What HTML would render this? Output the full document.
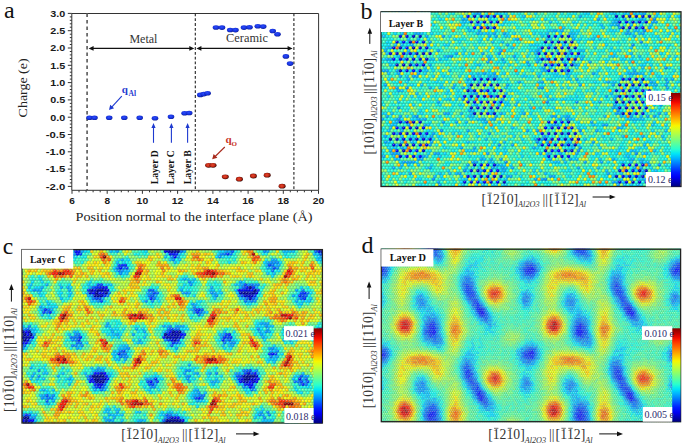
<!DOCTYPE html>
<html><head><meta charset="utf-8"><style>
html,body{margin:0;padding:0;background:#fff;width:685px;height:446px;overflow:hidden}
svg{display:block}
</style></head><body>
<svg width="685" height="446" viewBox="0 0 685 446">
<text x="4" y="18.4" font-family="Liberation Serif" font-size="24" fill="#111">a</text>
<g stroke="#333" stroke-width="1" fill="none">
<path d="M71.8 13.5H318.6V190.3H71.8Z"/>
<path d="M67.8 13.4H71.8 M69.8 16.9H71.8 M69.8 20.3H71.8 M69.8 23.8H71.8 M69.8 27.2H71.8 M67.8 30.7H71.8 M69.8 34.2H71.8 M69.8 37.6H71.8 M69.8 41.1H71.8 M69.8 44.5H71.8 M67.8 48.0H71.8 M69.8 51.5H71.8 M69.8 54.9H71.8 M69.8 58.4H71.8 M69.8 61.8H71.8 M67.8 65.3H71.8 M69.8 68.8H71.8 M69.8 72.2H71.8 M69.8 75.7H71.8 M69.8 79.1H71.8 M67.8 82.6H71.8 M69.8 86.1H71.8 M69.8 89.5H71.8 M69.8 93.0H71.8 M69.8 96.4H71.8 M67.8 99.9H71.8 M69.8 103.4H71.8 M69.8 106.8H71.8 M69.8 110.3H71.8 M69.8 113.7H71.8 M67.8 117.2H71.8 M69.8 120.7H71.8 M69.8 124.1H71.8 M69.8 127.6H71.8 M69.8 131.0H71.8 M67.8 134.5H71.8 M69.8 138.0H71.8 M69.8 141.4H71.8 M69.8 144.9H71.8 M69.8 148.3H71.8 M67.8 151.8H71.8 M69.8 155.3H71.8 M69.8 158.7H71.8 M69.8 162.2H71.8 M69.8 165.6H71.8 M67.8 169.1H71.8 M69.8 172.6H71.8 M69.8 176.0H71.8 M69.8 179.5H71.8 M69.8 182.9H71.8 M67.8 186.4H71.8"/>
<path d="M72.0 190.3V193.8 M79.0 190.3V192.3 M86.1 190.3V192.3 M93.1 190.3V192.3 M100.2 190.3V192.3 M107.2 190.3V193.8 M114.3 190.3V192.3 M121.3 190.3V192.3 M128.3 190.3V192.3 M135.4 190.3V192.3 M142.4 190.3V193.8 M149.5 190.3V192.3 M156.5 190.3V192.3 M163.6 190.3V192.3 M170.6 190.3V192.3 M177.6 190.3V193.8 M184.7 190.3V192.3 M191.7 190.3V192.3 M198.8 190.3V192.3 M205.8 190.3V192.3 M212.9 190.3V193.8 M219.9 190.3V192.3 M226.9 190.3V192.3 M234.0 190.3V192.3 M241.0 190.3V192.3 M248.1 190.3V193.8 M255.1 190.3V192.3 M262.2 190.3V192.3 M269.2 190.3V192.3 M276.2 190.3V192.3 M283.3 190.3V193.8 M290.3 190.3V192.3 M297.4 190.3V192.3 M304.4 190.3V192.3 M311.5 190.3V192.3 M318.5 190.3V193.8"/>
</g>
<g font-family="Liberation Sans" font-weight="bold" font-size="9.4" fill="#1a1a1a">
<text x="50.3" y="16.7" textLength="15" lengthAdjust="spacingAndGlyphs">3.0</text>
<text x="50.3" y="34.0" textLength="15" lengthAdjust="spacingAndGlyphs">2.5</text>
<text x="50.3" y="51.3" textLength="15" lengthAdjust="spacingAndGlyphs">2.0</text>
<text x="50.3" y="68.6" textLength="15" lengthAdjust="spacingAndGlyphs">1.5</text>
<text x="50.3" y="85.9" textLength="15" lengthAdjust="spacingAndGlyphs">1.0</text>
<text x="50.3" y="103.2" textLength="15" lengthAdjust="spacingAndGlyphs">0.5</text>
<text x="50.3" y="120.5" textLength="15" lengthAdjust="spacingAndGlyphs">0.0</text>
<text x="45.8" y="137.8" textLength="19.5" lengthAdjust="spacingAndGlyphs">-0.5</text>
<text x="45.8" y="155.1" textLength="19.5" lengthAdjust="spacingAndGlyphs">-1.0</text>
<text x="45.8" y="172.4" textLength="19.5" lengthAdjust="spacingAndGlyphs">-1.5</text>
<text x="45.8" y="189.7" textLength="19.5" lengthAdjust="spacingAndGlyphs">-2.0</text>
</g>
<g font-family="Liberation Sans" font-weight="bold" font-size="9.4" fill="#1a1a1a">
<text x="69.2" y="204" textLength="5.6" lengthAdjust="spacingAndGlyphs">6</text>
<text x="104.4" y="204" textLength="5.6" lengthAdjust="spacingAndGlyphs">8</text>
<text x="136.6" y="204" textLength="11.6" lengthAdjust="spacingAndGlyphs">10</text>
<text x="171.8" y="204" textLength="11.6" lengthAdjust="spacingAndGlyphs">12</text>
<text x="207.1" y="204" textLength="11.6" lengthAdjust="spacingAndGlyphs">14</text>
<text x="242.3" y="204" textLength="11.6" lengthAdjust="spacingAndGlyphs">16</text>
<text x="277.5" y="204" textLength="11.6" lengthAdjust="spacingAndGlyphs">18</text>
<text x="312.7" y="204" textLength="11.6" lengthAdjust="spacingAndGlyphs">20</text>
</g>
<text x="75.5" y="220.6" font-family="Liberation Serif" font-size="12" fill="#222" textLength="237" lengthAdjust="spacingAndGlyphs">Position normal to the interface plane (&#197;)</text>
<text transform="translate(26.6 117.4) rotate(-90)" font-family="Liberation Serif" font-size="12.5" fill="#222" textLength="59" lengthAdjust="spacingAndGlyphs">Charge (e)</text>
<path d="M87.1 13.5V190" stroke="#6a6a6a" stroke-width="1.8" stroke-dasharray="3.6 2.9"/>
<path d="M195.3 13.5V190M293.9 13.5V190" stroke="#222" stroke-width="1.1" stroke-dasharray="2.8 2"/>
<path d="M92.6 48.4H190.3" stroke="#111" stroke-width="1.2"/><path d="M88.6 48.4l5 -2.3v4.6z M194.3 48.4l-5 -2.3v4.6z" fill="#111"/>
<path d="M200.4 48.4H288.6" stroke="#111" stroke-width="1.2"/><path d="M196.4 48.4l5 -2.3v4.6z M292.6 48.4l-5 -2.3v4.6z" fill="#111"/>
<text x="129.4" y="42.8" font-family="Liberation Serif" font-size="12" fill="#333" textLength="28" lengthAdjust="spacingAndGlyphs">Metal</text>
<text x="226.1" y="41.5" font-family="Liberation Serif" font-size="12" fill="#333" textLength="41.8" lengthAdjust="spacingAndGlyphs">Ceramic</text>
<defs><radialGradient id="gb" cx="0.45" cy="0.4" r="0.6"><stop offset="0" stop-color="#2a4cff"/><stop offset="0.7" stop-color="#1530d8"/><stop offset="1" stop-color="#0a1a90"/></radialGradient><radialGradient id="shd" cx="0.4" cy="0.35" r="0.65"><stop offset="0" stop-color="#fff" stop-opacity="0.5"/><stop offset="0.45" stop-color="#fff" stop-opacity="0"/><stop offset="0.8" stop-color="#000" stop-opacity="0.08"/><stop offset="1" stop-color="#000" stop-opacity="0.28"/></radialGradient><radialGradient id="gr" cx="0.45" cy="0.45" r="0.6"><stop offset="0" stop-color="#e84a30"/><stop offset="0.55" stop-color="#c02814"/><stop offset="0.85" stop-color="#5a0c04"/><stop offset="1" stop-color="#1a0200"/></radialGradient></defs>
<ellipse cx="89.5" cy="117.8" rx="3.3" ry="2.3" fill="url(#gb)"/>
<ellipse cx="94.5" cy="117.8" rx="3.3" ry="2.3" fill="url(#gb)"/>
<ellipse cx="109.2" cy="117.8" rx="3.3" ry="2.3" fill="url(#gb)"/>
<ellipse cx="124.3" cy="117.8" rx="3.3" ry="2.3" fill="url(#gb)"/>
<ellipse cx="139.7" cy="117.8" rx="3.3" ry="2.3" fill="url(#gb)"/>
<ellipse cx="155" cy="118.3" rx="3.3" ry="2.3" fill="url(#gb)"/>
<ellipse cx="171" cy="116.8" rx="3.3" ry="2.3" fill="url(#gb)"/>
<ellipse cx="184.6" cy="113.2" rx="3.3" ry="2.3" fill="url(#gb)"/>
<ellipse cx="189.2" cy="113.0" rx="3.3" ry="2.3" fill="url(#gb)"/>
<ellipse cx="200.3" cy="94.9" rx="3.3" ry="2.3" fill="url(#gb)"/>
<ellipse cx="203.8" cy="94.1" rx="3.3" ry="2.3" fill="url(#gb)"/>
<ellipse cx="207.6" cy="93.2" rx="3.3" ry="2.3" fill="url(#gb)"/>
<ellipse cx="216" cy="27.5" rx="3.3" ry="2.3" fill="url(#gb)"/>
<ellipse cx="222" cy="27.6" rx="3.3" ry="2.3" fill="url(#gb)"/>
<ellipse cx="230.2" cy="30" rx="3.3" ry="2.3" fill="url(#gb)"/>
<ellipse cx="235.5" cy="30.1" rx="3.3" ry="2.3" fill="url(#gb)"/>
<ellipse cx="244" cy="27.6" rx="3.3" ry="2.3" fill="url(#gb)"/>
<ellipse cx="249.5" cy="27.3" rx="3.3" ry="2.3" fill="url(#gb)"/>
<ellipse cx="257.8" cy="26.2" rx="3.3" ry="2.3" fill="url(#gb)"/>
<ellipse cx="263.2" cy="26.6" rx="3.3" ry="2.3" fill="url(#gb)"/>
<ellipse cx="272.7" cy="31" rx="3.3" ry="2.3" fill="url(#gb)"/>
<ellipse cx="277.5" cy="34.3" rx="3.3" ry="2.3" fill="url(#gb)"/>
<ellipse cx="285.9" cy="56.4" rx="3.3" ry="2.3" fill="url(#gb)"/>
<ellipse cx="290.1" cy="63.6" rx="3.3" ry="2.3" fill="url(#gb)"/>
<ellipse cx="208.6" cy="165.3" rx="3.5" ry="2.4" fill="url(#gr)"/>
<ellipse cx="213" cy="165.3" rx="3.5" ry="2.4" fill="url(#gr)"/>
<ellipse cx="225.3" cy="176.8" rx="3.5" ry="2.4" fill="url(#gr)"/>
<ellipse cx="239.4" cy="179.2" rx="3.5" ry="2.4" fill="url(#gr)"/>
<ellipse cx="253.4" cy="176" rx="3.5" ry="2.4" fill="url(#gr)"/>
<ellipse cx="267.2" cy="175.2" rx="3.5" ry="2.4" fill="url(#gr)"/>
<ellipse cx="282.1" cy="186.2" rx="3.5" ry="2.4" fill="url(#gr)"/>
<text x="121.8" y="93.2" font-family="Liberation Serif" font-weight="bold" font-size="11" fill="#1e3ad0">q</text>
<text x="128.6" y="95.7" font-family="Liberation Serif" font-weight="bold" font-size="7.5" fill="#1e3ad0" textLength="7.5" lengthAdjust="spacingAndGlyphs">Al</text>
<path d="M121.8 96.2L111.5 107.3" stroke="#1e3ad0" stroke-width="1.1"/><path d="M109 110l1.2 -5.3l3.9 3.6z" fill="#1e3ad0"/>
<text x="225.4" y="143.2" font-family="Liberation Serif" font-weight="bold" font-size="11" fill="#c8341f">q</text>
<text x="231.6" y="145.8" font-family="Liberation Serif" font-weight="bold" font-size="7" fill="#c8341f">O</text>
<path d="M224.8 147L214.6 157" stroke="#a82a1c" stroke-width="1.1"/><path d="M212.2 159.3l1.4 -5.3l3.8 3.7z" fill="#a82a1c"/>
<path d="M153.5 142.8V127" stroke="#1e3ad0" stroke-width="1.1"/><path d="M153.5 123l-2.1 5h4.2z" fill="#1e3ad0"/>
<path d="M171.4 142.8V127" stroke="#1e3ad0" stroke-width="1.1"/><path d="M171.4 123l-2.1 5h4.2z" fill="#1e3ad0"/>
<path d="M187.6 142.8V127" stroke="#1e3ad0" stroke-width="1.1"/><path d="M187.6 123l-2.1 5h4.2z" fill="#1e3ad0"/>
<text transform="translate(157.8 184.3) rotate(-90)" font-family="Liberation Serif" font-weight="bold" font-size="10.5" fill="#111" textLength="34" lengthAdjust="spacingAndGlyphs">Layer D</text>
<text transform="translate(173.7 184.3) rotate(-90)" font-family="Liberation Serif" font-weight="bold" font-size="10.5" fill="#111" textLength="34" lengthAdjust="spacingAndGlyphs">Layer C</text>
<text transform="translate(190.6 184.3) rotate(-90)" font-family="Liberation Serif" font-weight="bold" font-size="10.5" fill="#111" textLength="34" lengthAdjust="spacingAndGlyphs">Layer B</text>
<defs><clipPath id="clipb"><rect x="381" y="11.200000000000001" width="300" height="175.89999999999998"/></clipPath></defs><rect x="381" y="11.8" width="300" height="174.7" fill="#4cb8a8"/><g clip-path="url(#clipb)"><g fill="none" stroke-linecap="round" stroke-width="3.24"><path stroke="#0000c8" d="M491.1 10.6h0m6.6 0h0m6.6 0h0m122.1 0h0m13.2 0h0m13.2 0h0m-178.2 5.7h0m26.4 0h0m115.5 0h0m6.6 0h0m6.6 0h0m6.6 0h0m13.2 0h0m-165 5.7h0m13.2 0h0m135.3 0h0m-145.2 5.7h0m6.6 0h0m128.7 0h0m-209.5 8.6h0m6.6 0h0m128.6 0h0m13.2 0h0m-151.7 5.7h0m135.3 0h0m13.1 0h0m6.6 0h0m6.6 0h0m-171.5 5.8h0m13.2 0h0m128.6 0h0m13.2 0h0m13.2 0h0m6.6 0h0m-178.2 5.7h0m19.9 0h0m6.6 0h0m6.6 0h0m115.5 0h0m13.1 0h0m6.6 0h0m-138.5 5.7h0m128.6 0h0m6.6 0h0m6.6 0h0m6.6 0h0m-178.2 5.7h0m6.7 0h0m6.6 0h0m148.4 0h0m13.2 0h0m-171.5 5.7h0m161.6 0h0m-74.2 8.6h0m6.6 0h0m141.9 0h0m6.6 0h0m-171.6 5.7h0m6.6 0h0m13.2 0h0m6.6 0h0m122.1 0h0m6.6 0h0m6.6 0h0m6.6 0h0m6.6 0h0m-178.2 5.7h0m13.2 0h0m13.2 0h0m6.6 0h0m115.5 0h0m13.2 0h0m-158.4 5.7h0m13.2 0h0m135.3 0h0m6.6 0h0m-9.9 5.8h0m6.6 0h0m6.6 0h0m19.8 0h0m-178.2 5.7h0m13.2 0h0m6.6 0h0m128.7 0h0m19.8 0h0m-165 5.7h0m6.6 0h0m13.2 0h0m128.7 0h0m6.6 0h0m-216.1 8.6h0m155 0h0m-151.7 5.7h0m148.4 0h0m-158.3 5.7h0m148.4 0h0m6.6 0h0m6.6 0h0m6.6 0h0m-184.8 5.7h0m6.6 0h0m19.9 0h0m148.4 0h0m13.2 0h0m-178.1 5.7h0m155 0h0m19.8 0h0m-171.5 5.7h0m19.8 0h0m122.1 0h0m19.7 0h0m6.6 0h0m-171.5 5.8h0m74.2 8.5h0m3.3 5.7h0m161.7 0h0m6.6 0h0m-165 5.8h0m6.6 0h0m6.6 0h0m6.6 0h0m115.5 0h0m13.2 0h0m13.2 0h0m6.6 0h0m-145.2 5.7h0m128.7 0h0m-165 5.7h0m13.2 0h0m6.6 0h0m128.7 0h0m6.6 0h0m26.4 0h0"/><path stroke="#0000e5" d="M464.7 10.6h0m19.8 0h0m148.5 0h0m13.2 0h0m-165 5.7h0m6.6 0h0m6.6 0h0m148.5 0h0m-171.6 5.7h0m6.6 0h0m13.2 0h0m128.7 0h0m19.8 0h0m6.6 0h0m-165 5.7h0m148.5 0h0m6.6 0h0m6.6 0h0m-242.5 8.6h0m6.6 0h0m148.4 0h0m13.2 0h0m-171.6 5.7h0m26.5 0h0m128.6 0h0m-158.3 5.8h0m26.4 0h0m6.6 0h0m122 0h0m-158.4 5.7h0m13.3 0h0m6.6 0h0m128.7 0h0m13.1 0h0m26.4 0h0m-171.5 5.7h0m6.6 0h0m6.6 0h0m122 0h0m6.6 0h0m-131.9 5.7h0m6.6 0h0m141.8 0h0m-158.3 5.7h0m13.2 0h0m128.6 0h0m6.6 0h0m13.2 0h0m-94 8.6h0m6.6 0h0m141.9 0h0m6.6 0h0m-145.2 5.7h0m-9.9 5.7h0m174.9 0h0m-184.8 5.7h0m33 0h0m6.6 0h0m128.7 0h0m6.6 0h0m6.6 0h0m6.6 0h0m-184.8 5.8h0m19.8 0h0m155.1 0h0m-165 5.7h0m19.8 0h0m128.7 0h0m6.6 0h0m13.2 0h0m-9.9 5.7h0m6.6 0h0m-242.5 8.6h0m6.6 0h0m13.2 0h0m128.6 0h0m6.6 0h0m-151.7 5.7h0m6.6 0h0m141.8 0h0m6.6 0h0m13.2 0h0m-178.1 5.7h0m6.6 0h0m19.8 0h0m-16.5 5.7h0m6.6 0h0m13.2 0h0m6.6 0h0m108.9 0h0m6.6 0h0m6.5 0h0m19.8 0h0m-178.1 5.7h0m13.2 0h0m6.6 0h0m6.6 0h0m6.6 0h0m115.4 0h0m19.8 0h0m6.6 0h0m-158.3 5.7h0m3.3 5.8h0m135.2 0h0m6.6 0h0m6.6 0h0m-80.8 8.5h0m13.2 0h0m128.7 0h0m19.8 0h0m-171.6 5.7h0m13.2 0h0m135.3 0h0m6.6 0h0m6.6 0h0m-165 5.8h0m6.6 0h0m148.5 0h0m13.2 0h0m-171.6 5.7h0m6.6 0h0m19.8 0h0m128.7 0h0m6.6 0h0m13.2 0h0m6.6 0h0m6.6 0h0m-178.2 5.7h0m19.8 0h0m6.6 0h0m128.7 0h0m6.6 0h0m6.6 0h0"/><path stroke="#0000ff" d="M471.3 10.6h0m6.6 0h0m141.9 0h0m-151.8 5.7h0m158.4 5.7h0m-151.8 5.7h0m-70.9 14.3h0m13.2 0h0m-9.9 5.8h0m155 0h0m9.9 5.7h0m-178.1 5.7h0m6.6 0h0m145.2 5.7h0m6.5 0h0m-138.5 5.7h0m74.2 20h0m135.3 0h0m13.2 0h0m6.6 0h0m-165 5.7h0m13.2 0h0m-16.5 5.8h0m6.6 0h0m13.2 0h0m6.6 0h0m135.3 0h0m-148.5 11.4h0m74.2 8.6h0m-165 5.7h0m26.5 0h0m122.1 0h0m-132 5.7h0m13.2 0h0m115.4 0h0m6.6 0h0m9.9 5.7h0m-9.9 5.7h0m-151.8 5.7h0m19.9 0h0m135.2 0h0m6.6 0h0m-151.7 5.8h0m13.2 0h0m148.4 0h0m-80.8 8.5h0m141.9 0h0m6.6 0h0m-145.2 5.7h0m6.6 0h0m-19.8 11.5h0m6.6 0h0m13.2 0h0"/><path stroke="#008cff" d="M415.2 10.6h0m239.2 8.6h0m-36.3 5.7h0m1.7 2.8h0m24.7 2.9h0m-3.3 11.4h0m-8.2 2.9h0m-133.6 8.6h0m-47.9 2.8h0m214.5 11.5h0m-259 20h0m135.2 0h0m125.4 5.7h0m-204.5 5.7h0m84.1 2.9h0m29.7 0h0m-178.2 5.7h0m219.4 2.8h0m-201.2 5.7h0m-18.2 2.9h0m168.3 0h0m-125.4 11.4h0m138.6 0h0m-42.9 11.5h0m-37.9 2.8h0m80.8 2.9h0m-1.7 2.8h0m57.8 2.9h0m-130.3 8.6h0m153.4 2.8h0m-194.7 5.7h0m-31.3 8.6h0m112.2 0h0"/><path stroke="#00a6ff" d="M583.5 10.6h0m29.7 0h0m46.2 0h0m-183.1 2.9h0m3.3 0h0m164.9 0h0m-160 2.8h0m23.1 0h0m72.6 0h0m-169.9 2.9h0m52.8 0h0m135.2 0h0m26.4 0h0m16.5 0h0m-249.1 2.8h0m6.6 0h0m217.8 0h0m36.3 0h0m3.3 0h0m-252.4 2.9h0m87.4 2.8h0m148.5 0h0m9.9 0h0m-255.7 2.9h0m85.8 0h0m75.8 0h0m6.6 0h0m66 0h0m-212.8 2.9h0m3.3 0h0m59.4 0h0m16.5 0h0m9.9 0h0m122.1 0h0m3.3 0h0m13.2 0h0m-216.1 2.8h0m16.5 0h0m46.2 0h0m6.6 0h0m138.5 0h0m-216.1 2.9h0m99 0h0m29.7 0h0m26.4 0h0m-143.5 2.8h0m-18.2 2.9h0m95.7 0h0m-117.2 2.9h0m-4.9 2.8h0m52.8 0h0m62.7 0h0m36.3 0h0m33 0h0m-163.3 2.9h0m49.5 0h0m26.4 0h0m-34.7 2.8h0m66 0h0m62.7 0h0m-189.7 2.9h0m3.2 0h0m13.3 0h0m85.8 0h0m13.2 0h0m36.3 0h0m6.6 0h0m36.2 0h0m-94 2.8h0m39.6 0h0m9.9 0h0m52.8 0h0m-160 2.9h0m99 0h0m46.1 0h0m-31.3 2.9h0m-160.1 2.8h0m3.4 0h0m9.8 0h0m148.6 0h0m19.7 0h0m69.3 0h0m-235.9 2.9h0m19.8 0h0m66 0h0m9.9 0h0m72.6 0h0m26.4 0h0m36.3 0h0m3.3 0h0m3.3 0h0m-235.9 2.8h0m13.2 0h0m3.3 0h0m56.1 0h0m16.5 0h0m6.6 0h0m42.9 0h0m-130.4 2.9h0m59.4 0h0m108.9 0h0m49.5 0h0m39.6 0h0m6.6 0h0m-193 2.8h0m39.6 0h0m23 0h0m66 0h0m33 0h0m9.9 0h0m16.5 0h0m-282.1 2.9h0m122.1 0h0m72.6 0h0m33 0h0m42.9 0h0m9.9 0h0m-269 2.9h0m33.1 0h0m23.1 0h0m9.9 0h0m6.6 0h0m69.3 0h0m128.6 0h0m-268.9 2.8h0m72.6 0h0m13.2 0h0m-8.2 2.9h0m18.1 2.8h0m112.2 0h0m9.9 0h0m13.2 0h0m-127 2.9h0m112.1 0h0m-176.5 2.9h0m161.7 0h0m52.8 0h0m3.3 0h0m-179.8 2.8h0m23.1 0h0m115.4 0h0m46.2 0h0m-47.8 2.9h0m-143.5 2.8h0m-24.8 2.9h0m3.3 0h0m42.9 0h0m9.9 0h0m23.1 0h0m92.4 0h0m3.3 0h0m39.6 0h0m-272.2 2.8h0m13.2 0h0m95.7 0h0m56 0h0m3.3 0h0m13.2 0h0m62.7 0h0m16.5 0h0m6.6 0h0m-272.2 2.9h0m36.3 0h0m6.6 0h0m59.4 0h0m9.9 0h0m66 0h0m-163.4 2.9h0m6.7 0h0m39.6 0h0m13.2 0h0m29.7 0h0m105.5 0h0m-183.1 2.8h0m16.5 0h0m128.7 0h0m3.3 0h0m46.2 0h0m3.3 0h0m11.5 2.9h0m-216.1 2.8h0m66 0h0m59.4 0h0m9.9 0h0m59.4 0h0m-199.7 2.9h0m36.4 0h0m56.1 0h0m-104 2.8h0m36.3 0h0m9.9 0h0m112.2 0h0m99 0h0m-107.2 2.9h0m6.5 0h0m-156.7 2.9h0m46.2 0h0m115.5 0h0m46.2 0h0m-196.4 2.8h0m33.1 0h0m82.5 0h0m52.7 0h0m-163.3 2.9h0m59.4 0h0m13.2 0h0m59.4 0h0m-143.6 2.8h0m178.2 0h0m-176.5 2.9h0m3.3 0h0m3.3 0h0m36.3 0h0m3.3 0h0m49.5 0h0m52.8 0h0m19.8 0h0m16.5 0h0m-193.1 2.9h0m39.7 0h0m-5 2.8h0m3.3 0h0m59.4 0h0m9.9 0h0m9.9 0h0m49.5 0h0m19.8 0h0m42.9 0h0m19.8 0h0m-229.3 2.9h0m3.3 0h0m3.3 0h0m3.3 0h0m59.4 0h0m3.3 0h0m108.8 0h0m16.5 0h0m39.6 0h0m-173.2 2.8h0m29.7 0h0m151.8 0h0m-255.7 2.9h0m36.3 0h0m62.7 0h0m9.9 0h0m9.9 0h0m65.9 0h0m56.1 0h0m6.6 0h0m-160 2.8h0m23.1 0h0m138.6 0h0m-232.6 2.9h0m49.5 0h0m148.4 0h0m36.3 0h0m-136.9 2.9h0m3.3 0h0m39.6 0h0m3.3 0h0m72.6 0h0m13.2 0h0m-103.9 2.8h0m6.5 0h0m102.3 0h0m13.2 0h0m-219.4 2.9h0m174.9 0h0m3.3 0h0m-176.5 2.8h0m178.1 0h0m19.8 0h0m19.8 0h0m-202.9 2.9h0m23.1 0h0m29.7 0h0m118.8 0h0"/><path stroke="#00bfff" d="M494.4 10.6h0m105.6 0h0m9.9 0h0m19.8 0h0m49.5 0h0m-292 2.9h0m108.9 0h0m118.7 0h0m9.9 0h0m9.9 0h0m6.6 0h0m-150.1 2.8h0m33 0h0m132 0h0m13.2 0h0m9.9 0h0m-212.8 2.9h0m23.1 0h0m16.5 0h0m108.8 0h0m3.3 0h0m26.4 0h0m-179.8 2.8h0m85.8 0h0m62.7 0h0m16.5 0h0m6.6 0h0m6.6 0h0m-166.6 2.9h0m3.3 0h0m122 0h0m9.9 0h0m3.3 0h0m16.5 0h0m19.8 0h0m-183.1 2.8h0m95.7 0h0m39.6 0h0m-202.9 2.9h0m16.5 0h0m52.8 0h0m82.4 0h0m82.5 0h0m3.3 0h0m-235.9 2.9h0m19.8 0h0m59.4 0h0m6.6 0h0m59.4 0h0m23.1 0h0m3.3 0h0m66 0h0m-255.8 2.8h0m122.2 0h0m36.2 0h0m29.7 0h0m-163.3 2.9h0m141.9 0h0m42.9 0h0m6.6 0h0m-107.2 2.8h0m9.9 0h0m-107.3 2.9h0m6.6 0h0m148.5 0h0m13.2 0h0m-176.5 2.9h0m125.4 0h0m26.4 0h0m92.3 0h0m-222.7 2.8h0m16.5 0h0m115.5 0h0m16.5 0h0m23.1 0h0m3.3 0h0m-196.3 2.9h0m26.4 0h0m122.1 0h0m32.9 0h0m62.7 0h0m-232.6 2.8h0m19.8 0h0m26.4 0h0m42.9 0h0m79.2 0h0m16.5 0h0m29.7 0h0m26.4 0h0m-209.5 2.9h0m3.3 0h0m6.6 0h0m64.3 2.8h0m59.4 0h0m9.9 0h0m-183.2 2.9h0m23.2 0h0m6.6 0h0m59.4 0h0m69.2 0h0m6.6 0h0m23.1 0h0m-153.4 2.9h0m125.4 0h0m16.5 0h0m75.9 0h0m-216.1 2.8h0m23.1 0h0m92.3 0h0m108.9 0h0m-262.3 2.9h0m89.1 0h0m161.7 0h0m3.3 0h0m-235.9 2.8h0m72.6 0h0m13.2 0h0m75.8 0h0m52.8 0h0m-130.3 2.9h0m6.6 0h0m151.8 0h0m-110.5 2.8h0m75.8 0h0m16.5 0h0m23.1 0h0m-232.6 2.9h0m33 0h0m13.2 0h0m184.8 0h0m-212.8 2.9h0m52.8 0h0m13.2 0h0m125.3 0h0m3.3 0h0m3.3 0h0m-235.9 2.8h0m244.2 0h0m9.9 0h0m-239.2 2.9h0m56.1 0h0m16.5 0h0m16.5 0h0m105.5 0h0m-64.3 2.8h0m-97.3 2.9h0m19.8 0h0m82.4 0h0m69.3 0h0m19.8 0h0m26.4 0h0m9.9 0h0m-278.8 2.9h0m118.8 0h0m141.9 0h0m13.2 0h0m-156.7 2.8h0m108.8 0h0m49.5 0h0m-143.5 2.9h0m9.9 0h0m75.9 0h0m-143.5 2.8h0m19.8 0h0m158.3 0h0m-259 2.9h0m69.3 0h0m9.9 0h0m161.7 0h0m33 0h0m-252.4 2.8h0m56.1 0h0m3.3 0h0m92.3 0h0m39.6 0h0m16.5 0h0m19.8 0h0m-245.8 2.9h0m26.4 0h0m56.1 0h0m3.3 0h0m9.9 0h0m79.2 0h0m59.4 0h0m3.3 0h0m3.3 0h0m3.3 0h0m3.3 0h0m-176.5 2.9h0m-74.3 2.8h0m3.3 0h0m33 0h0m122.1 0h0m42.9 0h0m29.7 0h0m29.7 0h0m29.7 0h0m-292.1 2.9h0m10 0h0m112.2 0h0m65.9 0h0m42.9 0h0m-232.6 2.8h0m277.2 0h0m-100.7 2.9h0m-163.3 2.8h0m23.1 0h0m122.1 0h0m75.9 0h0m39.6 0h0m-249.1 2.9h0m13.2 0h0m59.4 0h0m98.9 0h0m26.4 0h0m-222.7 2.9h0m13.2 0h0m9.9 0h0m56.1 0h0m36.3 0h0m62.7 0h0m3.3 0h0m-31.3 2.8h0m32.9 0h0m72.6 0h0m-249.1 2.9h0m178.2 0h0m-100.6 2.8h0m82.4 0h0m75.9 0h0m3.3 0h0m19.8 0h0m-107.2 2.9h0m3.3 0h0m95.7 0h0m29.7 0h0m-282.1 2.9h0m23.1 0h0m9.9 0h0m13.2 0h0m188 0h0m-232.6 2.8h0m3.3 0h0m85.8 0h0m92.4 0h0m23.1 0h0m29.7 0h0m13.2 0h0m-153.4 2.9h0m3.3 0h0m62.6 0h0m3.3 0h0m6.6 0h0m66 0h0m16.5 0h0m-245.8 2.8h0m6.6 0h0m9.9 0h0m82.5 0h0m-100.6 2.9h0m66 0h0m13.2 0h0m16.5 0h0m9.9 0h0m92.3 0h0m72.6 0h0m-169.9 2.8h0m105.6 0h0m49.5 0h0m-216.1 2.9h0m9.9 0h0m6.6 0h0m23.1 0h0m9.9 0h0m56.1 0h0m75.8 0h0m29.7 0h0m3.3 0h0m-219.4 2.9h0m26.4 0h0m9.9 0h0m141.9 0h0m19.8 0h0m26.4 0h0m-193 2.8h0m33 0h0m6.6 0h0m115.4 0h0m9.9 0h0m9.9 0h0m13.2 0h0m-173.2 2.9h0m141.9 0h0m52.8 0h0m-212.8 2.8h0m19.8 0h0m23.1 0h0m118.7 0h0m6.6 0h0m-18.1 2.9h0m33 0h0m9.9 0h0"/><path stroke="#00d9ff" d="M398.7 10.6h0m23.1 0h0m99 0h0m26.4 0h0m13.2 0h0m3.3 0h0m3.3 0h0m19.8 0h0m9.9 0h0m-212.9 2.9h0m89.2 0h0m26.4 0h0m6.6 0h0m29.7 0h0m49.4 0h0m3.3 0h0m23.1 0h0m16.5 0h0m9.9 0h0m19.8 0h0m-275.5 2.8h0m16.5 0h0m62.7 0h0m145.2 0h0m75.9 0h0m-288.7 2.9h0m46.2 0h0m92.4 0h0m13.2 0h0m92.3 0h0m29.7 0h0m-239.2 2.8h0m33 0h0m6.6 0h0m13.2 0h0m23.1 0h0m69.3 0h0m-146.8 2.9h0m6.6 0h0m29.7 0h0m39.6 0h0m138.5 0h0m-245.8 2.8h0m273.9 0h0m-282.1 2.9h0m16.5 0h0m9.9 0h0m16.5 0h0m42.9 0h0m23.1 0h0m52.7 0h0m9.9 0h0m13.2 0h0m6.6 0h0m33 0h0m3.3 0h0m59.4 0h0m-278.8 2.9h0m36.3 0h0m52.8 0h0m6.6 0h0m16.5 0h0m6.6 0h0m19.8 0h0m6.6 0h0m19.8 0h0m16.5 0h0m56.1 0h0m36.3 0h0m-219.4 2.8h0m59.4 0h0m65.9 0h0m19.8 0h0m49.5 0h0m13.2 0h0m-229.3 2.9h0m26.4 0h0m26.4 0h0m6.6 0h0m26.4 0h0m66 0h0m9.9 0h0m69.3 0h0m-272.2 2.8h0m13.2 0h0m6.6 0h0m52.8 0h0m19.8 0h0m82.4 0h0m16.5 0h0m39.6 0h0m-229.3 2.9h0m19.8 0h0m19.8 0h0m16.5 0h0m3.3 0h0m82.5 0h0m3.3 0h0m3.3 0h0m69.3 0h0m39.6 0h0m23.1 0h0m-265.6 2.9h0m26.4 0h0m69.3 0h0m52.7 0h0m42.9 0h0m16.5 0h0m56.1 0h0m-202.9 2.8h0m66 0h0m3.3 0h0m85.8 0h0m-156.7 2.9h0m151.7 0h0m46.2 0h0m-249.1 2.8h0m79.2 0h0m36.3 0h0m9.9 0h0m42.9 0h0m29.7 0h0m6.6 0h0m16.5 0h0m36.3 0h0m6.6 0h0m-292.1 2.9h0m62.8 0h0m69.3 0h0m19.8 0h0m85.7 0h0m3.3 0h0m6.6 0h0m9.9 0h0m-252.4 2.8h0m23.1 0h0m9.9 0h0m75.9 0h0m69.3 0h0m39.6 0h0m6.6 0h0m16.5 0h0m16.5 0h0m-252.4 2.9h0m82.5 0h0m33 0h0m131.9 0h0m3.3 0h0m6.6 0h0m-219.4 2.9h0m29.7 0h0m39.6 0h0m39.6 0h0m36.3 0h0m49.5 0h0m6.6 0h0m36.3 0h0m-265.6 2.8h0m6.6 0h0m6.6 0h0m6.6 0h0m9.9 0h0m56.1 0h0m42.9 0h0m39.5 0h0m26.4 0h0m29.7 0h0m46.2 0h0m6.6 0h0m-255.7 2.9h0m46.2 0h0m9.9 0h0m6.6 0h0m3.3 0h0m13.2 0h0m13.2 0h0m23.1 0h0m13.2 0h0m3.3 0h0m13.2 0h0m26.4 0h0m29.7 0h0m-193 2.8h0m9.9 0h0m16.5 0h0m62.7 0h0m3.3 0h0m29.6 0h0m3.3 0h0m3.3 0h0m69.3 0h0m13.2 0h0m13.2 0h0m3.3 0h0m-272.2 2.9h0m39.6 0h0m42.9 0h0m29.7 0h0m6.6 0h0m39.6 0h0m3.3 0h0m16.5 0h0m3.3 0h0m49.5 0h0m39.6 0h0m23.1 0h0m-275.5 2.8h0m29.7 0h0m29.7 0h0m3.3 0h0m108.8 0h0m16.5 0h0m9.9 0h0m6.6 0h0m66 0h0m3.3 0h0m-268.9 2.9h0m29.7 0h0m207.9 0h0m-206.2 2.9h0m118.7 0h0m6.6 0h0m39.6 0h0m16.5 0h0m29.7 0h0m19.8 0h0m-226 2.8h0m9.9 0h0m52.8 0h0m82.5 0h0m19.8 0h0m6.6 0h0m46.2 0h0m-219.4 2.9h0m23.1 0h0m174.8 0h0m3.3 0h0m-259 2.8h0m23.1 0h0m6.6 0h0m39.6 0h0m3.3 0h0m115.5 0h0m36.3 0h0m42.9 0h0m16.5 0h0m3.3 0h0m-255.7 2.9h0m26.4 0h0m9.9 0h0m75.9 0h0m16.4 0h0m6.6 0h0m6.6 0h0m3.3 0h0m6.6 0h0m79.2 0h0m6.6 0h0m-160 2.9h0m6.6 0h0m3.3 0h0m85.8 0h0m-179.8 2.8h0m26.4 0h0m19.8 0h0m13.2 0h0m33 0h0m3.3 0h0m39.5 0h0m69.3 0h0m26.4 0h0m9.9 0h0m-100.6 2.9h0m19.8 0h0m23.1 0h0m62.7 0h0m-239.2 2.8h0m62.7 0h0m39.6 0h0m98.9 0h0m23.1 0h0m9.9 0h0m-272.2 2.9h0m3.3 0h0m36.3 0h0m82.5 0h0m16.5 0h0m9.9 0h0m-123.7 2.8h0m33 0h0m122 0h0m62.7 0h0m33 0h0m-255.7 2.9h0m9.9 0h0m3.3 0h0m56.1 0h0m46.2 0h0m39.6 0h0m16.5 0h0m52.8 0h0m-232.6 2.9h0m36.3 0h0m52.8 0h0m16.5 0h0m79.1 0h0m56.1 0h0m19.8 0h0m-94 2.8h0m36.3 0h0m46.2 0h0m23.1 0h0m-183.1 2.9h0m9.9 0h0m56 0h0m36.3 0h0m-156.7 2.8h0m171.6 0h0m52.8 0h0m-229.3 2.9h0m29.7 0h0m6.6 0h0m122 0h0m-169.9 2.8h0m26.4 0h0m39.6 0h0m36.3 0h0m52.8 0h0m36.3 0h0m75.9 0h0m-278.8 2.9h0m19.8 0h0m13.2 0h0m6.6 0h0m82.5 0h0m26.3 0h0m13.2 0h0m6.6 0h0m95.7 0h0m-249.1 2.9h0m79.2 0h0m46.2 0h0m105.6 0h0m3.3 0h0m-262.3 2.8h0m191.3 0h0m13.2 0h0m6.6 0h0m-209.5 2.9h0m3.3 0h0m13.2 0h0m39.6 0h0m52.8 0h0m6.6 0h0m33 0h0m33 0h0m29.7 0h0m19.8 0h0m19.8 0h0m6.6 0h0m-232.6 2.8h0m16.5 0h0m36.3 0h0m3.3 0h0m6.6 0h0m29.7 0h0m105.5 0h0m6.6 0h0m19.8 0h0m-255.7 2.9h0m46.2 0h0m16.5 0h0m59.4 0h0m92.4 0h0m19.8 0h0m9.9 0h0m3.3 0h0m13.2 0h0m-239.2 2.9h0m66 0h0m13.2 0h0m39.6 0h0m23.1 0h0m29.6 0h0m49.5 0h0m-77.5 2.8h0m16.5 0h0m9.9 0h0m42.9 0h0m23.1 0h0m-239.2 2.9h0m16.5 0h0m135.2 0h0m56.1 0h0m13.2 0h0m3.3 0h0m19.8 0h0m36.3 0h0m-249.1 2.8h0m72.6 0h0m6.6 0h0m155.1 0h0m9.9 0h0m-249.1 2.9h0m46.2 0h0m145.1 0h0m33 0h0m23.1 0h0m-226 2.8h0m19.8 0h0m66 0h0m6.6 0h0m29.7 0h0m66 0h0m16.5 0h0m23.1 0h0m-275.5 2.9h0m102.3 0h0m13.2 0h0m79.1 0h0m19.8 0h0m52.8 0h0m-226 2.9h0m79.2 0h0m49.5 0h0m36.3 0h0m62.7 0h0m-252.4 2.8h0m3.3 0h0m23.1 0h0m19.8 0h0m9.9 0h0m6.6 0h0m9.9 0h0m128.6 0h0m19.8 0h0m26.4 0h0m6.6 0h0m-209.5 2.9h0m188.1 0h0m29.7 0h0m-259 2.8h0m72.6 0h0m3.3 0h0m6.6 0h0m19.8 0h0m79.1 0h0m39.6 0h0m-212.8 2.9h0m33 0h0m52.8 0h0m26.4 0h0m62.7 0h0m16.5 0h0"/><path stroke="#0af2ec" d="M382.2 10.6h0m13.2 0h0m9.9 0h0m33 0h0m9.9 0h0m19.8 0h0m13.2 0h0m29.7 0h0m3.3 0h0m9.9 0h0m29.7 0h0m3.3 0h0m16.5 0h0m3.3 0h0m13.2 0h0m79.2 0h0m-268.9 2.9h0m6.6 0h0m23.1 0h0m23.1 0h0m49.5 0h0m9.9 0h0m6.6 0h0m36.2 0h0m6.6 0h0m6.6 0h0m3.3 0h0m3.3 0h0m6.6 0h0m36.3 0h0m-232.6 2.8h0m29.7 0h0m9.9 0h0m13.2 0h0m9.9 0h0m72.6 0h0m33 0h0m13.2 0h0m3.3 0h0m13.2 0h0m3.3 0h0m3.3 0h0m9.9 0h0m59.4 0h0m16.5 0h0m-288.7 2.9h0m9.8 0h0m10 0h0m16.5 0h0m3.3 0h0m6.6 0h0m9.9 0h0m49.5 0h0m3.3 0h0m26.4 0h0m32.9 0h0m23.1 0h0m13.2 0h0m16.5 0h0m3.3 0h0m9.9 0h0m9.9 0h0m49.5 0h0m-265.6 2.8h0m6.6 0h0m29.7 0h0m42.9 0h0m13.2 0h0m3.3 0h0m3.3 0h0m42.9 0h0m19.8 0h0m9.9 0h0m6.6 0h0m3.3 0h0m85.8 0h0m-288.7 2.9h0m23.1 0h0m69.3 0h0m23.1 0h0m19.8 0h0m9.9 0h0m19.7 0h0m23.1 0h0m6.6 0h0m3.3 0h0m6.6 0h0m9.9 0h0m16.5 0h0m-226 2.8h0m3.3 0h0m6.6 0h0m13.2 0h0m23.1 0h0m13.2 0h0m3.3 0h0m56.1 0h0m69.3 0h0m23.1 0h0m69.3 0h0m-295.4 2.9h0m125.5 0h0m26.4 0h0m39.5 0h0m33 0h0m9.9 0h0m23.1 0h0m23.1 0h0m-282.1 2.9h0m3.3 0h0m39.6 0h0m13.2 0h0m36.3 0h0m69.3 0h0m69.3 0h0m9.9 0h0m29.7 0h0m23.1 0h0m6.6 0h0m-295.3 2.8h0m23.1 0h0m69.3 0h0m23.1 0h0m19.8 0h0m6.6 0h0m16.5 0h0m6.5 0h0m6.6 0h0m23.1 0h0m33 0h0m13.2 0h0m3.3 0h0m19.8 0h0m3.3 0h0m13.2 0h0m-278.8 2.9h0m3.3 0h0m66 0h0m3.3 0h0m3.3 0h0m29.7 0h0m82.5 0h0m9.9 0h0m19.8 0h0m16.5 0h0m23.1 0h0m29.7 0h0m-285.5 2.8h0m29.8 0h0m29.7 0h0m49.5 0h0m13.2 0h0m6.6 0h0m23 0h0m42.9 0h0m9.9 0h0m9.9 0h0m6.6 0h0m13.2 0h0m29.7 0h0m23.1 0h0m-295.3 2.9h0m3.3 0h0m19.8 0h0m29.7 0h0m39.6 0h0m66 0h0m3.3 0h0m3.3 0h0m19.8 0h0m52.8 0h0m23.1 0h0m16.5 0h0m-275.6 2.9h0m79.3 0h0m13.2 0h0m13.2 0h0m6.6 0h0m13.2 0h0m19.8 0h0m3.3 0h0m3.3 0h0m69.2 0h0m39.6 0h0m3.3 0h0m6.6 0h0m3.3 0h0m-235.9 2.8h0m19.8 0h0m46.2 0h0m19.8 0h0m3.3 0h0m66 0h0m23.1 0h0m3.3 0h0m6.6 0h0m3.3 0h0m3.3 0h0m-163.3 2.9h0m16.5 0h0m26.4 0h0m19.8 0h0m13.2 0h0m52.7 0h0m9.9 0h0m56.1 0h0m-252.4 2.8h0m59.4 0h0m9.9 0h0m3.3 0h0m13.2 0h0m16.5 0h0m9.9 0h0m9.9 0h0m36.3 0h0m16.5 0h0m3.3 0h0m26.4 0h0m-203 2.9h0m46.3 0h0m49.5 0h0m72.5 0h0m23.1 0h0m9.9 0h0m6.6 0h0m3.3 0h0m26.4 0h0m16.5 0h0m16.5 0h0m6.6 0h0m-292 2.8h0m9.9 0h0m3.3 0h0m3.3 0h0m33 0h0m3.3 0h0m6.6 0h0m16.5 0h0m6.6 0h0m9.9 0h0m26.4 0h0m16.5 0h0m23.1 0h0m75.9 0h0m6.6 0h0m13.2 0h0m13.2 0h0m-202.9 2.9h0m3.3 0h0m46.2 0h0m6.6 0h0m19.8 0h0m3.3 0h0m112.1 0h0m19.8 0h0m-265.6 2.9h0m62.7 0h0m9.9 0h0m6.6 0h0m3.3 0h0m42.9 0h0m3.3 0h0m6.6 0h0m3.3 0h0m56.1 0h0m13.2 0h0m6.6 0h0m3.3 0h0m6.6 0h0m62.7 0h0m-288.8 2.8h0m49.6 0h0m23.1 0h0m145.1 0h0m6.6 0h0m26.4 0h0m3.3 0h0m-249.1 2.9h0m46.2 0h0m19.8 0h0m13.2 0h0m26.4 0h0m23.1 0h0m13.2 0h0m9.9 0h0m3.3 0h0m26.4 0h0m33 0h0m6.6 0h0m33 0h0m6.6 0h0m13.2 0h0m3.3 0h0m6.6 0h0m-288.8 2.8h0m56.2 0h0m3.3 0h0m16.5 0h0m9.9 0h0m52.8 0h0m3.3 0h0m19.7 0h0m13.2 0h0m9.9 0h0m23.1 0h0m69.3 0h0m3.3 0h0m-265.6 2.9h0m13.2 0h0m19.8 0h0m39.6 0h0m6.6 0h0m69.3 0h0m33 0h0m16.5 0h0m36.3 0h0m6.6 0h0m6.6 0h0m16.5 0h0m-275.5 2.8h0m3.2 0h0m29.8 0h0m6.6 0h0m6.6 0h0m3.3 0h0m6.6 0h0m23.1 0h0m26.4 0h0m16.5 0h0m6.6 0h0m39.5 0h0m9.9 0h0m19.8 0h0m6.6 0h0m19.8 0h0m-235.9 2.9h0m19.8 0h0m6.6 0h0m6.6 0h0m13.2 0h0m82.5 0h0m13.2 0h0m16.5 0h0m3.3 0h0m9.9 0h0m69.3 0h0m19.8 0h0m19.8 0h0m-278.9 2.9h0m36.4 0h0m13.2 0h0m23.1 0h0m33 0h0m19.8 0h0m82.4 0h0m3.3 0h0m-199.6 2.8h0m95.7 0h0m23.1 0h0m3.3 0h0m33 0h0m26.4 0h0m3.3 0h0m6.6 0h0m16.5 0h0m36.3 0h0m19.8 0h0m13.2 0h0m6.6 0h0m-285.4 2.9h0m3.2 0h0m26.5 0h0m13.2 0h0m13.2 0h0m6.6 0h0m3.3 0h0m33 0h0m26.4 0h0m19.8 0h0m6.6 0h0m3.2 0h0m26.4 0h0m6.6 0h0m13.2 0h0m6.6 0h0m75.9 0h0m-272.2 2.8h0m16.5 0h0m9.9 0h0m3.3 0h0m33 0h0m39.6 0h0m3.3 0h0m16.5 0h0m42.9 0h0m13.2 0h0m16.5 0h0m23.1 0h0m36.3 0h0m-262.4 2.9h0m6.7 0h0m33 0h0m6.6 0h0m29.7 0h0m6.6 0h0m39.6 0h0m9.9 0h0m39.5 0h0m6.6 0h0m3.3 0h0m3.3 0h0m9.9 0h0m16.5 0h0m26.4 0h0m13.2 0h0m13.2 0h0m-278.8 2.9h0m26.4 0h0m13.2 0h0m3.3 0h0m6.6 0h0m9.9 0h0m9.9 0h0m3.3 0h0m69.3 0h0m9.9 0h0m39.6 0h0m23.1 0h0m16.5 0h0m-229.4 2.8h0m10 0h0m9.9 0h0m33 0h0m16.5 0h0m9.9 0h0m16.5 0h0m49.5 0h0m56 0h0m36.3 0h0m-232.6 2.9h0m13.2 0h0m6.6 0h0m16.5 0h0m19.8 0h0m6.6 0h0m9.9 0h0m42.9 0h0m16.5 0h0m16.5 0h0m9.9 0h0m36.3 0h0m-193.1 2.8h0m16.6 0h0m42.9 0h0m39.6 0h0m19.8 0h0m23.1 0h0m23 0h0m3.3 0h0m26.4 0h0m19.8 0h0m6.6 0h0m49.5 0h0m-249.1 2.9h0m6.6 0h0m33 0h0m115.5 0h0m29.7 0h0m49.5 0h0m9.9 0h0m16.5 0h0m6.6 0h0m-288.8 2.8h0m56.2 0h0m3.3 0h0m16.5 0h0m49.5 0h0m3.3 0h0m13.2 0h0m3.3 0h0m56 0h0m89.1 0h0m-295.3 2.9h0m6.6 0h0m42.9 0h0m16.5 0h0m3.3 0h0m6.6 0h0m13.2 0h0m59.4 0h0m148.5 0h0m-295.3 2.9h0m145.2 0h0m32.9 0h0m33 0h0m3.3 0h0m23.1 0h0m19.8 0h0m-255.7 2.8h0m49.5 0h0m6.6 0h0m3.3 0h0m9.9 0h0m6.6 0h0m19.8 0h0m9.9 0h0m42.9 0h0m9.9 0h0m19.8 0h0m13.2 0h0m3.3 0h0m6.6 0h0m9.9 0h0m56.1 0h0m-272.3 2.9h0m49.6 0h0m46.2 0h0m19.8 0h0m3.3 0h0m13.2 0h0m19.8 0h0m46.1 0h0m16.5 0h0m3.3 0h0m23.1 0h0m13.2 0h0m19.8 0h0m3.3 0h0m6.6 0h0m6.6 0h0m6.6 0h0m-298.6 2.8h0m29.7 0h0m19.8 0h0m23.1 0h0m3.3 0h0m13.2 0h0m13.2 0h0m9.9 0h0m26.4 0h0m9.9 0h0m39.6 0h0m33 0h0m29.7 0h0m-202.9 2.9h0m6.6 0h0m29.7 0h0m9.9 0h0m33 0h0m3.3 0h0m26.4 0h0m72.5 0h0m6.6 0h0m13.2 0h0m6.6 0h0m19.8 0h0m13.2 0h0m-288.7 2.8h0m6.6 0h0m26.4 0h0m13.2 0h0m13.2 0h0m23.1 0h0m39.6 0h0m16.5 0h0m13.2 0h0m19.8 0h0m6.6 0h0m3.3 0h0m26.4 0h0m3.3 0h0m42.9 0h0m9.9 0h0m-262.4 2.9h0m3.4 0h0m66 0h0m39.6 0h0m3.3 0h0m13.2 0h0m23.1 0h0m65.9 0h0m6.6 0h0m19.8 0h0m6.6 0h0m-239.2 2.9h0m49.5 0h0m6.6 0h0m3.3 0h0m6.6 0h0m6.6 0h0m6.6 0h0m3.3 0h0m42.9 0h0m6.6 0h0m33 0h0m26.4 0h0m39.6 0h0m13.2 0h0m23.1 0h0m16.5 0h0m-285.5 2.8h0m46.3 0h0m6.6 0h0m16.5 0h0m26.4 0h0m6.6 0h0m13.2 0h0m46.1 0h0m69.3 0h0m46.2 0h0m-219.4 2.9h0m9.9 0h0m33 0h0m39.6 0h0m36.3 0h0m56.1 0h0m19.8 0h0m16.5 0h0m6.6 0h0m16.5 0h0m-298.7 2.8h0m43 0h0m26.4 0h0m33 0h0m9.9 0h0m3.3 0h0m3.3 0h0m13.2 0h0m6.6 0h0m13.2 0h0m3.3 0h0m46.1 0h0m6.6 0h0m13.2 0h0m9.9 0h0m9.9 0h0m33 0h0m6.6 0h0m3.3 0h0m3.3 0h0m6.6 0h0m3.3 0h0m-262.3 2.9h0m23.1 0h0m56.1 0h0m23.1 0h0m36.3 0h0m6.6 0h0m19.8 0h0m16.5 0h0m9.9 0h0m39.6 0h0m6.6 0h0m9.9 0h0m6.6 0h0m-239.2 2.9h0m3.3 0h0m9.9 0h0m3.3 0h0m26.4 0h0m3.3 0h0m49.5 0h0m62.6 0h0m3.3 0h0m3.3 0h0m13.2 0h0m3.3 0h0m16.5 0h0m3.3 0h0m36.3 0h0m-288.7 2.8h0m6.6 0h0m85.8 0h0m42.9 0h0m75.9 0h0m33 0h0m39.6 0h0m16.5 0h0m-259 2.9h0m23.1 0h0m3.3 0h0m9.9 0h0m23.1 0h0m49.5 0h0m59.3 0h0m-179.8 2.8h0m33 0h0m3.3 0h0m29.7 0h0m13.2 0h0m33 0h0m33 0h0m3.3 0h0m6.6 0h0m6.6 0h0m39.6 0h0m6.6 0h0m6.6 0h0m52.8 0h0m-288.8 2.9h0m43 0h0m19.8 0h0m33 0h0m13.2 0h0m36.3 0h0m13.1 0h0m19.8 0h0m16.5 0h0m6.6 0h0m39.6 0h0m36.3 0h0m-259 2.8h0m23.1 0h0m75.9 0h0m56.1 0h0m3.3 0h0m13.2 0h0m6.6 0h0m6.6 0h0m19.8 0h0m16.5 0h0m29.7 0h0m3.3 0h0m9.9 0h0m-268.9 2.9h0m33 0h0m6.6 0h0m26.4 0h0m36.3 0h0m29.7 0h0m13.1 0h0m29.7 0h0m6.6 0h0m19.8 0h0m36.3 0h0m23.1 0h0m9.9 0h0m-292 2.9h0m29.7 0h0m72.6 0h0m52.8 0h0m29.7 0h0m9.9 0h0m26.4 0h0m59.4 0h0m-278.9 2.8h0m6.6 0h0m16.6 0h0m19.8 0h0m13.2 0h0m13.2 0h0m6.6 0h0m42.9 0h0m19.8 0h0m32.9 0h0m6.6 0h0m26.4 0h0m9.9 0h0m13.2 0h0m39.6 0h0m23.1 0h0m-275.5 2.9h0m6.6 0h0m23.1 0h0m19.8 0h0m6.6 0h0m52.8 0h0m19.8 0h0m13.2 0h0m3.3 0h0m3.3 0h0m16.5 0h0m16.5 0h0m6.6 0h0m3.3 0h0m13.2 0h0m39.6 0h0m26.4 0h0m-252.4 2.8h0m6.6 0h0m3.3 0h0m6.6 0h0m19.8 0h0m23.1 0h0m9.9 0h0m52.8 0h0m9.8 0h0m33 0h0m16.5 0h0m6.6 0h0m23.1 0h0m6.6 0h0m16.5 0h0m9.9 0h0m6.6 0h0m-209.5 2.9h0m26.4 0h0m62.7 0h0m23.1 0h0m6.6 0h0m3.3 0h0m16.5 0h0m79.2 0h0m6.6 0h0"/><path stroke="#1fffd8" d="M392.1 10.6h0m36.3 0h0m16.5 0h0m9.9 0h0m62.7 0h0m85.8 0h0m3.3 0h0m75.9 0h0m-278.8 2.9h0m9.9 0h0m9.9 0h0m13.2 0h0m6.6 0h0m6.6 0h0m36.3 0h0m108.8 0h0m13.2 0h0m13.2 0h0m46.2 0h0m-262.3 2.8h0m23.1 0h0m29.7 0h0m13.2 0h0m6.6 0h0m39.6 0h0m19.8 0h0m13.2 0h0m9.9 0h0m3.3 0h0m29.7 0h0m19.8 0h0m6.6 0h0m46.2 0h0m-282.2 2.9h0m92.5 0h0m59.4 0h0m13.1 0h0m85.8 0h0m-252.4 2.8h0m42.9 0h0m6.6 0h0m13.2 0h0m82.5 0h0m72.6 0h0m23.1 0h0m42.9 0h0m-282.2 2.9h0m52.9 0h0m62.7 0h0m16.5 0h0m32.9 0h0m19.8 0h0m6.6 0h0m85.8 0h0m9.9 0h0m6.6 0h0m-292 2.8h0m19.8 0h0m6.6 0h0m19.8 0h0m6.6 0h0m26.4 0h0m6.6 0h0m49.5 0h0m3.3 0h0m3.3 0h0m3.3 0h0m19.8 0h0m19.8 0h0m9.9 0h0m16.5 0h0m3.3 0h0m52.8 0h0m19.8 0h0m9.9 0h0m-272.2 2.9h0m13.2 0h0m9.9 0h0m3.3 0h0m6.6 0h0m23.1 0h0m9.9 0h0m13.2 0h0m42.9 0h0m6.6 0h0m3.2 0h0m3.4 0h0m52.7 0h0m56.1 0h0m-262.3 2.9h0m16.5 0h0m3.3 0h0m23.1 0h0m6.6 0h0m9.9 0h0m3.3 0h0m42.9 0h0m23.1 0h0m16.5 0h0m16.5 0h0m39.6 0h0m3.3 0h0m3.3 0h0m6.6 0h0m39.6 0h0m3.3 0h0m29.7 0h0m-288.8 2.8h0m39.7 0h0m33 0h0m6.6 0h0m13.2 0h0m9.9 0h0m33 0h0m65.9 0h0m72.6 0h0m16.5 0h0m-282.1 2.9h0m23.1 0h0m13.2 0h0m42.9 0h0m52.8 0h0m3.3 0h0m23.1 0h0m26.4 0h0m13.2 0h0m6.6 0h0m29.7 0h0m19.8 0h0m19.8 0h0m-235.9 2.8h0m3.3 0h0m3.3 0h0m23.1 0h0m3.3 0h0m3.3 0h0m42.9 0h0m19.8 0h0m19.7 0h0m52.8 0h0m6.6 0h0m16.5 0h0m3.3 0h0m-193 2.9h0m13.2 0h0m3.3 0h0m9.9 0h0m16.5 0h0m9.9 0h0m3.3 0h0m13.2 0h0m6.6 0h0m62.7 0h0m3.3 0h0m33 0h0m39.6 0h0m6.6 0h0m3.3 0h0m6.6 0h0m-239.2 2.9h0m3.3 0h0m3.3 0h0m6.6 0h0m69.3 0h0m6.6 0h0m3.3 0h0m52.7 0h0m3.3 0h0m3.3 0h0m33 0h0m6.6 0h0m3.3 0h0m9.9 0h0m36.3 0h0m-285.4 2.8h0m6.6 0h0m23.1 0h0m33 0h0m3.3 0h0m23.1 0h0m19.8 0h0m23.1 0h0m3.3 0h0m23.1 0h0m26.4 0h0m-123.7 2.9h0m39.6 0h0m52.7 0h0m42.9 0h0m13.2 0h0m29.7 0h0m36.3 0h0m-259 2.8h0m26.4 0h0m6.6 0h0m19.8 0h0m13.2 0h0m3.3 0h0m3.3 0h0m33 0h0m33 0h0m79.2 0h0m23.1 0h0m16.5 0h0m-186.4 2.9h0m23.1 0h0m6.6 0h0m46.1 0h0m75.9 0h0m9.9 0h0m6.6 0h0m-259 2.8h0m19.8 0h0m23.1 0h0m9.9 0h0m9.9 0h0m3.3 0h0m56.1 0h0m135.3 0h0m9.9 0h0m9.9 0h0m9.9 0h0m3.3 0h0m-242.5 2.9h0m23.1 0h0m6.6 0h0m9.9 0h0m9.9 0h0m29.7 0h0m19.8 0h0m36.2 0h0m95.7 0h0m-282.1 2.9h0m69.3 0h0m6.6 0h0m23.1 0h0m26.4 0h0m26.4 0h0m3.3 0h0m16.5 0h0m29.7 0h0m52.8 0h0m16.5 0h0m19.8 0h0m-216.1 2.8h0m46.2 0h0m16.5 0h0m82.4 0h0m9.9 0h0m19.8 0h0m33 0h0m-259 2.9h0m3.3 0h0m13.2 0h0m9.9 0h0m13.2 0h0m6.6 0h0m59.4 0h0m3.3 0h0m59.4 0h0m6.6 0h0m79.2 0h0m-219.4 2.8h0m42.9 0h0m3.3 0h0m13.2 0h0m19.8 0h0m23 0h0m52.8 0h0m9.9 0h0m3.3 0h0m3.3 0h0m3.3 0h0m3.3 0h0m9.9 0h0m36.3 0h0m-265.6 2.9h0m16.5 0h0m9.9 0h0m19.8 0h0m6.6 0h0m13.2 0h0m62.7 0h0m3.3 0h0m26.4 0h0m36.3 0h0m19.8 0h0m3.3 0h0m39.6 0h0m-272.3 2.8h0m19.9 0h0m9.9 0h0m9.9 0h0m6.6 0h0m56.1 0h0m6.6 0h0m9.9 0h0m3.3 0h0m3.3 0h0m72.5 0h0m79.2 0h0m-265.6 2.9h0m3.3 0h0m33 0h0m3.3 0h0m3.3 0h0m79.2 0h0m16.5 0h0m52.8 0h0m9.9 0h0m79.2 0h0m-288.7 2.9h0m59.4 0h0m19.8 0h0m49.5 0h0m9.9 0h0m3.3 0h0m42.8 0h0m6.6 0h0m23.1 0h0m9.9 0h0m46.2 0h0m19.8 0h0m-295.3 2.8h0m23.1 0h0m56.1 0h0m36.3 0h0m9.9 0h0m46.2 0h0m46.2 0h0m33 0h0m36.3 0h0m-282.1 2.9h0m16.5 0h0m39.6 0h0m52.8 0h0m26.4 0h0m29.6 0h0m79.2 0h0m23.1 0h0m6.6 0h0m-265.6 2.8h0m42.9 0h0m3.3 0h0m6.6 0h0m6.6 0h0m26.4 0h0m42.9 0h0m19.8 0h0m9.9 0h0m19.8 0h0m6.6 0h0m23.1 0h0m6.6 0h0m52.8 0h0m-275.5 2.9h0m26.4 0h0m3.3 0h0m66 0h0m3.3 0h0m23.1 0h0m6.6 0h0m19.8 0h0m23 0h0m46.2 0h0m26.4 0h0m13.2 0h0m36.3 0h0m-288.7 2.9h0m9.9 0h0m9.9 0h0m6.6 0h0m9.9 0h0m6.6 0h0m26.4 0h0m66 0h0m23.1 0h0m3.3 0h0m13.2 0h0m39.6 0h0m3.3 0h0m16.5 0h0m36.3 0h0m6.6 0h0m6.6 0h0m3.3 0h0m-288.8 2.8h0m6.6 0h0m26.5 0h0m99 0h0m13.2 0h0m26.3 0h0m19.8 0h0m56.1 0h0m19.8 0h0m-235.9 2.9h0m6.6 0h0m13.2 0h0m13.2 0h0m13.2 0h0m39.6 0h0m9.9 0h0m6.6 0h0m26.4 0h0m26.4 0h0m16.5 0h0m9.9 0h0m3.3 0h0m75.9 0h0m-285.5 2.8h0m6.7 0h0m19.8 0h0m6.6 0h0m9.9 0h0m13.2 0h0m13.2 0h0m9.9 0h0m26.4 0h0m33 0h0m3.3 0h0m59.3 0h0m26.4 0h0m9.9 0h0m23.1 0h0m-262.3 2.9h0m3.3 0h0m26.4 0h0m6.6 0h0m36.3 0h0m29.7 0h0m42.9 0h0m16.5 0h0m13.2 0h0m6.6 0h0m6.6 0h0m16.5 0h0m13.2 0h0m62.7 0h0m-245.8 2.8h0m29.7 0h0m39.6 0h0m29.7 0h0m13.1 0h0m6.6 0h0m26.4 0h0m19.8 0h0m39.6 0h0m42.9 0h0m-288.7 2.9h0m52.8 0h0m72.6 0h0m33 0h0m62.7 0h0m6.6 0h0m29.7 0h0m3.3 0h0m9.9 0h0m19.8 0h0m-252.4 2.9h0m23.1 0h0m3.3 0h0m26.4 0h0m26.4 0h0m6.6 0h0m9.9 0h0m13.2 0h0m3.3 0h0m19.7 0h0m16.5 0h0m46.2 0h0m9.9 0h0m6.6 0h0m3.3 0h0m-235.9 2.8h0m13.2 0h0m13.2 0h0m39.6 0h0m3.3 0h0m23.1 0h0m6.6 0h0m23.1 0h0m49.5 0h0m52.8 0h0m6.6 0h0m23.1 0h0m-219.4 2.9h0m3.3 0h0m3.3 0h0m6.6 0h0m23.1 0h0m13.2 0h0m39.6 0h0m112.1 0h0m3.3 0h0m33 0h0m-292 2.8h0m9.9 0h0m29.7 0h0m19.8 0h0m6.6 0h0m9.9 0h0m13.2 0h0m26.4 0h0m3.3 0h0m9.9 0h0m3.3 0h0m36.3 0h0m9.9 0h0m3.3 0h0m19.8 0h0m23.1 0h0m6.6 0h0m13.2 0h0m16.5 0h0m36.3 0h0m-235.9 2.9h0m39.6 0h0m9.9 0h0m29.7 0h0m69.2 0h0m19.8 0h0m49.5 0h0m3.3 0h0m13.2 0h0m-272.2 2.8h0m59.4 0h0m13.2 0h0m6.6 0h0m49.5 0h0m13.2 0h0m56.1 0h0m3.3 0h0m3.3 0h0m16.5 0h0m9.9 0h0m13.2 0h0m13.2 0h0m-259 2.9h0m36.3 0h0m3.3 0h0m16.5 0h0m13.2 0h0m6.6 0h0m16.5 0h0m13.2 0h0m75.8 0h0m26.4 0h0m13.2 0h0m13.2 0h0m6.6 0h0m6.6 0h0m-176.5 2.9h0m3.3 0h0m3.3 0h0m3.3 0h0m9.9 0h0m9.9 0h0m6.6 0h0m13.2 0h0m6.6 0h0m19.8 0h0m49.5 0h0m3.3 0h0m46.2 0h0m-269 2.8h0m99.1 0h0m46.2 0h0m3.3 0h0m13.2 0h0m36.2 0h0m26.4 0h0m16.5 0h0m6.6 0h0m19.8 0h0m9.9 0h0m3.3 0h0m-265.6 2.9h0m19.8 0h0m23.1 0h0m46.2 0h0m19.8 0h0m33 0h0m3.3 0h0m19.8 0h0m19.8 0h0m6.6 0h0m36.3 0h0m9.9 0h0m33 0h0m6.6 0h0m3.3 0h0m-222.7 2.8h0m75.9 0h0m9.8 0h0m79.2 0h0m26.4 0h0m26.4 0h0m-288.7 2.9h0m3.3 0h0m23.1 0h0m9.9 0h0m26.4 0h0m9.9 0h0m23.1 0h0m26.4 0h0m6.6 0h0m13.2 0h0m6.6 0h0m79.2 0h0m46.2 0h0m9.9 0h0m13.2 0h0m-292.1 2.9h0m52.9 0h0m13.2 0h0m6.6 0h0m3.3 0h0m6.6 0h0m19.8 0h0m23.1 0h0m23.1 0h0m3.2 0h0m9.9 0h0m13.2 0h0m13.2 0h0m26.4 0h0m16.5 0h0m26.4 0h0m13.2 0h0m3.3 0h0m16.5 0h0m-295.3 2.8h0m46.2 0h0m9.9 0h0m23.1 0h0m56.1 0h0m9.9 0h0m3.3 0h0m56.1 0h0m13.2 0h0m16.5 0h0m3.3 0h0m23.1 0h0m3.3 0h0m9.9 0h0m3.3 0h0m9.9 0h0m-245.8 2.9h0m29.7 0h0m23.1 0h0m33 0h0m9.9 0h0m13.2 0h0m9.9 0h0m3.2 0h0m69.3 0h0m9.9 0h0m33 0h0m16.5 0h0m-285.4 2.8h0m161.7 0h0m9.9 0h0m26.4 0h0m16.5 0h0m49.5 0h0m13.2 0h0m-285.5 2.9h0m3.4 0h0m9.8 0h0m6.7 0h0m9.9 0h0m9.9 0h0m16.5 0h0m16.5 0h0m6.6 0h0m46.2 0h0m65.9 0h0m13.2 0h0m13.2 0h0m9.9 0h0m36.3 0h0m13.2 0h0m-272.2 2.8h0m3.3 0h0m29.7 0h0m13.2 0h0m6.6 0h0m16.5 0h0m36.3 0h0m23.1 0h0m42.9 0h0m16.5 0h0m102.3 0h0m-212.8 2.9h0m42.9 0h0m3.3 0h0m9.9 0h0m9.9 0h0m32.9 0h0m3.3 0h0m6.6 0h0m16.5 0h0m6.6 0h0m13.2 0h0m6.6 0h0m29.7 0h0m-255.7 2.9h0m3.3 0h0m13.2 0h0m9.9 0h0m3.3 0h0m135.3 0h0m26.4 0h0m16.5 0h0m52.8 0h0m13.2 0h0m6.6 0h0m6.6 0h0m-282.2 2.8h0m6.7 0h0m42.9 0h0m125.3 0h0m3.3 0h0m29.7 0h0m3.3 0h0m39.6 0h0m19.8 0h0m13.2 0h0m-259 2.9h0m19.8 0h0m26.4 0h0m26.4 0h0m16.5 0h0m3.3 0h0m23.1 0h0m13.2 0h0m85.8 0h0m-252.5 2.8h0m59.5 0h0m16.5 0h0m6.6 0h0m46.2 0h0m13.2 0h0m3.3 0h0m16.5 0h0m29.6 0h0m89.1 0h0m-262.3 2.9h0m29.7 0h0m3.3 0h0m6.6 0h0m6.6 0h0m42.9 0h0m26.4 0h0m3.3 0h0m13.2 0h0m26.4 0h0m33 0h0m75.9 0h0m3.3 0h0"/><path stroke="#33ffc3" d="M402 10.6h0m23.1 0h0m62.7 0h0m19.8 0h0m29.7 0h0m42.9 0h0m13.2 0h0m69.3 0h0m13.2 0h0m-282.1 2.9h0m16.5 0h0m9.9 0h0m13.2 0h0m82.5 0h0m6.6 0h0m6.6 0h0m13.1 0h0m6.6 0h0m3.3 0h0m52.8 0h0m66 0h0m-282.1 2.8h0m151.8 0h0m6.6 0h0m29.7 0h0m33 0h0m-193 2.9h0m3.3 0h0m16.5 0h0m19.8 0h0m72.6 0h0m9.9 0h0m42.8 0h0m6.6 0h0m13.2 0h0m-212.8 2.8h0m6.6 0h0m6.6 0h0m3.3 0h0m6.6 0h0m29.7 0h0m75.9 0h0m6.6 0h0m16.5 0h0m13.2 0h0m29.7 0h0m26.4 0h0m59.4 0h0m9.9 0h0m-288.8 2.9h0m76 0h0m39.6 0h0m13.2 0h0m26.4 0h0m16.4 0h0m42.9 0h0m52.8 0h0m6.6 0h0m-282.1 2.8h0m6.6 0h0m3.3 0h0m26.4 0h0m6.6 0h0m9.9 0h0m112.2 0h0m19.8 0h0m26.4 0h0m69.3 0h0m-235.9 2.9h0m13.2 0h0m9.9 0h0m9.9 0h0m39.6 0h0m13.2 0h0m6.6 0h0m65.9 0h0m9.9 0h0m29.7 0h0m33 0h0m23.1 0h0m-282.1 2.9h0m59.4 0h0m3.3 0h0m6.6 0h0m3.3 0h0m39.6 0h0m69.3 0h0m29.7 0h0m52.8 0h0m3.3 0h0m-242.5 2.8h0m23.1 0h0m26.4 0h0m62.7 0h0m49.4 0h0m16.5 0h0m9.9 0h0m9.9 0h0m3.3 0h0m23.1 0h0m26.4 0h0m-292 2.9h0m3.3 0h0m62.7 0h0m49.5 0h0m3.3 0h0m125.4 0h0m13.2 0h0m16.5 0h0m-272.3 2.8h0m72.7 0h0m26.4 0h0m13.2 0h0m42.9 0h0m59.3 0h0m23.1 0h0m42.9 0h0m16.5 0h0m-219.4 2.9h0m16.5 0h0m3.3 0h0m23.1 0h0m19.8 0h0m3.3 0h0m66 0h0m3.3 0h0m13.2 0h0m3.3 0h0m13.2 0h0m9.9 0h0m13.2 0h0m3.3 0h0m26.4 0h0m-212.8 2.9h0m36.3 0h0m85.7 0h0m19.8 0h0m33 0h0m-206.2 2.8h0m23.1 0h0m3.3 0h0m9.9 0h0m3.3 0h0m19.8 0h0m95.7 0h0m3.3 0h0m3.3 0h0m29.7 0h0m19.8 0h0m6.6 0h0m13.2 0h0m6.6 0h0m6.6 0h0m-245.8 2.9h0m6.6 0h0m3.3 0h0m3.3 0h0m72.6 0h0m82.4 0h0m3.3 0h0m33 0h0m6.6 0h0m-259 2.8h0m39.6 0h0m16.5 0h0m59.4 0h0m19.8 0h0m9.9 0h0m3.3 0h0m56.1 0h0m6.6 0h0m23.1 0h0m23.1 0h0m6.6 0h0m6.6 0h0m-239.2 2.9h0m33 0h0m72.6 0h0m62.6 0h0m9.9 0h0m-176.5 2.8h0m26.4 0h0m16.5 0h0m19.8 0h0m13.2 0h0m36.3 0h0m49.5 0h0m16.5 0h0m69.3 0h0m13.2 0h0m-189.7 2.9h0m9.9 0h0m19.8 0h0m19.8 0h0m46.1 0h0m39.6 0h0m6.6 0h0m42.9 0h0m-288.7 2.9h0m49.5 0h0m6.6 0h0m49.5 0h0m23.1 0h0m145.2 0h0m-265.6 2.8h0m36.3 0h0m23.1 0h0m6.6 0h0m13.2 0h0m39.6 0h0m13.2 0h0m3.3 0h0m56 0h0m9.9 0h0m59.4 0h0m13.2 0h0m3.3 0h0m-206.2 2.9h0m3.3 0h0m155.1 0h0m-229.3 2.8h0m9.9 0h0m19.8 0h0m6.6 0h0m82.5 0h0m3.3 0h0m29.7 0h0m3.2 0h0m39.6 0h0m59.4 0h0m6.6 0h0m26.4 0h0m-298.6 2.9h0m19.8 0h0m19.8 0h0m26.4 0h0m56.1 0h0m36.3 0h0m19.8 0h0m19.8 0h0m3.3 0h0m6.6 0h0m6.6 0h0m82.5 0h0m-288.8 2.8h0m19.9 0h0m125.4 0h0m49.4 0h0m3.3 0h0m13.2 0h0m62.7 0h0m9.9 0h0m-216.1 2.9h0m56.1 0h0m13.2 0h0m3.3 0h0m19.8 0h0m9.9 0h0m6.6 0h0m33 0h0m9.9 0h0m49.5 0h0m9.9 0h0m-255.7 2.9h0m3.3 0h0m6.6 0h0m36.3 0h0m52.8 0h0m19.8 0h0m23 0h0m49.5 0h0m9.9 0h0m66 0h0m-292 2.8h0m3.3 0h0m26.4 0h0m3.3 0h0m33 0h0m66 0h0m3.3 0h0m19.8 0h0m46.2 0h0m16.5 0h0m-206.2 2.9h0m6.6 0h0m56.1 0h0m52.8 0h0m13.2 0h0m32.9 0h0m16.5 0h0m26.4 0h0m3.3 0h0m49.5 0h0m16.5 0h0m-292 2.8h0m16.5 0h0m26.4 0h0m95.7 0h0m9.9 0h0m36.3 0h0m26.4 0h0m89.1 0h0m-298.7 2.9h0m26.5 0h0m19.8 0h0m92.4 0h0m16.5 0h0m46.1 0h0m13.2 0h0m-193 2.9h0m52.8 0h0m62.7 0h0m19.8 0h0m19.8 0h0m9.9 0h0m-169.9 2.8h0m6.6 0h0m23.1 0h0m26.4 0h0m33 0h0m52.7 0h0m3.4 0h0m6.5 0h0m19.8 0h0m16.5 0h0m6.6 0h0m3.3 0h0m72.6 0h0m-278.8 2.9h0m13.2 0h0m13.2 0h0m16.5 0h0m3.3 0h0m9.9 0h0m9.9 0h0m52.8 0h0m16.5 0h0m72.6 0h0m9.9 0h0m13.2 0h0m39.6 0h0m9.9 0h0m-288.8 2.8h0m3.4 0h0m59.4 0h0m16.5 0h0m42.9 0h0m9.9 0h0m3.3 0h0m23 0h0m135.3 0h0m-275.5 2.9h0m26.4 0h0m36.3 0h0m46.2 0h0m6.6 0h0m26.4 0h0m16.5 0h0m29.7 0h0m13.2 0h0m46.2 0h0m33 0h0m-259 2.8h0m13.2 0h0m19.8 0h0m19.8 0h0m29.7 0h0m3.3 0h0m62.6 0h0m26.4 0h0m3.3 0h0m9.9 0h0m3.3 0h0m49.5 0h0m3.3 0h0m-239.2 2.9h0m3.3 0h0m6.6 0h0m26.4 0h0m59.4 0h0m13.2 0h0m13.2 0h0m42.9 0h0m3.3 0h0m66 0h0m-222.7 2.9h0m6.6 0h0m16.5 0h0m29.7 0h0m26.4 0h0m6.6 0h0m79.1 0h0m3.3 0h0m59.4 0h0m-282.1 2.8h0m75.9 0h0m6.6 0h0m9.9 0h0m29.7 0h0m3.3 0h0m9.9 0h0m13.2 0h0m52.8 0h0m23.1 0h0m3.3 0h0m-163.3 2.9h0m16.5 0h0m6.6 0h0m36.3 0h0m16.5 0h0m65.9 0h0m39.6 0h0m19.8 0h0m3.3 0h0m-219.4 2.8h0m13.2 0h0m39.6 0h0m23.1 0h0m95.7 0h0m36.3 0h0m36.3 0h0m-216.1 2.9h0m19.8 0h0m16.5 0h0m16.5 0h0m13.2 0h0m3.3 0h0m69.2 0h0m33 0h0m13.2 0h0m-193 2.8h0m19.8 0h0m16.5 0h0m9.9 0h0m29.7 0h0m52.8 0h0m16.5 0h0m19.8 0h0m13.2 0h0m-166.6 2.9h0m59.4 0h0m56 0h0m26.4 0h0m62.7 0h0m9.9 0h0m-298.6 2.9h0m79.2 0h0m151.8 0h0m6.6 0h0m6.6 0h0m16.5 0h0m-176.5 2.8h0m9.9 0h0m19.8 0h0m13.2 0h0m9.9 0h0m3.3 0h0m3.3 0h0m85.7 0h0m-160 2.9h0m3.3 0h0m56.1 0h0m3.3 0h0m72.6 0h0m69.3 0h0m-216.1 2.8h0m9.9 0h0m75.9 0h0m3.3 0h0m72.5 0h0m6.6 0h0m33 0h0m-173.2 2.9h0m56.1 0h0m56.1 0h0m42.9 0h0m-163.3 2.9h0m49.5 0h0m3.3 0h0m13.2 0h0m6.6 0h0m3.3 0h0m36.2 0h0m79.2 0h0m-216.1 2.8h0m33 0h0m3.3 0h0m16.5 0h0m6.6 0h0m16.5 0h0m26.4 0h0m3.3 0h0m-110.5 2.9h0m3.3 0h0m3.3 0h0m16.5 0h0m42.9 0h0m6.6 0h0m13.2 0h0m23.1 0h0m29.6 0h0m9.9 0h0m19.8 0h0m13.2 0h0m62.7 0h0m-292 2.8h0m3.3 0h0m3.3 0h0m36.3 0h0m9.9 0h0m6.6 0h0m23.1 0h0m82.5 0h0m36.3 0h0m19.8 0h0m79.2 0h0m-272.2 2.9h0m26.4 0h0m79.2 0h0m9.9 0h0m3.3 0h0m3.3 0h0m6.6 0h0m6.6 0h0m6.5 0h0m-156.7 2.8h0m42.9 0h0m6.6 0h0m69.3 0h0m13.2 0h0m19.8 0h0m52.8 0h0m69.3 0h0m-285.5 2.9h0m6.6 0h0m16.6 0h0m46.2 0h0m23.1 0h0m49.5 0h0m26.3 0h0m3.3 0h0m46.2 0h0m56.1 0h0m-259 2.9h0m52.8 0h0m62.7 0h0m3.3 0h0m9.9 0h0m19.8 0h0m13.2 0h0m-150.1 2.8h0m13.2 0h0m6.6 0h0m6.6 0h0m89.1 0h0m6.6 0h0m36.2 0h0m92.4 0h0m-275.5 2.9h0m3.3 0h0m19.8 0h0m26.4 0h0m16.5 0h0m66 0h0m3.3 0h0m3.3 0h0m36.3 0h0m6.6 0h0m16.5 0h0m82.5 0h0m-275.6 2.8h0m13.3 0h0m26.4 0h0m16.5 0h0m3.3 0h0m59.4 0h0m9.9 0h0m13.2 0h0m19.7 0h0m3.3 0h0m16.5 0h0m6.6 0h0m33 0h0m-229.3 2.9h0m9.9 0h0m3.3 0h0m3.3 0h0m23.1 0h0m16.5 0h0m6.6 0h0m105.6 0h0m3.3 0h0m29.7 0h0m26.4 0h0"/><path stroke="#48ffaf" d="M385.5 10.6h0m49.5 0h0m115.5 0h0m-123.7 2.9h0m-18.2 2.8h0m26.4 0h0m9.9 0h0m217.8 0h0m-202.9 2.9h0m66 0h0m-51.2 2.8h0m85.8 0h0m29.7 0h0m-169.9 2.9h0m23.1 0h0m46.2 0h0m64.3 2.8h0m62.7 0h0m42.9 0h0m-158.4 5.8h0m-67.6 2.8h0m105.6 0h0m-127.1 2.9h0m92.4 0h0m36.3 0h0m69.3 0h0m69.3 0h0m-202.9 2.8h0m33 0h0m92.3 0h0m-186.4 2.9h0m138.6 0h0m69.3 0h0m16.5 0h0m-240.9 5.7h0m3.3 0h0m26.4 0h0m56.1 0h0m66 0h0m16.5 0h0m-90.7 2.9h0m79.1 0h0m-146.8 2.8h0m184.8 0h0m85.8 0h0m1.6 2.9h0m-103.9 2.8h0m42.9 0h0m49.5 0h0m-242.5 2.9h0m-11.6 2.9h0m3.3 0h0m204.6 0h0m-84.1 2.8h0m-146.9 2.9h0m66 0h0m155.1 0h0m-28.1 2.8h0m49.5 0h0m-217.7 5.7h0m59.4 0h0m19.8 0h0m-69.3 5.8h0m59.4 0h0m16.5 0h0m168.2 0h0m-239.2 2.8h0m13.2 0h0m21.5 2.9h0m-80.9 2.8h0m89.1 0h0m194.7 0h0m-275.5 2.9h0m105.6 0h0m-51.2 2.9h0m155.1 0h0m79.2 0h0m-265.6 2.8h0m79.2 0h0m42.9 0h0m16.4 0h0m75.9 0h0m33 0h0m-74.2 2.9h0m52.8 0h0m-163.3 2.8h0m49.5 0h0m59.3 0h0m13.2 0h0m-51.1 2.9h0m102.3 0h0m9.9 0h0m-179.8 2.8h0m62.7 0h0m42.8 0h0m84.2 2.9h0m-249.1 2.9h0m254 0h0m-278.8 2.8h0m3.3 0h0m85.8 0h0m-74.2 2.9h0m250.7 0h0m-199.6 2.8h0m82.5 0h0m92.4 0h0m-117.1 2.9h0m29.6 0h0m69.3 0h0m29.7 5.7h0m-51.1 2.9h0m16.5 0h0m16.5 0h0m33 0h0m-249.1 2.8h0m171.5 0h0m26.4 0h0m59.4 0h0m-206.2 2.9h0m9.9 0h0m23.1 0h0m56.1 0h0m-132 5.7h0m-23.1 5.7h0m125.4 0h0m108.9 0h0m-110.5 2.9h0m112.1 0h0m-103.9 2.8h0m75.9 0h0m29.7 0h0m-169.9 2.9h0m6.6 0h0m188 0h0m-259 2.8h0m115.5 0h0m52.8 0h0m-100.6 2.9h0m158.3 0h0m39.6 0h0m6.6 0h0m-103.9 2.9h0m8.2 2.8h0m-150.1 2.9h0m69.3 0h0m108.9 0h0m-199.6 2.8h0m234.2 0h0m-133.6 2.9h0m141.9 0h0"/><path stroke="#5dff9a" d="M461.4 10.6h0m204.6 0h0m-100.7 2.9h0m13.2 0h0m-166.6 2.8h0m6.6 0h0m23.1 0h0m13.2 0h0m49.5 0h0m39.6 0h0m-143.5 2.9h0m164.9 0h0m9.9 0h0m72.6 0h0m-100.6 2.8h0m56.1 0h0m69.3 0h0m-202.9 2.9h0m125.3 0h0m49.5 0h0m3.3 0h0m-199.6 2.8h0m135.3 0h0m-193.1 2.9h0m66.1 0h0m66 0h0m108.8 0h0m39.6 0h0m-222.7 2.9h0m69.3 0h0m9.9 0h0m23.1 0h0m66 0h0m-199.6 2.8h0m201.2 0h0m19.8 0h0m-242.5 2.9h0m6.6 0h0m13.2 0h0m23.1 0h0m6.6 0h0m23.1 0h0m6.6 0h0m79.2 0h0m66 0h0m62.7 0h0m-255.7 2.8h0m36.3 0h0m26.4 0h0m16.5 0h0m122 0h0m-235.9 2.9h0m31.4 2.9h0m26.4 0h0m3.3 0h0m112.1 0h0m-120.4 2.8h0m3.3 0h0m19.8 0h0m46.2 0h0m3.3 0h0m115.5 0h0m6.6 0h0m42.9 0h0m-8.3 2.9h0m-37.9 2.8h0m36.3 0h0m-209.5 2.9h0m49.5 0h0m6.6 0h0m13.2 0h0m59.3 0h0m9.9 0h0m-67.6 2.8h0m59.4 0h0m62.7 0h0m-272.3 2.9h0m59.5 0h0m9.9 0h0m16.5 0h0m16.5 0h0m19.8 0h0m141.8 0h0m6.6 0h0m23.1 0h0m-288.7 2.9h0m56.1 0h0m79.2 0h0m49.5 0h0m102.3 0h0m-239.2 2.8h0m49.5 0h0m9.9 0h0m9.9 0h0m3.3 0h0m26.4 0h0m56 0h0m29.7 0h0m16.5 0h0m39.6 0h0m-146.8 2.9h0m59.4 0h0m13.2 0h0m62.7 0h0m-278.8 2.8h0m122.1 0h0m-54.5 2.9h0m59.4 0h0m3.3 0h0m3.3 0h0m13.2 0h0m29.7 0h0m99 0h0m-206.2 2.8h0m26.4 0h0m92.3 0h0m-183.1 2.9h0m56.1 0h0m13.2 0h0m39.6 0h0m92.4 0h0m89.1 0h0m-160 2.9h0m29.6 0h0m13.2 0h0m16.5 0h0m6.6 0h0m52.8 0h0m19.8 0h0m-235.9 2.8h0m105.6 0h0m3.3 0h0m6.6 0h0m112.2 0h0m29.7 0h0m-298.7 2.9h0m49.6 0h0m92.4 0h0m6.6 0h0m52.7 0h0m29.7 0h0m3.3 0h0m-103.9 2.8h0m128.7 0h0m-252.5 2.9h0m36.4 0h0m-41.3 2.9h0m29.7 0h0m56.1 0h0m108.9 0h0m-153.4 2.8h0m85.8 0h0m19.8 0h0m32.9 0h0m3.3 0h0m36.3 0h0m-209.5 2.9h0m79.2 0h0m13.2 0h0m75.9 0h0m85.8 0h0m6.6 0h0m-245.8 2.8h0m89.1 0h0m26.4 0h0m49.4 0h0m33 0h0m-173.2 2.9h0m23.1 0h0m75.9 0h0m29.7 0h0m29.7 0h0m46.2 0h0m-255.8 2.8h0m26.5 0h0m174.8 0h0m59.4 0h0m-133.6 2.9h0m9.9 0h0m23.1 0h0m19.8 0h0m51.1 2.9h0m-179.8 2.8h0m66 0h0m115.5 0h0m23.1 0h0m6.6 0h0m-259 2.9h0m69.3 0h0m6.6 0h0m6.6 0h0m49.5 0h0m13.2 0h0m23 0h0m-163.3 2.8h0m6.6 0h0m19.8 0h0m89.1 0h0m42.9 0h0m39.6 0h0m66 0h0m6.6 0h0m-278.9 2.9h0m6.6 0h0m66.1 0h0m16.5 0h0m85.7 0h0m13.2 0h0m16.5 0h0m39.6 0h0m16.5 0h0m29.7 0h0m-189.7 2.8h0m9.9 0h0m46.2 0h0m33 0h0m13.2 0h0m9.9 0h0m85.8 0h0m-193 2.9h0m13.2 0h0m98.9 0h0m19.8 0h0m-166.6 2.9h0m66 0h0m89.1 0h0m29.7 0h0m16.5 0h0m6.6 0h0m9.9 0h0m-226 2.8h0m3.3 0h0m19.8 0h0m9.9 0h0m23.1 0h0m82.4 0h0m9.9 0h0m23.1 0h0m-153.4 2.9h0m6.6 0h0m49.5 0h0m6.6 0h0m66 0h0m23.1 0h0m-179.8 2.8h0m9.9 0h0m36.3 0h0m6.6 0h0m155 0h0m-235.9 2.9h0m122.1 0h0m23.1 0h0m99 0h0m-166.6 2.9h0m16.5 0h0m16.5 0h0m62.6 0h0m6.6 0h0m13.2 0h0m6.6 0h0m9.9 0h0m39.6 0h0m-249.1 2.8h0m19.8 0h0m33 0h0m62.7 0h0m33 0h0m-163.3 2.9h0m69.3 0h0m3.3 0h0m33 0h0m29.7 0h0m-100.7 2.8h0m29.7 0h0m79.2 0h0m49.5 0h0m13.2 0h0m52.8 0h0m9.9 0h0m-242.5 2.9h0m26.4 0h0m75.9 0h0m39.5 0h0m9.9 0h0m72.6 0h0m9.9 0h0m23.1 0h0m-259 2.8h0m125.4 0h0m6.6 0h0m59.4 0h0m6.6 0h0m66 0h0m-265.6 2.9h0m16.5 0h0m66 0h0m19.8 0h0m23 0h0m19.8 0h0m9.9 0h0m9.9 0h0m-196.3 2.9h0m39.6 0h0m52.8 0h0m26.4 0h0m19.8 0h0m16.5 0h0m46.2 0h0m-57.7 2.8h0m36.2 0h0m49.5 0h0m-232.6 2.9h0m9.9 0h0m9.9 0h0m16.5 0h0m112.2 0h0m-130.3 2.8h0m207.8 0h0m62.7 0h0m-255.7 2.9h0m128.7 0h0m23.1 0h0m23.1 0h0m16.5 0h0"/><path stroke="#71ff86" d="M388.8 10.6h0m23.1 0h0m19.8 0h0m9.9 0h0m33 0h0m56.1 0h0m13.2 0h0m112.2 0h0m-199.6 2.9h0m9.9 0h0m72.6 0h0m108.8 0h0m-44.5 2.8h0m-84.1 2.9h0m32.9 0h0m19.8 0h0m13.2 0h0m92.4 0h0m-222.7 2.8h0m3.3 0h0m72.6 0h0m13.2 0h0m36.3 0h0m26.4 0h0m-160 2.9h0m66 0h0m13.2 0h0m95.6 0h0m16.5 0h0m16.5 0h0m-146.8 2.8h0m3.3 0h0m62.7 0h0m33 0h0m-160 2.9h0m69.3 0h0m49.4 0h0m26.4 0h0m13.2 0h0m-80.8 2.9h0m135.3 0h0m-206.2 2.8h0m13.2 0h0m9.9 0h0m102.2 0h0m62.7 0h0m19.8 0h0m-255.7 2.9h0m26.4 0h0m75.9 0h0m19.8 0h0m39.6 0h0m-133.6 2.8h0m13.2 0h0m75.9 0h0m59.3 0h0m85.8 0h0m3.3 0h0m3.3 0h0m-222.7 2.9h0m19.8 0h0m115.5 0h0m-127 2.9h0m9.9 0h0m36.3 0h0m65.9 0h0m49.5 0h0m49.5 0h0m6.6 0h0m-123.7 2.8h0m69.3 0h0m19.8 0h0m-222.7 2.9h0m59.4 0h0m26.4 0h0m102.2 0h0m13.2 0h0m19.8 0h0m29.7 0h0m-242.5 2.8h0m6.6 0h0m26.4 0h0m79.2 0h0m46.2 0h0m-117.1 2.9h0m9.9 0h0m131.9 0h0m-196.3 2.8h0m62.7 0h0m36.3 0h0m125.4 0h0m-232.6 2.9h0m29.7 0h0m3.3 0h0m52.8 0h0m105.5 0h0m6.6 0h0m23.1 0h0m-229.3 2.9h0m198 0h0m-117.1 2.8h0m98.9 0h0m26.4 0h0m52.8 0h0m-222.7 2.9h0m19.8 0h0m72.6 0h0m33 0h0m23.1 0h0m3.3 0h0m-133.6 2.8h0m52.8 0h0m29.7 0h0m36.2 0h0m6.6 0h0m-120.4 2.9h0m71 2.8h0m3.3 0h0m26.3 0h0m57.8 2.9h0m-166.6 2.9h0m26.4 0h0m72.5 0h0m69.3 0h0m26.4 0h0m19.8 0h0m-235.9 2.8h0m132 0h0m9.9 0h0m13.2 0h0m13.2 0h0m-176.5 2.9h0m9.9 0h0m9.9 0h0m102.2 0h0m13.2 0h0m13.2 0h0m59.4 0h0m-235.9 2.8h0m16.5 0h0m125.4 0h0m62.7 0h0m39.6 0h0m-47.9 2.9h0m-199.6 2.9h0m56.1 0h0m66 0h0m19.8 0h0m6.6 0h0m46.2 0h0m62.7 0h0m-176.5 2.8h0m56.1 0h0m49.4 0h0m3.3 0h0m-163.3 2.9h0m16.5 0h0m33 0h0m16.5 0h0m13.2 0h0m6.6 0h0m128.7 0h0m46.2 0h0m-259 2.8h0m26.4 0h0m13.2 0h0m3.3 0h0m92.3 0h0m9.9 0h0m16.5 0h0m13.2 0h0m3.3 0h0m-186.4 2.9h0m33 0h0m165 0h0m-209.6 2.8h0m6.7 0h0m39.6 0h0m138.5 0h0m-113.8 2.9h0m19.8 0h0m92.4 0h0m23.1 0h0m16.5 0h0m33 0h0m-216.1 2.9h0m39.6 0h0m95.6 0h0m75.9 0h0m23.1 0h0m9.9 0h0m-265.6 2.8h0m39.6 0h0m-18.1 2.9h0m171.5 0h0m-199.6 2.8h0m82.5 0h0m132 0h0m26.4 0h0m9.9 0h0m13.2 0h0m-153.4 2.9h0m26.4 0h0m79.1 0h0m-189.7 2.8h0m82.5 0h0m99 0h0m56.1 0h0m3.3 0h0m-282.1 2.9h0m42.9 0h0m23.1 0h0m13.2 0h0m42.9 0h0m13.2 0h0m89 0h0m39.6 0h0m3.3 0h0m-262.3 2.9h0m23.1 0h0m69.3 0h0m19.8 0h0m19.8 0h0m-97.3 2.8h0m39.6 0h0m155 0h0m29.7 0h0m-61 2.9h0m66 0h0m-74.3 2.8h0m-77.5 2.9h0m6.6 0h0m72.6 0h0m51.1 2.9h0m13.2 0h0m19.8 0h0m-268.9 2.8h0m6.6 0h0m33 0h0m9.9 0h0m23.1 0h0m36.3 0h0m52.8 0h0m89.1 0h0m23.1 0h0m-288.8 2.9h0m52.9 0h0m42.9 0h0m89 0h0m29.7 0h0m52.8 0h0m9.9 0h0m-212.8 2.8h0m6.6 0h0m56.1 0h0m9.9 0h0m16.5 0h0m26.4 0h0m62.7 0h0m-51.2 2.9h0m26.4 0h0m-209.5 2.8h0m26.4 0h0m3.3 0h0m23.1 0h0m9.9 0h0m204.6 0h0m-278.8 2.9h0m39.6 0h0m3.3 0h0m16.5 0h0m82.5 0h0m146.8 2.9h0m-226 2.8h0m62.7 0h0m3.3 0h0m161.6 0h0m-265.6 2.9h0m46.2 0h0m-64.3 2.8h0m148.4 0h0m23.1 0h0m26.4 0h0m3.3 0h0m-176.5 2.9h0m85.8 0h0m82.5 0h0m79.2 0h0m13.2 0h0"/><path stroke="#86ff71" d="M451.5 10.6h0m82.5 0h0m-94 2.9h0m19.8 0h0m72.6 0h0m59.3 0h0m89.1 0h0m-288.7 2.8h0m3.3 0h0m6.6 0h0m29.7 0h0m19.8 0h0m82.5 0h0m118.8 0h0m-249.1 2.9h0m155 0h0m69.3 0h0m42.9 0h0m-232.6 2.8h0m9.9 0h0m122.1 0h0m89.1 0h0m-259 2.9h0m13.2 0h0m26.4 0h0m112.1 0h0m3.3 0h0m9.9 0h0m6.6 0h0m102.3 0h0m-133.6 2.8h0m16.5 0h0m56.1 0h0m13.2 0h0m6.6 0h0m-127 2.9h0m171.5 0h0m-249.1 2.9h0m207.9 0h0m-239.3 2.8h0m135.4 0h0m32.9 0h0m-113.8 2.9h0m211.2 0h0m-176.5 2.8h0m62.6 0h0m19.8 0h0m75.9 0h0m6.6 0h0m-212.8 2.9h0m49.5 0h0m3.3 0h0m-47.8 2.9h0m75.9 0h0m72.5 0h0m6.6 0h0m3.3 0h0m13.2 0h0m-87.4 2.8h0m79.2 0h0m42.9 0h0m-163.3 2.9h0m26.4 0h0m13.2 0h0m6.6 0h0m56 0h0m29.7 0h0m36.3 0h0m-272.2 2.8h0m9.9 0h0m92.4 0h0m9.9 0h0m9.9 0h0m102.3 0h0m-196.3 2.9h0m99 0h0m16.5 0h0m3.3 0h0m125.3 0h0m-199.6 2.8h0m13.2 0h0m52.8 0h0m23.1 0h0m3.3 0h0m13.2 0h0m26.4 0h0m23.1 0h0m49.5 0h0m-259 2.9h0m59.4 0h0m82.4 0h0m49.5 0h0m29.7 0h0m-216.1 2.9h0m16.5 0h0m46.2 0h0m16.5 0h0m3.3 0h0m16.5 0h0m59.4 0h0m6.6 0h0m92.4 0h0m19.8 0h0m-183.1 2.8h0m118.7 0h0m29.7 0h0m-219.4 2.9h0m92.4 0h0m155.1 0h0m6.6 0h0m-298.7 2.8h0m13.2 0h0m59.5 0h0m6.6 0h0m128.6 0h0m9.9 0h0m23.1 0h0m-193 2.9h0m9.9 0h0m69.3 0h0m13.2 0h0m13.2 0h0m72.6 0h0m23.1 0h0m-120.4 2.8h0m13.2 0h0m23 0h0m122.1 0h0m-245.8 2.9h0m69.3 0h0m52.8 0h0m59.4 0h0m29.7 0h0m-156.7 2.9h0m79.1 0h0m16.5 0h0m9.9 0h0m13.2 0h0m-183.1 2.8h0m112.2 0h0m9.9 0h0m19.8 0h0m9.9 0h0m6.6 0h0m89.1 0h0m-163.3 2.9h0m9.9 0h0m62.6 0h0m26.4 0h0m36.3 0h0m-189.7 2.8h0m6.6 0h0m66 0h0m46.2 0h0m115.5 0h0m-245.8 2.9h0m56.1 0h0m3.3 0h0m13.2 0h0m36.2 0h0m69.3 0h0m16.5 0h0m42.9 0h0m-237.5 5.7h0m9.9 0h0m39.6 0h0m75.8 0h0m42.9 0h0m66 0h0m13.2 0h0m-295.3 2.9h0m158.4 0h0m26.4 0h0m-176.5 2.8h0m102.3 0h0m69.2 0h0m16.5 0h0m59.4 0h0m39.6 0h0m-275.5 2.9h0m9.9 0h0m122.1 0h0m9.9 0h0m33 0h0m-160 2.8h0m66 0h0m174.8 0h0m13.2 0h0m-216.1 2.9h0m49.5 0h0m19.8 0h0m85.8 0h0m42.9 0h0m-272.3 2.9h0m112.3 0h0m19.8 0h0m95.6 0h0m39.6 0h0m9.9 0h0m-219.4 2.8h0m39.6 0h0m36.3 0h0m13.2 0h0m13.2 0h0m89.1 0h0m36.3 0h0m-209.5 2.9h0m46.2 0h0m69.2 0h0m13.2 0h0m6.6 0h0m39.6 0h0m-229.3 2.8h0m16.5 0h0m59.4 0h0m112.2 0h0m82.5 0h0m-265.6 2.9h0m39.6 0h0m42.9 0h0m9.9 0h0m3.3 0h0m72.5 0h0m13.2 0h0m6.6 0h0m62.7 0h0m-265.6 2.8h0m49.5 0h0m6.6 0h0m46.2 0h0m9.9 0h0m19.8 0h0m141.9 0h0m-212.8 2.9h0m13.2 0h0m36.3 0h0m13.2 0h0m148.4 0h0m-272.2 2.9h0m13.2 0h0m1.7 2.8h0m125.4 0h0m102.2 0h0m33 0h0m-285.4 2.9h0m29.7 0h0m23.1 0h0m79.2 0h0m33 0h0m26.4 0h0m-143.5 2.8h0m9.9 0h0m49.5 0h0m16.5 0h0m3.3 0h0m36.2 0h0m46.2 0h0m-193 2.9h0m75.9 0h0m13.2 0h0m141.9 0h0m46.2 0h0m-249.1 2.9h0m59.4 0h0m-64.4 2.8h0m23.1 0h0m158.4 0h0m46.2 0h0m23.1 0h0m-292.1 2.9h0m178.2 0h0m19.8 0h0m6.6 0h0m-193 2.8h0m26.4 0h0m16.5 0h0m75.9 0h0m62.7 0h0m3.3 0h0m-173.2 2.9h0m82.5 0h0m105.5 0h0m9.9 0h0m-202.9 2.8h0m13.2 0h0m115.5 0h0m6.6 0h0m16.5 0h0m42.9 0h0m52.8 0h0m-186.4 2.9h0m161.6 0h0m-193 2.9h0m6.6 0h0m52.8 0h0m6.6 0h0m46.2 0h0m52.8 0h0m85.8 0h0m-288.7 2.8h0m6.6 0h0m14.8 2.9h0m138.6 0h0m3.3 0h0m-169.9 2.8h0m19.8 0h0m108.9 0h0m42.8 0h0m-153.4 2.9h0m122.1 0h0m3.3 0h0m26.4 0h0m42.9 0h0m33 0h0m6.6 0h0"/><path stroke="#9aff5d" d="M408.6 10.6h0m49.5 0h0m69.3 0h0m13.2 0h0m-150.2 2.9h0m26.5 0h0m29.7 0h0m62.7 0h0m36.3 0h0m13.1 0h0m92.4 0h0m13.2 0h0m13.2 0h0m-255.7 2.8h0m135.3 0h0m-166.7 2.9h0m39.7 0h0m19.8 0h0m112.1 0h0m-153.4 2.8h0m79.2 0h0m33 0h0m16.5 0h0m29.7 0h0m108.9 0h0m-153.4 2.9h0m62.6 0h0m-84.1 2.8h0m89.1 0h0m75.9 0h0m-259 2.9h0m56.1 0h0m19.8 0h0m42.9 0h0m42.8 0h0m13.2 0h0m19.8 0h0m-156.7 2.9h0m122.1 0h0m16.5 0h0m3.3 0h0m33 0h0m-226 2.8h0m66 0h0m26.4 0h0m13.2 0h0m89 0h0m19.8 0h0m-97.3 2.9h0m13.2 0h0m19.8 0h0m72.6 0h0m-41.3 2.8h0m62.7 0h0m19.8 0h0m-239.2 2.9h0m3.3 0h0m42.9 0h0m36.3 0h0m19.8 0h0m69.3 0h0m39.6 0h0m-156.7 2.9h0m9.9 0h0m62.7 0h0m41.2 2.8h0m49.5 0h0m23.1 0h0m9.9 0h0m6.6 0h0m-209.5 2.9h0m26.4 0h0m16.5 0h0m125.3 0h0m-245.8 2.8h0m174.9 0h0m39.6 0h0m56.1 0h0m6.6 0h0m-229.3 2.9h0m19.8 0h0m16.5 0h0m145.1 0h0m-209.5 2.8h0m75.9 0h0m115.5 0h0m26.4 0h0m-239.2 2.9h0m247.4 0h0m46.2 0h0m-232.6 2.9h0m29.7 0h0m33 0h0m36.3 0h0m46.2 0h0m9.9 0h0m36.3 0h0m-193 2.8h0m29.7 0h0m98.9 0h0m-189.7 2.9h0m158.4 0h0m56.1 0h0m46.2 0h0m-235.9 2.8h0m92.4 0h0m148.4 0h0m-255.7 2.9h0m16.5 0h0m161.7 0h0m102.3 0h0m-212.8 2.8h0m102.2 0h0m59.4 0h0m-219.4 2.9h0m39.6 0h0m6.6 0h0m23.1 0h0m6.6 0h0m23.1 0h0m16.5 0h0m52.8 0h0m3.3 0h0m13.2 0h0m89.1 0h0m-242.5 2.9h0m99 0h0m-31.4 2.8h0m59.4 0h0m62.7 0h0m49.5 0h0m-140.2 2.9h0m52.7 0h0m3.3 0h0m89.1 0h0m-265.6 2.8h0m122.1 0h0m13.2 0h0m115.5 0h0m-259 2.9h0m52.8 0h0m66 0h0m19.8 0h0m118.7 0h0m9.9 0h0m-278.8 2.9h0m118.8 0h0m105.6 0h0m13.2 0h0m-245.8 2.8h0m224.3 0h0m23.1 0h0m42.9 0h0m-11.5 2.9h0m-265.6 2.8h0m13.2 0h0m72.6 0h0m181.4 0h0m-229.3 2.9h0m16.5 0h0m23.1 0h0m29.7 0h0m79.2 0h0m23.1 0h0m-156.7 2.8h0m9.9 0h0m59.4 0h0m3.3 0h0m32.9 0h0m19.8 0h0m39.6 0h0m19.8 0h0m13.2 0h0m-146.8 2.9h0m79.2 0h0m3.3 0h0m3.3 0h0m9.9 0h0m6.6 0h0m16.5 0h0m-189.7 2.9h0m36.3 0h0m75.9 0h0m39.5 0h0m9.9 0h0m23.1 0h0m46.2 0h0m-282.1 2.8h0m39.6 0h0m102.3 0h0m148.5 0h0m-133.6 2.9h0m72.5 0h0m16.5 0h0m8.3 2.8h0m-166.6 2.9h0m115.4 0h0m-186.4 2.8h0m49.5 0h0m23.1 0h0m39.6 0h0m148.5 0h0m-179.8 2.9h0m75.8 0h0m-130.3 2.9h0m148.5 0h0m13.2 0h0m3.3 0h0m89.1 0h0m-189.7 2.8h0m115.4 0h0m36.3 0h0m13.2 0h0m-272.2 2.9h0m49.5 0h0m3.3 0h0m168.3 0h0m3.3 0h0m3.3 0h0m-209.5 2.8h0m59.4 0h0m115.4 0h0m6.6 0h0m16.5 0h0m62.7 0h0m-229.3 2.9h0m39.6 0h0m95.7 0h0m3.3 0h0m69.3 0h0m23.1 0h0m-166.6 2.9h0m3.3 0h0m138.5 0h0m-245.8 2.8h0m105.6 0h0m9.9 0h0m52.8 0h0m36.3 0h0m72.6 0h0m-249.1 2.9h0m19.8 0h0m131.9 0h0m23.1 0h0m39.6 0h0m16.5 0h0m-199.6 2.8h0m19.8 0h0m69.3 0h0m75.9 0h0m-199.6 2.9h0m33 0h0m108.8 0h0m6.6 0h0m56.1 0h0m-239.2 2.8h0m3.3 0h0m26.4 0h0m62.7 0h0m82.5 0h0m33 0h0m13.2 0h0m-179.8 2.9h0m62.7 0h0m52.8 0h0m19.7 0h0m122.1 0h0m-278.8 2.9h0m46.2 0h0m6.6 0h0m3.3 0h0m105.6 0h0m-150.1 2.8h0m42.9 0h0m52.8 0h0m39.5 0h0m42.9 0h0m3.3 0h0m-150.1 2.9h0m151.8 0h0m59.4 0h0m6.6 0h0m-94.1 2.8h0m52.8 0h0m52.8 0h0m3.3 0h0m-265.6 2.9h0m13.2 0h0m99 0h0m49.5 0h0"/><path stroke="#c3ff33" d="M397 13.5h0m85.9 0h0m9.9 0h0m-28.1 2.8h0m181.5 0h0m-232.6 2.9h0m66 0h0m3.3 0h0m16.5 0h0m174.8 0h0m-239.2 2.8h0m-11.5 2.9h0m29.7 0h0m19.8 0h0m19.8 0h0m39.6 0h0m3.3 0h0m42.8 0h0m-74.2 2.8h0m29.7 0h0m-137 2.9h0m23.2 0h0m168.2 0h0m67.7 2.9h0m-252.4 2.8h0m267.2 0h0m6.6 0h0m-252.4 2.9h0m135.3 0h0m9.9 0h0m-13.2 5.7h0m42.9 0h0m34.6 2.9h0m46.2 0h0m-268.9 2.8h0m-28.1 2.9h0m43 0h0m95.7 0h0m102.2 0h0m33 0h0m23.1 0h0m-265.6 2.8h0m6.6 0h0m74.3 2.9h0m82.4 0h0m36.3 0h0m46.2 0h0m9.9 0h0m-199.6 2.8h0m85.8 0h0m125.4 0h0m-166.6 2.9h0m85.7 0h0m13.2 0h0m-219.4 2.9h0m16.5 0h0m168.3 0h0m39.6 0h0m9.9 0h0m16.5 0h0m-179.8 2.8h0m85.7 0h0m6.6 0h0m-110.5 2.9h0m85.8 0h0m107.2 2.8h0m-179.8 2.9h0m82.5 0h0m-156.7 2.8h0m33 0h0m33 0h0m92.4 0h0m75.8 0h0m6.6 0h0m29.7 0h0m-169.9 2.9h0m75.9 0h0m6.6 0h0m33 0h0m-130.3 2.9h0m72.6 0h0m105.5 0h0m-265.6 2.8h0m4.9 2.9h0m89.2 0h0m23.1 0h0m56 0h0m79.2 0h0m3.3 0h0m-84.1 2.8h0m3.3 0h0m29.7 0h0m-136.9 2.9h0m148.4 0h0m16.5 0h0m36.3 0h0m-176.5 2.9h0m6.6 0h0m72.6 0h0m33 0h0m49.5 0h0m1.6 2.8h0m-74.2 2.9h0m13.2 0h0m6.6 0h0m92.4 0h0m-242.5 2.8h0m108.9 0h0m23 0h0m95.7 0h0m-275.5 2.9h0m95.7 0h0m-90.7 2.8h0m85.8 0h0m13.2 0h0m9.9 0h0m36.3 0h0m-130.4 2.9h0m39.6 0h0m49.5 0h0m56.1 0h0m23.1 0h0m92.4 0h0m-252.4 2.9h0m153.4 2.8h0m108.9 0h0m-156.7 2.9h0m19.7 0h0m19.8 0h0m42.9 0h0m42.9 0h0m-232.6 2.8h0m62.7 0h0m105.6 0h0m85.8 0h0m-226 2.9h0m211.1 0h0m-262.3 2.8h0m257.4 0h0m-199.6 2.9h0m-11.6 2.9h0m62.7 0h0m62.7 0h0m33 0h0m72.6 0h0m-265.6 2.8h0m49.5 0h0m148.4 0h0m46.2 0h0m-94 2.9h0m99 0h0m19.8 0h0m-285.4 2.8h0m92.4 0h0m82.4 0h0m-146.8 2.9h0m49.5 0h0m29.7 0h0m99 0h0m84.1 2.9h0m-173.2 2.8h0m75.9 0h0m6.6 0h0m-77.5 2.9h0m145.1 0h0m18.2 2.8h0m-153.4 2.9h0m138.5 0h0m-146.8 2.8h0m-28 2.9h0m-18.2 2.9h0m115.5 0h0m39.6 0h0m-232.6 2.8h0m95.7 0h0m151.7 0h0m-221 5.7h0m66 0h0m19.8 0h0m85.7 0h0m-176.5 2.9h0m128.7 0h0m26.4 0h0"/><path stroke="#d8ff1f" d="M418.5 10.6h0m198 0h0m-153.4 2.9h0m62.7 0h0m75.8 0h0m-90.7 2.8h0m62.7 0h0m52.8 0h0m46.2 0h0m-199.6 2.9h0m13.2 0h0m82.4 0h0m89.1 0h0m3.3 0h0m3.3 0h0m-163.3 2.8h0m33 0h0m29.7 0h0m-153.4 2.9h0m131.9 0h0m85.8 0h0m52.8 0h0m-229.3 2.8h0m3.3 0h0m59.4 0h0m23.1 0h0m6.6 0h0m33 0h0m69.3 0h0m-117.1 2.9h0m138.5 0h0m-278.8 2.9h0m75.9 0h0m207.9 0h0m-235.9 2.8h0m82.5 0h0m85.7 0h0m-163.3 2.9h0m122.1 0h0m66 0h0m19.8 0h0m-196.3 2.8h0m135.2 0h0m-189.7 2.9h0m178.2 0h0m99 0h0m-265.6 2.9h0m46.2 0h0m23.1 0h0m79.1 0h0m92.4 0h0m13.2 0h0m-282.1 2.8h0m23.1 0h0m26.4 0h0m128.7 0h0m3.3 0h0m-163.3 2.9h0m36.3 0h0m23.1 0h0m115.4 0h0m19.8 0h0m56.1 0h0m-127 2.8h0m36.3 0h0m69.3 0h0m-206.2 2.9h0m29.7 0h0m13.2 0h0m211.1 0h0m-82.5 5.7h0m13.2 0h0m59.4 0h0m-239.2 2.9h0m132 0h0m29.7 0h0m23.1 0h0m42.9 0h0m-163.3 2.8h0m89 0h0m42.9 0h0m-186.4 2.9h0m224.4 0h0m-235.9 2.8h0m9.9 0h0m145.1 0h0m-146.8 2.9h0m165 0h0m6.6 0h0m-160 2.8h0m42.9 0h0m65.9 0h0m92.4 0h0m-18.1 2.9h0m42.9 0h0m-268.9 2.9h0m79.2 0h0m13.2 0h0m131.9 0h0m-189.7 2.8h0m3.3 0h0m23.1 0h0m-54.4 2.9h0m3.3 0h0m13.2 0h0m26.4 0h0m29.7 0h0m29.7 0h0m108.8 0h0m42.9 0h0m-262.3 2.8h0m-1.6 2.9h0m39.6 0h0m26.4 0h0m128.6 0h0m29.7 0h0m-160 2.9h0m26.4 0h0m72.6 0h0m102.3 0h0m-219.4 2.8h0m3.3 0h0m36.3 0h0m33 0h0m89 0h0m-196.3 2.9h0m102.3 0h0m46.2 0h0m75.9 0h0m33 0h0m-235.9 2.8h0m138.5 0h0m42.9 0h0m56.1 0h0m-244.1 5.7h0m103.9 2.9h0m9.9 0h0m135.3 0h0m-216.1 2.9h0m49.5 0h0m72.5 0h0m6.6 0h0m69.3 0h0m-143.5 2.8h0m26.4 0h0m23.1 0h0m56.1 0h0m29.7 0h0m-222.7 2.9h0m59.4 0h0m-47.9 2.8h0m59.4 0h0m36.3 0h0m39.6 0h0m3.3 0h0m49.5 0h0m-239.2 2.9h0m92.4 0h0m56.1 0h0m69.2 0h0m-186.4 2.8h0m42.9 0h0m62.7 0h0m33 0h0m13.2 0h0m9.9 0h0m75.9 0h0m-64.4 2.9h0m-173.2 2.9h0m16.5 0h0m125.4 0h0m69.3 0h0m4.9 2.8h0m-212.8 2.9h0m6.6 0h0m201.3 0h0m-209.5 2.8h0m99 0h0m108.8 0h0m-222.7 2.9h0m49.5 0h0m19.8 0h0m128.7 0h0m3.3 0h0m-219.4 2.9h0m171.5 0h0m-4.9 2.8h0m29.7 0h0m-186.5 2.9h0m72.7 0h0m49.5 0h0m151.7 0h0m-265.6 2.8h0m9.9 0h0m135.3 0h0m-67.6 2.9h0m59.3 0h0m13.2 0h0m72.6 0h0m-231 5.7h0m16.6 0h0m6.6 0h0m8.2 2.9h0m217.8 0h0m-176.5 2.8h0m49.5 0h0m105.5 0h0m-150.1 2.9h0m59.4 0h0m36.3 0h0m3.3 0h0m85.8 0h0m13.2 0h0m9.9 0h0m-285.5 2.8h0m39.7 0h0m33 0h0m19.8 0h0m98.9 0h0m-202.9 2.9h0m66 0h0m19.8 0h0m188.1 0h0"/><path stroke="#ecff0a" d="M501 10.6h0m69.3 0h0m52.8 0h0m19.8 0h0m6.6 0h0m23.1 0h0m-202.9 2.9h0m191.3 0h0m13.2 0h0m-176.5 2.8h0m29.7 0h0m69.3 0h0m42.9 0h0m-127 2.9h0m3.3 0h0m79.1 0h0m-176.5 2.8h0m231 0h0m13.2 0h0m-265.7 2.9h0m10 0h0m42.9 0h0m33 0h0m151.7 0h0m-206.2 2.8h0m13.2 0h0m36.3 0h0m19.8 0h0m-11.5 2.9h0m6.6 0h0m168.2 0h0m-130.3 2.9h0m26.4 0h0m6.6 0h0m39.6 0h0m-163.3 2.8h0m16.5 0h0m56.1 0h0m-41.3 2.9h0m13.2 0h0m6.6 0h0m122.1 0h0m29.7 0h0m23.1 0h0m-272.2 2.8h0m132 0h0m3.3 0h0m3.3 0h0m59.3 0h0m56.1 0h0m-216.1 2.9h0m141.9 0h0m108.9 0h0m-265.6 2.9h0m69.3 0h0m6.6 0h0m168.2 0h0m-268.9 2.8h0m89.1 0h0m9.9 0h0m52.8 0h0m85.8 0h0m33 0h0m-268.9 2.9h0m108.9 0h0m46.1 0h0m118.8 0h0m9.9 0h0m-127 2.8h0m6.6 0h0m125.4 0h0m-222.7 2.9h0m26.4 0h0m72.5 0h0m-47.8 2.8h0m59.4 0h0m13.2 0h0m19.8 0h0m-41.3 2.9h0m19.8 0h0m29.7 0h0m59.4 0h0m-268.9 2.9h0m155.1 0h0m-113.8 2.8h0m79.2 0h0m65.9 0h0m72.6 0h0m-278.8 2.9h0m19.8 0h0m95.7 0h0m9.9 0h0m56.1 0h0m42.9 0h0m-186.4 2.8h0m-34.7 2.9h0m183.1 2.8h0m66 0h0m3.3 0h0m6.6 0h0m-255.7 2.9h0m29.7 0h0m46.2 0h0m92.4 0h0m-156.7 2.9h0m9.9 0h0m89.1 0h0m19.8 0h0m128.6 0h0m-235.9 2.8h0m39.6 0h0m26.4 0h0m173.2 2.9h0m19.8 0h0m-84.1 2.8h0m-163.3 2.9h0m72.6 0h0m16.5 0h0m125.3 0h0m-217.7 5.7h0m46.2 0h0m36.3 0h0m89 0h0m59.4 0h0m-268.9 2.9h0m174.9 0h0m95.7 0h0m-226 2.8h0m211.1 0h0m9.9 0h0m-133.6 2.9h0m13.2 0h0m26.4 0h0m19.8 0h0m95.7 0h0m-179.8 2.8h0m181.4 0h0m-265.6 2.9h0m97.4 2.9h0m49.4 0h0m75.9 0h0m-176.5 2.8h0m122.1 0h0m102.3 0h0m-282.1 2.9h0m13.2 0h0m13.2 0h0m75.9 0h0m174.8 0h0m-146.8 2.8h0m19.8 0h0m13.2 0h0m3.3 0h0m52.8 0h0m6.6 0h0m-216.1 2.9h0m247.4 0h0m26.4 0h0m-272.2 2.8h0m189.7 2.9h0m39.6 0h0m9.9 0h0m29.7 0h0m-245.8 2.9h0m16.5 0h0m99 0h0m36.3 0h0m-140.2 2.8h0m16.5 0h0m6.6 0h0m52.8 0h0m161.6 0h0m3.3 0h0m-268.9 2.9h0m72.6 0h0m9.9 0h0m118.8 0h0m19.8 0h0m16.5 0h0m-198 5.7h0m49.5 0h0m42.9 0h0m-133.6 2.9h0m95.7 0h0m161.6 0h0m-216.1 2.8h0m6.6 0h0m151.8 0h0m-67.7 2.9h0m-57.7 2.8h0m112.2 0h0m-136.9 2.9h0m155 0h0m-160 2.8h0m33 0h0m36.3 0h0m59.4 0h0m51.1 2.9h0m-229.3 2.9h0m39.6 0h0m89.1 0h0m75.9 0h0m46.2 0h0m-179.8 2.8h0m19.8 0h0m56 0h0m26.4 0h0m6.6 0h0m16.5 0h0m26.4 0h0m-232.6 2.9h0m234.3 0h0m-156.7 2.8h0m89 0h0m52.8 0h0m33 0h0m6.6 0h0m-156.7 2.9h0"/><path stroke="#ffea00" d="M530.7 16.3h0m102.3 0h0m-186.4 2.9h0m95.6 0h0m62.7 0h0m-148.4 5.7h0m39.6 0h0m125.3 5.7h0m29.7 0h0m-61 2.9h0m-74.2 2.8h0m120.4 2.9h0m33 0h0m-244.2 5.7h0m135.3 0h0m42.9 0h0m-188.1 5.7h0m237.6 5.7h0m4.9 2.9h0m-255.7 2.8h0m122.1 0h0m11.6 2.9h0m52.7 0h0m72.6 0h0m-222.7 2.9h0m-23.1 5.7h0m204.6 0h0m-150.1 2.8h0m168.2 0h0m36.3 0h0m3.3 0h0m-94 8.6h0m-193.1 2.9h0m156.8 2.8h0m-61 2.9h0m79.1 0h0m-136.9 2.8h0m72.6 0h0m-90.7 8.6h0m217.7 0h0m19.8 0h0m-135.2 5.7h0m36.2 0h0m79.2 0h0m3.3 0h0m-4.9 2.9h0m-18.2 2.8h0m-163.3 2.9h0m56.1 0h0m-28 2.9h0m201.2 0h0m-262.3 2.8h0m250.8 0h0m-232.6 2.9h0m184.7 0h0m-174.8 5.7h0m136.9 2.8h0m-1.7 2.9h0m102.3 0h0m5 2.9h0m-123.8 2.8h0m-34.6 2.9h0m36.3 0h0m-75.9 5.7h0m52.8 0h0m36.3 0h0m-120.4 2.9h0m191.3 0h0m-229.3 2.8h0m128.7 0h0m70.9 2.9h0m-107.2 2.8h0m23.1 0h0m62.7 0h0m87.4 2.9h0m-188 5.7h0m135.2 0h0m9.9 0h0m23.1 0h0m-272.2 2.9h0m26.4 0h0m41.3 8.5h0"/><path stroke="#ffbb00" d="M598.3 13.5h0m56.1 0h0m-140.2 2.8h0m-44.5 2.9h0m39.6 0h0m-123.8 2.8h0m74.3 2.9h0m196.3 2.8h0m-153.4 2.9h0m145.1 0h0m-110.5 8.6h0m-23.1 5.7h0m56.1 0h0m-8.3 8.6h0m49.5 0h0m-57.7 8.5h0m-59.4 5.8h0m-11.5 2.8h0m54.4 14.3h0m84.1 2.9h0m-212.8 2.8h0m201.3 0h0m14.8 2.9h0m-37.9 8.6h0m-196.4 20h0m99.1 0h0m52.7 0h0m-117.1 25.7h0m38 2.8h0m188 0h0m-31.3 2.9h0m-222.8 2.9h0m267.3 5.7h0m-265.6 2.8h0m239.2 2.9h0m-244.1 5.7h0m145.2 5.7h0m141.8 5.7h0m-292 2.9h0m75.9 0h0"/><path stroke="#ffa300" d="M636.3 10.6h0m-146.8 2.9h0m-36.3 5.7h0m197.9 0h0m-221 5.7h0m237.5 0h0m-252.4 2.8h0m145.2 0h0m-13.2 28.6h0m-64.3 2.9h0m89 0h0m75.9 0h0m16.5 0h0m-173.2 2.8h0m-82.5 5.8h0m89.1 0h0m151.8 0h0m-237.6 5.7h0m240.9 0h0m-260.7 5.7h0m67.7 2.8h0m-66 5.8h0m41.2 2.8h0m105.6 5.7h0m108.9 0h0m24.7 14.3h0m-161.6 5.7h0m153.4 2.9h0m-24.8 14.3h0m-183.1 2.8h0m-64.3 14.3h0m67.6 2.9h0m123.7 2.9h0m39.6 11.4h0m-1.6 2.8h0m-127 2.9h0m34.6 2.9h0m-44.5 2.8h0m6.6 0h0m-5 2.9h0m105.6 0h0"/><path stroke="#ff8b00" d="M631.3 13.5h0m-244.1 11.4h0m97.3 2.8h0m-31.3 2.9h0m145.1 5.7h0m-77.5 2.9h0m140.2 2.8h0m-156.7 8.6h0m151.8 0h0m-183.1 2.9h0m153.4 2.8h0m-201.3 5.7h0m41.3 2.9h0m151.7 0h0m-148.4 5.7h0m-69.3 11.4h0m151.7 0h0m-8.2 20.1h0m-51.1 2.8h0m41.2 2.9h0m-100.6 8.5h0m194.6 0h0m-98.9 5.8h0m-38 2.8h0m135.3 0h0m-57.8 2.9h0m-28 2.8h0m97.3 8.6h0m-232.6 2.9h0m18.2 2.8h0m57.7 2.9h0m66 0h0m-140.2 2.8h0m31.3 8.6h0m-51.1 2.9h0m259 2.8h0m-202.9 2.9h0m145.1 5.7h0m1.7 2.9h0m3.3 0h0m-34.7 2.8h0m-133.6 2.9h0m151.8 0h0m23.1 0h0m6.6 0h0m-70.9 2.8h0m127 2.9h0"/><path stroke="#ff7400" d="M502.7 19.2h0m173.2 8.5h0m-270.6 5.8h0m8.3 8.5h0m-16.6 5.8h0m5 8.5h0m148.5 5.7h0m82.5 0h0m-117.1 8.6h0m-28.1 25.7h0m-11.5 2.9h0m-66 22.9h0m6.6 11.4h0m191.3 0h0m18.2 2.8h0m-75.9 5.8h0m26.4 0h0m-168.3 5.7h0m178.2 5.7h0m-66 11.4h0"/></g><defs><pattern id="patb" patternUnits="userSpaceOnUse" x="382.200" y="10.600" width="3.3000" height="5.7158"><circle cx="0.000" cy="0.000" r="1.62" fill="url(#shd)"/><circle cx="3.300" cy="0.000" r="1.62" fill="url(#shd)"/><circle cx="1.650" cy="2.858" r="1.62" fill="url(#shd)"/><circle cx="0.000" cy="5.716" r="1.62" fill="url(#shd)"/><circle cx="3.300" cy="5.716" r="1.62" fill="url(#shd)"/></pattern></defs><rect x="381" y="8.8" width="300" height="180.7" fill="url(#patb)"/></g><rect x="381" y="11.8" width="300" height="174.7" fill="none" stroke="#222" stroke-width="1.3"/><rect x="381" y="12.3" width="49.60000000000002" height="19.7" fill="#fff"/><text x="388.7" y="27" font-family="Liberation Serif" font-weight="bold" font-size="10" fill="#111" textLength="34.6" lengthAdjust="spacingAndGlyphs">Layer B</text><defs><linearGradient id="cbb" x1="0" y1="0" x2="0" y2="1"><stop offset="0.00" stop-color="#800000"/><stop offset="0.05" stop-color="#b90000"/><stop offset="0.10" stop-color="#f30900"/><stop offset="0.15" stop-color="#ff3900"/><stop offset="0.20" stop-color="#ff6800"/><stop offset="0.25" stop-color="#ff9700"/><stop offset="0.30" stop-color="#ffc600"/><stop offset="0.35" stop-color="#f7f600"/><stop offset="0.40" stop-color="#ceff29"/><stop offset="0.45" stop-color="#a5ff52"/><stop offset="0.50" stop-color="#7bff7b"/><stop offset="0.55" stop-color="#52ffa5"/><stop offset="0.60" stop-color="#29ffce"/><stop offset="0.65" stop-color="#00e5f7"/><stop offset="0.70" stop-color="#00b3ff"/><stop offset="0.75" stop-color="#0080ff"/><stop offset="0.80" stop-color="#004cff"/><stop offset="0.85" stop-color="#001aff"/><stop offset="0.90" stop-color="#0000f3"/><stop offset="0.95" stop-color="#0000b9"/><stop offset="1.00" stop-color="#000080"/></linearGradient></defs><rect x="671" y="93" width="9.399999999999977" height="93.5" fill="url(#cbb)"/><rect x="646" y="90.8" width="25" height="14.100000000000009" fill="#fff"/><text x="648.3" y="101.1" font-family="Liberation Serif" font-size="10" fill="#2b2b6b">0.15 e</text><rect x="645.8" y="172" width="25.200000000000045" height="14.5" fill="#fff"/><text x="648" y="182.5" font-family="Liberation Serif" font-size="10" fill="#2b2b6b">0.12 e</text><g transform="translate(373.6 154.4) rotate(-90)" font-family="Liberation Serif" fill="#333"><text x="0.00" y="0" font-size="13.7">[10</text><text x="18.26" y="0" font-size="13.7">1</text><text x="25.11" y="0" font-size="13.7">0]</text><text x="36.52" y="3.56" font-size="8.2" font-style="italic">Al2O3</text><text x="60.43" y="0" font-size="13.7">||</text><text x="66.92" y="0" font-size="13.7">[1</text><text x="78.33" y="0" font-size="13.7">1</text><text x="85.18" y="0" font-size="13.7">0]</text><text x="96.59" y="3.56" font-size="8.2" font-style="italic">Al</text><path d="M19.50 -10.69H23.88M79.56 -10.69H83.95" stroke="#333" stroke-width="0.7"/></g><g transform="translate(481.6 203.8)" font-family="Liberation Serif" fill="#333"><text x="0.00" y="0" font-size="13.7">[</text><text x="4.56" y="0" font-size="13.7">1</text><text x="11.41" y="0" font-size="13.7">2</text><text x="18.26" y="0" font-size="13.7">1</text><text x="25.11" y="0" font-size="13.7">0]</text><text x="36.52" y="3.56" font-size="8.2" font-style="italic">Al2O3</text><text x="60.93" y="0" font-size="13.7">||</text><text x="67.42" y="0" font-size="13.7">[</text><text x="71.98" y="0" font-size="13.7">1</text><text x="78.83" y="0" font-size="13.7">1</text><text x="85.68" y="0" font-size="13.7">2]</text><text x="97.09" y="3.56" font-size="8.2" font-style="italic">Al</text><path d="M5.80 -10.69H10.18M19.50 -10.69H23.88M73.21 -10.69H77.60M80.06 -10.69H84.45" stroke="#333" stroke-width="0.7"/></g><path d="M369.8 43.9V31.8" stroke="#111" stroke-width="1"/><path d="M369.8 27.8l-2.3 6h4.6z" fill="#111"/><path d="M592.6 197H611.6" stroke="#111" stroke-width="1"/><path d="M615.6 197l-6 -2.3v4.6z" fill="#111"/>
<defs><clipPath id="clipc"><rect x="22" y="249.0" width="300.4" height="174.6"/></clipPath></defs><rect x="22" y="249.6" width="300.4" height="173.4" fill="#70b0a0"/><g clip-path="url(#clipc)"><g fill="none" stroke-linecap="round" stroke-width="3.30"><path stroke="#00008e" d="M29.4 248.6h0m3.2 0h0m134.4 0h0m150.4 0h0m-292.8 2.8h0m3.2 0h0m144 0h0m6.4 0h0m72 36h0m-152 2.8h0m3.2 0h0m153.6 0h0m-158.4 2.7h0m9.6 0h0m137.6 0h0m3.2 0h0m6.4 0h0m-155.2 2.8h0m75.2 36h0m6.4 0h0m-155.2 2.8h0m6.4 0h0m134.4 0h0m153.6 0h0m3.2 0h0m-4.8 2.8h0m-292.8 2.8h0m297.6 0h0m-228.8 36h0m3.2 0h0m3.2 0h0m3.2 0h0m144 0h0m3.2 0h0m3.2 0h0m-158.4 2.8h0m3.2 0h0m147.2 0h0m3.2 0h0m-152 2.7h0m3.2 0h0m3.2 0h0m-78.4 36h0m3.2 0h0m-1.6 2.8h0m140.8 0h0m3.2 0h0m3.2 0h0m3.2 0h0m140.8 0h0m3.2 0h0m-289.6 2.8h0m134.4 0h0m3.2 0h0m147.2 0h0m3.2 0h0"/><path stroke="#0000ab" d="M176.6 248.6h0m3.2 0h0m140.8 0h0m-145.6 2.8h0m147.2 0h0m-230.4 38.8h0m148.8 2.7h0m9.6 0h0m-155.2 2.8h0m6.4 0h0m-78.4 36h0m6.4 0h0m142.4 2.8h0m3.2 0h0m3.2 0h0m-155.2 2.8h0m3.2 0h0m3.2 0h0m137.6 0h0m3.2 0h0m6.4 0h0m144 0h0m-145.6 2.8h0m68.8 36h0m-139.2 2.8h0m142.4 2.7h0m75.2 36h0m-142.4 2.8h0m144 0h0m-299.2 2.8h0m3.2 0h0m150.4 0h0"/><path stroke="#0000c8" d="M168.6 251.4h0m155.2 2.7h0m-219.2 36.1h0m-14.4 2.7h0m166.4 0h0m-11.2 2.8h0m3.2 0h0m3.2 0h0m-1.6 2.8h0m-73.6 33.2h0m147.2 0h0m-8 2.8h0m-142.4 2.8h0m6.4 0h0m144 0h0m-222.4 36h0m147.2 0h0m8 2.8h0m-155.2 2.8h0m150.4 0h0m-8 2.7h0m9.6 0h0m-81.6 36h0m0 5.6h0m3.2 0h0m6.4 0h0m140.8 0h0"/><path stroke="#0000e5" d="M170.2 248.6h0m3.2 0h0m-8 2.8h0m153.6 0h0m-216 36h0m-8 2.8h0m12.8 0h0m137.6 0h0m3.2 0h0m-145.6 2.7h0m65.6 41.6h0m-140.8 5.6h0m144 0h0m70.4 38.8h0m12.8 0h0m-156.8 5.5h0m3.2 0h0m73.6 33.2h0m8 2.8h0"/><path stroke="#0000ff" d="M23 248.6h0m3.2 0h0m156.8 0h0m140.8 0h0m-300.8 5.5h0m147.2 0h0m4.8 2.8h0m64 33.3h0m3.2 0h0m9.6 0h0m-158.4 2.7h0m6.4 0h0m222.4 36.1h0m-296 2.7h0m144 0h0m150.4 0h0m-292.8 2.8h0m153.6 0h0m-155.2 8.3h0m78.4 30.5h0m-12.8 5.6h0m-1.6 2.7h0m60.8 0h0m89.6 0h0m9.6 0h0m6.4 0h0m-4.8 2.8h0m-152 2.8h0m150.4 0h0m-72 30.4h0m-155.2 2.8h0m6.4 0h0m3.2 0h0"/><path stroke="#000dff" d="M75.8 251.4h0m3.2 0h0m-52.8 2.7h0m51.2 0h0m96 0h0m-52.8 13.9h0m-20.8 19.4h0m6.4 0h0m140.8 0h0m-214.4 49.9h0m131.2 0h0m-140.8 5.5h0m249.6 11.1h0m-177.6 19.4h0m3.2 0h0m156.8 0h0m-148.8 2.8h0m1.6 2.8h0m150.4 0h0m41.6 0h0m-206.4 2.7h0m155.2 2.8h0m-49.6 13.8h0m116.8 19.4h0m3.2 0h0m-4.8 2.8h0"/><path stroke="#0026ff" d="M29.4 254.1h0m147.2 0h0m51.2 0h0m-105.6 11.1h0m3.2 0h0m-28.8 22.2h0m156.8 0h0m-164.8 2.8h0m169.6 0h0m46.4 2.7h0m-200 2.8h0m150.4 0h0m44.8 0h0m-148.8 2.8h0m153.6 0h0m-259.2 11.1h0m153.6 0h0m-148.8 2.7h0m147.2 0h0m120 19.4h0m-132.8 2.8h0m44.8 0h0m-148.8 2.8h0m144 0h0m6.4 0h0m-152 2.8h0m99.2 0h0m44.8 0h0m96 0h0m-145.6 2.7h0m-54.4 11.1h0m36.8 25h0m83.2 0h0m-144 5.5h0m150.4 0h0m57.6 0h0m-276.8 30.5h0"/><path stroke="#0040ff" d="M231 248.6h0m-200 2.8h0m49.6 2.7h0m38.4 11.1h0m150.4 0h0m-142.4 2.8h0m147.2 0h0m-176 16.6h0m3.2 0h0m144 0h0m-91.2 8.3h0m147.2 0h0m-59.2 2.8h0m60.8 0h0m-206.4 2.8h0m3.2 0h0m1.6 2.8h0m94.4 8.3h0m-152 2.7h0m128 16.7h0m54.4 5.5h0m-43.2 2.8h0m44.8 0h0m-59.2 2.8h0m-44.8 11h0m145.6 2.8h0m6.4 0h0m-25.6 16.6h0m-4.8 2.8h0m6.4 0h0m-161.6 2.8h0m150.4 0h0m-134.4 5.5h0m41.6 0h0m9.6 0h0m144 0h0m6.4 0h0m-155.2 2.8h0m-56 2.8h0m99.2 11h0m-27.2 19.4h0"/><path stroke="#0059ff" d="M77.4 248.6h0m147.2 0h0m89.6 0h0m-81.6 2.8h0m83.2 0h0m4.8 2.7h0m-227.2 33.3h0m150.4 0h0m-94.4 2.8h0m3.2 0h0m0 5.5h0m153.6 0h0m-59.2 2.8h0m6.4 0h0m48 0h0m-99.2 11.1h0m-174.4 19.4h0m291.2 0h0m-152 2.7h0m62.4 8.4h0m86.4 0h0m-139.2 2.7h0m147.2 0h0m-299.2 2.8h0m147.2 0h0m150.4 0h0m-75.2 24.9h0m-9.6 5.6h0m64 0h0m4.8 2.8h0m-201.6 5.5h0m44.8 0h0m-46.4 2.8h0m150.4 0h0m-206.4 8.3h0m155.2 2.7h0m-155.2 2.8h0m-17.6 13.9h0m137.6 0h0m150.4 0h0m-153.6 5.5h0"/><path stroke="#0073ff" d="M80.6 248.6h0m83.2 0h0m64 0h0m-46.4 2.8h0m-110.4 2.7h0m153.6 0h0m6.4 0h0m-206.4 2.8h0m3.2 0h0m244.8 8.3h0m-155.2 2.8h0m6.4 0h0m-4.8 2.8h0m153.6 0h0m-20.8 13.8h0m51.2 5.6h0m-193.6 2.7h0m48 0h0m150.4 0h0m-200 2.8h0m41.6 0h0m-56 2.8h0m60.8 0h0m91.2 2.8h0m6.4 0h0m-203.2 8.3h0m-1.6 2.7h0m153.6 0h0m-1.6 2.8h0m124.8 11.1h0m-155.2 2.8h0m6.4 0h0m3.2 0h0m136 2.7h0m-235.2 2.8h0m233.6 0h0m-241.6 2.8h0m3.2 0h0m3.2 0h0m236.8 0h0m-284.8 5.5h0m48 0h0m3.2 0h0m144 0h0m-104 8.3h0m1.6 2.8h0m3.2 0h0m-4.8 2.8h0m150.4 0h0m-27.2 13.8h0m-155.2 8.4h0m206.4 2.7h0m3.2 0h0m8 2.8h0m-204.8 5.5h0m150.4 0h0m-51.2 5.6h0m3.2 0h0m-155.2 2.7h0m3.2 0h0m118.4 16.7h0m150.4 0h0m-158.4 8.3h0"/><path stroke="#008cff" d="M115.8 248.6h0m148.8 2.8h0m-190.4 2.7h0m147.2 0h0m-49.6 2.8h0m48 0h0m102.4 0h0m-299.2 2.8h0m150.4 0h0m97.6 2.8h0m3.2 0h0m3.2 0h0m0 5.5h0m-155.2 2.8h0m-1.6 2.7h0m68.8 8.4h0m1.6 2.7h0m57.6 0h0m6.4 0h0m3.2 0h0m-224 5.6h0m116.8 2.7h0m35.2 0h0m25.6 0h0m-120 2.8h0m124.8 0h0m22.4 0h0m-140.8 5.6h0m48 0h0m6.4 0h0m102.4 0h0m-60.8 5.5h0m0 5.5h0m-164.8 13.9h0m140.8 0h0m96 0h0m-241.6 2.8h0m233.6 0h0m-75.2 2.7h0m83.2 0h0m-232 2.8h0m41.6 0h0m-44.8 5.6h0m41.6 0h0m3.2 0h0m89.6 0h0m60.8 0h0m-46.4 2.7h0m51.2 0h0m3.2 0h0m-161.6 2.8h0m3.2 0h0m6.4 0h0m-59.2 2.8h0m105.6 0h0m144 0h0m4.8 2.7h0m-153.6 5.6h0m3.2 0h0m-88 13.8h0m57.6 0h0m3.2 0h0m3.2 0h0m83.2 0h0m3.2 0h0m67.2 0h0m-40 2.8h0m22.4 0h0m-200 2.8h0m150.4 0h0m-1.6 2.8h0m-33.6 2.7h0m145.6 2.8h0m-148.8 2.8h0m3.2 0h0m89.6 0h0m-44.8 5.5h0m-145.6 2.8h0m-11.2 2.7h0m225.6 13.9h0m54.4 0h0m-299.2 2.8h0m236.8 0h0m9.6 0h0m-238.4 2.7h0m3.2 0h0m131.2 0h0m99.2 0h0m-155.2 2.8h0"/><path stroke="#00a6ff" d="M83.8 248.6h0m28.8 0h0m108.8 0h0m-187.2 2.8h0m48 0h0m35.2 0h0m67.2 0h0m41.6 0h0m3.2 0h0m38.4 0h0m-89.6 5.5h0m-56 2.8h0m150.4 0h0m3.2 0h0m-8 2.8h0m11.2 2.7h0m-11.2 2.8h0m3.2 0h0m-86.4 11.1h0m56 2.8h0m-193.6 2.7h0m195.2 0h0m-200 2.8h0m19.2 0h0m6.4 0h0m22.4 0h0m121.6 0h0m28.8 0h0m16 0h0m-219.2 2.8h0m3.2 0h0m28.8 0h0m112 0h0m115.2 0h0m-209.6 2.7h0m60.8 0h0m35.2 0h0m6.4 0h0m25.6 0h0m-126.4 2.8h0m67.2 0h0m137.6 0h0m-190.4 2.8h0m140.8 0h0m12.8 0h0m41.6 0h0m-49.6 2.8h0m48 0h0m-104 2.7h0m-152 2.8h0m1.6 2.8h0m9.6 0h0m140.8 0h0m11.2 2.7h0m-96 11.1h0m153.6 0h0m3.2 0h0m3.2 0h0m-161.6 2.8h0m57.6 0h0m12.8 0h0m3.2 0h0m3.2 0h0m-152 2.8h0m105.6 0h0m131.2 0h0m22.4 0h0m-177.6 2.7h0m32 0h0m115.2 0h0m9.6 0h0m19.2 0h0m-171.2 2.8h0m16 0h0m89.6 0h0m38.4 0h0m32 0h0m-72 2.8h0m41.6 0h0m-123.2 2.8h0m150.4 0h0m30.4 2.7h0m-88 2.8h0m86.4 0h0m-241.6 2.8h0m48 0h0m51.2 0h0m92.8 0h0m1.6 2.7h0m6.4 5.6h0m-158.4 2.8h0m6.4 0h0m64 5.5h0m-158.4 2.8h0m67.2 0h0m86.4 5.5h0m12.8 0h0m12.8 0h0m25.6 0h0m22.4 0h0m-225.6 2.8h0m25.6 0h0m28.8 0h0m22.4 0h0m76.8 0h0m118.4 0h0m3.2 0h0m-238.4 2.8h0m76.8 0h0m3.2 0h0m3.2 0h0m150.4 0h0m-113.6 2.7h0m22.4 0h0m3.2 0h0m89.6 0h0m-148.8 2.8h0m99.2 0h0m-161.6 2.8h0m153.6 0h0m-203.2 2.7h0m51.2 0h0m9.6 0h0m92.8 0h0m57.6 0h0m-211.2 5.6h0m150.4 0h0m3.2 0h0m-152 2.7h0m8 2.8h0m144 0h0m-148.8 2.8h0m68.8 8.3h0m144 0h0m-152 2.8h0m67.2 0h0m86.4 0h0m25.6 0h0m3.2 0h0m19.2 0h0m12.8 0h0m-209.6 2.7h0m67.2 0h0m108.8 0h0m3.2 0h0m-187.2 2.8h0m6.4 0h0m28.8 0h0m169.6 0h0m-52.8 2.8h0m6.4 0h0m3.2 0h0m19.2 0h0"/><path stroke="#00bfff" d="M119 248.6h0m16 0h0m131.2 0h0m3.2 0h0m12.8 0h0m12.8 0h0m16 0h0m-241.6 2.8h0m3.2 0h0m38.4 0h0m172.8 0h0m3.2 0h0m3.2 0h0m3.2 0h0m-113.6 2.7h0m134.4 0h0m3.2 0h0m-244.8 2.8h0m92.8 0h0m153.6 0h0m-148.8 2.8h0m9.6 0h0m137.6 0h0m3.2 0h0m-296 2.8h0m92.8 0h0m57.6 0h0m91.2 2.7h0m9.6 0h0m-160 5.6h0m9.6 0h0m3.2 0h0m-1.6 2.7h0m140.8 0h0m6.4 0h0m-86.4 5.6h0m6.4 0h0m-1.6 2.8h0m-161.6 2.7h0m57.6 0h0m19.2 0h0m3.2 0h0m124.8 0h0m3.2 0h0m-209.6 2.8h0m126.4 2.8h0m54.4 0h0m3.2 0h0m22.4 0h0m-196.8 2.7h0m32 0h0m150.4 0h0m16 0h0m-168 2.8h0m144 0h0m-152 2.8h0m153.6 0h0m25.6 0h0m70.4 0h0m-219.2 2.8h0m3.2 0h0m208 0h0m6.4 0h0m-260.8 2.7h0m147.2 0h0m105.6 0h0m-259.2 11.1h0m160 0h0m-179.2 11.1h0m86.4 0h0m57.6 0h0m102.4 0h0m3.2 0h0m-238.4 2.8h0m76.8 0h0m32 0h0m140.8 0h0m9.6 0h0m-260.8 2.7h0m41.6 0h0m3.2 0h0m86.4 0h0m60.8 0h0m67.2 0h0m-222.4 2.8h0m44.8 0h0m105.6 0h0m67.2 0h0m-168 2.8h0m25.6 0h0m147.2 0h0m3.2 0h0m-62.4 2.8h0m51.2 0h0m-145.6 2.7h0m3.2 0h0m28.8 0h0m-91.2 2.8h0m44.8 0h0m3.2 0h0m96 0h0m6.4 0h0m-110.4 2.8h0m3.2 0h0m153.6 0h0m-161.6 2.7h0m12.8 0h0m147.2 0h0m-158.4 2.8h0m-1.6 2.8h0m160 0h0m-158.4 2.8h0m153.6 0h0m3.2 0h0m3.2 0h0m-1.6 2.7h0m-182.4 5.6h0m1.6 2.7h0m160 0h0m-219.2 2.8h0m9.6 0h0m3.2 0h0m16 0h0m22.4 0h0m6.4 0h0m16 0h0m86.4 0h0m48 0h0m60.8 0h0m-4.8 2.8h0m-267.2 2.8h0m6.4 0h0m6.4 0h0m172.8 0h0m19.2 0h0m57.6 0h0m-75.2 2.7h0m19.2 0h0m-168 2.8h0m144 0h0m25.6 0h0m3.2 0h0m-136 2.8h0m-52.8 2.7h0m96 0h0m44.8 0h0m1.6 2.8h0m9.6 0h0m-164.8 2.8h0m9.6 0h0m142.4 2.7h0m8 2.8h0m-94.4 8.3h0m3.2 0h0m9.6 0h0m-11.2 2.8h0m32 0h0m28.8 0h0m3.2 0h0m-136 2.8h0m76.8 0h0m3.2 0h0m6.4 0h0m41.6 0h0m9.6 0h0m-68.8 2.7h0m150.4 0h0m-219.2 2.8h0m86.4 0h0m16 0h0m6.4 0h0m118.4 0h0m3.2 0h0m3.2 0h0m3.2 0h0m-238.4 2.8h0m80 0h0m6.4 0h0m19.2 0h0m44.8 0h0m76.8 0h0"/><path stroke="#00d9ff" d="M74.2 248.6h0m12.8 0h0m35.2 0h0m-56 2.8h0m19.2 0h0m28.8 0h0m32 0h0m73.6 0h0m3.2 0h0m-190.4 2.7h0m35.2 0h0m99.2 0h0m51.2 0h0m67.2 0h0m-209.6 2.8h0m140.8 0h0m6.4 0h0m6.4 0h0m-203.2 2.8h0m92.8 0h0m9.6 0h0m-100.8 2.8h0m96 0h0m105.6 0h0m35.2 0h0m16 0h0m-166.4 5.5h0m164.8 2.8h0m-155.2 2.7h0m148.8 2.8h0m-232 2.8h0m140.8 0h0m-148.8 2.8h0m9.6 0h0m48 0h0m153.6 0h0m-184 2.7h0m9.6 0h0m25.6 0h0m9.6 0h0m80 0h0m-148.8 2.8h0m3.2 0h0m32 0h0m112 0h0m118.4 0h0m-270.4 2.8h0m156.8 0h0m32 0h0m-158.4 2.7h0m156.8 0h0m41.6 0h0m38.4 0h0m12.8 0h0m-270.4 2.8h0m19.2 0h0m86.4 0h0m41.6 0h0m6.4 0h0m102.4 0h0m-206.4 2.8h0m57.6 0h0m9.6 0h0m-110.4 2.8h0m57.6 0h0m38.4 0h0m16 0h0m41.6 0h0m105.6 0h0m-59.2 2.7h0m3.2 0h0m48 0h0m-254.4 2.8h0m6.4 0h0m3.2 0h0m3.2 0h0m140.8 0h0m-8 2.8h0m-136 2.7h0m153.6 0h0m-158.4 2.8h0m1.6 2.8h0m140.8 0h0m67.2 5.5h0m-1.6 2.8h0m3.2 0h0m3.2 0h0m-148.8 2.8h0m3.2 0h0m6.4 0h0m57.6 0h0m3.2 0h0m3.2 0h0m73.6 0h0m48 0h0m-273.6 2.7h0m83.2 0h0m19.2 0h0m96 0h0m28.8 0h0m-155.2 2.8h0m3.2 0h0m9.6 0h0m25.6 0h0m16 0h0m102.4 0h0m19.2 0h0m-171.2 2.8h0m153.6 0h0m-132.8 2.8h0m86.4 0h0m16 0h0m28.8 0h0m32 0h0m-209.6 2.7h0m140.8 0h0m64 0h0m-171.2 2.8h0m48 0h0m6.4 0h0m99.2 0h0m-248 2.8h0m54.4 0h0m144 0h0m6.4 0h0m-113.6 2.7h0m-4.8 2.8h0m169.6 0h0m-158.4 8.3h0m144 0h0m-224 5.6h0m19.2 0h0m38.4 0h0m3.2 0h0m76.8 0h0m12.8 0h0m22.4 0h0m-171.2 2.7h0m147.2 0h0m-81.6 2.8h0m96 0h0m-136 2.8h0m83.2 0h0m3.2 0h0m22.4 0h0m19.2 0h0m9.6 0h0m12.8 0h0m12.8 0h0m25.6 0h0m35.2 0h0m-228.8 2.8h0m6.4 0h0m86.4 0h0m3.2 0h0m32 0h0m-123.2 2.7h0m240 0h0m-1.6 2.8h0m-164.8 2.8h0m150.4 0h0m12.8 0h0m-267.2 2.7h0m6.4 0h0m51.2 0h0m60.8 0h0m86.4 0h0m51.2 0h0m-248 2.8h0m102.4 0h0m41.6 0h0m54.4 0h0m54.4 0h0m-110.4 2.8h0m-136 2.7h0m148.8 2.8h0m-158.4 2.8h0m152 2.8h0m-81.6 2.7h0m147.2 0h0m-232 2.8h0m73.6 0h0m32 0h0m25.6 0h0m96 0h0m-225.6 2.8h0m86.4 0h0m41.6 0h0m96 0h0m38.4 0h0m-187.2 2.7h0m76.8 0h0m-67.2 5.6h0m153.6 0h0"/><path stroke="#0af2ec" d="M109.4 248.6h0m153.6 0h0m-174.4 2.8h0m54.4 0h0m92.8 0h0m-100.8 2.7h0m3.2 0h0m6.4 0h0m38.4 0h0m51.2 0h0m28.8 0h0m3.2 0h0m-196.8 2.8h0m12.8 0h0m3.2 0h0m140.8 0h0m60.8 0h0m28.8 0h0m-286.4 2.8h0m41.6 0h0m3.2 0h0m51.2 0h0m51.2 0h0m57.6 0h0m32 0h0m57.6 0h0m-241.6 2.8h0m44.8 0h0m51.2 0h0m144 0h0m-206.4 2.7h0m12.8 0h0m137.6 5.6h0m3.2 0h0m6.4 0h0m-158.4 2.7h0m153.6 0h0m-232 2.8h0m83.2 0h0m64 0h0m4.8 2.8h0m4.8 2.8h0m19.2 0h0m-171.2 2.7h0m48 0h0m96 0h0m6.4 0h0m16 0h0m6.4 0h0m3.2 0h0m-136 2.8h0m3.2 0h0m25.6 0h0m38.4 0h0m6.4 0h0m22.4 0h0m9.6 0h0m73.6 0h0m44.8 0h0m-248 2.8h0m51.2 0h0m80 0h0m108.8 0h0m9.6 0h0m-267.2 2.7h0m16 0h0m9.6 0h0m-24 2.8h0m214.4 0h0m51.2 0h0m-241.6 2.8h0m240 0h0m-244.8 2.8h0m134.4 0h0m102.4 0h0m-257.6 2.7h0m9.6 0h0m3.2 0h0m96 0h0m48 0h0m-152 2.8h0m153.6 0h0m99.2 0h0m-260.8 2.8h0m1.6 2.7h0m152 2.8h0m-76.8 5.6h0m147.2 0h0m-145.6 2.7h0m3.2 0h0m198.4 0h0m-283.2 2.8h0m80 0h0m19.2 0h0m3.2 0h0m48 0h0m131.2 0h0m-280 2.8h0m70.4 0h0m32 0h0m25.6 0h0m60.8 0h0m28.8 0h0m32 0h0m-184 2.7h0m3.2 0h0m3.2 0h0m6.4 0h0m6.4 0h0m19.2 0h0m115.2 0h0m16 0h0m9.6 0h0m28.8 0h0m-228.8 2.8h0m150.4 0h0m22.4 0h0m16 0h0m19.2 0h0m19.2 0h0m-225.6 2.8h0m32 0h0m22.4 0h0m96 0h0m-200 2.8h0m32 0h0m3.2 0h0m12.8 0h0m99.2 0h0m-148.8 2.7h0m102.4 0h0m48 0h0m54.4 0h0m48 0h0m-257.6 2.8h0m150.4 0h0m-107.2 2.8h0m208 0h0m-148.8 2.7h0m44.8 0h0m-46.4 2.8h0m150.4 0h0m-161.6 2.8h0m12.8 0h0m136 2.8h0m-233.6 5.5h0m12.8 0h0m-11.2 2.8h0m6.4 0h0m144 0h0m6.4 0h0m6.4 0h0m54.4 0h0m-184 2.7h0m115.2 0h0m25.6 0h0m6.4 0h0m25.6 0h0m-212.8 2.8h0m32 0h0m96 0h0m-43.2 2.8h0m38.4 0h0m41.6 0h0m22.4 0h0m-174.4 2.8h0m19.2 0h0m124.8 0h0m6.4 0h0m16 0h0m3.2 0h0m86.4 0h0m-260.8 2.7h0m22.4 0h0m6.4 0h0m44.8 0h0m32 0h0m-33.6 2.8h0m38.4 0h0m64 0h0m-52.8 2.8h0m38.4 0h0m105.6 0h0m3.2 0h0m6.4 0h0m-164.8 2.7h0m102.4 0h0m-203.2 2.8h0m9.6 0h0m195.2 0h0m48 0h0m-248 8.3h0m144 0h0m-142.4 2.8h0m140.8 0h0m-78.4 2.8h0m147.2 0h0m-4.8 2.7h0m-232 2.8h0m86.4 0h0m67.2 0h0m6.4 0h0m89.6 0h0m16 0h0m3.2 0h0m25.6 0h0m-174.4 2.8h0m35.2 0h0m-20.8 2.7h0m28.8 0h0m70.4 0h0m16 0h0m12.8 0h0m25.6 0h0m-177.6 2.8h0m25.6 0h0m25.6 0h0m108.8 0h0m12.8 0h0m-196.8 2.8h0m25.6 0h0m176 0h0"/><path stroke="#1fffd8" d="M35.8 248.6h0m70.4 0h0m112 0h0m19.2 0h0m19.2 0h0m3.2 0h0m-120 2.8h0m121.6 0h0m-177.6 2.7h0m204.8 0h0m6.4 0h0m-264 2.8h0m48 0h0m48 0h0m41.6 0h0m12.8 0h0m51.2 0h0m3.2 0h0m54.4 0h0m-62.4 2.8h0m51.2 0h0m-203.2 2.8h0m44.8 0h0m9.6 0h0m188.8 0h0m-188.8 5.5h0m134.4 0h0m-232 8.3h0m150.4 0h0m-152 2.8h0m3.2 0h0m14.4 2.8h0m48 0h0m3.2 0h0m80 0h0m3.2 0h0m67.2 0h0m6.4 0h0m-216 2.7h0m22.4 0h0m3.2 0h0m19.2 0h0m121.6 0h0m6.4 0h0m51.2 0h0m-232 2.8h0m12.8 0h0m19.2 0h0m44.8 0h0m44.8 0h0m32 0h0m6.4 0h0m22.4 0h0m3.2 0h0m41.6 0h0m-232 2.8h0m86.4 0h0m32 0h0m32 0h0m6.4 0h0m9.6 0h0m67.2 0h0m44.8 0h0m-273.6 2.7h0m12.8 0h0m38.4 0h0m76.8 0h0m48 0h0m-68.8 2.8h0m19.2 0h0m60.8 0h0m-155.2 2.8h0m76.8 0h0m3.2 0h0m67.2 0h0m83.2 0h0m-254.4 2.8h0m9.6 0h0m57.6 0h0m41.6 0h0m41.6 0h0m12.8 0h0m89.6 0h0m-200 2.7h0m6.4 0h0m3.2 0h0m44.8 0h0m41.6 0h0m118.4 0h0m-155.2 2.8h0m35.2 0h0m3.2 0h0m-1.6 8.3h0m-142.4 2.8h0m153.6 0h0m-88 2.8h0m6.4 0h0m76.8 0h0m60.8 0h0m12.8 0h0m-238.4 2.7h0m80 0h0m54.4 0h0m3.2 0h0m86.4 0h0m67.2 0h0m-296 2.8h0m92.8 0h0m25.6 0h0m16 0h0m160 0h0m-216 2.8h0m54.4 0h0m92.8 0h0m19.2 0h0m35.2 0h0m9.6 0h0m-276.8 2.7h0m41.6 0h0m51.2 0h0m86.4 0h0m89.6 0h0m-241.6 2.8h0m6.4 0h0m64 0h0m3.2 0h0m3.2 0h0m115.2 0h0m-222.4 2.8h0m105.6 0h0m128 0h0m-158.4 2.8h0m32 0h0m73.6 0h0m22.4 0h0m54.4 0h0m19.2 0h0m-241.6 2.7h0m3.2 0h0m9.6 0h0m60.8 0h0m22.4 0h0m51.2 0h0m-184 2.8h0m32 0h0m51.2 0h0m64 0h0m-14.4 2.8h0m6.4 0h0m54.4 0h0m40 2.7h0m-1.6 2.8h0m1.6 2.8h0m-150.4 5.5h0m153.6 0h0m-232 2.8h0m148.8 2.8h0m25.6 0h0m-152 2.7h0m25.6 0h0m3.2 0h0m22.4 0h0m-75.2 2.8h0m44.8 0h0m6.4 0h0m89.6 0h0m3.2 0h0m6.4 0h0m3.2 0h0m-161.6 2.8h0m12.8 0h0m22.4 0h0m80 0h0m16 0h0m22.4 0h0m35.2 0h0m-185.6 5.5h0m6.4 0h0m28.8 0h0m76.8 0h0m48 0h0m16 0h0m-168 2.8h0m22.4 0h0m76.8 0h0m3.2 0h0m16 0h0m57.6 0h0m80 0h0m-248 2.8h0m99.2 0h0m64 0h0m6.4 0h0m-126.4 2.7h0m60.8 0h0m147.2 0h0m-203.2 2.8h0m57.6 0h0m153.6 0h0m-251.2 2.8h0m132.8 2.7h0m17.6 2.8h0m-17.6 2.8h0m6.4 0h0m-88 2.8h0m62.4 2.7h0m-142.4 2.8h0m96 0h0m41.6 0h0m118.4 0h0m-148.8 2.8h0m48 0h0m83.2 0h0m6.4 0h0m-155.2 2.7h0m3.2 0h0m16 0h0m3.2 0h0m22.4 0h0m99.2 0h0m9.6 0h0m20.8 2.8h0"/><path stroke="#33ffc3" d="M71 248.6h0m70.4 0h0m3.2 0h0m89.6 0h0m51.2 0h0m3.2 0h0m19.2 0h0m-187.2 2.8h0m96 0h0m22.4 0h0m19.2 0h0m38.4 0h0m16 0h0m-225.6 2.7h0m25.6 0h0m3.2 0h0m25.6 0h0m6.4 0h0m144 0h0m-257.6 2.8h0m150.4 0h0m86.4 0h0m12.8 0h0m-206.4 2.8h0m3.2 0h0m3.2 0h0m32 0h0m-84.8 2.8h0m192 0h0m3.2 0h0m-94.4 2.7h0m-19.2 5.6h0m-70.4 5.5h0m73.6 0h0m9.6 0h0m-88 2.8h0m54.4 0h0m9.6 0h0m-62.4 2.8h0m22.4 0h0m25.6 0h0m99.2 0h0m12.8 0h0m9.6 0h0m28.8 0h0m16 0h0m-225.6 2.7h0m6.4 0h0m3.2 0h0m115.2 0h0m44.8 0h0m35.2 0h0m-36.8 2.8h0m41.6 0h0m-193.6 2.8h0m12.8 0h0m28.8 0h0m112 0h0m9.6 0h0m9.6 0h0m96 0h0m-276.8 2.7h0m156.8 0h0m3.2 0h0m99.2 0h0m-260.8 2.8h0m28.8 0h0m9.6 0h0m70.4 0h0m19.2 0h0m28.8 0h0m70.4 0h0m28.8 0h0m-244.8 2.8h0m25.6 0h0m38.4 0h0m51.2 0h0m60.8 0h0m-155.2 2.8h0m89.6 0h0m54.4 0h0m32 0h0m70.4 0h0m-216 2.7h0m57.6 0h0m6.4 0h0m83.2 0h0m9.6 0h0m3.2 0h0m38.4 0h0m-91.2 2.8h0m-148.8 2.8h0m132.8 2.7h0m3.2 0h0m-145.6 2.8h0m9.6 0h0m140.8 0h0m-152 2.8h0m150.4 0h0m3.2 0h0m62.4 2.8h0m-145.6 2.7h0m60.8 0h0m115.2 0h0m-257.6 2.8h0m80 0h0m12.8 0h0m48 0h0m112 0h0m-164.8 2.8h0m12.8 0h0m12.8 0h0m9.6 0h0m6.4 0h0m67.2 0h0m35.2 0h0m-196.8 2.7h0m160 0h0m-142.4 2.8h0m150.4 0h0m32 0h0m38.4 0h0m-238.4 2.8h0m67.2 0h0m25.6 0h0m57.6 0h0m41.6 0h0m22.4 0h0m3.2 0h0m-164.8 2.8h0m16 0h0m9.6 0h0m140.8 0h0m-222.4 2.7h0m57.6 0h0m144 0h0m3.2 0h0m19.2 0h0m25.6 0h0m3.2 0h0m-97.6 2.8h0m6.4 0h0m9.6 0h0m-65.6 2.8h0m92.8 0h0m3.2 0h0m16 0h0m38.4 0h0m-296 2.7h0m204.8 0h0m51.2 0h0m41.6 0h0m-57.6 5.6h0m16 0h0m-168 2.8h0m166.4 0h0m-88 2.7h0m-153.6 5.6h0m48 0h0m9.6 0h0m83.2 0h0m60.8 0h0m6.4 0h0m12.8 0h0m-225.6 2.7h0m3.2 0h0m6.4 0h0m41.6 0h0m22.4 0h0m3.2 0h0m102.4 0h0m19.2 0h0m-200 2.8h0m9.6 0h0m25.6 0h0m48 0h0m32 0h0m67.2 0h0m48 0h0m3.2 0h0m32 0h0m-260.8 2.8h0m9.6 0h0m16 0h0m86.4 0h0m64 0h0m-148.8 2.8h0m48 0h0m102.4 0h0m9.6 0h0m38.4 0h0m48 0h0m-222.4 2.7h0m73.6 0h0m22.4 0h0m3.2 0h0m35.2 0h0m-129.6 2.8h0m201.6 0h0m-251.2 2.8h0m22.4 0h0m25.6 0h0m124.8 0h0m41.6 0h0m41.6 0h0m-248 2.7h0m57.6 0h0m198.4 0h0m3.2 0h0m3.2 0h0m-270.4 2.8h0m9.6 0h0m6.4 0h0m35.2 0h0m96 0h0m12.8 0h0m54.4 0h0m-68.8 2.8h0m-147.2 5.5h0m3.2 0h0m-1.6 2.8h0m12.8 0h0m144 0h0m-152 2.8h0m212.8 2.7h0m-222.4 2.8h0m76.8 0h0m44.8 0h0m16 0h0m89.6 0h0m6.4 0h0m16 0h0m-148.8 2.8h0m169.6 0h0m-270.4 2.7h0m73.6 0h0m22.4 0h0m12.8 0h0m9.6 0h0m112 0h0m41.6 0h0m-270.4 2.8h0m64 0h0m12.8 0h0m3.2 0h0m140.8 0h0m-116.8 2.8h0m44.8 0h0m108.8 0h0"/><path stroke="#48ffaf" d="M67.8 248.6h0m64 0h0m6.4 0h0m19.2 0h0m28.8 0h0m86.4 0h0m19.2 0h0m-158.4 2.8h0m3.2 0h0m25.6 0h0m108.8 0h0m9.6 0h0m-190.4 2.7h0m192 0h0m-216 2.8h0m73.6 0h0m6.4 0h0m147.2 0h0m-260.8 2.8h0m54.4 0h0m80 0h0m54.4 0h0m3.2 0h0m6.4 0h0m-161.6 2.8h0m9.6 0h0m35.2 0h0m105.6 0h0m12.8 0h0m3.2 0h0m-212.8 2.7h0m240 0h0m19.2 0h0m41.6 0h0m-190.4 2.8h0m128 0h0m19.2 0h0m-17.6 2.8h0m14.4 2.7h0m-148.8 2.8h0m-65.6 2.8h0m115.2 0h0m67.2 0h0m-209.6 2.8h0m9.6 0h0m12.8 0h0m6.4 0h0m3.2 0h0m25.6 0h0m9.6 0h0m108.8 0h0m6.4 0h0m28.8 0h0m-196.8 2.7h0m6.4 0h0m25.6 0h0m96 0h0m3.2 0h0m19.2 0h0m-142.4 2.8h0m150.4 0h0m12.8 0h0m12.8 0h0m70.4 0h0m-254.4 2.8h0m12.8 0h0m3.2 0h0m6.4 0h0m9.6 0h0m60.8 0h0m-78.4 2.7h0m80 0h0m147.2 0h0m22.4 0h0m-276.8 2.8h0m28.8 0h0m118.4 0h0m22.4 0h0m3.2 0h0m12.8 0h0m-180.8 2.8h0m44.8 0h0m19.2 0h0m182.4 0h0m3.2 0h0m-78.4 2.8h0m3.2 0h0m3.2 0h0m-174.4 2.7h0m44.8 0h0m19.2 0h0m48 0h0m44.8 0h0m3.2 0h0m-107.2 2.8h0m3.2 0h0m147.2 0h0m-43.2 2.8h0m-148.8 2.7h0m-17.6 2.8h0m12.8 0h0m212.8 2.8h0m-155.2 2.8h0m-84.8 2.7h0m80 0h0m38.4 0h0m35.2 0h0m-46.4 2.8h0m160 0h0m22.4 0h0m-212.8 2.8h0m172.8 0h0m38.4 0h0m-155.2 2.7h0m3.2 0h0m25.6 0h0m35.2 0h0m32 0h0m32 0h0m9.6 0h0m-145.6 2.8h0m6.4 0h0m124.8 0h0m-65.6 2.8h0m73.6 0h0m-203.2 2.8h0m32 0h0m-81.6 2.7h0m32 0h0m57.6 0h0m38.4 0h0m57.6 0h0m-152 2.8h0m19.2 0h0m25.6 0h0m70.4 0h0m83.2 0h0m3.2 0h0m-196.8 2.8h0m9.6 0h0m32 0h0m201.6 0h0m6.4 0h0m-190.4 2.7h0m131.2 0h0m-132.8 2.8h0m131.2 0h0m-1.6 2.8h0m-139.2 2.8h0m-81.6 2.7h0m80 0h0m64 0h0m3.2 0h0m-152 2.8h0m6.4 0h0m140.8 0h0m3.2 0h0m86.4 0h0m-225.6 2.8h0m41.6 0h0m147.2 0h0m12.8 0h0m-219.2 2.7h0m19.2 0h0m16 0h0m6.4 0h0m108.8 0h0m16 0h0m41.6 0h0m22.4 0h0m3.2 0h0m36.8 2.8h0m-244.8 2.8h0m12.8 0h0m48 0h0m80 0h0m35.2 0h0m80 0h0m-276.8 2.8h0m144 0h0m19.2 0h0m22.4 0h0m12.8 0h0m80 0h0m-270.4 2.7h0m19.2 0h0m134.4 0h0m64 0h0m-200 2.8h0m28.8 0h0m73.6 0h0m32 0h0m-148.8 2.8h0m16 0h0m99.2 0h0m38.4 0h0m6.4 0h0m-49.6 2.7h0m44.8 0h0m3.2 0h0m38.4 0h0m51.2 0h0m9.6 0h0m-264 2.8h0m60.8 0h0m3.2 0h0m57.6 0h0m-123.2 2.8h0m211.2 0h0m3.2 0h0m-193.6 2.7h0m147.2 0h0m-14.4 2.8h0m-152 2.8h0m166.4 0h0m-155.2 2.8h0m62.4 2.7h0m67.2 0h0m86.4 0h0m3.2 0h0m-235.2 2.8h0m86.4 0h0m22.4 0h0m3.2 0h0m108.8 0h0m57.6 0h0m3.2 0h0m-212.8 2.8h0m3.2 0h0m35.2 0h0m16 0h0m96 0h0m32 0h0m28.8 0h0m-273.6 2.7h0m83.2 0h0m19.2 0h0m48 0h0m92.8 0h0m12.8 0h0m-171.2 2.8h0m6.4 0h0m121.6 0h0m3.2 0h0m25.6 0h0m3.2 0h0m3.2 0h0m16 0h0m-196.8 2.8h0m38.4 0h0m108.8 0h0m28.8 0h0m6.4 0h0m3.2 0h0"/><path stroke="#5dff9a" d="M90.2 248.6h0m70.4 0h0m52.8 2.8h0m96 0h0m-200 2.7h0m12.8 0h0m115.2 0h0m-113.6 2.8h0m150.4 0h0m-206.4 2.8h0m96 0h0m105.6 0h0m-100.8 2.8h0m3.2 0h0m-94.4 2.7h0m96 0h0m-41.6 5.6h0m-102.4 5.5h0m150.4 0h0m12.8 0h0m-148.8 2.8h0m153.6 0h0m51.2 0h0m-177.6 2.8h0m35.2 0h0m3.2 0h0m112 0h0m-107.2 2.7h0m147.2 0h0m35.2 0h0m-248 2.8h0m6.4 0h0m92.8 0h0m51.2 0h0m99.2 0h0m-251.2 2.8h0m112 0h0m73.6 0h0m-176 5.5h0m256 0h0m-273.6 2.8h0m179.2 0h0m-174.4 2.8h0m9.6 0h0m108.8 0h0m-56 2.7h0m38.4 0h0m96 0h0m64 0h0m-209.6 2.8h0m54.4 0h0m9.6 0h0m48 0h0m-166.4 11.1h0m12.8 0h0m52.8 2.8h0m92.8 0h0m67.2 0h0m-238.4 2.7h0m108.8 0h0m48 0h0m86.4 0h0m22.4 0h0m16 0h0m-187.2 2.8h0m19.2 0h0m147.2 0h0m6.4 0h0m16 0h0m-232 2.8h0m144 0h0m73.6 0h0m-254.4 2.7h0m28.8 0h0m64 0h0m12.8 0h0m83.2 0h0m-72 2.8h0m80 0h0m57.6 0h0m-209.6 2.8h0m19.2 0h0m3.2 0h0m38.4 0h0m150.4 0h0m9.6 0h0m3.2 0h0m-161.6 2.8h0m35.2 0h0m-68.8 2.7h0m3.2 0h0m144 0h0m32 0h0m-264 2.8h0m105.6 0h0m28.8 0h0m99.2 0h0m12.8 0h0m3.2 0h0m12.8 0h0m-264 2.8h0m3.2 0h0m54.4 0h0m134.4 0h0m4.8 2.7h0m57.6 0h0m0 5.6h0m-155.2 2.8h0m-97.6 2.7h0m6.4 0h0m144 0h0m-84.8 2.8h0m96 0h0m57.6 0h0m25.6 0h0m-206.4 2.8h0m41.6 0h0m89.6 0h0m41.6 0h0m12.8 0h0m6.4 0h0m-203.2 2.7h0m118.4 0h0m41.6 0h0m-168 2.8h0m19.2 0h0m48 0h0m35.2 0h0m48 0h0m22.4 0h0m9.6 0h0m-184 2.8h0m35.2 0h0m-36.8 2.8h0m9.6 0h0m25.6 0h0m3.2 0h0m57.6 0h0m38.4 0h0m-132.8 2.7h0m115.2 0h0m41.6 0h0m86.4 0h0m22.4 0h0m-276.8 2.8h0m28.8 0h0m153.6 0h0m38.4 0h0m3.2 0h0m51.2 0h0m-260.8 2.8h0m6.4 0h0m9.6 0h0m73.6 0h0m22.4 0h0m38.4 0h0m35.2 0h0m3.2 0h0m-180.8 2.7h0m88 2.8h0m9.6 0h0m147.2 0h0m-97.6 2.8h0m96 0h0m-264 2.7h0m163.2 5.6h0m-172.8 5.5h0m137.6 0h0m6.4 0h0m115.2 0h0m32 0h0m-139.2 2.8h0m128 0h0m-270.4 2.8h0m236.8 0h0m6.4 0h0m24 2.7h0m-158.4 2.8h0m6.4 0h0m-49.6 2.8h0m25.6 0h0m3.2 0h0"/><path stroke="#71ff86" d="M64.6 248.6h0m188.8 0h0m44.8 0h0m-190.4 2.8h0m166.4 0h0m-238.4 2.7h0m96 0h0m32 0h0m22.4 0h0m73.6 0h0m-142.4 2.8h0m19.2 0h0m6.4 0h0m153.6 0h0m-232 2.8h0m67.2 0h0m86.4 0h0m64 0h0m-209.6 2.8h0m112 0h0m99.2 0h0m-257.6 2.7h0m44.8 0h0m9.6 0h0m32 0h0m22.4 0h0m41.6 0h0m144 0h0m-206.4 8.3h0m70.4 0h0m80 0h0m16 0h0m-244.8 2.8h0m83.2 0h0m70.4 0h0m86.4 0h0m-228.8 2.8h0m76.8 0h0m86.4 0h0m6.4 0h0m35.2 0h0m-222.4 2.8h0m126.4 2.7h0m3.2 0h0m-14.4 2.8h0m86.4 0h0m59.2 2.8h0m3.2 0h0m-264 2.7h0m25.6 0h0m19.2 0h0m38.4 0h0m25.6 0h0m3.2 0h0m83.2 0h0m38.4 0h0m-99.2 5.6h0m32 0h0m64 0h0m54.4 0h0m-225.6 2.8h0m105.6 0h0m12.8 0h0m32 0h0m19.2 0h0m-200 2.7h0m3.2 0h0m-24 2.8h0m105.6 0h0m108.8 0h0m44.8 0h0m6.4 0h0m-265.6 5.5h0m168 2.8h0m-1.6 2.8h0m64 0h0m-75.2 2.8h0m80 0h0m-238.4 2.7h0m137.6 0h0m140.8 0h0m-209.6 2.8h0m204.8 0h0m-267.2 2.8h0m35.2 0h0m51.2 0h0m105.6 0h0m48 0h0m-196.8 2.7h0m41.6 0h0m64 0h0m108.8 0h0m-260.8 2.8h0m3.2 0h0m64 0h0m19.2 0h0m6.4 0h0m86.4 0h0m83.2 0h0m-168 2.8h0m105.6 0h0m35.2 0h0m-164.8 2.8h0m6.4 0h0m-28.8 5.5h0m48 0h0m9.6 0h0m73.6 0h0m99.2 0h0m-248 2.8h0m44.8 0h0m19.2 0h0m48 0h0m-104 2.7h0m96 0h0m6.4 0h0m81.6 2.8h0m-225.6 8.3h0m96 0h0m-24 2.8h0m12.8 0h0m57.6 0h0m3.2 0h0m16 0h0m51.2 0h0m-196.8 2.8h0m6.4 0h0m9.6 0h0m41.6 0h0m102.4 0h0m-184 2.7h0m25.6 0h0m64 0h0m35.2 0h0m48 0h0m35.2 0h0m-155.2 2.8h0m70.4 0h0m70.4 0h0m89.6 0h0m-283.2 2.8h0m25.6 0h0m28.8 0h0m96 0h0m28.8 0h0m57.6 0h0m-123.2 2.8h0m25.6 0h0m38.4 0h0m86.4 0h0m-244.8 2.7h0m9.6 0h0m19.2 0h0m124.8 0h0m35.2 0h0m-177.6 2.8h0m16 0h0m217.6 0h0m-180.8 2.8h0m80 0h0m3.2 0h0m67.2 0h0m-193.6 2.7h0m124.8 0h0m67.2 0h0m32 0h0m-36.8 2.8h0m57.6 0h0m-206.4 2.8h0m201.6 0h0m-120 2.7h0m-148.8 2.8h0m19.2 0h0m131.2 0h0m75.2 2.8h0m-158.4 2.8h0m6.4 0h0m153.6 0h0m3.2 0h0m3.2 0h0m-225.6 2.7h0m3.2 0h0m54.4 0h0m32 0h0m188.8 0h0m-222.4 2.8h0m32 0h0m-33.6 2.8h0m86.4 0h0m-56 2.7h0m-88 2.8h0m81.6 2.8h0m25.6 0h0"/><path stroke="#86ff71" d="M147.8 248.6h0m41.6 0h0m112 0h0m-86.4 5.5h0m64 0h0m19.2 0h0m-235.2 2.8h0m51.2 0h0m6.4 0h0m118.4 0h0m28.8 0h0m44.8 0h0m-177.6 2.8h0m48 0h0m54.4 0h0m76.8 0h0m-248 2.8h0m19.2 0h0m136 2.7h0m-110.4 2.8h0m172.8 0h0m-174.4 2.8h0m172.8 0h0m-94.4 2.7h0m-142.4 2.8h0m217.6 0h0m3.2 0h0m3.2 0h0m-241.6 2.8h0m70.4 0h0m172.8 0h0m-219.2 2.8h0m208 0h0m-142.4 2.7h0m105.6 0h0m44.8 0h0m32 0h0m3.2 0h0m-228.8 2.8h0m131.2 0h0m86.4 0h0m3.2 0h0m16 0h0m-193.6 2.8h0m44.8 0h0m3.2 0h0m35.2 0h0m3.2 0h0m19.2 0h0m6.4 0h0m-180.8 2.7h0m240 0h0m-123.2 2.8h0m121.6 0h0m-228.8 2.8h0m134.4 0h0m16 0h0m-139.2 2.8h0m41.6 0h0m28.8 0h0m152 2.7h0m19.2 0h0m-164.8 2.8h0m9.6 0h0m89.6 0h0m64 0h0m-251.2 2.8h0m128 0h0m60.8 0h0m3.2 0h0m-216 2.7h0m25.6 0h0m148.8 2.8h0m-160 5.6h0m204.8 0h0m67.2 0h0m-283.2 2.7h0m64 0h0m38.4 0h0m22.4 0h0m19.2 0h0m6.4 0h0m99.2 0h0m28.8 0h0m-158.4 2.8h0m92.8 0h0m3.2 0h0m22.4 0h0m6.4 0h0m-209.6 2.8h0m57.6 0h0m118.4 0h0m28.8 0h0m-212.8 2.7h0m22.4 0h0m67.2 0h0m121.6 0h0m3.2 0h0m-91.2 2.8h0m115.2 0h0m-238.4 2.8h0m57.6 0h0m35.2 0h0m28.8 0h0m3.2 0h0m67.2 0h0m48 0h0m-216 2.8h0m172.8 0h0m6.4 0h0m-120 2.7h0m12.8 0h0m118.4 0h0m-148.8 2.8h0m16 0h0m144 0h0m-72 2.8h0m16 0h0m-206.4 2.7h0m291.2 0h0m-142.4 2.8h0m147.2 0h0m-196.8 8.3h0m150.4 0h0m-216 2.8h0m6.4 0h0m32 0h0m28.8 0h0m70.4 0h0m41.6 0h0m-216 2.8h0m3.2 0h0m179.2 0h0m12.8 0h0m-14.4 2.7h0m16 0h0m76.8 0h0m9.6 0h0m-251.2 2.8h0m105.6 0h0m67.2 0h0m64 0h0m12.8 0h0m-104 2.8h0m22.4 0h0m67.2 0h0m-216 2.8h0m150.4 0h0m89.6 0h0m-150.4 5.5h0m22.4 0h0m9.6 0h0m38.4 0h0m51.2 0h0m-120 2.8h0m124.8 0h0m-148.8 2.7h0m19.2 0h0m3.2 0h0m73.6 0h0m-129.6 2.8h0m99.2 0h0m32 0h0m3.2 0h0m51.2 0h0m-139.2 2.8h0m89.6 0h0m-139.2 8.3h0m160 0h0m-222.4 2.8h0m9.6 0h0m64 0h0m83.2 0h0m54.4 0h0m3.2 0h0m-235.2 2.7h0m9.6 0h0m112 0h0m16 0h0m32 0h0m60.8 0h0m19.2 0h0m41.6 0h0m3.2 0h0m-129.6 2.8h0m118.4 0h0m-174.4 2.8h0m-30.4 2.7h0m179.2 0h0m-152 2.8h0m28.8 0h0m118.4 0h0m-116.8 2.8h0m92.8 0h0m28.8 0h0m19.2 0h0m9.6 0h0"/><path stroke="#9aff5d" d="M39 248.6h0m86.4 0h0m89.6 0h0m-174.4 2.8h0m19.2 0h0m89.6 0h0m6.4 0h0m3.2 0h0m48 0h0m48 0h0m44.8 0h0m-180.8 2.7h0m9.6 0h0m22.4 0h0m89.6 0h0m28.8 0h0m-139.2 2.8h0m3.2 0h0m144 0h0m22.4 0h0m-209.6 2.8h0m-56 2.8h0m147.2 0h0m32 0h0m-184 2.7h0m44.8 0h0m96 0h0m4.8 2.8h0m-152 2.8h0m227.2 0h0m-120 2.7h0m41.6 0h0m-81.6 2.8h0m9.6 0h0m-33.6 2.8h0m3.2 0h0m25.6 0h0m9.6 0h0m16 0h0m99.2 0h0m16 0h0m3.2 0h0m-68.8 2.8h0m105.6 0h0m22.4 0h0m6.4 0h0m-251.2 2.7h0m240 0h0m12.8 0h0m-225.6 2.8h0m35.2 0h0m25.6 0h0m35.2 0h0m25.6 0h0m22.4 0h0m3.2 0h0m38.4 0h0m22.4 0h0m-24 2.8h0m3.2 0h0m12.8 0h0m-152 2.7h0m35.2 0h0m16 0h0m19.2 0h0m6.4 0h0m28.8 0h0m-184 2.8h0m60.8 0h0m70.4 0h0m16 0h0m-65.6 2.8h0m6.4 0h0m48 0h0m3.2 0h0m12.8 0h0m22.4 0h0m3.2 0h0m9.6 0h0m44.8 0h0m-225.6 2.8h0m3.2 0h0m73.6 0h0m32 0h0m96 0h0m28.8 0h0m25.6 0h0m-276.8 2.7h0m169.6 0h0m3.2 0h0m25.6 0h0m51.2 0h0m-78.4 2.8h0m32 0h0m12.8 0h0m51.2 0h0m-209.6 2.8h0m6.4 0h0m105.6 0h0m89.6 0h0m12.8 0h0m9.6 0h0m-158.4 2.7h0m19.2 0h0m-158.4 2.8h0m84.8 2.8h0m57.6 0h0m92.8 0h0m3.2 0h0m-238.4 2.8h0m22.4 0h0m33.6 2.7h0m44.8 0h0m35.2 0h0m124.8 0h0m-244.8 2.8h0m9.6 0h0m41.6 0h0m99.2 0h0m89.6 0h0m-232 2.8h0m105.6 0h0m41.6 0h0m22.4 0h0m3.2 0h0m16 0h0m67.2 0h0m-174.4 2.7h0m108.8 0h0m-174.4 2.8h0m38.4 0h0m172.8 0h0m-171.2 2.8h0m25.6 0h0m147.2 0h0m25.6 0h0m-139.2 2.8h0m49.6 2.7h0m3.2 0h0m57.6 0h0m-209.6 2.8h0m28.8 0h0m48 0h0m22.4 0h0m51.2 0h0m73.6 0h0m25.6 0h0m-222.4 2.8h0m147.2 0h0m-152 2.7h0m131.2 0h0m16 0h0m3.2 0h0m-136 2.8h0m32 5.6h0m48 0h0m102.4 0h0m-238.4 2.7h0m60.8 0h0m9.6 0h0m64 0h0m16 0h0m70.4 0h0m-235.2 2.8h0m19.2 0h0m16 0h0m38.4 0h0m60.8 0h0m51.2 0h0m19.2 0h0m19.2 0h0m6.4 0h0m6.4 0h0m44.8 0h0m-251.2 2.8h0m60.8 0h0m144 0h0m38.4 0h0m-280 2.7h0m57.6 0h0m92.8 0h0m128 0h0m12.8 0h0m3.2 0h0m-174.4 2.8h0m16 0h0m16 0h0m28.8 0h0m67.2 0h0m-107.2 2.8h0m64 0h0m96 0h0m-56 2.8h0m-155.2 2.7h0m89.6 0h0m60.8 0h0m-216 2.8h0m35.2 0h0m102.4 0h0m6.4 0h0m-120 2.8h0m17.6 2.7h0m44.8 0h0m73.6 0h0m12.8 0h0m-184 2.8h0m176 0h0m51.2 0h0m57.6 0h0m-212.8 2.8h0m192 0h0m9.6 0h0m-152 2.7h0m51.2 0h0m112 0h0m-139.2 2.8h0m131.2 0h0m1.6 2.8h0m-193.6 2.8h0m48 0h0m3.2 0h0m22.4 0h0m9.6 0h0m-177.6 2.7h0m60.8 0h0m35.2 0h0m16 0h0m9.6 0h0m9.6 0h0m19.2 0h0m19.2 0h0m32 0h0m19.2 0h0m38.4 0h0m-244.8 2.8h0m115.2 0h0m38.4 0h0m6.4 0h0m76.8 0h0m-235.2 2.8h0m83.2 0h0m22.4 0h0m41.6 0h0m6.4 0h0m-152 2.7h0m201.6 0h0m6.4 0h0m25.6 0h0m25.6 0h0m-113.6 2.8h0m48 0h0m41.6 0h0m19.2 0h0m-260.8 2.8h0m32 0h0m121.6 0h0m115.2 0h0"/><path stroke="#afff48" d="M58.2 248.6h0m220.8 0h0m25.6 0h0m-267.2 2.8h0m16 0h0m134.4 0h0m16 0h0m6.4 0h0m-171.2 2.7h0m22.4 0h0m3.2 0h0m89.6 0h0m147.2 0h0m-248 2.8h0m35.2 0h0m3.2 0h0m118.4 0h0m51.2 0h0m3.2 0h0m-225.6 2.8h0m73.6 0h0m32 0h0m12.8 0h0m3.2 0h0m131.2 0h0m3.2 0h0m16 0h0m-158.4 2.8h0m3.2 0h0m32 0h0m16 0h0m35.2 0h0m22.4 0h0m44.8 0h0m-203.2 2.7h0m86.4 0h0m38.4 0h0m80 0h0m-267.2 2.8h0m41.6 0h0m160 0h0m6.4 0h0m9.6 0h0m-174.4 2.8h0m19.2 0h0m32 0h0m16 0h0m-126.4 2.7h0m9.6 0h0m118.4 0h0m16 0h0m6.4 0h0m80 0h0m67.2 0h0m-228.8 2.8h0m19.2 0h0m38.4 0h0m22.4 0h0m54.4 0h0m16 0h0m60.8 0h0m19.2 0h0m-299.2 2.8h0m25.6 0h0m67.2 0h0m48 0h0m48 0h0m19.2 0h0m9.6 0h0m22.4 0h0m9.6 0h0m28.8 0h0m16 0h0m-292.8 2.8h0m51.2 0h0m6.4 0h0m28.8 0h0m16 0h0m12.8 0h0m6.4 0h0m6.4 0h0m12.8 0h0m67.2 0h0m38.4 0h0m22.4 0h0m6.4 0h0m16 0h0m-196.8 2.7h0m6.4 0h0m102.4 0h0m60.8 0h0m28.8 0h0m-292.8 2.8h0m96 0h0m38.4 0h0m108.8 0h0m48 0h0m-264 2.8h0m25.6 0h0m88 2.7h0m60.8 0h0m8 2.8h0m48 0h0m32 0h0m-267.2 2.8h0m3.2 0h0m3.2 0h0m144 0h0m64 0h0m16 0h0m-148.8 2.8h0m192 0h0m-209.6 2.7h0m3.2 0h0m9.6 0h0m41.6 0h0m48 0h0m99.2 0h0m-254.4 2.8h0m16 0h0m28.8 0h0m128 0h0m57.6 0h0m-254.4 2.8h0m38.4 0h0m25.6 0h0m54.4 0h0m12.8 0h0m6.4 0h0m128 0h0m-270.4 2.7h0m44.8 0h0m80 0h0m22.4 0h0m6.4 0h0m128 0h0m-216 2.8h0m12.8 0h0m-72 2.8h0m60.8 0h0m6.4 0h0m9.6 0h0m6.4 0h0m38.4 0h0m28.8 0h0m-8 2.8h0m9.6 0h0m16 0h0m16 0h0m-126.4 2.7h0m57.6 0h0m51.2 0h0m16 0h0m6.4 0h0m19.2 0h0m-158.4 2.8h0m41.6 0h0m19.2 0h0m73.6 0h0m9.6 0h0m12.8 0h0m-200 2.8h0m38.4 0h0m108.8 0h0m54.4 0h0m-200 2.7h0m54.4 0h0m108.8 0h0m3.2 0h0m35.2 0h0m3.2 0h0m54.4 0h0m-257.6 2.8h0m9.6 0h0m195.2 0h0m-126.4 2.8h0m-62.4 2.8h0m28.8 0h0m60.8 0h0m35.2 0h0m86.4 0h0m25.6 0h0m9.6 0h0m-177.6 2.7h0m57.6 0h0m86.4 0h0m-126.4 2.8h0m6.4 0h0m128 0h0m16 0h0m6.4 0h0m-257.6 2.8h0m108.8 0h0m35.2 0h0m12.8 0h0m9.6 0h0m73.6 0h0m9.6 0h0m9.6 0h0m-267.2 2.7h0m19.2 0h0m12.8 0h0m6.4 0h0m3.2 0h0m6.4 0h0m22.4 0h0m70.4 0h0m19.2 0h0m44.8 0h0m-216 2.8h0m48 0h0m3.2 0h0m22.4 0h0m3.2 0h0m83.2 0h0m44.8 0h0m9.6 0h0m6.4 0h0m57.6 0h0m-276.8 2.8h0m64 0h0m73.6 0h0m64 0h0m16 0h0m-100.8 2.8h0m19.2 0h0m22.4 0h0m67.2 0h0m6.4 0h0m48 0h0m-264 2.7h0m44.8 0h0m57.6 0h0m12.8 0h0m6.4 0h0m137.6 0h0m9.6 0h0m-232 2.8h0m28.8 0h0m9.6 0h0m35.2 0h0m64 0h0m35.2 0h0m-104 2.8h0m16 0h0m6.4 0h0m51.2 0h0m41.6 0h0m9.6 0h0m32 0h0m-232 2.7h0m64 0h0m137.6 0h0m25.6 0h0m-139.2 2.8h0m108.8 0h0m38.4 0h0m-235.2 2.8h0m188.8 0h0m16 0h0m-254.4 2.8h0m51.2 0h0m35.2 0h0m6.4 0h0m6.4 0h0m153.6 0h0m-110.4 2.7h0m57.6 0h0m54.4 0h0m-238.4 2.8h0m41.6 0h0m25.6 0h0m22.4 0h0m73.6 0h0m76.8 0h0m-228.8 2.8h0m22.4 0h0m144 0h0m3.2 0h0m3.2 0h0m86.4 0h0m6.4 0h0m-283.2 2.7h0m19.2 0h0m12.8 0h0m44.8 0h0m25.6 0h0m76.8 0h0m44.8 0h0m54.4 0h0m3.2 0h0m-212.8 2.8h0m70.4 0h0m51.2 0h0m6.4 0h0m80 0h0m-289.6 2.8h0m73.6 0h0m3.2 0h0m25.6 0h0m25.6 0h0m12.8 0h0m92.8 0h0m6.4 0h0m16 0h0m-257.6 2.7h0m38.4 0h0m22.4 0h0m12.8 0h0m57.6 0h0m16 0h0m144 0h0m3.2 0h0m6.4 0h0m-225.6 2.8h0m64 0h0m9.6 0h0m12.8 0h0m51.2 0h0m12.8 0h0m3.2 0h0m67.2 0h0m-289.6 2.8h0m60.8 0h0m22.4 0h0m6.4 0h0m60.8 0h0m128 0h0m-267.2 2.8h0m115.2 0h0m25.6 0h0m9.6 0h0m60.8 0h0m-216 2.7h0m3.2 0h0m92.8 0h0m102.4 0h0m41.6 0h0m16 0h0m3.2 0h0m16 0h0m-264 2.8h0m6.4 0h0m99.2 0h0m38.4 0h0m6.4 0h0m28.8 0h0m6.4 0h0m19.2 0h0m28.8 0h0m-190.4 2.8h0m38.4 0h0m83.2 0h0m6.4 0h0m9.6 0h0m6.4 0h0m-36.8 2.7h0m3.2 0h0m28.8 0h0m3.2 0h0m-164.8 2.8h0m12.8 0h0m19.2 0h0m105.6 0h0m3.2 0h0m22.4 0h0m70.4 0h0m-107.2 2.8h0m32 0h0m9.6 0h0m12.8 0h0m25.6 0h0m3.2 0h0"/><path stroke="#c3ff33" d="M45.4 248.6h0m57.6 0h0m-40 2.8h0m32 0h0m28.8 0h0m6.4 0h0m22.4 0h0m41.6 0h0m6.4 0h0m102.4 0h0m-142.4 2.7h0m150.4 0h0m-148.8 2.8h0m80 0h0m3.2 0h0m64 0h0m-212.8 2.8h0m41.6 0h0m3.2 0h0m73.6 0h0m73.6 0h0m12.8 0h0m-260.8 2.8h0m9.6 0h0m60.8 0h0m22.4 0h0m60.8 0h0m3.2 0h0m112 0h0m6.4 0h0m-283.2 2.7h0m25.6 0h0m92.8 0h0m3.2 0h0m25.6 0h0m22.4 0h0m22.4 0h0m6.4 0h0m3.2 0h0m12.8 0h0m3.2 0h0m6.4 0h0m3.2 0h0m25.6 0h0m12.8 0h0m6.4 0h0m-276.8 2.8h0m57.6 0h0m9.6 0h0m57.6 0h0m3.2 0h0m32 0h0m35.2 0h0m-184 2.8h0m48 0h0m102.4 0h0m44.8 0h0m19.2 0h0m-62.4 2.7h0m54.4 0h0m12.8 0h0m41.6 0h0m3.2 0h0m-280 2.8h0m131.2 0h0m70.4 0h0m35.2 0h0m19.2 0h0m38.4 0h0m-238.4 2.8h0m3.2 0h0m3.2 0h0m22.4 0h0m19.2 0h0m25.6 0h0m9.6 0h0m44.8 0h0m16 0h0m6.4 0h0m25.6 0h0m67.2 0h0m-241.6 2.8h0m35.2 0h0m3.2 0h0m3.2 0h0m3.2 0h0m25.6 0h0m22.4 0h0m3.2 0h0m25.6 0h0m60.8 0h0m-238.4 2.7h0m51.2 0h0m48 0h0m25.6 0h0m121.6 0h0m-219.2 2.8h0m73.6 0h0m38.4 0h0m9.6 0h0m108.8 0h0m32 0h0m-238.4 2.8h0m44.8 0h0m51.2 0h0m105.6 0h0m6.4 0h0m-203.2 2.7h0m41.6 0h0m12.8 0h0m41.6 0h0m102.4 0h0m-232 2.8h0m28.8 0h0m9.6 0h0m140.8 0h0m92.8 0h0m-283.2 2.8h0m41.6 0h0m38.4 0h0m89.6 0h0m28.8 0h0m51.2 0h0m35.2 0h0m-248 2.8h0m3.2 0h0m96 0h0m60.8 0h0m54.4 0h0m-209.6 2.7h0m64 0h0m92.8 0h0m25.6 0h0m19.2 0h0m6.4 0h0m35.2 0h0m3.2 0h0m-206.4 2.8h0m3.2 0h0m57.6 0h0m38.4 0h0m3.2 0h0m9.6 0h0m35.2 0h0m48 0h0m3.2 0h0m3.2 0h0m-286.4 2.8h0m28.8 0h0m48 0h0m25.6 0h0m16 0h0m25.6 0h0m35.2 0h0m12.8 0h0m19.2 0h0m38.4 0h0m35.2 0h0m-235.2 2.7h0m12.8 0h0m16 0h0m60.8 0h0m3.2 0h0m35.2 0h0m44.8 0h0m6.4 0h0m60.8 0h0m-296 2.8h0m9.6 0h0m22.4 0h0m22.4 0h0m12.8 0h0m86.4 0h0m6.4 0h0m35.2 0h0m19.2 0h0m9.6 0h0m6.4 0h0m3.2 0h0m48 0h0m9.6 0h0m6.4 0h0m-296 2.8h0m57.6 0h0m25.6 0h0m6.4 0h0m60.8 0h0m6.4 0h0m57.6 0h0m9.6 0h0m3.2 0h0m64 0h0m-289.6 2.8h0m6.4 0h0m3.2 0h0m3.2 0h0m9.6 0h0m19.2 0h0m6.4 0h0m3.2 0h0m3.2 0h0m6.4 0h0m3.2 0h0m6.4 0h0m3.2 0h0m57.6 0h0m3.2 0h0m3.2 0h0m19.2 0h0m16 0h0m28.8 0h0m6.4 0h0m54.4 0h0m-251.2 2.7h0m3.2 0h0m6.4 0h0m22.4 0h0m118.4 0h0m3.2 0h0m3.2 0h0m32 0h0m3.2 0h0m9.6 0h0m9.6 0h0m22.4 0h0m-196.8 2.8h0m115.2 0h0m9.6 0h0m16 0h0m-164.8 2.8h0m6.4 0h0m38.4 0h0m112 0h0m32 0h0m-190.4 2.7h0m150.4 0h0m-142.4 2.8h0m28.8 0h0m3.2 0h0m60.8 0h0m60.8 0h0m-123.2 2.8h0m112 0h0m3.2 0h0m35.2 0h0m-145.6 2.8h0m28.8 0h0m86.4 0h0m3.2 0h0m57.6 0h0m9.6 0h0m-187.2 2.7h0m16 0h0m3.2 0h0m41.6 0h0m32 0h0m96 0h0m-244.8 2.8h0m208 0h0m57.6 0h0m-264 2.8h0m19.2 0h0m83.2 0h0m9.6 0h0m32 0h0m19.2 0h0m92.8 0h0m-260.8 2.7h0m105.6 0h0m70.4 0h0m48 0h0m3.2 0h0m25.6 0h0m-248 2.8h0m208 0h0m57.6 0h0m-276.8 2.8h0m51.2 0h0m25.6 0h0m6.4 0h0m22.4 0h0m16 0h0m41.6 0h0m44.8 0h0m3.2 0h0m-203.2 2.8h0m44.8 0h0m12.8 0h0m70.4 0h0m6.4 0h0m73.6 0h0m64 0h0m6.4 0h0m9.6 0h0m-241.6 2.7h0m83.2 0h0m64 0h0m22.4 0h0m28.8 0h0m19.2 0h0m9.6 0h0m-219.2 2.8h0m3.2 0h0m80 0h0m28.8 0h0m6.4 0h0m3.2 0h0m6.4 0h0m-145.6 2.8h0m83.2 0h0m9.6 0h0m6.4 0h0m99.2 0h0m35.2 0h0m-184 2.7h0m25.6 0h0m16 0h0m105.6 0h0m54.4 0h0m-299.2 2.8h0m28.8 0h0m19.2 0h0m60.8 0h0m3.2 0h0m32 0h0m147.2 0h0m-241.6 2.8h0m44.8 0h0m19.2 0h0m3.2 0h0m147.2 0h0m-264 2.8h0m25.6 0h0m83.2 0h0m3.2 0h0m32 0h0m96 0h0m19.2 0h0m35.2 0h0m-267.2 2.7h0m67.2 0h0m16 0h0m3.2 0h0m28.8 0h0m121.6 0h0m-254.4 2.8h0m188.8 0h0m3.2 0h0m-139.2 2.8h0m25.6 0h0m22.4 0h0m73.6 0h0m80 0h0m28.8 0h0m-238.4 2.7h0m32 0h0m211.2 0h0m-260.8 2.8h0m3.2 0h0m12.8 0h0m6.4 0h0m6.4 0h0m54.4 0h0m22.4 0h0m6.4 0h0m12.8 0h0m35.2 0h0m48 0h0m19.2 0h0m3.2 0h0m-264 2.8h0m32 0h0m16 0h0m19.2 0h0m19.2 0h0m25.6 0h0m9.6 0h0m19.2 0h0m12.8 0h0m3.2 0h0m108.8 0h0m3.2 0h0m-264 2.7h0m3.2 0h0m67.2 0h0m70.4 0h0m6.4 0h0m48 0h0m6.4 0h0m28.8 0h0m41.6 0h0m-209.6 2.8h0m9.6 0h0m6.4 0h0m3.2 0h0m44.8 0h0m67.2 0h0m6.4 0h0m32 0h0m-148.8 2.8h0m41.6 0h0m12.8 0h0m140.8 0h0m-273.6 2.8h0m35.2 0h0m16 0h0m86.4 0h0m12.8 0h0m118.4 0h0m-209.6 2.7h0m44.8 0h0m9.6 0h0m80 0h0m12.8 0h0m60.8 0h0m-254.4 2.8h0m25.6 0h0m22.4 0h0m51.2 0h0m86.4 0h0m60.8 0h0m-244.8 2.8h0m22.4 0h0m3.2 0h0m76.8 0h0m60.8 0h0m35.2 0h0m54.4 0h0m-222.4 2.7h0m6.4 0h0m3.2 0h0m57.6 0h0m44.8 0h0m41.6 0h0m12.8 0h0m-193.6 2.8h0m137.6 0h0m-104 2.8h0m38.4 0h0m28.8 0h0m60.8 0h0m12.8 0h0m3.2 0h0m70.4 0h0"/><path stroke="#d8ff1f" d="M42.2 248.6h0m19.2 0h0m92.8 0h0m41.6 0h0m48 0h0m-196.8 2.8h0m51.2 0h0m6.4 0h0m86.4 0h0m51.2 0h0m64 0h0m-264 2.7h0m51.2 0h0m96 0h0m57.6 0h0m25.6 0h0m3.2 0h0m-84.8 2.8h0m16 0h0m73.6 0h0m-222.4 2.8h0m35.2 0h0m6.4 0h0m54.4 0h0m32 0h0m3.2 0h0m54.4 0h0m3.2 0h0m3.2 0h0m12.8 0h0m22.4 0h0m22.4 0h0m-270.4 2.8h0m6.4 0h0m3.2 0h0m9.6 0h0m3.2 0h0m32 0h0m70.4 0h0m28.8 0h0m-142.4 2.7h0m35.2 0h0m99.2 0h0m12.8 0h0m9.6 0h0m32 0h0m3.2 0h0m76.8 0h0m-270.4 2.8h0m3.2 0h0m9.6 0h0m89.6 0h0m32 0h0m32 0h0m6.4 0h0m6.4 0h0m28.8 0h0m32 0h0m32 0h0m-222.4 2.8h0m57.6 0h0m19.2 0h0m57.6 0h0m76.8 0h0m-264 2.7h0m44.8 0h0m9.6 0h0m12.8 0h0m38.4 0h0m9.6 0h0m76.8 0h0m25.6 0h0m-164.8 2.8h0m160 0h0m64 0h0m-267.2 2.8h0m6.4 0h0m12.8 0h0m16 0h0m25.6 0h0m44.8 0h0m67.2 0h0m32 0h0m19.2 0h0m35.2 0h0m-148.8 2.8h0m64 0h0m3.2 0h0m35.2 0h0m12.8 0h0m-206.4 2.7h0m67.2 0h0m22.4 0h0m9.6 0h0m32 0h0m80 0h0m-11.2 2.8h0m48 0h0m3.2 0h0m-187.2 2.8h0m38.4 0h0m51.2 0h0m92.8 0h0m-292.8 2.7h0m25.6 0h0m64 0h0m160 0h0m48 0h0m-270.4 2.8h0m25.6 0h0m48 0h0m140.8 0h0m12.8 0h0m41.6 0h0m-241.6 2.8h0m3.2 0h0m51.2 0h0m96 0h0m35.2 0h0m-228.8 2.8h0m-14.4 2.7h0m41.6 0h0m3.2 0h0m96 0h0m12.8 0h0m48 0h0m6.4 0h0m-158.4 2.8h0m35.2 0h0m6.4 0h0m25.6 0h0m25.6 0h0m70.4 0h0m22.4 0h0m-235.2 2.8h0m89.6 0h0m160 0h0m32 0h0m3.2 0h0m-206.4 2.7h0m6.4 0h0m41.6 0h0m83.2 0h0m76.8 0h0m-232 2.8h0m6.4 0h0m6.4 0h0m64 0h0m70.4 0h0m3.2 0h0m-152 2.8h0m12.8 0h0m118.4 0h0m99.2 0h0m-184 2.8h0m3.2 0h0m99.2 0h0m25.6 0h0m48 0h0m12.8 0h0m3.2 0h0m3.2 0h0m-219.2 2.7h0m28.8 0h0m73.6 0h0m38.4 0h0m9.6 0h0m28.8 0h0m19.2 0h0m3.2 0h0m6.4 0h0m-254.4 2.8h0m12.8 0h0m160 0h0m16 0h0m64 0h0m-254.4 2.8h0m35.2 0h0m3.2 0h0m-33.6 2.7h0m137.6 0h0m12.8 0h0m-155.2 2.8h0m140.8 0h0m3.2 0h0m-152 2.8h0m12.8 0h0m38.4 0h0m3.2 0h0m54.4 0h0m60.8 0h0m35.2 0h0m-209.6 2.8h0m92.8 0h0m25.6 0h0m86.4 0h0m16 0h0m19.2 0h0m-219.2 2.7h0m32 0h0m38.4 0h0m73.6 0h0m6.4 0h0m32 0h0m-88 2.8h0m86.4 0h0m-203.2 2.8h0m6.4 0h0m92.8 0h0m19.2 0h0m32 0h0m3.2 0h0m19.2 0h0m35.2 0h0m3.2 0h0m57.6 0h0m-235.2 2.7h0m28.8 0h0m3.2 0h0m48 0h0m73.6 0h0m73.6 0h0m6.4 0h0m-270.4 2.8h0m16 0h0m12.8 0h0m73.6 0h0m22.4 0h0m25.6 0h0m70.4 0h0m3.2 0h0m28.8 0h0m32 0h0m-232 2.8h0m67.2 0h0m3.2 0h0m70.4 0h0m3.2 0h0m12.8 0h0m3.2 0h0m9.6 0h0m41.6 0h0m6.4 0h0m-264 2.8h0m64 0h0m48 0h0m3.2 0h0m6.4 0h0m12.8 0h0m12.8 0h0m44.8 0h0m19.2 0h0m48 0h0m6.4 0h0m-280 2.7h0m60.8 0h0m3.2 0h0m83.2 0h0m83.2 0h0m57.6 0h0m6.4 0h0m-232 2.8h0m38.4 0h0m105.6 0h0m6.4 0h0m6.4 0h0m25.6 0h0m9.6 0h0m22.4 0h0m22.4 0h0m-248 2.8h0m67.2 0h0m80 0h0m9.6 0h0m-158.4 2.7h0m54.4 0h0m6.4 0h0m19.2 0h0m70.4 0h0m41.6 0h0m16 0h0m6.4 0h0m-158.4 2.8h0m96 0h0m41.6 0h0m-244.8 2.8h0m256 0h0m41.6 0h0m1.6 2.8h0m-299.2 2.7h0m60.8 0h0m41.6 0h0m99.2 0h0m6.4 0h0m86.4 0h0m3.2 0h0m-241.6 2.8h0m48 0h0m73.6 0h0m28.8 0h0m35.2 0h0m3.2 0h0m48 0h0m-276.8 2.8h0m41.6 0h0m51.2 0h0m131.2 0h0m-200 2.7h0m12.8 0h0m54.4 0h0m57.6 0h0m25.6 0h0m12.8 0h0m9.6 0h0m-203.2 2.8h0m83.2 0h0m22.4 0h0m80 0h0m12.8 0h0m44.8 0h0m9.6 0h0m-251.2 2.8h0m38.4 0h0m73.6 0h0m16 0h0m12.8 0h0m54.4 0h0m32 0h0m6.4 0h0m6.4 0h0m44.8 0h0m3.2 0h0m-222.4 2.7h0m28.8 0h0m19.2 0h0m16 0h0m19.2 0h0m28.8 0h0m41.6 0h0m3.2 0h0m19.2 0h0m-251.2 2.8h0m9.6 0h0m25.6 0h0m25.6 0h0m3.2 0h0m76.8 0h0m3.2 0h0m-94.4 2.8h0m6.4 0h0m28.8 0h0m99.2 0h0m51.2 0h0m-228.8 2.8h0m48 0h0m6.4 0h0m38.4 0h0m38.4 0h0m76.8 0h0m64 0h0m9.6 0h0m-244.8 2.7h0m3.2 0h0m3.2 0h0m3.2 0h0m6.4 0h0m44.8 0h0m35.2 0h0m19.2 0h0m16 0h0m38.4 0h0m60.8 0h0m-212.8 2.8h0m3.2 0h0m38.4 0h0m3.2 0h0m76.8 0h0m6.4 0h0m6.4 0h0m19.2 0h0m-190.4 2.8h0m19.2 0h0m19.2 0h0m112 0h0m-100.8 2.7h0m28.8 0h0m92.8 0h0m3.2 0h0m3.2 0h0m16 0h0m-171.2 2.8h0m6.4 0h0m6.4 0h0m67.2 0h0m-110.4 2.8h0m3.2 0h0m6.4 0h0m32 0h0m12.8 0h0m102.4 0h0m3.2 0h0m3.2 0h0"/><path stroke="#ecff0a" d="M55 248.6h0m38.4 0h0m3.2 0h0m3.2 0h0m51.2 0h0m54.4 0h0m3.2 0h0m32 0h0m35.2 0h0m-232 2.8h0m52.8 2.7h0m28.8 0h0m131.2 0h0m48 0h0m-248 2.8h0m99.2 0h0m57.6 0h0m89.6 0h0m-267.2 2.8h0m169.6 0h0m35.2 0h0m57.6 0h0m-196.8 2.8h0m41.6 0h0m3.2 0h0m3.2 0h0m67.2 0h0m32 0h0m9.6 0h0m28.8 0h0m12.8 0h0m-254.4 2.7h0m41.6 0h0m12.8 0h0m48 0h0m64 0h0m3.2 0h0m28.8 0h0m9.6 0h0m41.6 0h0m-270.4 2.8h0m6.4 0h0m3.2 0h0m70.4 0h0m67.2 0h0m12.8 0h0m25.6 0h0m19.2 0h0m16 0h0m70.4 0h0m-238.4 2.8h0m28.8 0h0m51.2 0h0m3.2 0h0m9.6 0h0m6.4 0h0m19.2 0h0m102.4 0h0m-267.2 2.7h0m6.4 0h0m57.6 0h0m38.4 0h0m22.4 0h0m9.6 0h0m12.8 0h0m3.2 0h0m51.2 0h0m6.4 0h0m3.2 0h0m54.4 0h0m-244.8 2.8h0m22.4 0h0m9.6 0h0m22.4 0h0m38.4 0h0m51.2 0h0m105.6 0h0m9.6 0h0m-200 2.8h0m32 0h0m12.8 0h0m44.8 0h0m67.2 0h0m22.4 0h0m9.6 0h0m9.6 0h0m-104 2.8h0m64 0h0m38.4 0h0m16 0h0m-244.8 2.7h0m67.2 0h0m28.8 0h0m51.2 0h0m-148.8 2.8h0m41.6 0h0m9.6 0h0m38.4 0h0m-27.2 2.8h0m147.2 0h0m28.8 0h0m-145.6 2.7h0m3.2 0h0m28.8 0h0m28.8 0h0m35.2 0h0m19.2 0h0m-203.2 2.8h0m32 0h0m9.6 0h0m12.8 0h0m32 0h0m32 0h0m28.8 0h0m48 0h0m-203.2 2.8h0m11.2 2.8h0m41.6 0h0m99.2 0h0m9.6 0h0m-209.6 2.7h0m48 0h0m12.8 0h0m44.8 0h0m38.4 0h0m48 0h0m44.8 0h0m54.4 0h0m-286.4 2.8h0m3.2 0h0m48 0h0m9.6 0h0m32 0h0m3.2 0h0m6.4 0h0m144 0h0m3.2 0h0m12.8 0h0m28.8 0h0m-228.8 2.8h0m22.4 0h0m3.2 0h0m3.2 0h0m105.6 0h0m57.6 0h0m3.2 0h0m6.4 0h0m-190.4 2.7h0m12.8 0h0m3.2 0h0m6.4 0h0m25.6 0h0m76.8 0h0m19.2 0h0m16 0h0m9.6 0h0m25.6 0h0m-225.6 2.8h0m32 0h0m64 0h0m73.6 0h0m19.2 0h0m-206.4 2.8h0m38.4 0h0m76.8 0h0m144 0h0m6.4 0h0m-289.6 2.8h0m108.8 0h0m3.2 0h0m12.8 0h0m12.8 0h0m6.4 0h0m70.4 0h0m28.8 0h0m12.8 0h0m35.2 0h0m-254.4 2.7h0m16 0h0m6.4 0h0m41.6 0h0m12.8 0h0m9.6 0h0m124.8 0h0m-200 2.8h0m19.2 0h0m96 0h0m19.2 0h0m12.8 0h0m70.4 0h0m3.2 0h0m-232 2.8h0m25.6 0h0m102.4 0h0m6.4 0h0m3.2 0h0m6.4 0h0m86.4 0h0m-251.2 2.7h0m12.8 0h0m134.4 0h0m19.2 0h0m25.6 0h0m3.2 0h0m-200 2.8h0m83.2 0h0m80 0h0m70.4 0h0m-228.8 2.8h0m105.6 0h0m124.8 0h0m-235.2 2.8h0m9.6 0h0m105.6 0h0m32 0h0m12.8 0h0m102.4 0h0m-244.8 2.7h0m89.6 0h0m108.8 0h0m51.2 0h0m-257.6 2.8h0m41.6 0h0m3.2 0h0m89.6 0h0m60.8 0h0m-187.2 2.8h0m3.2 0h0m35.2 0h0m64 0h0m86.4 0h0m9.6 0h0m54.4 0h0m-283.2 2.7h0m22.4 0h0m12.8 0h0m70.4 0h0m9.6 0h0m9.6 0h0m12.8 0h0m16 0h0m19.2 0h0m3.2 0h0m12.8 0h0m22.4 0h0m9.6 0h0m48 0h0m16 0h0m-280 2.8h0m16 0h0m35.2 0h0m6.4 0h0m3.2 0h0m12.8 0h0m38.4 0h0m6.4 0h0m19.2 0h0m6.4 0h0m12.8 0h0m6.4 0h0m3.2 0h0m35.2 0h0m3.2 0h0m54.4 0h0m-260.8 2.8h0m3.2 0h0m3.2 0h0m131.2 0h0m16 0h0m6.4 0h0m115.2 0h0m12.8 0h0m-299.2 2.8h0m22.4 0h0m64 0h0m67.2 0h0m70.4 0h0m12.8 0h0m35.2 0h0m-267.2 2.7h0m67.2 0h0m3.2 0h0m12.8 0h0m131.2 0h0m3.2 0h0m76.8 0h0m-299.2 2.8h0m28.8 0h0m25.6 0h0m38.4 0h0m28.8 0h0m16 0h0m102.4 0h0m32 0h0m9.6 0h0m12.8 0h0m-235.2 2.8h0m32 0h0m25.6 0h0m22.4 0h0m67.2 0h0m92.8 0h0m-196.8 2.7h0m12.8 0h0m6.4 0h0m128 0h0m3.2 0h0m19.2 0h0m16 0h0m9.6 0h0m-30.4 2.8h0m-158.4 2.8h0m144 0h0m38.4 0h0m-260.8 2.8h0m64 0h0m83.2 0h0m28.8 0h0m48 0h0m9.6 0h0m-257.6 2.7h0m51.2 0h0m41.6 0h0m9.6 0h0m48 0h0m105.6 0h0m-171.2 2.8h0m22.4 0h0m96 0h0m-196.8 2.8h0m48 0h0m54.4 0h0m137.6 0h0m48 0h0m-296 2.7h0m44.8 0h0m9.6 0h0m3.2 0h0m83.2 0h0m3.2 0h0m3.2 0h0m35.2 0h0m22.4 0h0m51.2 0h0m-158.4 2.8h0m3.2 0h0m35.2 0h0m96 0h0m-228.8 2.8h0m80 0h0m12.8 0h0m6.4 0h0m80 0h0m44.8 0h0m-228.8 2.7h0m51.2 0h0m48 0h0m16 0h0m80 0h0m25.6 0h0m19.2 0h0m19.2 0h0m12.8 0h0m9.6 0h0m3.2 0h0m-219.2 2.8h0m57.6 0h0m6.4 0h0m19.2 0h0m35.2 0h0m19.2 0h0m25.6 0h0m3.2 0h0m48 0h0m-283.2 2.8h0m3.2 0h0m70.4 0h0m6.4 0h0m51.2 0h0m12.8 0h0m9.6 0h0m9.6 0h0m35.2 0h0m22.4 0h0m25.6 0h0m54.4 0h0m-289.6 2.8h0m67.2 0h0m48 0h0m9.6 0h0m25.6 0h0m41.6 0h0m16 0h0m3.2 0h0m3.2 0h0m60.8 0h0m12.8 0h0m-280 2.7h0m57.6 0h0m25.6 0h0m60.8 0h0m19.2 0h0m-110.4 2.8h0m134.4 0h0m-168 2.8h0m3.2 0h0m6.4 0h0m22.4 0h0m99.2 0h0m9.6 0h0m3.2 0h0m-145.6 2.7h0m3.2 0h0m3.2 0h0m6.4 0h0m3.2 0h0m76.8 0h0m-62.4 2.8h0m108.8 0h0m3.2 0h0m19.2 0h0m3.2 0h0m9.6 0h0m6.4 0h0m3.2 0h0m-196.8 2.8h0m25.6 0h0m6.4 0h0m19.2 0h0m3.2 0h0m108.8 0h0m9.6 0h0m19.2 0h0m3.2 0h0"/><path stroke="#ffea00" d="M48.6 248.6h0m3.2 0h0m76.8 0h0m64 0h0m-65.6 2.8h0m150.4 0h0m-225.6 2.7h0m6.4 0h0m144 0h0m9.6 0h0m-100.8 2.8h0m41.6 0h0m35.2 0h0m12.8 0h0m3.2 0h0m-148.8 2.8h0m92.8 0h0m60.8 0h0m-155.2 2.8h0m35.2 0h0m9.6 0h0m67.2 0h0m35.2 0h0m9.6 0h0m-168 2.7h0m25.6 0h0m22.4 0h0m3.2 0h0m3.2 0h0m12.8 0h0m76.8 0h0m22.4 0h0m-152 2.8h0m16 0h0m25.6 0h0m9.6 0h0m28.8 0h0m9.6 0h0m12.8 0h0m6.4 0h0m12.8 0h0m12.8 0h0m3.2 0h0m38.4 0h0m3.2 0h0m16 0h0m48 0h0m9.6 0h0m12.8 0h0m-296 2.8h0m140.8 0h0m60.8 0h0m19.2 0h0m12.8 0h0m51.2 0h0m9.6 0h0m-292.8 2.7h0m12.8 0h0m38.4 0h0m22.4 0h0m204.8 0h0m9.6 0h0m-289.6 2.8h0m105.6 0h0m25.6 0h0m3.2 0h0m6.4 0h0m64 0h0m9.6 0h0m6.4 0h0m6.4 0h0m28.8 0h0m12.8 0h0m-164.8 2.8h0m16 0h0m28.8 0h0m140.8 0h0m-260.8 2.8h0m105.6 0h0m160 0h0m-177.6 2.7h0m22.4 0h0m3.2 0h0m140.8 0h0m3.2 0h0m3.2 0h0m-145.6 2.8h0m108.8 0h0m6.4 0h0m-260.8 2.8h0m102.4 0h0m3.2 0h0m3.2 0h0m137.6 0h0m-193.6 2.7h0m40 2.8h0m3.2 0h0m9.6 0h0m3.2 0h0m70.4 0h0m28.8 0h0m38.4 0h0m-238.4 2.8h0m80 0h0m16 0h0m-14.4 2.8h0m3.2 0h0m19.2 0h0m32 0h0m6.4 0h0m48 0h0m44.8 0h0m9.6 0h0m3.2 0h0m3.2 0h0m35.2 0h0m-283.2 2.7h0m44.8 0h0m38.4 0h0m16 0h0m51.2 0h0m41.6 0h0m41.6 0h0m-206.4 2.8h0m67.2 0h0m32 0h0m9.6 0h0m41.6 0h0m9.6 0h0m16 0h0m32 0h0m3.2 0h0m-248 2.8h0m3.2 0h0m41.6 0h0m12.8 0h0m22.4 0h0m22.4 0h0m3.2 0h0m6.4 0h0m6.4 0h0m12.8 0h0m12.8 0h0m70.4 0h0m12.8 0h0m9.6 0h0m60.8 0h0m-299.2 2.7h0m3.2 0h0m51.2 0h0m6.4 0h0m48 0h0m3.2 0h0m102.4 0h0m38.4 0h0m12.8 0h0m25.6 0h0m3.2 0h0m-286.4 2.8h0m86.4 0h0m38.4 0h0m16 0h0m57.6 0h0m6.4 0h0m35.2 0h0m-116.8 2.8h0m19.2 0h0m44.8 0h0m12.8 0h0m3.2 0h0m3.2 0h0m60.8 0h0m-273.6 2.8h0m102.4 0h0m9.6 0h0m9.6 0h0m6.4 0h0m19.2 0h0m60.8 0h0m9.6 0h0m60.8 0h0m-257.6 2.7h0m6.4 0h0m9.6 0h0m160 0h0m-180.8 2.8h0m3.2 0h0m9.6 0h0m16 0h0m3.2 0h0m22.4 0h0m54.4 0h0m3.2 0h0m44.8 0h0m-132.8 2.8h0m134.4 0h0m-110.4 2.7h0m3.2 0h0m57.6 0h0m-56 2.8h0m108.8 0h0m6.4 0h0m-171.2 2.8h0m60.8 0h0m92.8 0h0m16 0h0m35.2 0h0m-203.2 2.8h0m19.2 0h0m67.2 0h0m80 0h0m38.4 0h0m3.2 0h0m6.4 0h0m48 0h0m-264 2.7h0m3.2 0h0m57.6 0h0m198.4 0h0m3.2 0h0m3.2 0h0m3.2 0h0m-257.6 2.8h0m6.4 0h0m102.4 0h0m32 0h0m19.2 0h0m32 0h0m19.2 0h0m48 0h0m-257.6 2.8h0m86.4 0h0m6.4 0h0m3.2 0h0m105.6 0h0m32 0h0m-241.6 2.7h0m3.2 0h0m44.8 0h0m156.8 0h0m6.4 0h0m51.2 0h0m-283.2 2.8h0m67.2 0h0m48 0h0m32 0h0m16 0h0m9.6 0h0m16 0h0m3.2 0h0m6.4 0h0m3.2 0h0m73.6 0h0m22.4 0h0m-296 2.8h0m48 0h0m35.2 0h0m38.4 0h0m12.8 0h0m22.4 0h0m124.8 0h0m-273.6 2.8h0m9.6 0h0m32 0h0m3.2 0h0m6.4 0h0m6.4 0h0m102.4 0h0m41.6 0h0m3.2 0h0m3.2 0h0m12.8 0h0m48 0h0m16 0h0m3.2 0h0m-241.6 2.7h0m22.4 0h0m41.6 0h0m3.2 0h0m12.8 0h0m80 0h0m9.6 0h0m-222.4 2.8h0m48 0h0m6.4 0h0m28.8 0h0m22.4 0h0m9.6 0h0m6.4 0h0m6.4 0h0m12.8 0h0m3.2 0h0m54.4 0h0m89.6 0h0m-235.2 2.8h0m38.4 0h0m41.6 0h0m134.4 0h0m3.2 0h0m19.2 0h0m-260.8 2.7h0m64 0h0m12.8 0h0m25.6 0h0m12.8 0h0m32 0h0m-30.4 2.8h0m105.6 0h0m9.6 0h0m32 0h0m-193.6 2.8h0m44.8 0h0m3.2 0h0m96 0h0m48 0h0m-201.6 5.5h0m60.8 0h0m147.2 0h0m-273.6 2.8h0m3.2 0h0m64 0h0m54.4 0h0m32 0h0m-129.6 2.8h0m96 0h0m115.2 0h0m-158.4 2.7h0m96 0h0m6.4 0h0m38.4 0h0m6.4 0h0m6.4 0h0m-206.4 2.8h0m67.2 0h0m96 0h0m41.6 0h0m3.2 0h0m41.6 0h0m-257.6 2.8h0m12.8 0h0m12.8 0h0m25.6 0h0m16 0h0m3.2 0h0m6.4 0h0m16 0h0m73.6 0h0m3.2 0h0m6.4 0h0m35.2 0h0m12.8 0h0m22.4 0h0m-283.2 2.7h0m44.8 0h0m6.4 0h0m6.4 0h0m22.4 0h0m28.8 0h0m12.8 0h0m16 0h0m57.6 0h0m12.8 0h0m6.4 0h0m6.4 0h0m19.2 0h0m19.2 0h0m12.8 0h0m-270.4 2.8h0m48 0h0m3.2 0h0m19.2 0h0m22.4 0h0m54.4 0h0m124.8 0h0m6.4 0h0m6.4 0h0m-283.2 2.8h0m60.8 0h0m70.4 0h0m54.4 0h0m9.6 0h0m3.2 0h0m16 0h0m3.2 0h0m6.4 0h0m44.8 0h0m-244.8 2.8h0m12.8 0h0m12.8 0h0m12.8 0h0m70.4 0h0m12.8 0h0m57.6 0h0m38.4 0h0m44.8 0h0m-238.4 2.7h0m9.6 0h0m3.2 0h0m96 0h0m12.8 0h0m12.8 0h0m9.6 0h0m57.6 0h0m25.6 0h0m-241.6 2.8h0m6.4 0h0m19.2 0h0m112 0h0m12.8 0h0m32 0h0m-168 2.8h0m150.4 0h0m12.8 0h0m35.2 0h0m19.2 0h0m-248 2.7h0m3.2 0h0m25.6 0h0m16 0h0m112 0h0m92.8 0h0m-254.4 2.8h0m6.4 0h0m9.6 0h0m12.8 0h0m140.8 0h0m12.8 0h0m22.4 0h0m-193.6 2.8h0m3.2 0h0m3.2 0h0m3.2 0h0m9.6 0h0m9.6 0h0m6.4 0h0m60.8 0h0m60.8 0h0m9.6 0h0m22.4 0h0"/><path stroke="#ffd200" d="M211.8 248.6h0m38.4 0h0m-200 2.8h0m41.6 0h0m105.6 0h0m48 0h0m-88 2.7h0m51.2 0h0m35.2 0h0m-206.4 2.8h0m22.4 0h0m35.2 0h0m3.2 0h0m51.2 0h0m9.6 0h0m89.6 0h0m-203.2 2.8h0m16 0h0m243.2 0h0m-241.6 2.8h0m32 0h0m12.8 0h0m28.8 0h0m3.2 0h0m105.6 0h0m6.4 0h0m38.4 0h0m6.4 0h0m-260.8 2.7h0m3.2 0h0m12.8 0h0m9.6 0h0m3.2 0h0m41.6 0h0m86.4 0h0m108.8 0h0m-257.6 2.8h0m25.6 0h0m6.4 0h0m25.6 0h0m99.2 0h0m16 0h0m86.4 0h0m-270.4 2.8h0m9.6 0h0m48 0h0m54.4 0h0m41.6 0h0m6.4 0h0m9.6 0h0m22.4 0h0m12.8 0h0m6.4 0h0m12.8 0h0m28.8 0h0m19.2 0h0m12.8 0h0m-241.6 2.7h0m9.6 0h0m19.2 0h0m38.4 0h0m105.6 0h0m35.2 0h0m28.8 0h0m6.4 0h0m-251.2 2.8h0m35.2 0h0m6.4 0h0m32 0h0m6.4 0h0m16 0h0m6.4 0h0m6.4 0h0m41.6 0h0m16 0h0m3.2 0h0m76.8 0h0m-238.4 2.8h0m73.6 0h0m112 0h0m19.2 0h0m25.6 0h0m-283.2 2.8h0m51.2 0h0m70.4 0h0m-11.2 2.7h0m3.2 0h0m137.6 0h0m-251.2 2.8h0m252.8 0h0m-152 2.8h0m44.8 0h0m-43.2 2.7h0m6.4 0h0m137.6 0h0m48 0h0m3.2 0h0m-296 2.8h0m6.4 0h0m233.6 0h0m-241.6 2.8h0m96 0h0m48 0h0m3.2 0h0m3.2 0h0m144 0h0m-292.8 2.8h0m54.4 0h0m108.8 0h0m41.6 0h0m-158.4 2.7h0m51.2 0h0m6.4 0h0m92.8 0h0m51.2 0h0m9.6 0h0m-257.6 2.8h0m3.2 0h0m38.4 0h0m108.8 0h0m51.2 0h0m35.2 0h0m6.4 0h0m16 0h0m3.2 0h0m-209.6 2.8h0m12.8 0h0m51.2 0h0m6.4 0h0m32 0h0m3.2 0h0m48 0h0m28.8 0h0m6.4 0h0m9.6 0h0m38.4 0h0m-244.8 2.7h0m3.2 0h0m25.6 0h0m144 0h0m3.2 0h0m6.4 0h0m16 0h0m16 0h0m-184 2.8h0m12.8 0h0m51.2 0h0m3.2 0h0m9.6 0h0m57.6 0h0m19.2 0h0m16 0h0m44.8 0h0m-289.6 2.8h0m6.4 0h0m3.2 0h0m35.2 0h0m3.2 0h0m6.4 0h0m3.2 0h0m19.2 0h0m22.4 0h0m38.4 0h0m19.2 0h0m41.6 0h0m3.2 0h0m19.2 0h0m3.2 0h0m60.8 0h0m3.2 0h0m-257.6 2.8h0m3.2 0h0m16 0h0m22.4 0h0m86.4 0h0m35.2 0h0m9.6 0h0m12.8 0h0m-164.8 2.7h0m6.4 0h0m6.4 0h0m60.8 0h0m57.6 0h0m9.6 0h0m-155.2 2.8h0m6.4 0h0m16 0h0m9.6 0h0m112 0h0m28.8 0h0m-171.2 2.8h0m86.4 0h0m-91.2 2.7h0m38.4 0h0m102.4 0h0m102.4 0h0m-100.8 2.8h0m41.6 0h0m3.2 0h0m-200 2.8h0m6.4 0h0m6.4 0h0m3.2 0h0m192 0h0m-206.4 2.8h0m9.6 0h0m-1.6 2.7h0m192 0h0m-206.4 2.8h0m156.8 0h0m9.6 0h0m89.6 0h0m-203.2 2.8h0m3.2 0h0m115.2 0h0m28.8 0h0m51.2 0h0m9.6 0h0m9.6 0h0m-273.6 2.7h0m12.8 0h0m6.4 0h0m48 0h0m89.6 0h0m99.2 0h0m-267.2 2.8h0m16 0h0m3.2 0h0m25.6 0h0m80 0h0m12.8 0h0m44.8 0h0m9.6 0h0m9.6 0h0m73.6 0h0m-254.4 2.8h0m3.2 0h0m3.2 0h0m22.4 0h0m6.4 0h0m6.4 0h0m9.6 0h0m38.4 0h0m48 0h0m32 0h0m83.2 0h0m-273.6 2.8h0m22.4 0h0m108.8 0h0m25.6 0h0m16 0h0m-24 2.7h0m51.2 0h0m6.4 0h0m3.2 0h0m25.6 0h0m41.6 0h0m-248 2.8h0m16 0h0m80 0h0m76.8 0h0m70.4 0h0m9.6 0h0m12.8 0h0m-171.2 2.8h0m150.4 0h0m12.8 0h0m6.4 0h0m-158.4 2.7h0m6.4 0h0m118.4 0h0m-164.8 2.8h0m3.2 0h0m16 0h0m144 0h0m38.4 0h0m-200 2.8h0m12.8 0h0m32 0h0m118.4 0h0m-161.6 2.8h0m6.4 0h0m144 0h0m-196.8 2.7h0m51.2 0h0m137.6 0h0m6.4 0h0m6.4 0h0m-203.2 2.8h0m54.4 0h0m-107.2 2.8h0m208 0h0m48 0h0m-254.4 2.7h0m99.2 0h0m12.8 0h0m140.8 0h0m9.6 0h0m-260.8 2.8h0m3.2 0h0m51.2 0h0m41.6 0h0m102.4 0h0m92.8 0h0m-228.8 2.8h0m32 0h0m51.2 0h0m6.4 0h0m38.4 0h0m54.4 0h0m44.8 0h0m-222.4 2.7h0m38.4 0h0m3.2 0h0m156.8 0h0m-184 2.8h0m44.8 0h0m70.4 0h0m16 0h0m22.4 0h0m-225.6 2.8h0m48 0h0m16 0h0m73.6 0h0m51.2 0h0m12.8 0h0m3.2 0h0m76.8 0h0m-289.6 2.8h0m70.4 0h0m44.8 0h0m86.4 0h0m57.6 0h0m-235.2 2.7h0m3.2 0h0m9.6 0h0m153.6 0h0m3.2 0h0m19.2 0h0m9.6 0h0m51.2 0h0m-238.4 2.8h0m16 0h0m3.2 0h0m163.2 0h0m57.6 0h0m-257.6 2.8h0m38.4 0h0m12.8 0h0m124.8 0h0m-174.4 2.7h0m22.4 0h0m144 0h0m3.2 0h0m22.4 0h0m-190.4 2.8h0m9.6 0h0m28.8 0h0m9.6 0h0m121.6 0h0m28.8 0h0"/><path stroke="#ffbb00" d="M199 248.6h0m3.2 0h0m-145.6 2.8h0m44.8 0h0m-52.8 2.7h0m6.4 0h0m150.4 0h0m102.4 0h0m-267.2 2.8h0m9.6 0h0m256 0h0m-254.4 2.8h0m99.2 0h0m44.8 0h0m16 0h0m-4.8 2.8h0m35.2 0h0m51.2 0h0m9.6 0h0m-145.6 2.7h0m41.6 0h0m19.2 0h0m73.6 0h0m22.4 0h0m-276.8 2.8h0m16 0h0m9.6 0h0m16 0h0m9.6 0h0m3.2 0h0m105.6 0h0m41.6 0h0m54.4 0h0m12.8 0h0m-270.4 2.8h0m9.6 0h0m3.2 0h0m32 0h0m12.8 0h0m6.4 0h0m83.2 0h0m16 0h0m22.4 0h0m19.2 0h0m54.4 0h0m6.4 0h0m22.4 0h0m-232 2.7h0m16 0h0m38.4 0h0m16 0h0m32 0h0m32 0h0m3.2 0h0m22.4 0h0m57.6 0h0m-260.8 2.8h0m28.8 0h0m3.2 0h0m6.4 0h0m163.2 0h0m41.6 0h0m6.4 0h0m9.6 0h0m-174.4 2.8h0m6.4 0h0m28.8 0h0m3.2 0h0m32 0h0m92.8 0h0m-164.8 2.8h0m3.2 0h0m22.4 0h0m67.2 0h0m67.2 0h0m19.2 0h0m3.2 0h0m-184 2.7h0m147.2 0h0m3.2 0h0m6.4 0h0m35.2 0h0m-190.4 2.8h0m3.2 0h0m3.2 0h0m136 2.8h0m-155.2 2.7h0m153.6 0h0m9.6 0h0m-254.4 2.8h0m246.4 0h0m-91.2 2.8h0m86.4 0h0m-187.2 2.8h0m182.4 0h0m-232 2.7h0m51.2 0h0m54.4 0h0m35.2 0h0m102.4 0h0m-196.8 2.8h0m9.6 0h0m22.4 0h0m25.6 0h0m32 0h0m16 0h0m-120 2.8h0m16 0h0m80 0h0m3.2 0h0m57.6 0h0m12.8 0h0m22.4 0h0m12.8 0h0m22.4 0h0m-161.6 2.7h0m12.8 0h0m3.2 0h0m12.8 0h0m6.4 0h0m3.2 0h0m54.4 0h0m35.2 0h0m28.8 0h0m19.2 0h0m-276.8 2.8h0m57.6 0h0m16 0h0m12.8 0h0m6.4 0h0m38.4 0h0m22.4 0h0m35.2 0h0m28.8 0h0m19.2 0h0m35.2 0h0m3.2 0h0m6.4 0h0m9.6 0h0m-228.8 2.8h0m35.2 0h0m22.4 0h0m19.2 0h0m60.8 0h0m-142.4 2.8h0m192 0h0m16 0h0m6.4 0h0m6.4 0h0m-251.2 2.7h0m9.6 0h0m64 0h0m105.6 0h0m-27.2 2.8h0m28.8 0h0m9.6 0h0m-155.2 2.8h0m147.2 0h0m-185.6 5.5h0m144 0h0m51.2 0h0m-52.8 2.8h0m3.2 0h0m-100.8 2.8h0m102.4 0h0m-148.8 2.7h0m44.8 0h0m60.8 0h0m35.2 0h0m12.8 0h0m38.4 0h0m-184 2.8h0m140.8 0h0m3.2 0h0m-158.4 2.8h0m9.6 0h0m105.6 0h0m35.2 0h0m3.2 0h0m-136 2.7h0m32 0h0m57.6 0h0m35.2 0h0m3.2 0h0m6.4 0h0m16 0h0m25.6 0h0m51.2 0h0m19.2 0h0m-254.4 2.8h0m9.6 0h0m9.6 0h0m9.6 0h0m121.6 0h0m25.6 0h0m60.8 0h0m19.2 0h0m-267.2 2.8h0m48 0h0m9.6 0h0m41.6 0h0m19.2 0h0m3.2 0h0m9.6 0h0m3.2 0h0m22.4 0h0m9.6 0h0m12.8 0h0m28.8 0h0m6.4 0h0m35.2 0h0m22.4 0h0m3.2 0h0m-289.6 2.8h0m41.6 0h0m16 0h0m9.6 0h0m3.2 0h0m6.4 0h0m121.6 0h0m-177.6 2.7h0m25.6 0h0m32 0h0m44.8 0h0m3.2 0h0m41.6 0h0m60.8 0h0m35.2 0h0m3.2 0h0m-243.2 5.6h0m70.4 0h0m3.2 0h0m3.2 0h0m6.4 0h0m9.6 0h0m57.6 0h0m70.4 0h0m9.6 0h0m3.2 0h0m-59.2 2.7h0m64 0h0m-216 2.8h0m51.2 0h0m1.6 2.8h0m144 0h0m-97.6 2.8h0m96 0h0m4.8 2.7h0m-107.2 2.8h0m108.8 0h0m3.2 0h0m38.4 0h0m-190.4 2.8h0m105.6 0h0m32 0h0m16 0h0m-97.6 2.7h0m80 0h0m-241.6 2.8h0m44.8 0h0m3.2 0h0m41.6 0h0m19.2 0h0m3.2 0h0m35.2 0h0m44.8 0h0m51.2 0h0m6.4 0h0m-59.2 2.8h0m9.6 0h0m3.2 0h0m12.8 0h0m44.8 0h0m-212.8 2.7h0m35.2 0h0m6.4 0h0m3.2 0h0m3.2 0h0m41.6 0h0m16 0h0m54.4 0h0m51.2 0h0m-254.4 2.8h0m44.8 0h0m3.2 0h0m41.6 0h0m124.8 0h0m3.2 0h0m22.4 0h0m28.8 0h0m3.2 0h0m22.4 0h0m-251.2 2.8h0m6.4 0h0m9.6 0h0m38.4 0h0m57.6 0h0m51.2 0h0m19.2 0h0m67.2 0h0m-296 2.8h0m51.2 0h0m16 0h0m35.2 0h0m19.2 0h0m60.8 0h0m12.8 0h0m3.2 0h0m9.6 0h0m44.8 0h0m38.4 0h0m-161.6 2.7h0m54.4 0h0m70.4 0h0m-235.2 2.8h0m25.6 0h0m153.6 0h0m19.2 0h0m57.6 0h0m-75.2 2.8h0m12.8 0h0m3.2 0h0m6.4 0h0m-190.4 2.7h0m28.8 0h0m118.4 0h0m6.4 0h0m-145.6 2.8h0m28.8 0h0m102.4 0h0m16 0h0m-158.4 2.8h0m153.6 0h0"/><path stroke="#ffa300" d="M247 248.6h0m-140.8 5.5h0m86.4 0h0m3.2 0h0m3.2 0h0m52.8 2.8h0m-209.6 2.8h0m6.4 0h0m57.6 0h0m86.4 0h0m9.6 0h0m57.6 0h0m-100.8 2.8h0m153.6 0h0m-257.6 2.7h0m83.2 0h0m6.4 0h0m16 0h0m3.2 0h0m3.2 0h0m121.6 0h0m-145.6 2.8h0m25.6 0h0m35.2 0h0m3.2 0h0m89.6 0h0m-267.2 2.8h0m22.4 0h0m22.4 0h0m73.6 0h0m32 0h0m38.4 0h0m96 0h0m-267.2 2.7h0m35.2 0h0m211.2 0h0m-72 2.8h0m-164.8 2.8h0m230.4 0h0m6.4 0h0m-11.2 2.8h0m6.4 0h0m33.6 8.3h0m-299.2 2.7h0m148.8 2.8h0m-46.4 2.8h0m147.2 0h0m3.2 0h0m48 0h0m-139.2 2.8h0m86.4 0h0m3.2 0h0m-8 2.7h0m-196.8 2.8h0m112 0h0m-113.6 2.8h0m57.6 0h0m153.6 0h0m-216 2.7h0m28.8 0h0m22.4 0h0m9.6 0h0m92.8 0h0m9.6 0h0m9.6 0h0m60.8 0h0m6.4 0h0m-177.6 2.8h0m22.4 0h0m131.2 0h0m19.2 0h0m-145.6 2.8h0m64 0h0m54.4 0h0m32 0h0m-238.4 2.8h0m3.2 0h0m64 0h0m19.2 0h0m64 0h0m70.4 0h0m17.6 2.7h0m-246.4 5.6h0m41.6 5.5h0m-48 5.6h0m57.6 5.5h0m1.6 2.8h0m-1.6 2.7h0m57.6 0h0m-97.6 2.8h0m73.6 0h0m25.6 0h0m-100.8 2.8h0m78.4 2.8h0m57.6 0h0m83.2 0h0m-152 2.7h0m67.2 0h0m-142.4 2.8h0m147.2 0h0m75.2 2.8h0m0 5.5h0m-254.4 8.3h0m4.8 2.8h0m92.8 0h0m-8 2.8h0m9.6 0h0m48 0h0m12.8 0h0m-155.2 2.7h0m86.4 0h0m1.6 2.8h0m64 0h0m-120 2.8h0m6.4 0h0m12.8 0h0m204.8 0h0m-219.2 2.7h0m22.4 0h0m150.4 0h0m19.2 0h0m12.8 0h0m22.4 0h0m-152 2.8h0m134.4 0h0m-219.2 2.8h0m9.6 0h0m92.8 0h0m144 0h0m-238.4 2.8h0m70.4 0h0m16 0h0m-96 5.5h0m3.2 0h0m-4.8 2.8h0m3.2 0h0m92.8 0h0m57.6 0h0m92.8 0h0"/><path stroke="#ff8b00" d="M248.6 251.4h0m3.2 0h0m-152 2.7h0m150.4 0h0m-206.4 2.8h0m3.2 0h0m60.8 0h0m-3.2 5.6h0m150.4 0h0m-188.8 5.5h0m-4.8 2.8h0m102.4 0h0m-105.6 5.5h0m6.4 0h0m134.4 0h0m84.8 2.8h0m-145.6 2.8h0m40 19.4h0m4.8 2.7h0m-97.6 2.8h0m129.6 2.8h0m3.2 0h0m52.8 2.7h0m-200 2.8h0m80 0h0m144 0h0m-1.6 2.8h0m-233.6 5.5h0m-1.6 2.8h0m153.6 0h0m-17.6 13.9h0m3.2 0h0m-96 5.5h0m9.6 0h0m83.2 0h0m-91.2 2.8h0m40 2.7h0m16 0h0m-100.8 2.8h0m256 0h0m-244.8 2.8h0m134.4 0h0m3.2 0h0m105.6 0h0m-259.2 5.5h0m150.4 0h0m19.2 0h0m-84.8 2.8h0m153.6 0h0m-1.6 2.8h0m-118.4 11.1h0m1.6 2.7h0m96 0h0m-94.4 2.8h0m147.2 0h0m-203.2 2.8h0m1.6 2.7h0m150.4 0h0m-184 2.8h0m92.8 0h0m-94.4 2.8h0m134.4 0h0m-97.6 2.7h0m22.4 0h0m148.8 2.8h0m-142.4 2.8h0m121.6 0h0m-132.8 2.8h0m156.8 0h0m3.2 0h0"/><path stroke="#ff7400" d="M194.2 256.9h0m4.8 2.8h0m57.6 0h0m-115.2 5.5h0m169.6 0h0m-148.8 2.8h0m-104 2.8h0m14.4 2.7h0m147.2 0h0m-14.4 2.8h0m3.2 0h0m-72 2.8h0m148.8 2.8h0m-251.2 19.4h0m185.6 11h0m60.8 0h0m12.8 0h0m-17.6 2.8h0m-1.6 2.8h0m3.2 0h0m-142.4 2.8h0m147.2 0h0m-68.8 2.7h0m36.8 13.9h0m-201.6 5.5h0m201.6 0h0m-206.4 2.8h0m208 0h0m6.4 0h0m-152 2.8h0m150.4 0h0m-94.4 2.7h0m150.4 0h0m-168 2.8h0m16 0h0m128 0h0m-91.2 2.8h0m22.4 0h0m-152 2.8h0m128 0h0m22.4 0h0m6.4 0h0m67.2 0h0m-235.2 2.7h0m12.8 0h0m3.2 0h0m217.6 0h0m-8 2.8h0m-148.8 2.8h0m-108.8 16.6h0m156.8 0h0m-155.2 2.8h0m156.8 0h0m-148.8 2.7h0m147.2 0h0m-116.8 8.3h0m153.6 0h0m60.8 0h0m-209.6 2.8h0m51.2 0h0m19.2 0h0m80 0h0m51.2 0h0m3.2 0h0m-152 2.8h0m172.8 0h0m3.2 0h0m-17.6 2.8h0m-222.4 2.7h0"/><path stroke="#ff5c00" d="M103 254.1h0m94.4 2.8h0m-94.4 2.8h0m6.4 0h0m180.8 8.3h0m-219.2 2.8h0m-20.8 2.7h0m147.2 0h0m25.6 0h0m-161.6 2.8h0m9.6 0h0m131.2 0h0m12.8 0h0m-40 19.4h0m3.2 0h0m-152 2.8h0m96 0h0m-94.4 2.8h0m96 0h0m57.6 0h0m-152 2.7h0m150.4 0h0m-91.2 8.3h0m51.2 0h0m-72 2.8h0m76.8 0h0m-78.4 2.8h0m80 0h0m134.4 0h0m-176 22.2h0m152 2.7h0m-209.6 2.8h0m9.6 11.1h0m156.8 0h0m-72 2.8h0m80 0h0m-1.6 2.7h0m64 0h0m-105.6 22.2h0m92.8 0h0m3.2 0h0m-97.6 2.8h0m3.2 0h0m-1.6 2.7h0m-48 11.1h0m160 0h0m-161.6 2.8h0m16 0h0m3.2 0h0m128 0h0m-145.6 2.8h0m86.4 0h0m73.6 0h0m3.2 0h0m-83.2 5.5h0"/><path stroke="#ff4400" d="M45.4 254.1h0m56 2.8h0m153.6 0h0m3.2 0h0m-4.8 2.8h0m-113.6 8.3h0m172.8 0h0m-107.2 2.8h0m9.6 0h0m76.8 0h0m-91.2 2.7h0m-145.6 2.8h0m233.6 0h0m-201.6 33.3h0m150.4 0h0m-171.2 2.7h0m147.2 0h0m-84.8 2.8h0m-68.8 2.8h0m224 0h0m12.8 0h0m-86.4 5.5h0m-11.2 19.4h0m-59.2 13.9h0m147.2 0h0m-235.2 2.8h0m3.2 0h0m80 0h0m70.4 0h0m8 2.7h0m75.2 2.8h0m-73.6 33.2h0m-88 2.8h0m19.2 0h0m140.8 0h0m-76.8 5.6h0m3.2 0h0"/><path stroke="#ff2d00" d="M55 270.8h0m9.6 0h0m73.6 0h0m3.2 0h0m-75.2 2.7h0m3.2 0h0m147.2 0h0m70.4 0h0m-152 2.8h0m3.2 0h0m-107.2 25h0m89.6 0h0m12.8 16.6h0m76.8 0h0m-148.8 2.8h0m-16 22.1h0m57.6 0h0m-43.2 13.9h0m3.2 0h0m-1.6 2.8h0m-1.6 2.7h0m60.8 22.2h0m-88 2.8h0m89.6 0h0m147.2 0h0m3.2 0h0m-56 13.8h0m64 0h0m3.2 0h0m-4.8 2.8h0m3.2 0h0m-222.4 2.8h0m73.6 0h0m150.4 0h0m-72 2.7h0"/><path stroke="#ff1500" d="M67.8 270.8h0m144 0h0m-158.4 2.7h0m3.2 0h0m147.2 0h0m86.4 0h0m-78.4 2.8h0m-150.4 38.8h0m76.8 0h0m73.6 0h0m3.2 0h0m73.6 0h0m3.2 0h0m-155.2 2.8h0m150.4 0h0m-78.4 2.8h0m3.2 0h0m-110.4 19.4h0m150.4 0h0m-56 2.7h0m57.6 0h0m-148.8 2.8h0m-38.4 16.6h0m140.8 0h0m9.6 0h0m-81.6 2.8h0m-105.6 22.2h0m33.6 13.8h0m70.4 0h0m-72 2.8h0m3.2 0h0m-3.2 5.5h0"/><path stroke="#e50000" d="M288.6 270.8h0m-78.4 2.7h0m-33.6 25h0m3.2 0h0m-48 16.6h0m11.2 2.8h0m112 27.7h0m-118.4 16.6h0m73.6 0h0m-144 38.8h0m65.6 2.8h0m-68.8 2.8h0"/><path stroke="#c80000" d="M208.6 270.8h0m-145.6 2.7h0m73.6 0h0m70.4 0h0m-177.6 25h0m252.8 16.6h0m3.2 0h0m-155.2 2.8h0m-24 24.9h0m184 13.9h0m-75.2 2.8h0m73.6 0h0m-225.6 2.7h0m222.4 2.8h0m-148.8 36h0m1.6 2.8h0m76.8 0h0"/><path stroke="#ab0000" d="M253.4 254.1h0m-113.6 19.4h0m145.6 2.8h0m-144 38.8h0m-1.6 2.8h0m68.8 41.6h0m-68.8 2.7h0m147.2 0h0m-259.2 22.2h0m185.6 16.6h0m-78.4 2.8h0m6.4 0h0"/><path stroke="#8e0000" d="M104.6 256.9h0m-44.8 16.6h0m153.6 0h0m-148.8 41.6h0m70.4 0h0m-72 2.8h0m150.4 0h0m76.8 0h0m-232 41.6h0m6.4 0h0m73.6 0h0m73.6 0h0m0 44.3h0m73.6 0h0m3.2 0h0m3.2 0h0"/></g><defs><pattern id="patc" patternUnits="userSpaceOnUse" x="23.000" y="248.600" width="3.2000" height="5.5426"><circle cx="0.000" cy="0.000" r="1.65" fill="url(#shd)"/><circle cx="3.200" cy="0.000" r="1.65" fill="url(#shd)"/><circle cx="1.600" cy="2.771" r="1.65" fill="url(#shd)"/><circle cx="0.000" cy="5.543" r="1.65" fill="url(#shd)"/><circle cx="3.200" cy="5.543" r="1.65" fill="url(#shd)"/></pattern></defs><rect x="22" y="246.6" width="300.4" height="179.4" fill="url(#patc)"/></g><rect x="22" y="249.6" width="300.4" height="173.4" fill="none" stroke="#222" stroke-width="1.3"/><rect x="22" y="249.6" width="51.2" height="19.00000000000003" fill="#fff"/><text x="29.9" y="263" font-family="Liberation Serif" font-weight="bold" font-size="10" fill="#111" textLength="35.4" lengthAdjust="spacingAndGlyphs">Layer C</text><defs><linearGradient id="cbc" x1="0" y1="0" x2="0" y2="1"><stop offset="0.00" stop-color="#800000"/><stop offset="0.05" stop-color="#b90000"/><stop offset="0.10" stop-color="#f30900"/><stop offset="0.15" stop-color="#ff3900"/><stop offset="0.20" stop-color="#ff6800"/><stop offset="0.25" stop-color="#ff9700"/><stop offset="0.30" stop-color="#ffc600"/><stop offset="0.35" stop-color="#f7f600"/><stop offset="0.40" stop-color="#ceff29"/><stop offset="0.45" stop-color="#a5ff52"/><stop offset="0.50" stop-color="#7bff7b"/><stop offset="0.55" stop-color="#52ffa5"/><stop offset="0.60" stop-color="#29ffce"/><stop offset="0.65" stop-color="#00e5f7"/><stop offset="0.70" stop-color="#00b3ff"/><stop offset="0.75" stop-color="#0080ff"/><stop offset="0.80" stop-color="#004cff"/><stop offset="0.85" stop-color="#001aff"/><stop offset="0.90" stop-color="#0000f3"/><stop offset="0.95" stop-color="#0000b9"/><stop offset="1.00" stop-color="#000080"/></linearGradient></defs><rect x="313.5" y="328.3" width="8.5" height="94.69999999999999" fill="url(#cbc)"/><rect x="284" y="326.1" width="29.5" height="14.199999999999989" fill="#fff"/><text x="285.6" y="337.1" font-family="Liberation Serif" font-size="10" fill="#2b2b6b">0.021 e</text><rect x="284.4" y="408" width="29.100000000000023" height="15" fill="#fff"/><text x="286" y="419.6" font-family="Liberation Serif" font-size="10" fill="#2b2b6b">0.018 e</text><g transform="translate(13.8 411.9) rotate(-90)" font-family="Liberation Serif" fill="#333"><text x="0.00" y="0" font-size="13.7">[10</text><text x="18.26" y="0" font-size="13.7">1</text><text x="25.11" y="0" font-size="13.7">0]</text><text x="36.52" y="3.56" font-size="8.2" font-style="italic">Al2O3</text><text x="60.43" y="0" font-size="13.7">||</text><text x="66.92" y="0" font-size="13.7">[1</text><text x="78.33" y="0" font-size="13.7">1</text><text x="85.18" y="0" font-size="13.7">0]</text><text x="96.59" y="3.56" font-size="8.2" font-style="italic">Al</text><path d="M19.50 -10.69H23.88M79.56 -10.69H83.95" stroke="#333" stroke-width="0.7"/></g><g transform="translate(121.2 439)" font-family="Liberation Serif" fill="#333"><text x="0.00" y="0" font-size="13.7">[</text><text x="4.56" y="0" font-size="13.7">1</text><text x="11.41" y="0" font-size="13.7">2</text><text x="18.26" y="0" font-size="13.7">1</text><text x="25.11" y="0" font-size="13.7">0]</text><text x="36.52" y="3.56" font-size="8.2" font-style="italic">Al2O3</text><text x="60.93" y="0" font-size="13.7">||</text><text x="67.42" y="0" font-size="13.7">[</text><text x="71.98" y="0" font-size="13.7">1</text><text x="78.83" y="0" font-size="13.7">1</text><text x="85.68" y="0" font-size="13.7">2]</text><text x="97.09" y="3.56" font-size="8.2" font-style="italic">Al</text><path d="M5.80 -10.69H10.18M19.50 -10.69H23.88M73.21 -10.69H77.60M80.06 -10.69H84.45" stroke="#333" stroke-width="0.7"/></g><path d="M11.4 301.6V288.1" stroke="#111" stroke-width="1"/><path d="M11.4 284.1l-2.3 6h4.6z" fill="#111"/><path d="M236 433.9H255.5" stroke="#111" stroke-width="1"/><path d="M259.5 433.9l-6 -2.3v4.6z" fill="#111"/>
<defs><clipPath id="clipd"><rect x="381.3" y="248.6" width="299.3" height="173.7"/></clipPath></defs><rect x="381.3" y="249.2" width="299.3" height="172.5" fill="#70b0a0"/><g clip-path="url(#clipd)"><g fill="none" stroke-linecap="round" stroke-width="2.30"><path stroke="#0000e5" d="M628.7 309.2h0m-148.5 1.9h0m150.7 85.7h0"/><path stroke="#0000ff" d="M680.4 269.2h0m-52.8 38.1h0m-145.2 3.8h0m147.4 0h0m-148.5 1.9h0m2.2 0h0m147.4 0h0m-198 15.2h0m147.4 0h0m-147.4 3.8h0m97.9 21h0m-148.5 1.9h0m246.4 38.1h0m1.1 1.9h0m-148.5 1.9h0m148.5 1.9h0m2.2 0h0m-50.6 15.3h0m0 3.8h0"/><path stroke="#000dff" d="M428.5 248.2h0m154 0h0m-50.6 19.1h0m-148.5 1.9h0m145.2 0h0m2.2 0h0m2.2 0h0m143 0h0m2.2 0h0m-295.9 1.9h0m145.2 0h0m2.2 0h0m145.2 0h0m2.2 0h0m4.4 0h0m-1.1 1.9h0m-62.7 17.1h0m-138.6 19.1h0m2.2 0h0m149.6 0h0m-3.3 1.9h0m1.1 1.9h0m4.4 0h0m-150.7 1.9h0m149.6 0h0m-201.3 9.5h0m149.6 0h0m-150.7 1.9h0m149.6 0h0m2.2 0h0m-150.7 1.9h0m-1.1 1.9h0m4.4 0h0m143 0h0m2.2 0h0m2.2 0h0m-150.7 1.9h0m4.4 0h0m143 0h0m2.2 0h0m2.2 0h0m-148.5 1.9h0m145.2 0h0m2.2 0h0m-150.7 1.9h0m149.6 0h0m-48.4 15.3h0m145.2 0h0m-148.5 1.9h0m4.4 0h0m145.2 0h0m2.2 0h0m-295.9 1.9h0m145.2 0h0m151.8 0h0m-150.7 1.9h0m149.6 0h0m-211.2 19.1h0m11 15.2h0m-1.1 1.9h0m-1.1 1.9h0m2.2 0h0m147.4 0h0m1.1 1.9h0m-148.5 1.9h0m2.2 0h0m-1.1 1.9h0m149.6 0h0m-51.7 9.5h0m-146.3 2h0m147.4 0h0m-150.7 1.9h0m2.2 0h0m-3.3 1.9h0m2.2 0h0m2.2 0h0m145.2 0h0m2.2 0h0m-150.7 1.9h0m149.6 0h0m-148.5 1.9h0m149.6 0h0"/><path stroke="#0026ff" d="M430.7 248.2h0m2.2 0h0m2.2 0h0m143 0h0m2.2 0h0m4.4 0h0m-155.1 1.9h0m2.2 0h0m147.4 0h0m4.4 0h0m-52.8 15.2h0m147.4 0h0m2.2 0h0m-298.1 2h0m145.2 0h0m2.2 0h0m147.4 0h0m2.2 0h0m-152.9 1.9h0m-1.1 1.9h0m6.6 0h0m2.2 0h0m145.2 0h0m-152.9 1.9h0m2.2 0h0m2.2 0h0m145.2 0h0m-59.4 11.4h0m-148.5 1.9h0m147.4 0h0m2.2 0h0m-149.6 3.8h0m148.5 1.9h0m-145.2 3.8h0m2.2 0h0m146.3 1.9h0m-145.2 3.8h0m3.3 2h0m147.4 0h0m-148.5 1.9h0m2.2 0h0m149.6 0h0m-150.7 1.9h0m147.4 0h0m4.4 0h0m-152.9 1.9h0m6.6 0h0m143 0h0m-148.5 1.9h0m154 0h0m-152.9 1.9h0m1.1 1.9h0m4.4 0h0m-51.7 9.5h0m-1.1 1.9h0m2.2 0h0m143 0h0m6.6 0h0m-148.5 1.9h0m143 0h0m-146.3 1.9h0m151.8 0h0m-155.1 1.9h0m1.1 1.9h0m2.2 0h0m145.2 0h0m1.1 1.9h0m-48.4 15.3h0m149.6 0h0m-295.9 1.9h0m290.4 0h0m-148.5 1.9h0m2.2 0h0m4.4 0h0m143 0h0m2.2 0h0m2.2 0h0m-295.9 1.9h0m143 0h0m2.2 0h0m4.4 0h0m145.2 0h0m-146.3 1.9h0m143 0h0m4.4 0h0m-211.2 11.4h0m149.6 0h0m-150.7 1.9h0m2.2 0h0m147.4 0h0m2.2 0h0m-152.9 1.9h0m149.6 0h0m1.1 2h0m2.2 0h0m2.2 0h0m-152.9 1.9h0m149.6 0h0m2.2 0h0m-148.5 1.9h0m147.4 0h0m2.2 0h0m-147.4 3.8h0m148.5 1.9h0m-144.1 1.9h0m147.4 0h0m-148.5 1.9h0m149.6 0h0m0 3.8h0m4.4 0h0m-148.5 1.9h0m149.6 0h0m-152.9 1.9h0m4.4 0h0m1.1 5.7h0m-55 7.6h0m151.8 0h0m-150.7 2h0m4.4 0h0m147.4 0h0m-148.5 1.9h0m143 0h0m2.2 0h0m-144.1 1.9h0m147.4 0h0m2.2 0h0m-152.9 1.9h0m145.2 0h0m6.6 0h0m-150.7 1.9h0m2.2 0h0m147.4 0h0"/><path stroke="#0040ff" d="M437.3 248.2h0m138.6 0h0m-148.5 1.9h0m6.6 0h0m2.2 0h0m140.8 0h0m4.4 0h0m-3.3 1.9h0m2.2 0h0m2.2 0h0m2.2 0h0m-148.5 1.9h0m145.2 0h0m2.2 0h0m95.7 9.5h0m-295.9 1.9h0m143 0h0m2.2 0h0m-144.1 2h0m297 0h0m-157.3 1.9h0m11 0h0m-150.7 1.9h0m2.2 0h0m286 0h0m-289.3 1.9h0m149.6 0h0m140.8 0h0m4.4 0h0m-295.9 1.9h0m145.2 0h0m2.2 0h0m145.2 0h0m4.4 0h0m-212.3 9.5h0m-1.1 1.9h0m1.1 1.9h0m2.2 0h0m2.2 0h0m143 0h0m-148.5 1.9h0m4.4 0h0m145.2 0h0m4.4 0h0m-152.9 1.9h0m2.2 0h0m2.2 0h0m2.2 0h0m145.2 0h0m2.2 0h0m-152.9 1.9h0m2.2 0h0m2.2 0h0m145.2 0h0m2.2 0h0m-150.7 1.9h0m149.6 0h0m2.2 0h0m-150.7 1.9h0m151.8 0h0m2.2 0h0m-152.9 1.9h0m2.2 0h0m2.2 0h0m145.2 0h0m2.2 0h0m-146.3 1.9h0m145.2 0h0m2.2 0h0m-150.7 2h0m2.2 0h0m151.8 0h0m-1.1 1.9h0m-150.7 1.9h0m4.4 0h0m144.1 1.9h0m-139.7 1.9h0m149.6 0h0m-7.7 1.9h0m1.1 1.9h0m2.2 0h0m4.4 0h0m-152.9 1.9h0m2.2 0h0m147.4 0h0m2.2 0h0m-201.3 5.7h0m2.2 0h0m1.1 1.9h0m147.4 0h0m-155.1 1.9h0m1.1 1.9h0m154 0h0m2.2 0h0m-157.3 1.9h0m-1.1 1.9h0m149.6 0h0m8.8 0h0m-1.1 1.9h0m2.2 0h0m-152.9 1.9h0m149.6 0h0m-1.1 1.9h0m2.2 0h0m-201.3 13.4h0m2.2 0h0m143 0h0m-141.9 1.9h0m138.6 0h0m2.2 0h0m149.6 0h0m-141.9 1.9h0m-148.5 1.9h0m138.6 0h0m151.8 0h0m-293.7 1.9h0m145.2 0h0m2.2 0h0m147.4 0h0m-209 7.6h0m149.6 0h0m-152.9 1.9h0m149.6 0h0m2.2 0h0m-146.3 1.9h0m145.2 0h0m4.4 0h0m-5.5 1.9h0m-146.3 1.9h0m2.2 0h0m2.2 0h0m145.2 0h0m2.2 0h0m-152.9 2h0m4.4 0h0m-5.5 1.9h0m149.6 0h0m6.6 0h0m-152.9 1.9h0m154 0h0m-152.9 1.9h0m2.2 0h0m147.4 0h0m-148.5 1.9h0m149.6 0h0m2.2 0h0m2.2 0h0m-148.5 1.9h0m-3.3 1.9h0m147.4 0h0m2.2 0h0m4.4 0h0m-3.3 1.9h0m4.4 0h0m-152.9 1.9h0m2.2 0h0m147.4 0h0m2.2 0h0m2.2 0h0m-152.9 1.9h0m4.4 0h0m145.2 3.8h0m6.6 0h0m-155.1 1.9h0m6.6 0h0m143 0h0m6.6 0h0m-150.7 1.9h0m149.6 0h0m2.2 0h0m-204.6 7.6h0m2.2 0h0m145.2 0h0m4.4 0h0m-150.7 1.9h0m4.4 0h0m140.8 0h0m6.6 0h0m-155.1 2h0m149.6 0h0m6.6 0h0m-157.3 1.9h0m8.8 0h0m147.4 0h0m-156.2 3.8h0m6.6 0h0m-5.5 1.9h0m149.6 0h0m6.6 0h0m-155.1 1.9h0m4.4 0h0m145.2 0h0m2.2 0h0m2.2 0h0m2.2 0h0"/><path stroke="#0059ff" d="M438.4 250.1h0m147.4 0h0m-157.3 1.9h0m2.2 0h0m2.2 0h0m2.2 0h0m140.8 0h0m-146.3 1.9h0m2.2 0h0m154 0h0m-150.7 1.9h0m2.2 0h0m149.6 0h0m-204.6 7.6h0m2.2 0h0m143 0h0m4.4 0h0m145.2 0h0m-291.5 1.9h0m147.4 0h0m2.2 0h0m138.6 0h0m2.2 0h0m-289.3 2h0m138.6 0h0m8.8 0h0m138.6 0h0m2.2 0h0m-289.3 1.9h0m286 0h0m2.2 0h0m-137.5 1.9h0m-150.7 1.9h0m286 0h0m-146.3 1.9h0m6.6 0h0m2.2 0h0m138.6 0h0m4.4 0h0m4.4 0h0m-150.7 1.9h0m-64.9 1.9h0m151.8 0h0m-3.3 1.9h0m1.1 1.9h0m2.2 0h0m-152.9 1.9h0m4.4 0h0m145.2 0h0m4.4 0h0m-148.5 1.9h0m2.2 0h0m147.4 0h0m-3.3 1.9h0m2.2 0h0m2.2 0h0m-148.5 1.9h0m150.7 1.9h0m-148.5 1.9h0m140.8 0h0m6.6 0h0m-155.1 1.9h0m149.6 0h0m6.6 0h0m-150.7 1.9h0m2.2 0h0m200.2 0h0m-205.7 1.9h0m156.2 0h0m-152.9 1.9h0m154 0h0m-3.3 2h0m-150.7 1.9h0m2.2 0h0m6.6 0h0m140.8 0h0m2.2 0h0m6.6 0h0m-148.5 1.9h0m149.6 0h0m-6.6 3.8h0m-139.7 1.9h0m149.6 0h0m-148.5 1.9h0m-1.1 1.9h0m149.6 0h0m-205.7 1.9h0m55 0h0m2.2 0h0m145.2 0h0m2.2 0h0m-201.3 1.9h0m52.8 0h0m-56.1 1.9h0m147.4 0h0m2.2 0h0m2.2 0h0m-155.1 1.9h0m2.2 0h0m149.6 0h0m-3.3 1.9h0m11 0h0m-148.5 1.9h0m138.6 0h0m-150.7 1.9h0m11 0h0m149.6 0h0m1.1 1.9h0m-161.7 1.9h0m2.2 0h0m8.8 0h0m138.6 0h0m-146.3 1.9h0m6.6 0h0m149.6 0h0m-155.1 1.9h0m2.2 0h0m2.2 0h0m2.2 0h0m151.8 0h0m-152.9 2h0m145.2 0h0m-196.9 9.5h0m2.2 0h0m143 0h0m2.2 0h0m2.2 0h0m2.2 0h0m140.8 0h0m2.2 0h0m2.2 0h0m-155.1 1.9h0m8.8 0h0m140.8 0h0m6.6 0h0m-146.3 1.9h0m136.4 0h0m-284.9 1.9h0m286 0h0m1.1 1.9h0m-289.3 1.9h0m140.8 0h0m8.8 0h0m138.6 0h0m8.8 0h0m-298.1 1.9h0m145.2 0h0m145.2 0h0m2.2 0h0m-209 3.8h0m-1.1 1.9h0m147.4 0h0m2.2 0h0m-148.5 1.9h0m151.8 0h0m-152.9 1.9h0m-1.1 1.9h0m156.2 0h0m-6.6 3.9h0m-144.1 1.9h0m2.2 0h0m1.1 1.9h0m143 0h0m-148.5 1.9h0m149.6 0h0m4.4 0h0m2.2 0h0m-148.5 1.9h0m50.6 0h0m92.4 0h0m-146.3 1.9h0m2.2 0h0m149.6 0h0m2.2 0h0m50.6 0h0m-201.3 1.9h0m-3.3 1.9h0m2.2 0h0m4.4 0h0m143 0h0m-139.7 1.9h0m140.8 0h0m-139.7 1.9h0m149.6 0h0m-157.3 1.9h0m8.8 0h0m140.8 0h0m-138.6 3.8h0m-7.7 1.9h0m6.6 0h0m-3.3 1.9h0m4.4 0h0m145.2 0h0m4.4 0h0m-203.5 1.9h0m52.8 0h0m94.6 0h0m-150.7 1.9h0m2.2 0h0m2.2 0h0m145.2 0h0m-150.7 1.9h0m6.6 0h0m145.2 0h0m4.4 0h0m-150.7 1.9h0m-7.7 2h0m149.6 0h0m11 0h0m-12.1 1.9h0m-148.5 1.9h0m149.6 0h0m-139.7 1.9h0m138.6 0h0m11 0h0m-148.5 1.9h0m138.6 0h0m11 0h0m-159.5 1.9h0m4.4 0h0m4.4 0h0m140.8 0h0"/><path stroke="#0073ff" d="M426.3 248.2h0m147.4 0h0m13.2 0h0m-12.1 1.9h0m-137.5 1.9h0m149.6 0h0m-152.9 1.9h0m145.2 0h0m-146.3 1.9h0m6.6 0h0m138.6 0h0m6.6 0h0m4.4 0h0m-150.7 1.9h0m2.2 0h0m84.7 5.7h0m4.4 0h0m151.8 0h0m-158.4 3.9h0m13.2 0h0m-13.2 3.8h0m147.4 0h0m-146.3 1.9h0m11 0h0m-150.7 1.9h0m2.2 0h0m146.3 1.9h0m81.4 0h0m63.8 0h0m-210.1 1.9h0m2.2 0h0m145.2 0h0m-148.5 1.9h0m2.2 0h0m147.4 0h0m-152.9 1.9h0m2.2 0h0m2.2 0h0m2.2 0h0m2.2 0h0m140.8 0h0m-150.7 1.9h0m8.8 0h0m140.8 0h0m-148.5 1.9h0m149.6 0h0m-148.5 1.9h0m147.4 0h0m-148.5 1.9h0m149.6 0h0m8.8 0h0m-157.3 1.9h0m149.6 0h0m-148.5 1.9h0m9.9 1.9h0m50.6 0h0m99 0h0m48.4 0h0m2.2 0h0m-207.9 1.9h0m59.4 0h0m99 0h0m-205.7 1.9h0m57.2 0h0m46.2 0h0m1.1 1.9h0m2.2 0h0m44 0h0m101.2 0h0m-249.7 2h0m147.4 0h0m50.6 0h0m8.8 0h0m-156.2 3.8h0m149.6 0h0m-137.5 1.9h0m147.4 0h0m-157.3 1.9h0m1.1 1.9h0m159.5 1.9h0m-157.3 1.9h0m8.8 0h0m-53.9 1.9h0m145.2 0h0m2.2 0h0m48.4 0h0m6.6 0h0m-207.9 1.9h0m2.2 0h0m145.2 0h0m2.2 0h0m2.2 0h0m55 0h0m2.2 0h0m-210.1 1.9h0m156.2 0h0m-146.3 1.9h0m138.6 0h0m8.8 0h0m-148.5 1.9h0m-9.9 1.9h0m12.1 1.9h0m136.4 0h0m-137.5 1.9h0m0 3.8h0m138.6 0h0m11 0h0m-159.5 1.9h0m11 0h0m138.6 0h0m2.2 0h0m6.6 0h0m-152.9 2h0m154 0h0m-152.9 1.9h0m2.2 0h0m2.2 0h0m145.2 0h0m-53.9 5.7h0m2.2 0h0m145.2 0h0m2.2 0h0m2.2 0h0m-155.1 1.9h0m-139.7 1.9h0m286 0h0m-284.9 1.9h0m134.2 0h0m1.1 1.9h0m13.2 0h0m134.2 0h0m-282.7 1.9h0m134.2 0h0m13.2 0h0m136.4 0h0m-140.8 3.8h0m147.4 0h0m2.2 0h0m-214.5 1.9h0m61.6 0h0m2.2 0h0m83.6 0h0m2.2 0h0m2.2 0h0m57.2 0h0m6.6 0h0m-64.9 1.9h0m-152.9 1.9h0m6.6 0h0m149.6 0h0m-150.7 1.9h0m151.8 0h0m-157.3 1.9h0m149.6 0h0m8.8 0h0m-150.7 1.9h0m141.9 1.9h0m8.8 0h0m-157.3 2h0m148.5 1.9h0m11 0h0m-157.3 1.9h0m8.8 0h0m149.6 0h0m-150.7 1.9h0m52.8 0h0m147.4 0h0m-251.9 1.9h0m46.2 0h0m8.8 0h0m50.6 0h0m44 0h0m103.4 0h0m-205.7 1.9h0m99 0h0m50.6 0h0m52.8 0h0m2.2 0h0m-203.5 1.9h0m99 0h0m48.4 0h0m11 0h0m44 0h0m-104.5 1.9h0m61.6 0h0m-157.3 1.9h0m158.4 0h0m-157.3 1.9h0m149.6 0h0m-1.1 1.9h0m-146.3 1.9h0m8.8 0h0m150.7 1.9h0m-148.5 1.9h0m140.8 0h0m8.8 0h0m-7.7 1.9h0m4.4 0h0m-150.7 1.9h0m4.4 0h0m90.2 0h0m4.4 0h0m50.6 0h0m2.2 0h0m-199.1 1.9h0m48.4 0h0m2.2 0h0m88 0h0m6.6 0h0m2.2 0h0m2.2 0h0m48.4 0h0m2.2 0h0m-210.1 1.9h0m149.6 0h0m-150.7 1.9h0m2.2 0h0m11 0h0m147.4 0h0m-148.5 2h0m-12.1 1.9h0m13.2 0h0m147.4 0h0m-161.7 1.9h0m13.2 0h0m136.4 0h0m13.2 0h0m-161.7 1.9h0m13.2 0h0m-12.1 1.9h0"/><path stroke="#008cff" d="M589.1 248.2h0m-148.5 1.9h0m147.4 0h0m-161.7 1.9h0m13.2 0h0m134.2 0h0m-146.3 1.9h0m11 0h0m136.4 0h0m2.2 0h0m11 0h0m-159.5 1.9h0m2.2 0h0m11 0h0m138.6 0h0m2.2 0h0m-150.7 1.9h0m2.2 0h0m151.8 0h0m-148.5 1.9h0m-51.7 1.9h0m140.8 0h0m2.2 0h0m2.2 0h0m145.2 0h0m2.2 0h0m-144.1 1.9h0m140.8 0h0m-150.7 1.9h0m-135.3 2h0m-1.1 1.9h0m132 0h0m2.2 0h0m15.4 0h0m132 0h0m-148.5 1.9h0m17.6 0h0m-15.4 3.8h0m94.6 0h0m-234.3 1.9h0m2.2 0h0m79.2 0h0m2.2 0h0m2.2 0h0m55 0h0m2.2 0h0m2.2 0h0m90.2 0h0m55 0h0m2.2 0h0m4.4 0h0m-298.1 1.9h0m145.2 0h0m2.2 0h0m2.2 0h0m81.4 0h0m61.6 0h0m2.2 0h0m2.2 0h0m-214.5 1.9h0m154 0h0m2.2 0h0m-1.1 1.9h0m-146.3 1.9h0m147.4 0h0m-9.9 1.9h0m11 0h0m-159.5 1.9h0m11 0h0m150.7 1.9h0m-148.5 1.9h0m49.5 1.9h0m88 0h0m11 0h0m-203.5 1.9h0m193.6 0h0m63.8 0h0m-201.3 1.9h0m46.2 0h0m2.2 0h0m4.4 0h0m88 0h0m59.4 0h0m-258.5 1.9h0m4.4 0h0m44 0h0m59.4 0h0m41.8 0h0m2.2 0h0m2.2 0h0m46.2 0h0m8.8 0h0m44 0h0m2.2 0h0m2.2 0h0m-256.3 1.9h0m2.2 0h0m48.4 0h0m8.8 0h0m44 0h0m44 0h0m2.2 0h0m4.4 0h0m44 0h0m2.2 0h0m8.8 0h0m46.2 0h0m-254.1 2h0m50.6 0h0m8.8 0h0m44 0h0m48.4 0h0m-152.9 1.9h0m2.2 0h0m2.2 0h0m145.2 0h0m2.2 0h0m2.2 0h0m-89.1 1.9h0m136.4 0h0m-146.3 1.9h0m160.6 0h0m-148.5 1.9h0m149.6 0h0m-148.5 1.9h0m-9.9 1.9h0m101.2 0h0m46.2 0h0m-196.9 1.9h0m200.2 0h0m8.8 0h0m-210.1 1.9h0m4.4 0h0m4.4 0h0m46.2 0h0m94.6 0h0m8.8 0h0m52.8 0h0m-203.5 1.9h0m46.2 0h0m2.2 0h0m4.4 0h0m2.2 0h0m92.4 0h0m2.2 0h0m48.4 0h0m-207.9 1.9h0m11 0h0m50.6 0h0m88 0h0m11 0h0m-95.7 1.9h0m96.8 0h0m-161.7 1.9h0m13.2 0h0m-14.3 1.9h0m149.6 0h0m13.2 0h0m-14.3 1.9h0m15.4 0h0m-163.9 1.9h0m149.6 0h0m-135.3 1.9h0m149.6 0h0m-161.7 1.9h0m13.2 0h0m134.2 0h0m-148.5 1.9h0m15.4 0h0m-14.3 2h0m2.2 0h0m2.2 0h0m6.6 0h0m2.2 0h0m2.2 0h0m134.2 0h0m2.2 0h0m4.4 0h0m2.2 0h0m-152.9 1.9h0m8.8 0h0m138.6 0h0m6.6 0h0m2.2 0h0m2.2 0h0m-155.1 1.9h0m2.2 0h0m145.2 0h0m4.4 0h0m91.3 1.9h0m-295.9 1.9h0m145.2 0h0m8.8 0h0m-148.5 1.9h0m134.2 0h0m14.3 1.9h0m134.2 0h0m-133.1 1.9h0m-148.5 1.9h0m280.5 1.9h0m-282.7 1.9h0m79.2 0h0m55 0h0m2.2 0h0m13.2 0h0m-150.7 1.9h0m83.6 0h0m55 0h0m2.2 0h0m6.6 0h0m83.6 0h0m2.2 0h0m52.8 0h0m-289.3 1.9h0m85.8 0h0m55 0h0m2.2 0h0m151.8 0h0m2.2 0h0m-214.5 1.9h0m4.4 0h0m2.2 0h0m140.8 0h0m2.2 0h0m4.4 0h0m2.2 0h0m-9.9 1.9h0m-148.5 1.9h0m8.8 0h0m2.2 0h0m138.6 0h0m-139.7 1.9h0m138.6 0h0m1.1 1.9h0m-148.5 1.9h0m9.9 2h0m138.6 0h0m11 0h0m-159.5 1.9h0m11 0h0m49.5 1.9h0m2.2 0h0m88 0h0m61.6 0h0m-254.1 1.9h0m44 0h0m11 0h0m48.4 0h0m46.2 0h0m44 0h0m61.6 0h0m-256.3 1.9h0m103.4 0h0m46.2 0h0m57.2 0h0m46.2 0h0m4.4 0h0m-260.7 1.9h0m4.4 0h0m2.2 0h0m44 0h0m11 0h0m46.2 0h0m2.2 0h0m2.2 0h0m41.8 0h0m2.2 0h0m44 0h0m-199.1 1.9h0m2.2 0h0m2.2 0h0m57.2 0h0m44 0h0m41.8 0h0m6.6 0h0m99 0h0m4.4 0h0m-256.3 1.9h0m4.4 0h0m57.2 0h0m44 0h0m94.6 0h0m52.8 0h0m-251.9 1.9h0m2.2 0h0m147.4 0h0m50.6 0h0m-148.5 1.9h0m13.2 0h0m148.5 1.9h0m1.1 1.9h0m-9.9 1.9h0m-195.8 3.8h0m50.6 0h0m101.2 0h0m57.2 0h0m-210.1 1.9h0m2.2 0h0m4.4 0h0m46.2 0h0m8.8 0h0m147.4 0h0m-210.1 1.9h0m149.6 0h0m55 0h0m-194.7 1.9h0m48.4 0h0m88 0h0m63.8 0h0m-62.7 1.9h0m-1.1 2h0m14.3 1.9h0m-147.4 3.8h0m147.4 0h0m-148.5 1.9h0m149.6 0h0m-150.7 1.9h0m136.4 0h0m13.2 0h0"/><path stroke="#00a6ff" d="M424.1 248.2h0m15.4 0h0m-14.3 1.9h0m-1.1 1.9h0m17.6 0h0m147.4 0h0m-163.9 1.9h0m15.4 0h0m149.6 0h0m-14.3 1.9h0m15.4 0h0m-163.9 1.9h0m8.8 0h0m143 0h0m4.4 0h0m4.4 0h0m-155.1 1.9h0m6.6 0h0m2.2 0h0m90.2 0h0m52.8 0h0m2.2 0h0m90.2 0h0m2.2 0h0m-295.9 1.9h0m55 0h0m242 0h0m-293.7 1.9h0m136.4 0h0m15.4 0h0m134.2 0h0m-284.9 1.9h0m134.2 0h0m15.4 0h0m134.2 0h0m-150.7 2h0m149.6 0h0m-280.5 1.9h0m149.6 0h0m-150.7 1.9h0m79.2 0h0m-80.3 1.9h0m134.2 0h0m15.4 0h0m-69.3 1.9h0m52.8 0h0m94.6 0h0m4.4 0h0m-7.7 1.9h0m4.4 0h0m4.4 0h0m50.6 0h0m-207.9 1.9h0m8.8 0h0m50.6 0h0m88 0h0m8.8 0h0m61.6 0h0m-218.9 1.9h0m8.8 0h0m57.2 0h0m83.6 0h0m68.2 0h0m-69.3 1.9h0m11 0h0m-160.6 3.8h0m14.3 1.9h0m147.4 0h0m-148.5 1.9h0m136.4 0h0m-84.7 1.9h0m85.8 0h0m-148.5 1.9h0m59.4 0h0m6.6 0h0m41.8 0h0m101.2 0h0m2.2 0h0m2.2 0h0m-258.5 1.9h0m59.4 0h0m46.2 0h0m4.4 0h0m39.6 0h0m2.2 0h0m101.2 0h0m-254.1 1.9h0m2.2 0h0m2.2 0h0m44 0h0m101.2 0h0m2.2 0h0m2.2 0h0m2.2 0h0m99 0h0m6.6 0h0m-262.9 1.9h0m105.6 0h0m6.6 0h0m46.2 0h0m41.8 0h0m61.6 0h0m-260.7 1.9h0m6.6 0h0m2.2 0h0m41.8 0h0m61.6 0h0m147.4 0h0m2.2 0h0m-262.9 2h0m2.2 0h0m6.6 0h0m44 0h0m13.2 0h0m44 0h0m39.6 0h0m2.2 0h0m6.6 0h0m44 0h0m52.8 0h0m2.2 0h0m-190.3 1.9h0m41.8 0h0m2.2 0h0m39.6 0h0m-148.5 1.9h0m2.2 0h0m4.4 0h0m147.4 0h0m61.6 0h0m-161.7 1.9h0m99 0h0m-144.1 1.9h0m195.8 0h0m-191.4 3.8h0m2.2 0h0m41.8 0h0m13.2 0h0m88 0h0m61.6 0h0m-212.3 1.9h0m4.4 0h0m4.4 0h0m55 0h0m88 0h0m2.2 0h0m2.2 0h0m2.2 0h0m-104.5 1.9h0m8.8 0h0m94.6 0h0m44 0h0m-203.5 1.9h0m2.2 0h0m11 0h0m149.6 0h0m44 0h0m-192.5 1.9h0m46.2 0h0m147.4 0h0m4.4 0h0m-196.9 1.9h0m48.4 0h0m85.8 0h0m59.4 0h0m2.2 0h0m2.2 0h0m2.2 0h0m-148.5 1.9h0m81.4 0h0m15.4 0h0m48.4 0h0m-196.9 1.9h0m-16.5 1.9h0m0 3.8h0m17.6 0h0m132 0h0m17.6 0h0m-166.1 1.9h0m165 0h0m-16.5 1.9h0m2.2 0h0m15.4 0h0m-1.1 2h0m2.2 0h0m-161.7 1.9h0m147.4 0h0m4.4 0h0m-148.5 1.9h0m6.6 0h0m2.2 0h0m147.4 0h0m2.2 0h0m-207.9 1.9h0m143 0h0m6.6 0h0m50.6 0h0m2.2 0h0m4.4 0h0m-205.7 1.9h0m2.2 0h0m138.6 0h0m8.8 0h0m138.6 0h0m2.2 0h0m-150.7 1.9h0m13.2 0h0m136.4 0h0m-284.9 1.9h0m132 0h0m2.2 0h0m146.3 1.9h0m-150.7 1.9h0m2.2 0h0m99 0h0m-82.5 1.9h0m1.1 1.9h0m74.8 0h0m57.2 0h0m-205.7 1.9h0m2.2 0h0m55 0h0m13.2 0h0m85.8 0h0m48.4 0h0m-284.9 1.9h0m2.2 0h0m83.6 0h0m61.6 0h0m2.2 0h0m85.8 0h0m52.8 0h0m-210.1 1.9h0m63.8 0h0m2.2 0h0m2.2 0h0m2.2 0h0m77 0h0m66 0h0m2.2 0h0m-216.7 1.9h0m11 0h0m149.6 0h0m-12.1 1.9h0m13.2 0h0m-161.7 1.9h0m1.1 1.9h0m11 0h0m149.6 0h0m-148.5 1.9h0m136.4 0h0m-148.5 2h0m14.3 1.9h0m48.4 0h0m2.2 0h0m149.6 0h0m-212.3 1.9h0m63.8 0h0m145.2 0h0m-254.1 1.9h0m110 0h0m39.6 0h0m103.4 0h0m6.6 0h0m-262.9 1.9h0m2.2 0h0m6.6 0h0m41.8 0h0m63.8 0h0m35.2 0h0m2.2 0h0m6.6 0h0m41.8 0h0m55 0h0m-251.9 1.9h0m103.4 0h0m44 0h0m8.8 0h0m52.8 0h0m41.8 0h0m8.8 0h0m-254.1 1.9h0m44 0h0m52.8 0h0m4.4 0h0m2.2 0h0m39.6 0h0m110 0h0m-260.7 1.9h0m4.4 0h0m4.4 0h0m44 0h0m59.4 0h0m37.4 0h0m4.4 0h0m103.4 0h0m-256.3 1.9h0m66 0h0m92.4 0h0m-157.3 1.9h0m4.4 0h0m198 0h0m-148.5 1.9h0m99 0h0m-97.9 1.9h0m101.2 0h0m48.4 0h0m-190.3 1.9h0m41.8 0h0m101.2 0h0m2.2 0h0m59.4 0h0m-210.1 1.9h0m145.2 0h0m4.4 0h0m48.4 0h0m-199.1 1.9h0m4.4 0h0m2.2 0h0m44 0h0m11 0h0m2.2 0h0m85.8 0h0m2.2 0h0m4.4 0h0m-157.3 1.9h0m11 0h0m55 0h0m81.4 0h0m2.2 0h0m8.8 0h0m2.2 0h0m41.8 0h0m2.2 0h0m8.8 0h0m-150.7 1.9h0m149.6 0h0m2.2 0h0m-150.7 1.9h0m2.2 0h0m94.6 0h0m46.2 0h0m2.2 0h0m-148.5 1.9h0m2.2 0h0m99 0h0m-163.9 2h0m15.4 0h0m-16.5 1.9h0m16.5 1.9h0m149.6 0h0m-16.5 1.9h0m-148.5 1.9h0m149.6 0h0m-148.5 1.9h0m15.4 0h0m132 0h0m17.6 0h0"/><path stroke="#00bfff" d="M423 250.1h0m149.6 0h0m17.6 0h0m1.1 1.9h0m-148.5 1.9h0m129.8 0h0m-146.3 1.9h0m3.3 1.9h0m13.2 0h0m90.2 0h0m48.4 0h0m8.8 0h0m-207.9 1.9h0m48.4 0h0m4.4 0h0m92.4 0h0m6.6 0h0m46.2 0h0m8.8 0h0m2.2 0h0m-150.7 1.9h0m83.6 0h0m8.8 0h0m2.2 0h0m55 0h0m81.4 0h0m2.2 0h0m-284.9 1.9h0m132 0h0m15.4 0h0m134.2 0h0m-199.1 1.9h0m48.4 0h0m19.8 0h0m79.2 0h0m50.6 0h0m-199.1 2h0m48.4 0h0m19.8 0h0m2.2 0h0m81.4 0h0m-155.1 1.9h0m149.6 0h0m4.4 0h0m-155.1 1.9h0m147.4 0h0m4.4 0h0m2.2 0h0m-150.7 1.9h0m2.2 0h0m2.2 0h0m46.2 0h0m92.4 0h0m2.2 0h0m2.2 0h0m2.2 0h0m2.2 0h0m48.4 0h0m-203.5 1.9h0m4.4 0h0m2.2 0h0m63.8 0h0m2.2 0h0m74.8 0h0m57.2 0h0m-282.7 1.9h0m74.8 0h0m8.8 0h0m50.6 0h0m13.2 0h0m2.2 0h0m85.8 0h0m-238.7 1.9h0m77 0h0m59.4 0h0m4.4 0h0m8.8 0h0m88 0h0m50.6 0h0m-287.1 1.9h0m74.8 0h0m13.2 0h0m204.6 0h0m-216.7 1.9h0m13.2 0h0m55 0h0m80.3 1.9h0m-135.3 1.9h0m149.6 0h0m-14.3 1.9h0m15.4 0h0m-163.9 1.9h0m66 0h0m97.9 1.9h0m48.4 0h0m2.2 0h0m-254.1 1.9h0m55 0h0m50.6 0h0m99 0h0m44 0h0m-247.5 1.9h0m41.8 0h0m66 0h0m44 0h0m105.6 0h0m-298.1 1.9h0m41.8 0h0m55 0h0m136.4 0h0m55 0h0m-245.3 1.9h0m55 0h0m50.6 0h0m35.2 0h0m11 0h0m92.4 0h0m11 0h0m-298.1 1.9h0m99 0h0m83.6 0h0m11 0h0m39.6 0h0m-86.9 2h0m103.4 0h0m44 0h0m2.2 0h0m2.2 0h0m-254.1 1.9h0m2.2 0h0m101.2 0h0m35.2 0h0m52.8 0h0m2.2 0h0m52.8 0h0m2.2 0h0m2.2 0h0m-254.1 1.9h0m6.6 0h0m41.8 0h0m52.8 0h0m44 0h0m2.2 0h0m4.4 0h0m-155.1 1.9h0m4.4 0h0m4.4 0h0m2.2 0h0m138.6 0h0m4.4 0h0m4.4 0h0m41.8 0h0m2.2 0h0m-192.5 1.9h0m140.8 0h0m2.2 0h0m4.4 0h0m2.2 0h0m2.2 0h0m-150.7 1.9h0m2.2 0h0m41.8 0h0m103.4 0h0m2.2 0h0m44 0h0m13.2 0h0m-212.3 1.9h0m2.2 0h0m2.2 0h0m151.8 0h0m-157.3 1.9h0m8.8 0h0m4.4 0h0m39.6 0h0m96.8 0h0m2.2 0h0m50.6 0h0m13.2 0h0m-216.7 1.9h0m15.4 0h0m39.6 0h0m13.2 0h0m83.6 0h0m-82.5 1.9h0m81.4 0h0m15.4 0h0m50.6 0h0m2.2 0h0m-152.9 1.9h0m2.2 0h0m81.4 0h0m15.4 0h0m46.2 0h0m4.4 0h0m2.2 0h0m2.2 0h0m-218.9 1.9h0m70.4 0h0m94.6 0h0m52.8 0h0m-218.9 1.9h0m17.6 0h0m48.4 0h0m151.8 0h0m-150.7 1.9h0m81.4 0h0m68.2 0h0m-199.1 1.9h0m-1.1 1.9h0m132 0h0m17.6 0h0m2.2 3.8h0m-167.2 3.9h0m1.1 1.9h0m2.2 0h0m15.4 0h0m-14.3 1.9h0m103.4 0h0m48.4 0h0m4.4 0h0m-150.7 1.9h0m2.2 0h0m4.4 0h0m88 0h0m2.2 0h0m6.6 0h0m44 0h0m6.6 0h0m88 0h0m4.4 0h0m-243.1 1.9h0m2.2 0h0m83.6 0h0m66 0h0m31.9 1.9h0m48.4 0h0m2.2 0h0m-280.5 1.9h0m127.6 0h0m19.8 0h0m79.2 0h0m50.6 0h0m-278.3 1.9h0m79.2 0h0m48.4 0h0m2.2 0h0m19.8 0h0m127.6 0h0m-276.1 1.9h0m74.8 0h0m2.2 0h0m2.2 0h0m2.2 0h0m66 0h0m83.6 0h0m-102.3 1.9h0m19.8 0h0m74.8 0h0m2.2 0h0m2.2 0h0m-229.9 1.9h0m74.8 0h0m4.4 0h0m2.2 0h0m2.2 0h0m143 0h0m2.2 0h0m-229.9 1.9h0m74.8 0h0m8.8 0h0m2.2 0h0m46.2 0h0m92.4 0h0m2.2 0h0m-150.7 1.9h0m147.4 0h0m-227.7 1.9h0m90.2 0h0m200.2 0h0m6.6 0h0m-298.1 1.9h0m145.2 0h0m154 0h0m-221.1 1.9h0m148.5 1.9h0m-133.1 1.9h0m-14.3 1.9h0m14.3 2h0m48.4 0h0m101.2 0h0m52.8 0h0m-256.3 1.9h0m101.2 0h0m6.6 0h0m81.4 0h0m15.4 0h0m48.4 0h0m-256.3 1.9h0m4.4 0h0m39.6 0h0m59.4 0h0m44 0h0m2.2 0h0m2.2 0h0m2.2 0h0m39.6 0h0m66 0h0m-254.1 1.9h0m2.2 0h0m96.8 0h0m44 0h0m6.6 0h0m39.6 0h0m13.2 0h0m-146.3 1.9h0m41.8 0h0m41.8 0h0m-148.5 1.9h0m11 0h0m94.6 0h0m11 0h0m83.6 0h0m-188.1 1.9h0m39.6 0h0m107.8 0h0m41.8 0h0m63.8 0h0m-298.1 1.9h0m33 0h0m13.2 0h0m39.6 0h0m59.4 0h0m46.2 0h0m2.2 0h0m41.8 0h0m59.4 0h0m-260.7 1.9h0m8.8 0h0m2.2 0h0m44 0h0m50.6 0h0m4.4 0h0m2.2 0h0m39.6 0h0m4.4 0h0m2.2 0h0m99 0h0m4.4 0h0m-251.9 1.9h0m2.2 0h0m138.6 0h0m2.2 0h0m6.6 0h0m44 0h0m15.4 0h0m-207.9 1.9h0m2.2 0h0m57.2 0h0m90.2 0h0m44 0h0m15.4 0h0m-210.1 1.9h0m2.2 0h0m44 0h0m15.4 0h0m85.8 0h0m-150.7 1.9h0m6.6 0h0m6.6 0h0m37.4 0h0m15.4 0h0m2.2 0h0m81.4 0h0m-146.3 1.9h0m4.4 0h0m2.2 0h0m2.2 0h0m41.8 0h0m13.2 0h0m85.8 0h0m4.4 0h0m4.4 0h0m55 0h0m-214.5 1.9h0m11 0h0m2.2 0h0m55 0h0m81.4 0h0m11 0h0m2.2 0h0m39.6 0h0m13.2 0h0m-216.7 1.9h0m165 0h0m52.8 0h0m-218.9 1.9h0m2.2 0h0m13.2 0h0m44 0h0m8.8 0h0m81.4 0h0m-148.5 1.9h0m15.4 0h0m44 0h0m4.4 0h0m143 0h0m8.8 0h0m4.4 0h0m-150.7 1.9h0m79.2 0h0m61.6 0h0m2.2 0h0m-64.9 2h0m17.6 0h0m48.4 0h0m-64.9 1.9h0m17.6 3.8h0"/><path stroke="#00d9ff" d="M421.9 248.2h0m19.8 0h0m129.8 0h0m-149.6 3.8h0m149.6 0h0m-127.6 3.8h0m88 0h0m41.8 0h0m-190.3 1.9h0m4.4 0h0m140.8 0h0m48.4 0h0m46.2 0h0m52.8 0h0m4.4 0h0m-295.9 1.9h0m41.8 0h0m2.2 0h0m101.2 0h0m6.6 0h0m41.8 0h0m4.4 0h0m37.4 0h0m52.8 0h0m2.2 0h0m6.6 0h0m-293.7 1.9h0m48.4 0h0m33 0h0m6.6 0h0m46.2 0h0m59.4 0h0m2.2 0h0m4.4 0h0m-196.9 1.9h0m46.2 0h0m37.4 0h0m2.2 0h0m41.8 0h0m105.6 0h0m-234.3 1.9h0m79.2 0h0m4.4 0h0m2.2 0h0m140.8 0h0m8.8 0h0m2.2 0h0m-236.5 2h0m77 0h0m6.6 0h0m2.2 0h0m39.6 0h0m101.2 0h0m2.2 0h0m48.4 0h0m-199.1 1.9h0m48.4 0h0m101.2 0h0m46.2 0h0m-194.7 1.9h0m2.2 0h0m44 0h0m2.2 0h0m96.8 0h0m52.8 0h0m-278.3 1.9h0m74.8 0h0m2.2 0h0m50.6 0h0m-128.7 1.9h0m72.6 0h0m2.2 0h0m147.4 0h0m11 0h0m2.2 0h0m44 0h0m-207.9 1.9h0m13.2 0h0m2.2 0h0m44 0h0m90.2 0h0m57.2 0h0m-280.5 1.9h0m2.2 0h0m85.8 0h0m149.6 0h0m-240.9 1.9h0m140.8 0h0m2.2 0h0m4.4 0h0m2.2 0h0m77 0h0m13.2 0h0m50.6 0h0m2.2 0h0m-293.7 1.9h0m2.2 0h0m140.8 0h0m2.2 0h0m154 0h0m-221.1 1.9h0m15.4 0h0m147.4 0h0m52.8 0h0m-1.1 1.9h0m1.1 1.9h0m2.2 0h0m-51.7 1.9h0m46.2 0h0m-210.1 1.9h0m59.4 0h0m2.2 0h0m4.4 0h0m149.6 0h0m-295.9 1.9h0m37.4 0h0m101.2 0h0m11 0h0m35.2 0h0m2.2 0h0m4.4 0h0m-190.3 1.9h0m33 0h0m105.6 0h0m11 0h0m33 0h0m6.6 0h0m39.6 0h0m-196.9 1.9h0m11 0h0m2.2 0h0m35.2 0h0m101.2 0h0m48.4 0h0m15.4 0h0m-201.3 1.9h0m37.4 0h0m68.2 0h0m81.4 0h0m-229.9 1.9h0m147.4 0h0m30.8 0h0m15.4 0h0m92.4 0h0m-287.1 2h0m44 0h0m94.6 0h0m8.8 0h0m85.8 0h0m-234.3 1.9h0m33 0h0m2.2 0h0m52.8 0h0m52.8 0h0m52.8 0h0m2.2 0h0m55 0h0m-205.7 1.9h0m4.4 0h0m55 0h0m39.6 0h0m2.2 0h0m37.4 0h0m11 0h0m2.2 0h0m39.6 0h0m55 0h0m2.2 0h0m-258.5 1.9h0m4.4 0h0m4.4 0h0m6.6 0h0m134.2 0h0m8.8 0h0m4.4 0h0m94.6 0h0m2.2 0h0m-256.3 1.9h0m2.2 0h0m2.2 0h0m8.8 0h0m37.4 0h0m2.2 0h0m94.6 0h0m6.6 0h0m11 0h0m35.2 0h0m-199.1 1.9h0m4.4 0h0m2.2 0h0m6.6 0h0m37.4 0h0m17.6 0h0m81.4 0h0m2.2 0h0m2.2 0h0m6.6 0h0m-146.3 1.9h0m2.2 0h0m35.2 0h0m17.6 0h0m83.6 0h0m8.8 0h0m2.2 0h0m37.4 0h0m17.6 0h0m-166.1 1.9h0m17.6 0h0m96.8 0h0m35.2 0h0m-199.1 1.9h0m15.4 0h0m132 0h0m15.4 0h0m52.8 0h0m-201.3 1.9h0m37.4 0h0m2.2 0h0m92.4 0h0m55 0h0m2.2 0h0m-188.1 1.9h0m39.6 0h0m2.2 0h0m13.2 0h0m94.6 0h0m39.6 0h0m-148.5 1.9h0m4.4 0h0m6.6 0h0m79.2 0h0m74.8 0h0m-161.7 1.9h0m11 0h0m74.8 0h0m61.6 0h0m2.2 0h0m4.4 0h0m4.4 0h0m2.2 0h0m-203.5 1.9h0m44 0h0m2.2 0h0m101.2 0h0m52.8 0h0m2.2 0h0m-157.3 1.9h0m2.2 0h0m81.4 0h0m66 0h0m2.2 0h0m-216.7 1.9h0m68.2 0h0m2.2 0h0m-70.4 3.8h0m19.8 0h0m129.8 0h0m-148.5 1.9h0m19.8 0h0m149.6 0h0m-18.7 2h0m-150.7 1.9h0m107.8 0h0m41.8 0h0m2.2 0h0m17.6 0h0m-207.9 1.9h0m2.2 0h0m44 0h0m13.2 0h0m28.6 0h0m55 0h0m2.2 0h0m4.4 0h0m41.8 0h0m2.2 0h0m101.2 0h0m-293.7 1.9h0m41.8 0h0m4.4 0h0m6.6 0h0m35.2 0h0m50.6 0h0m11 0h0m44 0h0m-106.7 1.9h0m6.6 0h0m41.8 0h0m66 0h0m4.4 0h0m30.8 0h0m2.2 0h0m44 0h0m-278.3 1.9h0m81.4 0h0m2.2 0h0m44 0h0m2.2 0h0m19.8 0h0m77 0h0m6.6 0h0m2.2 0h0m-157.3 1.9h0m2.2 0h0m46.2 0h0m99 0h0m4.4 0h0m2.2 0h0m-155.1 1.9h0m4.4 0h0m6.6 0h0m136.4 0h0m-139.7 1.9h0m41.8 0h0m24.2 0h0m127.6 0h0m-278.3 1.9h0m72.6 0h0m2.2 0h0m2.2 0h0m2.2 0h0m2.2 0h0m2.2 0h0m138.6 0h0m8.8 0h0m2.2 0h0m44 0h0m-150.7 1.9h0m2.2 0h0m101.2 0h0m2.2 0h0m46.2 0h0m-192.5 1.9h0m61.6 0h0m72.6 0h0m13.2 0h0m44 0h0m-205.7 1.9h0m11 0h0m2.2 0h0m61.6 0h0m85.8 0h0m-236.5 1.9h0m74.8 0h0m59.4 0h0m2.2 0h0m2.2 0h0m11 0h0m-9.9 1.9h0m4.4 0h0m2.2 0h0m92.4 0h0m46.2 0h0m2.2 0h0m4.4 0h0m2.2 0h0m-152.9 1.9h0m2.2 0h0m2.2 0h0m94.6 0h0m48.4 0h0m2.2 0h0m4.4 0h0m-205.7 1.9h0m52.8 0h0m2.2 0h0m94.6 0h0m52.8 0h0m2.2 0h0m-218.9 1.9h0m63.8 0h0m85.8 0h0m-133.1 1.9h0m50.6 0h0m81.4 0h0m15.4 0h0m52.8 0h0m-216.7 2h0m66 0h0m145.2 0h0m4.4 0h0m-293.7 1.9h0m35.2 0h0m2.2 0h0m4.4 0h0m37.4 0h0m110 0h0m101.2 0h0m6.6 0h0m2.2 0h0m-260.7 1.9h0m4.4 0h0m202.4 0h0m41.8 0h0m2.2 0h0m-289.3 1.9h0m33 0h0m2.2 0h0m103.4 0h0m11 0h0m138.6 0h0m11 0h0m-216.7 1.9h0m68.2 0h0m44 0h0m37.4 0h0m55 0h0m11 0h0m-298.1 1.9h0m83.6 0h0m15.4 0h0m81.4 0h0m2.2 0h0m13.2 0h0m52.8 0h0m37.4 0h0m-284.9 1.9h0m33 0h0m66 0h0m37.4 0h0m11 0h0m46.2 0h0m92.4 0h0m-185.9 1.9h0m37.4 0h0m2.2 0h0m8.8 0h0m33 0h0m114.4 0h0m-249.7 1.9h0m94.6 0h0m39.6 0h0m2.2 0h0m52.8 0h0m15.4 0h0m37.4 0h0m4.4 0h0m-258.5 1.9h0m4.4 0h0m48.4 0h0m55 0h0m2.2 0h0m2.2 0h0m41.8 0h0m2.2 0h0m99 0h0m2.2 0h0m2.2 0h0m-258.5 1.9h0m2.2 0h0m2.2 0h0m2.2 0h0m63.8 0h0m79.2 0h0m2.2 0h0m4.4 0h0m4.4 0h0m59.4 0h0m-216.7 1.9h0m2.2 0h0m66 0h0m81.4 0h0m6.6 0h0m2.2 0h0m4.4 0h0m52.8 0h0m-212.3 1.9h0m2.2 0h0m4.4 0h0m143 0h0m6.6 0h0m2.2 0h0m39.6 0h0m-183.7 1.9h0m35.2 0h0m17.6 0h0m79.2 0h0m11 0h0m4.4 0h0m37.4 0h0m-51.7 1.9h0m52.8 0h0m-146.3 1.9h0m15.4 0h0m77 0h0m55 0h0m-146.3 1.9h0m13.2 0h0m2.2 0h0m92.4 0h0m41.8 0h0m13.2 0h0m-163.9 1.9h0m2.2 0h0m13.2 0h0m94.6 0h0m52.8 0h0m-218.9 1.9h0m17.6 0h0m41.8 0h0m2.2 0h0m6.6 0h0m140.8 0h0m6.6 0h0m2.2 0h0m2.2 0h0m-221.1 2h0m19.8 0h0m48.4 0h0m2.2 0h0m140.8 0h0m2.2 0h0m6.6 0h0m-201.3 1.9h0m50.6 0h0m2.2 0h0m96.8 0h0m46.2 0h0m2.2 0h0m2.2 0h0m-199.1 1.9h0m46.2 0h0m2.2 0h0m2.2 0h0m2.2 0h0m149.6 0h0m-221.1 1.9h0m147.4 0h0m70.4 0h0m-199.1 1.9h0m129.8 0h0m-148.5 1.9h0m19.8 0h0m149.6 0h0"/><path stroke="#0af2ec" d="M569.3 248.2h0m68.2 0h0m6.6 0h0m-201.3 1.9h0m44 0h0m83.6 0h0m-86.9 1.9h0m8.8 0h0m-69.3 1.9h0m147.4 0h0m22 0h0m-205.7 1.9h0m37.4 0h0m59.4 0h0m46.2 0h0m63.8 0h0m33 0h0m52.8 0h0m-293.7 1.9h0m37.4 0h0m2.2 0h0m46.2 0h0m2.2 0h0m2.2 0h0m4.4 0h0m2.2 0h0m41.8 0h0m2.2 0h0m4.4 0h0m4.4 0h0m39.6 0h0m17.6 0h0m35.2 0h0m50.6 0h0m-291.5 1.9h0m2.2 0h0m2.2 0h0m33 0h0m48.4 0h0m4.4 0h0m2.2 0h0m2.2 0h0m2.2 0h0m39.6 0h0m2.2 0h0m13.2 0h0m55 0h0m24.2 0h0m4.4 0h0m11 0h0m37.4 0h0m-280.5 1.9h0m41.8 0h0m2.2 0h0m8.8 0h0m35.2 0h0m2.2 0h0m2.2 0h0m37.4 0h0m17.6 0h0m48.4 0h0m30.8 0h0m2.2 0h0m2.2 0h0m2.2 0h0m2.2 0h0m6.6 0h0m-238.7 1.9h0m41.8 0h0m4.4 0h0m2.2 0h0m24.2 0h0m4.4 0h0m2.2 0h0m6.6 0h0m107.8 0h0m2.2 0h0m2.2 0h0m28.6 0h0m2.2 0h0m8.8 0h0m37.4 0h0m-276.1 1.9h0m74.8 0h0m13.2 0h0m140.8 0h0m8.8 0h0m35.2 0h0m2.2 0h0m-273.9 2h0m70.4 0h0m2.2 0h0m6.6 0h0m8.8 0h0m61.6 0h0m72.6 0h0m8.8 0h0m41.8 0h0m-273.9 1.9h0m72.6 0h0m6.6 0h0m2.2 0h0m4.4 0h0m37.4 0h0m96.8 0h0m11 0h0m2.2 0h0m2.2 0h0m39.6 0h0m-276.1 1.9h0m72.6 0h0m11 0h0m2.2 0h0m63.8 0h0m70.4 0h0m11 0h0m2.2 0h0m2.2 0h0m39.6 0h0m-203.5 1.9h0m15.4 0h0m37.4 0h0m24.2 0h0m83.6 0h0m2.2 0h0m39.6 0h0m2.2 0h0m-276.1 1.9h0m83.6 0h0m44 0h0m145.2 0h0m-185.9 1.9h0m147.4 0h0m44 0h0m-133.1 1.9h0m72.6 0h0m61.6 0h0m-194.7 1.9h0m44 0h0m2.2 0h0m13.2 0h0m72.6 0h0m17.6 0h0m46.2 0h0m-284.9 1.9h0m72.6 0h0m72.6 0h0m4.4 0h0m72.6 0h0m15.4 0h0m48.4 0h0m2.2 0h0m2.2 0h0m2.2 0h0m-152.9 1.9h0m4.4 0h0m77 0h0m17.6 0h0m52.8 0h0m-218.9 1.9h0m66 0h0m2.2 0h0m81.4 0h0m68.2 0h0m-293.7 1.9h0m77 0h0m61.6 0h0m6.6 0h0m2.2 0h0m2.2 0h0m140.8 0h0m-196.9 1.9h0m48.4 0h0m4.4 0h0m39.6 0h0m105.6 0h0m2.2 0h0m2.2 0h0m-295.9 1.9h0m33 0h0m2.2 0h0m2.2 0h0m57.2 0h0m52.8 0h0m44 0h0m96.8 0h0m8.8 0h0m-262.9 1.9h0m6.6 0h0m37.4 0h0m17.6 0h0m85.8 0h0m46.2 0h0m68.2 0h0m-254.1 1.9h0m2.2 0h0m92.4 0h0m57.2 0h0m50.6 0h0m41.8 0h0m-284.9 1.9h0m28.6 0h0m105.6 0h0m2.2 0h0m11 0h0m2.2 0h0m41.8 0h0m105.6 0h0m-298.1 1.9h0m30.8 0h0m105.6 0h0m44 0h0m15.4 0h0m50.6 0h0m37.4 0h0m-254.1 1.9h0m2.2 0h0m13.2 0h0m2.2 0h0m35.2 0h0m52.8 0h0m2.2 0h0m110 0h0m-201.3 2h0m37.4 0h0m17.6 0h0m35.2 0h0m41.8 0h0m2.2 0h0m13.2 0h0m2.2 0h0m35.2 0h0m55 0h0m-256.3 1.9h0m17.6 0h0m37.4 0h0m63.8 0h0m30.8 0h0m17.6 0h0m88 0h0m11 0h0m-295.9 1.9h0m30.8 0h0m2.2 0h0m17.6 0h0m35.2 0h0m52.8 0h0m41.8 0h0m17.6 0h0m35.2 0h0m19.8 0h0m35.2 0h0m6.6 0h0m-240.9 1.9h0m33 0h0m17.6 0h0m35.2 0h0m2.2 0h0m2.2 0h0m2.2 0h0m107.8 0h0m33 0h0m2.2 0h0m-254.1 1.9h0m13.2 0h0m6.6 0h0m50.6 0h0m39.6 0h0m55 0h0m55 0h0m39.6 0h0m-254.1 1.9h0m13.2 0h0m55 0h0m77 0h0m15.4 0h0m4.4 0h0m33 0h0m17.6 0h0m-218.9 1.9h0m2.2 0h0m17.6 0h0m129.8 0h0m2.2 0h0m15.4 0h0m-166.1 1.9h0m17.6 0h0m55 0h0m92.4 0h0m35.2 0h0m19.8 0h0m2.2 0h0m-150.7 1.9h0m149.6 0h0m2.2 0h0m-223.3 1.9h0m74.8 0h0m147.4 0h0m-221.1 1.9h0m70.4 0h0m151.8 0h0m-223.3 1.9h0m57.2 0h0m4.4 0h0m147.4 0h0m13.2 0h0m-223.3 1.9h0m66 0h0m6.6 0h0m4.4 0h0m92.4 0h0m57.2 0h0m-225.5 1.9h0m70.4 0h0m2.2 0h0m143 0h0m-152.9 1.9h0m6.6 0h0m4.4 0h0m94.6 0h0m52.8 0h0m2.2 0h0m-203.5 1.9h0m44 0h0m8.8 0h0m96.8 0h0m41.8 0h0m4.4 0h0m4.4 0h0m-199.1 1.9h0m41.8 0h0m2.2 0h0m6.6 0h0m77 0h0m70.4 0h0m-71.5 1.9h0m-148.5 1.9h0m59.4 0h0m90.2 0h0m-188.1 2h0m39.6 0h0m50.6 0h0m6.6 0h0m52.8 0h0m39.6 0h0m22 0h0m30.8 0h0m52.8 0h0m-293.7 1.9h0m4.4 0h0m83.6 0h0m8.8 0h0m46.2 0h0m2.2 0h0m4.4 0h0m85.8 0h0m57.2 0h0m-293.7 1.9h0m6.6 0h0m37.4 0h0m55 0h0m44 0h0m11 0h0m37.4 0h0m19.8 0h0m26.4 0h0m2.2 0h0m4.4 0h0m46.2 0h0m2.2 0h0m2.2 0h0m4.4 0h0m-293.7 1.9h0m2.2 0h0m39.6 0h0m13.2 0h0m39.6 0h0m92.4 0h0m2.2 0h0m15.4 0h0m24.2 0h0m2.2 0h0m2.2 0h0m4.4 0h0m6.6 0h0m37.4 0h0m2.2 0h0m2.2 0h0m-284.9 1.9h0m44 0h0m8.8 0h0m26.4 0h0m6.6 0h0m6.6 0h0m57.2 0h0m44 0h0m2.2 0h0m33 0h0m2.2 0h0m6.6 0h0m2.2 0h0m41.8 0h0m-232.1 1.9h0m2.2 0h0m28.6 0h0m72.6 0h0m77 0h0m46.2 0h0m-192.5 1.9h0m2.2 0h0m2.2 0h0m63.8 0h0m83.6 0h0m6.6 0h0m-238.7 1.9h0m72.6 0h0m8.8 0h0m2.2 0h0m66 0h0m74.8 0h0m2.2 0h0m2.2 0h0m2.2 0h0m2.2 0h0m37.4 0h0m2.2 0h0m-51.7 1.9h0m2.2 0h0m2.2 0h0m6.6 0h0m2.2 0h0m2.2 0h0m35.2 0h0m2.2 0h0m-273.9 1.9h0m83.6 0h0m2.2 0h0m39.6 0h0m145.2 0h0m-188.1 1.9h0m2.2 0h0m63.8 0h0m70.4 0h0m13.2 0h0m39.6 0h0m-273.9 1.9h0m128.7 1.9h0m2.2 0h0m17.6 0h0m70.4 0h0m15.4 0h0m44 0h0m2.2 0h0m-194.7 1.9h0m61.6 0h0m85.8 0h0m48.4 0h0m-287.1 1.9h0m74.8 0h0m15.4 0h0m44 0h0m2.2 0h0m2.2 0h0m11 0h0m74.8 0h0m66 0h0m-291.5 1.9h0m92.4 0h0m59.4 0h0m72.6 0h0m70.4 0h0m-152.9 1.9h0m6.6 0h0m138.6 0h0m4.4 0h0m-67.1 1.9h0m17.6 0h0m-104.5 1.9h0m2.2 0h0m2.2 0h0m4.4 0h0m96.8 0h0m48.4 0h0m-251.9 2h0m55 0h0m50.6 0h0m2.2 0h0m37.4 0h0m2.2 0h0m39.6 0h0m59.4 0h0m4.4 0h0m6.6 0h0m-115.5 1.9h0m4.4 0h0m4.4 0h0m96.8 0h0m-284.9 1.9h0m30.8 0h0m61.6 0h0m41.8 0h0m11 0h0m44 0h0m105.6 0h0m-216.7 1.9h0m15.4 0h0m85.8 0h0m46.2 0h0m-227.7 1.9h0m30.8 0h0m13.2 0h0m2.2 0h0m33 0h0m57.2 0h0m92.4 0h0m-148.5 1.9h0m70.4 0h0m-119.9 1.9h0m15.4 0h0m35.2 0h0m68.2 0h0m30.8 0h0m15.4 0h0m35.2 0h0m17.6 0h0m-201.3 1.9h0m103.4 0h0m28.6 0h0m15.4 0h0m2.2 0h0m52.8 0h0m35.2 0h0m2.2 0h0m11 0h0m-267.3 1.9h0m17.6 0h0m35.2 0h0m2.2 0h0m50.6 0h0m11 0h0m2.2 0h0m46.2 0h0m-148.5 1.9h0m2.2 0h0m2.2 0h0m33 0h0m55 0h0m41.8 0h0m13.2 0h0m101.2 0h0m-247.5 1.9h0m2.2 0h0m2.2 0h0m35.2 0h0m52.8 0h0m57.2 0h0m37.4 0h0m55 0h0m2.2 0h0m-245.3 1.9h0m2.2 0h0m2.2 0h0m4.4 0h0m85.8 0h0m2.2 0h0m2.2 0h0m52.8 0h0m4.4 0h0m35.2 0h0m-201.3 1.9h0m17.6 0h0m132 0h0m15.4 0h0m55 0h0m-218.9 1.9h0m2.2 0h0m13.2 0h0m57.2 0h0m147.4 0h0m-218.9 1.9h0m50.6 0h0m2.2 0h0m19.8 0h0m74.8 0h0m-148.5 1.9h0m17.6 0h0m2.2 0h0m35.2 0h0m147.4 0h0m19.8 0h0m2.2 0h0m-205.7 1.9h0m187 0h0m-185.9 1.9h0m55 0h0m74.8 0h0m19.8 0h0m37.4 0h0m-207.9 1.9h0m59.4 0h0m15.4 0h0m2.2 0h0m92.4 0h0m39.6 0h0m15.4 0h0m-166.1 2h0m2.2 0h0m2.2 0h0m2.2 0h0m2.2 0h0m6.6 0h0m145.2 0h0m4.4 0h0m2.2 0h0m-161.7 1.9h0m2.2 0h0m2.2 0h0m6.6 0h0m2.2 0h0m134.2 0h0m11 0h0m4.4 0h0m-225.5 1.9h0m63.8 0h0m11 0h0m74.8 0h0m59.4 0h0m4.4 0h0m2.2 0h0m4.4 0h0m-221.1 1.9h0m68.2 0h0m6.6 0h0m143 0h0m6.6 0h0m-223.3 1.9h0m68.2 0h0m4.4 0h0m96.8 0h0m44 0h0m6.6 0h0m-1.1 1.9h0"/><path stroke="#1fffd8" d="M483.5 248.2h0m2.2 0h0m2.2 0h0m4.4 0h0m99 0h0m39.6 0h0m2.2 0h0m2.2 0h0m4.4 0h0m2.2 0h0m-221.1 1.9h0m63.8 0h0m11 0h0m127.6 0h0m2.2 0h0m6.6 0h0m2.2 0h0m2.2 0h0m2.2 0h0m2.2 0h0m2.2 0h0m-223.3 1.9h0m24.2 0h0m44 0h0m41.8 0h0m39.6 0h0m52.8 0h0m17.6 0h0m-256.3 1.9h0m37.4 0h0m52.8 0h0m2.2 0h0m2.2 0h0m8.8 0h0m6.6 0h0m74.8 0h0m55 0h0m2.2 0h0m11 0h0m44 0h0m-298.1 1.9h0m2.2 0h0m37.4 0h0m50.6 0h0m2.2 0h0m2.2 0h0m2.2 0h0m2.2 0h0m4.4 0h0m4.4 0h0m4.4 0h0m30.8 0h0m2.2 0h0m8.8 0h0m2.2 0h0m30.8 0h0m2.2 0h0m46.2 0h0m2.2 0h0m2.2 0h0m6.6 0h0m4.4 0h0m2.2 0h0m2.2 0h0m6.6 0h0m33 0h0m4.4 0h0m-291.5 1.9h0m30.8 0h0m48.4 0h0m8.8 0h0m8.8 0h0m4.4 0h0m46.2 0h0m2.2 0h0m33 0h0m44 0h0m2.2 0h0m2.2 0h0m4.4 0h0m4.4 0h0m2.2 0h0m6.6 0h0m2.2 0h0m33 0h0m-251.9 1.9h0m22 0h0m22 0h0m2.2 0h0m2.2 0h0m4.4 0h0m46.2 0h0m55 0h0m39.6 0h0m8.8 0h0m2.2 0h0m2.2 0h0m6.6 0h0m4.4 0h0m-247.5 1.9h0m2.2 0h0m30.8 0h0m2.2 0h0m44 0h0m2.2 0h0m13.2 0h0m4.4 0h0m2.2 0h0m46.2 0h0m2.2 0h0m35.2 0h0m2.2 0h0m13.2 0h0m22 0h0m13.2 0h0m2.2 0h0m4.4 0h0m2.2 0h0m4.4 0h0m2.2 0h0m24.2 0h0m2.2 0h0m-201.3 1.9h0m15.4 0h0m2.2 0h0m55 0h0m2.2 0h0m37.4 0h0m2.2 0h0m2.2 0h0m28.6 0h0m2.2 0h0m2.2 0h0m8.8 0h0m2.2 0h0m-190.3 1.9h0m39.6 0h0m6.6 0h0m28.6 0h0m4.4 0h0m24.2 0h0m44 0h0m28.6 0h0m8.8 0h0m11 0h0m13.2 0h0m-168.3 2h0m11 0h0m22 0h0m114.4 0h0m2.2 0h0m4.4 0h0m2.2 0h0m26.4 0h0m2.2 0h0m-201.3 1.9h0m13.2 0h0m4.4 0h0m2.2 0h0m2.2 0h0m26.4 0h0m30.8 0h0m72.6 0h0m15.4 0h0m33 0h0m-269.5 1.9h0m90.2 0h0m2.2 0h0m145.2 0h0m33 0h0m-271.7 1.9h0m68.2 0h0m15.4 0h0m134.2 0h0m22 0h0m30.8 0h0m-203.5 1.9h0m17.6 0h0m35.2 0h0m4.4 0h0m92.4 0h0m17.6 0h0m39.6 0h0m-276.1 1.9h0m68.2 0h0m59.4 0h0m147.4 0h0m-205.7 1.9h0m17.6 0h0m39.6 0h0m2.2 0h0m19.8 0h0m125.4 0h0m2.2 0h0m2.2 0h0m-280.5 1.9h0m70.4 0h0m59.4 0h0m151.8 0h0m-192.5 1.9h0m44 0h0m2.2 0h0m11 0h0m4.4 0h0m127.6 0h0m2.2 0h0m2.2 0h0m-287.1 1.9h0m74.8 0h0m61.6 0h0m2.2 0h0m2.2 0h0m4.4 0h0m4.4 0h0m94.6 0h0m44 0h0m2.2 0h0m6.6 0h0m-298.1 1.9h0m94.6 0h0m44 0h0m2.2 0h0m6.6 0h0m2.2 0h0m2.2 0h0m92.4 0h0m44 0h0m2.2 0h0m6.6 0h0m2.2 0h0m-203.5 1.9h0m41.8 0h0m4.4 0h0m2.2 0h0m143 0h0m11 0h0m-298.1 1.9h0m35.2 0h0m2.2 0h0m39.6 0h0m63.8 0h0m8.8 0h0m2.2 0h0m74.8 0h0m61.6 0h0m11 0h0m-258.5 1.9h0m2.2 0h0m35.2 0h0m105.6 0h0m2.2 0h0m2.2 0h0m2.2 0h0m37.4 0h0m59.4 0h0m-243.1 1.9h0m107.8 0h0m41.8 0h0m105.6 0h0m-295.9 1.9h0m28.6 0h0m48.4 0h0m72.6 0h0m28.6 0h0m103.4 0h0m-280.5 1.9h0m94.6 0h0m81.4 0h0m15.4 0h0m90.2 0h0m-282.7 1.9h0m44 0h0m33 0h0m19.8 0h0m35.2 0h0m-130.9 1.9h0m96.8 0h0m129.8 0h0m19.8 0h0m33 0h0m2.2 0h0m13.2 0h0m-295.9 2h0m28.6 0h0m118.8 0h0m48.4 0h0m85.8 0h0m-282.7 1.9h0m48.4 0h0m2.2 0h0m50.6 0h0m35.2 0h0m15.4 0h0m46.2 0h0m52.8 0h0m30.8 0h0m4.4 0h0m11 0h0m-214.5 1.9h0m63.8 0h0m52.8 0h0m96.8 0h0m-190.3 1.9h0m30.8 0h0m11 0h0m33 0h0m17.6 0h0m2.2 0h0m33 0h0m61.6 0h0m-262.9 1.9h0m19.8 0h0m33 0h0m22 0h0m33 0h0m2.2 0h0m6.6 0h0m57.2 0h0m79.2 0h0m2.2 0h0m2.2 0h0m-254.1 1.9h0m19.8 0h0m30.8 0h0m55 0h0m2.2 0h0m59.4 0h0m33 0h0m22 0h0m-199.1 1.9h0m28.6 0h0m22 0h0m30.8 0h0m2.2 0h0m2.2 0h0m39.6 0h0m103.4 0h0m-251.9 1.9h0m77 0h0m19.8 0h0m8.8 0h0m46.2 0h0m19.8 0h0m85.8 0h0m-256.3 1.9h0m22 0h0m30.8 0h0m2.2 0h0m19.8 0h0m4.4 0h0m19.8 0h0m4.4 0h0m4.4 0h0m41.8 0h0m19.8 0h0m33 0h0m2.2 0h0m24.2 0h0m-207.9 1.9h0m52.8 0h0m4.4 0h0m70.4 0h0m22 0h0m33 0h0m22 0h0m17.6 0h0m6.6 0h0m-172.7 1.9h0m72.6 0h0m57.2 0h0m19.8 0h0m4.4 0h0m-210.1 1.9h0m35.2 0h0m19.8 0h0m2.2 0h0m2.2 0h0m2.2 0h0m88 0h0m59.4 0h0m-168.3 1.9h0m17.6 0h0m127.6 0h0m2.2 0h0m19.8 0h0m2.2 0h0m-168.3 1.9h0m13.2 0h0m2.2 0h0m2.2 0h0m68.2 0h0m22 0h0m37.4 0h0m2.2 0h0m2.2 0h0m2.2 0h0m11 0h0m2.2 0h0m-227.7 1.9h0m22 0h0m39.6 0h0m11 0h0m4.4 0h0m132 0h0m4.4 0h0m6.6 0h0m6.6 0h0m-168.3 1.9h0m8.8 0h0m81.4 0h0m61.6 0h0m4.4 0h0m4.4 0h0m4.4 0h0m2.2 0h0m-225.5 1.9h0m59.4 0h0m2.2 0h0m8.8 0h0m4.4 0h0m2.2 0h0m127.6 0h0m4.4 0h0m6.6 0h0m2.2 0h0m4.4 0h0m-199.1 1.9h0m41.8 0h0m2.2 0h0m4.4 0h0m2.2 0h0m99 0h0m37.4 0h0m50.6 0h0m-207.9 1.9h0m11 0h0m13.2 0h0m33 0h0m94.6 0h0m6.6 0h0m6.6 0h0m41.8 0h0m-295.9 2h0m35.2 0h0m24.2 0h0m30.8 0h0m2.2 0h0m4.4 0h0m4.4 0h0m4.4 0h0m2.2 0h0m33 0h0m2.2 0h0m41.8 0h0m50.6 0h0m2.2 0h0m4.4 0h0m6.6 0h0m2.2 0h0m39.6 0h0m4.4 0h0m2.2 0h0m-295.9 1.9h0m4.4 0h0m77 0h0m2.2 0h0m4.4 0h0m2.2 0h0m6.6 0h0m13.2 0h0m39.6 0h0m2.2 0h0m57.2 0h0m22 0h0m4.4 0h0m2.2 0h0m2.2 0h0m2.2 0h0m8.8 0h0m37.4 0h0m4.4 0h0m2.2 0h0m-256.3 1.9h0m44 0h0m2.2 0h0m6.6 0h0m61.6 0h0m2.2 0h0m74.8 0h0m8.8 0h0m4.4 0h0m2.2 0h0m2.2 0h0m2.2 0h0m2.2 0h0m6.6 0h0m-218.9 1.9h0m44 0h0m2.2 0h0m4.4 0h0m2.2 0h0m2.2 0h0m4.4 0h0m35.2 0h0m2.2 0h0m17.6 0h0m2.2 0h0m30.8 0h0m50.6 0h0m4.4 0h0m8.8 0h0m2.2 0h0m2.2 0h0m-249.7 1.9h0m2.2 0h0m35.2 0h0m2.2 0h0m4.4 0h0m30.8 0h0m4.4 0h0m6.6 0h0m6.6 0h0m2.2 0h0m33 0h0m22 0h0m39.6 0h0m35.2 0h0m17.6 0h0m2.2 0h0m30.8 0h0m-273.9 1.9h0m50.6 0h0m24.2 0h0m8.8 0h0m2.2 0h0m2.2 0h0m2.2 0h0m6.6 0h0m4.4 0h0m92.4 0h0m2.2 0h0m2.2 0h0m37.4 0h0m4.4 0h0m2.2 0h0m2.2 0h0m2.2 0h0m4.4 0h0m24.2 0h0m-273.9 1.9h0m72.6 0h0m13.2 0h0m2.2 0h0m2.2 0h0m4.4 0h0m2.2 0h0m22 0h0m30.8 0h0m70.4 0h0m13.2 0h0m2.2 0h0m8.8 0h0m26.4 0h0m2.2 0h0m-185.9 1.9h0m4.4 0h0m30.8 0h0m114.4 0h0m4.4 0h0m-240.9 1.9h0m70.4 0h0m13.2 0h0m4.4 0h0m2.2 0h0m28.6 0h0m2.2 0h0m147.4 0h0m-201.3 1.9h0m52.8 0h0m2.2 0h0m26.4 0h0m68.2 0h0m15.4 0h0m4.4 0h0m35.2 0h0m-273.9 1.9h0m70.4 0h0m50.6 0h0m96.8 0h0m19.8 0h0m2.2 0h0m30.8 0h0m4.4 0h0m-207.9 1.9h0m2.2 0h0m17.6 0h0m2.2 0h0m35.2 0h0m2.2 0h0m22 0h0m2.2 0h0m83.6 0h0m39.6 0h0m-276.1 1.9h0m70.4 0h0m17.6 0h0m39.6 0h0m110 0h0m-238.7 1.9h0m90.2 0h0m37.4 0h0m2.2 0h0m90.2 0h0m59.4 0h0m2.2 0h0m-282.7 1.9h0m149.6 0h0m2.2 0h0m88 0h0m39.6 0h0m2.2 0h0m-210.1 1.9h0m19.8 0h0m41.8 0h0m2.2 0h0m2.2 0h0m8.8 0h0m136.4 0h0m2.2 0h0m-289.3 1.9h0m4.4 0h0m72.6 0h0m17.6 0h0m44 0h0m105.6 0h0m46.2 0h0m-287.1 1.9h0m136.4 0h0m4.4 0h0m2.2 0h0m4.4 0h0m140.8 0h0m2.2 0h0m2.2 0h0m2.2 0h0m-148.5 1.9h0m138.6 0h0m2.2 0h0m8.8 0h0m-298.1 2h0m35.2 0h0m2.2 0h0m99 0h0m2.2 0h0m11 0h0m39.6 0h0m55 0h0m-243.1 1.9h0m94.6 0h0m41.8 0h0m11 0h0m2.2 0h0m33 0h0m101.2 0h0m-284.9 1.9h0m44 0h0m107.8 0h0m28.6 0h0m13.2 0h0m-192.5 1.9h0m2.2 0h0m41.8 0h0m134.2 0h0m13.2 0h0m52.8 0h0m-243.1 1.9h0m244.2 0h0m-245.3 1.9h0m28.6 0h0m15.4 0h0m90.2 0h0m94.6 0h0m68.2 0h0m-295.9 1.9h0m2.2 0h0m-3.3 1.9h0m28.6 0h0m19.8 0h0m2.2 0h0m180.4 0h0m50.6 0h0m-282.7 1.9h0m50.6 0h0m2.2 0h0m2.2 0h0m48.4 0h0m48.4 0h0m26.4 0h0m19.8 0h0m2.2 0h0m30.8 0h0m22 0h0m30.8 0h0m2.2 0h0m11 0h0m-267.3 1.9h0m2.2 0h0m22 0h0m50.6 0h0m30.8 0h0m2.2 0h0m11 0h0m48.4 0h0m2.2 0h0m4.4 0h0m30.8 0h0m19.8 0h0m33 0h0m-254.1 1.9h0m50.6 0h0m2.2 0h0m22 0h0m30.8 0h0m4.4 0h0m2.2 0h0m35.2 0h0m19.8 0h0m4.4 0h0m2.2 0h0m79.2 0h0m8.8 0h0m-260.7 1.9h0m2.2 0h0m17.6 0h0m33 0h0m22 0h0m77 0h0m19.8 0h0m30.8 0h0m19.8 0h0m2.2 0h0m28.6 0h0m2.2 0h0m2.2 0h0m4.4 0h0m2.2 0h0m-262.9 1.9h0m22 0h0m30.8 0h0m52.8 0h0m2.2 0h0m61.6 0h0m33 0h0m52.8 0h0m2.2 0h0m2.2 0h0m-236.5 1.9h0m83.6 0h0m44 0h0m19.8 0h0m55 0h0m-223.3 1.9h0m19.8 0h0m2.2 0h0m77 0h0m6.6 0h0m92.4 0h0m2.2 0h0m2.2 0h0m19.8 0h0m2.2 0h0m22 0h0m4.4 0h0m-196.9 1.9h0m22 0h0m2.2 0h0m121 0h0m2.2 0h0m-144.1 1.9h0m19.8 0h0m2.2 0h0m70.4 0h0m19.8 0h0m2.2 0h0m33 0h0m19.8 0h0m-223.3 1.9h0m55 0h0m22 0h0m2.2 0h0m68.2 0h0m57.2 0h0m19.8 0h0m-203.5 1.9h0m57.2 0h0m70.4 0h0m22 0h0m35.2 0h0m-130.9 2h0m72.6 0h0m22 0h0m35.2 0h0m2.2 0h0m2.2 0h0m19.8 0h0m-168.3 1.9h0m88 0h0m63.8 0h0m11 0h0m4.4 0h0m-172.7 1.9h0m6.6 0h0m15.4 0h0m92.4 0h0m48.4 0h0m8.8 0h0m-163.9 1.9h0m2.2 0h0m4.4 0h0m2.2 0h0m4.4 0h0m2.2 0h0m92.4 0h0m39.6 0h0m11 0h0m-163.9 1.9h0m4.4 0h0m4.4 0h0m4.4 0h0m4.4 0h0m72.6 0h0m57.2 0h0m2.2 0h0m4.4 0h0m4.4 0h0m11 0h0m-227.7 1.9h0m55 0h0m6.6 0h0m6.6 0h0m6.6 0h0m74.8 0h0m55 0h0m4.4 0h0m6.6 0h0"/><path stroke="#33ffc3" d="M382.3 248.2h0m94.6 0h0m2.2 0h0m2.2 0h0m8.8 0h0m4.4 0h0m2.2 0h0m28.6 0h0m6.6 0h0m94.6 0h0m2.2 0h0m17.6 0h0m2.2 0h0m30.8 0h0m-293.7 1.9h0m33 0h0m52.8 0h0m2.2 0h0m2.2 0h0m2.2 0h0m2.2 0h0m8.8 0h0m2.2 0h0m2.2 0h0m35.2 0h0m63.8 0h0m26.4 0h0m2.2 0h0m24.2 0h0m2.2 0h0m2.2 0h0m30.8 0h0m-298.1 1.9h0m2.2 0h0m94.6 0h0m2.2 0h0m4.4 0h0m4.4 0h0m4.4 0h0m4.4 0h0m28.6 0h0m4.4 0h0m61.6 0h0m33 0h0m2.2 0h0m2.2 0h0m2.2 0h0m2.2 0h0m2.2 0h0m4.4 0h0m2.2 0h0m2.2 0h0m28.6 0h0m-287.1 1.9h0m30.8 0h0m52.8 0h0m8.8 0h0m2.2 0h0m2.2 0h0m4.4 0h0m2.2 0h0m8.8 0h0m24.2 0h0m4.4 0h0m2.2 0h0m2.2 0h0m2.2 0h0m2.2 0h0m90.2 0h0m2.2 0h0m4.4 0h0m4.4 0h0m2.2 0h0m2.2 0h0m4.4 0h0m-258.5 1.9h0m2.2 0h0m28.6 0h0m46.2 0h0m4.4 0h0m17.6 0h0m4.4 0h0m4.4 0h0m2.2 0h0m35.2 0h0m33 0h0m57.2 0h0m6.6 0h0m8.8 0h0m35.2 0h0m-229.9 1.9h0m48.4 0h0m2.2 0h0m72.6 0h0m2.2 0h0m24.2 0h0m39.6 0h0m2.2 0h0m6.6 0h0m2.2 0h0m2.2 0h0m24.2 0h0m-276.1 1.9h0m90.2 0h0m6.6 0h0m26.4 0h0m22 0h0m28.6 0h0m2.2 0h0m2.2 0h0m39.6 0h0m17.6 0h0m11 0h0m2.2 0h0m2.2 0h0m4.4 0h0m-221.1 1.9h0m37.4 0h0m48.4 0h0m2.2 0h0m57.2 0h0m19.8 0h0m44 0h0m6.6 0h0m2.2 0h0m2.2 0h0m-254.1 1.9h0m2.2 0h0m28.6 0h0m55 0h0m8.8 0h0m2.2 0h0m2.2 0h0m2.2 0h0m4.4 0h0m15.4 0h0m28.6 0h0m33 0h0m55 0h0m4.4 0h0m4.4 0h0m2.2 0h0m4.4 0h0m6.6 0h0m8.8 0h0m2.2 0h0m-225.5 1.9h0m2.2 0h0m22 0h0m17.6 0h0m4.4 0h0m2.2 0h0m4.4 0h0m6.6 0h0m2.2 0h0m13.2 0h0m72.6 0h0m2.2 0h0m41.8 0h0m4.4 0h0m6.6 0h0m6.6 0h0m4.4 0h0m2.2 0h0m4.4 0h0m-265.1 2h0m88 0h0m11 0h0m4.4 0h0m2.2 0h0m2.2 0h0m4.4 0h0m6.6 0h0m96.8 0h0m2.2 0h0m17.6 0h0m6.6 0h0m2.2 0h0m8.8 0h0m6.6 0h0m4.4 0h0m-163.9 1.9h0m4.4 0h0m4.4 0h0m2.2 0h0m6.6 0h0m30.8 0h0m96.8 0h0m2.2 0h0m2.2 0h0m-183.7 1.9h0m17.6 0h0m2.2 0h0m6.6 0h0m22 0h0m2.2 0h0m2.2 0h0m28.6 0h0m66 0h0m19.8 0h0m6.6 0h0m2.2 0h0m2.2 0h0m8.8 0h0m6.6 0h0m-174.9 1.9h0m2.2 0h0m24.2 0h0m6.6 0h0m28.6 0h0m85.8 0h0m2.2 0h0m6.6 0h0m24.2 0h0m-181.5 1.9h0m2.2 0h0m2.2 0h0m2.2 0h0m24.2 0h0m4.4 0h0m26.4 0h0m90.2 0h0m-119.9 1.9h0m4.4 0h0m24.2 0h0m68.2 0h0m22 0h0m28.6 0h0m-201.3 1.9h0m22 0h0m2.2 0h0m33 0h0m26.4 0h0m66 0h0m19.8 0h0m33 0h0m2.2 0h0m-271.7 1.9h0m88 0h0m59.4 0h0m68.2 0h0m-216.7 1.9h0m237.6 0h0m37.4 0h0m-278.3 1.9h0m132 0h0m17.6 0h0m2.2 0h0m132 0h0m-284.9 1.9h0m2.2 0h0m132 0h0m17.6 0h0m129.8 0h0m2.2 0h0m-280.5 1.9h0m70.4 0h0m112.2 0h0m37.4 0h0m63.8 0h0m-287.1 1.9h0m37.4 0h0m99 0h0m46.2 0h0m4.4 0h0m2.2 0h0m33 0h0m61.6 0h0m-282.7 1.9h0m41.8 0h0m92.4 0h0m13.2 0h0m2.2 0h0m28.6 0h0m44 0h0m19.8 0h0m-243.1 1.9h0m30.8 0h0m103.4 0h0m44 0h0m103.4 0h0m2.2 0h0m-207.9 1.9h0m19.8 0h0m99 0h0m30.8 0h0m19.8 0h0m35.2 0h0m-203.5 1.9h0m99 0h0m19.8 0h0m85.8 0h0m-276.1 1.9h0m41.8 0h0m103.4 0h0m26.4 0h0m19.8 0h0m30.8 0h0m-201.3 1.9h0m52.8 0h0m52.8 0h0m17.6 0h0m26.4 0h0m19.8 0h0m83.6 0h0m-232.1 2h0m33 0h0m52.8 0h0m19.8 0h0m46.2 0h0m28.6 0h0m22 0h0m-223.3 1.9h0m26.4 0h0m28.6 0h0m52.8 0h0m68.2 0h0m28.6 0h0m-229.9 1.9h0m26.4 0h0m24.2 0h0m2.2 0h0m79.2 0h0m2.2 0h0m13.2 0h0m4.4 0h0m24.2 0h0m26.4 0h0m26.4 0h0m55 0h0m-287.1 1.9h0m30.8 0h0m2.2 0h0m19.8 0h0m4.4 0h0m2.2 0h0m26.4 0h0m46.2 0h0m4.4 0h0m17.6 0h0m2.2 0h0m48.4 0h0m4.4 0h0m48.4 0h0m24.2 0h0m17.6 0h0m-298.1 1.9h0m57.2 0h0m2.2 0h0m77 0h0m2.2 0h0m8.8 0h0m6.6 0h0m26.4 0h0m2.2 0h0m22 0h0m26.4 0h0m2.2 0h0m2.2 0h0m22 0h0m26.4 0h0m8.8 0h0m4.4 0h0m-183.7 1.9h0m22 0h0m2.2 0h0m2.2 0h0m41.8 0h0m2.2 0h0m48.4 0h0m2.2 0h0m48.4 0h0m11 0h0m2.2 0h0m-295.9 1.9h0m35.2 0h0m50.6 0h0m26.4 0h0m2.2 0h0m2.2 0h0m15.4 0h0m2.2 0h0m2.2 0h0m2.2 0h0m8.8 0h0m59.4 0h0m28.6 0h0m2.2 0h0m22 0h0m2.2 0h0m15.4 0h0m2.2 0h0m4.4 0h0m2.2 0h0m4.4 0h0m4.4 0h0m2.2 0h0m-238.7 1.9h0m2.2 0h0m24.2 0h0m4.4 0h0m28.6 0h0m4.4 0h0m4.4 0h0m2.2 0h0m6.6 0h0m4.4 0h0m4.4 0h0m2.2 0h0m88 0h0m35.2 0h0m6.6 0h0m2.2 0h0m8.8 0h0m4.4 0h0m6.6 0h0m-183.7 1.9h0m4.4 0h0m2.2 0h0m6.6 0h0m2.2 0h0m8.8 0h0m4.4 0h0m6.6 0h0m35.2 0h0m24.2 0h0m26.4 0h0m2.2 0h0m30.8 0h0m2.2 0h0m6.6 0h0m8.8 0h0m2.2 0h0m-289.3 1.9h0m61.6 0h0m28.6 0h0m2.2 0h0m28.6 0h0m2.2 0h0m6.6 0h0m2.2 0h0m2.2 0h0m2.2 0h0m2.2 0h0m4.4 0h0m94.6 0h0m2.2 0h0m28.6 0h0m6.6 0h0m11 0h0m11 0h0m-258.5 1.9h0m22 0h0m28.6 0h0m2.2 0h0m4.4 0h0m22 0h0m6.6 0h0m4.4 0h0m2.2 0h0m4.4 0h0m2.2 0h0m2.2 0h0m2.2 0h0m2.2 0h0m6.6 0h0m88 0h0m4.4 0h0m24.2 0h0m4.4 0h0m4.4 0h0m2.2 0h0m4.4 0h0m11 0h0m-256.3 1.9h0m24.2 0h0m28.6 0h0m41.8 0h0m2.2 0h0m4.4 0h0m6.6 0h0m4.4 0h0m96.8 0h0m19.8 0h0m17.6 0h0m8.8 0h0m2.2 0h0m4.4 0h0m-238.7 1.9h0m33 0h0m4.4 0h0m37.4 0h0m13.2 0h0m92.4 0h0m2.2 0h0m33 0h0m4.4 0h0m6.6 0h0m11 0h0m-201.3 1.9h0m2.2 0h0m44 0h0m2.2 0h0m2.2 0h0m94.6 0h0m2.2 0h0m24.2 0h0m19.8 0h0m2.2 0h0m-199.1 1.9h0m4.4 0h0m2.2 0h0m19.8 0h0m24.2 0h0m2.2 0h0m41.8 0h0m24.2 0h0m33 0h0m6.6 0h0m19.8 0h0m19.8 0h0m8.8 0h0m-260.7 1.9h0m24.2 0h0m30.8 0h0m2.2 0h0m6.6 0h0m13.2 0h0m4.4 0h0m24.2 0h0m2.2 0h0m2.2 0h0m94.6 0h0m4.4 0h0m19.8 0h0m33 0h0m-295.9 1.9h0m92.4 0h0m11 0h0m11 0h0m28.6 0h0m4.4 0h0m59.4 0h0m35.2 0h0m6.6 0h0m11 0h0m30.8 0h0m-256.3 1.9h0m55 0h0m2.2 0h0m2.2 0h0m2.2 0h0m2.2 0h0m6.6 0h0m6.6 0h0m30.8 0h0m6.6 0h0m85.8 0h0m2.2 0h0m2.2 0h0m2.2 0h0m6.6 0h0m2.2 0h0m2.2 0h0m2.2 0h0m2.2 0h0m2.2 0h0m30.8 0h0m2.2 0h0m-293.7 1.9h0m2.2 0h0m59.4 0h0m26.4 0h0m4.4 0h0m6.6 0h0m4.4 0h0m2.2 0h0m2.2 0h0m2.2 0h0m33 0h0m8.8 0h0m83.6 0h0m2.2 0h0m2.2 0h0m4.4 0h0m6.6 0h0m2.2 0h0m4.4 0h0m2.2 0h0m30.8 0h0m2.2 0h0m2.2 0h0m-210.1 2h0m15.4 0h0m4.4 0h0m8.8 0h0m2.2 0h0m30.8 0h0m4.4 0h0m2.2 0h0m81.4 0h0m11 0h0m2.2 0h0m6.6 0h0m4.4 0h0m2.2 0h0m28.6 0h0m-251.9 1.9h0m24.2 0h0m33 0h0m6.6 0h0m2.2 0h0m35.2 0h0m2.2 0h0m15.4 0h0m2.2 0h0m26.4 0h0m2.2 0h0m59.4 0h0m2.2 0h0m2.2 0h0m6.6 0h0m6.6 0h0m-225.5 1.9h0m44 0h0m8.8 0h0m4.4 0h0m4.4 0h0m2.2 0h0m2.2 0h0m2.2 0h0m28.6 0h0m2.2 0h0m2.2 0h0m19.8 0h0m24.2 0h0m2.2 0h0m2.2 0h0m46.2 0h0m22 0h0m2.2 0h0m4.4 0h0m24.2 0h0m-278.3 1.9h0m2.2 0h0m28.6 0h0m22 0h0m19.8 0h0m2.2 0h0m22 0h0m2.2 0h0m2.2 0h0m2.2 0h0m2.2 0h0m46.2 0h0m50.6 0h0m35.2 0h0m4.4 0h0m8.8 0h0m4.4 0h0m-249.7 1.9h0m46.2 0h0m46.2 0h0m6.6 0h0m2.2 0h0m17.6 0h0m26.4 0h0m28.6 0h0m6.6 0h0m15.4 0h0m37.4 0h0m8.8 0h0m-245.3 1.9h0m2.2 0h0m35.2 0h0m2.2 0h0m2.2 0h0m26.4 0h0m2.2 0h0m19.8 0h0m17.6 0h0m11 0h0m30.8 0h0m48.4 0h0m22 0h0m15.4 0h0m11 0h0m6.6 0h0m2.2 0h0m11 0h0m-221.1 1.9h0m2.2 0h0m2.2 0h0m17.6 0h0m2.2 0h0m22 0h0m6.6 0h0m2.2 0h0m2.2 0h0m2.2 0h0m4.4 0h0m2.2 0h0m4.4 0h0m4.4 0h0m74.8 0h0m2.2 0h0m41.8 0h0m2.2 0h0m4.4 0h0m2.2 0h0m6.6 0h0m4.4 0h0m2.2 0h0m4.4 0h0m2.2 0h0m-267.3 1.9h0m68.2 0h0m19.8 0h0m4.4 0h0m4.4 0h0m2.2 0h0m8.8 0h0m4.4 0h0m4.4 0h0m2.2 0h0m30.8 0h0m68.2 0h0m15.4 0h0m4.4 0h0m4.4 0h0m8.8 0h0m6.6 0h0m2.2 0h0m4.4 0h0m2.2 0h0m-265.1 1.9h0m66 0h0m17.6 0h0m6.6 0h0m2.2 0h0m4.4 0h0m4.4 0h0m2.2 0h0m2.2 0h0m2.2 0h0m6.6 0h0m33 0h0m68.2 0h0m19.8 0h0m2.2 0h0m15.4 0h0m6.6 0h0m-260.7 1.9h0m85.8 0h0m4.4 0h0m143 0h0m4.4 0h0m4.4 0h0m2.2 0h0m8.8 0h0m4.4 0h0m4.4 0h0m2.2 0h0m2.2 0h0m-267.3 1.9h0m66 0h0m19.8 0h0m4.4 0h0m13.2 0h0m13.2 0h0m4.4 0h0m28.6 0h0m83.6 0h0m8.8 0h0m4.4 0h0m8.8 0h0m8.8 0h0m2.2 0h0m-267.3 1.9h0m116.6 0h0m2.2 0h0m96.8 0h0m19.8 0h0m2.2 0h0m2.2 0h0m30.8 0h0m-271.7 1.9h0m90.2 0h0m30.8 0h0m2.2 0h0m151.8 0h0m-276.1 1.9h0m68.2 0h0m147.4 0h0m19.8 0h0m35.2 0h0m-271.7 1.9h0m68.2 0h0m19.8 0h0m2.2 0h0m127.6 0h0m55 0h0m2.2 0h0m-278.3 1.9h0m132 0h0m19.8 0h0m68.2 0h0m22 0h0m37.4 0h0m2.2 0h0m-282.7 1.9h0m72.6 0h0m61.6 0h0m4.4 0h0m11 0h0m134.2 0h0m13.2 0h0m-298.1 1.9h0m4.4 0h0m70.4 0h0m59.4 0h0m13.2 0h0m4.4 0h0m70.4 0h0m59.4 0h0m2.2 0h0m2.2 0h0m2.2 0h0m-289.3 1.9h0m2.2 0h0m35.2 0h0m39.6 0h0m19.8 0h0m39.6 0h0m15.4 0h0m35.2 0h0m110 0h0m-262.9 2h0m8.8 0h0m140.8 0h0m41.8 0h0m59.4 0h0m-251.9 1.9h0m11 0h0m2.2 0h0m30.8 0h0m149.6 0h0m19.8 0h0m-240.9 1.9h0m26.4 0h0m66 0h0m52.8 0h0m28.6 0h0m48.4 0h0m19.8 0h0m37.4 0h0m-254.1 1.9h0m48.4 0h0m57.2 0h0m15.4 0h0m44 0h0m90.2 0h0m-280.5 1.9h0m147.4 0h0m26.4 0h0m17.6 0h0m2.2 0h0m83.6 0h0m2.2 0h0m-236.5 1.9h0m2.2 0h0m103.4 0h0m129.8 0h0m-234.3 1.9h0m30.8 0h0m55 0h0m17.6 0h0m26.4 0h0m19.8 0h0m30.8 0h0m22 0h0m33 0h0m-278.3 1.9h0m22 0h0m52.8 0h0m2.2 0h0m19.8 0h0m30.8 0h0m2.2 0h0m19.8 0h0m22 0h0m22 0h0m2.2 0h0m-199.1 1.9h0m2.2 0h0m127.6 0h0m22 0h0m79.2 0h0m-234.3 1.9h0m2.2 0h0m2.2 0h0m2.2 0h0m50.6 0h0m26.4 0h0m24.2 0h0m44 0h0m28.6 0h0m22 0h0m4.4 0h0m2.2 0h0m24.2 0h0m48.4 0h0m2.2 0h0m15.4 0h0m-298.1 1.9h0m136.4 0h0m11 0h0m2.2 0h0m33 0h0m19.8 0h0m30.8 0h0m55 0h0m8.8 0h0m-298.1 1.9h0m2.2 0h0m57.2 0h0m24.2 0h0m57.2 0h0m11 0h0m30.8 0h0m2.2 0h0m50.6 0h0m26.4 0h0m19.8 0h0m2.2 0h0m2.2 0h0m8.8 0h0m-291.5 1.9h0m2.2 0h0m105.6 0h0m15.4 0h0m6.6 0h0m6.6 0h0m44 0h0m2.2 0h0m22 0h0m2.2 0h0m26.4 0h0m24.2 0h0m15.4 0h0m2.2 0h0m2.2 0h0m4.4 0h0m13.2 0h0m-298.1 1.9h0m37.4 0h0m50.6 0h0m2.2 0h0m26.4 0h0m17.6 0h0m2.2 0h0m8.8 0h0m4.4 0h0m2.2 0h0m85.8 0h0m2.2 0h0m24.2 0h0m6.6 0h0m22 0h0m2.2 0h0m-293.7 1.9h0m35.2 0h0m88 0h0m6.6 0h0m4.4 0h0m4.4 0h0m2.2 0h0m4.4 0h0m61.6 0h0m2.2 0h0m59.4 0h0m6.6 0h0m11 0h0m4.4 0h0m2.2 0h0m2.2 0h0m2.2 0h0m-260.7 1.9h0m50.6 0h0m2.2 0h0m28.6 0h0m8.8 0h0m2.2 0h0m6.6 0h0m2.2 0h0m6.6 0h0m2.2 0h0m61.6 0h0m2.2 0h0m59.4 0h0m11 0h0m2.2 0h0m2.2 0h0m2.2 0h0m2.2 0h0m6.6 0h0m-258.5 1.9h0m55 0h0m30.8 0h0m2.2 0h0m4.4 0h0m4.4 0h0m6.6 0h0m96.8 0h0m2.2 0h0m24.2 0h0m2.2 0h0m2.2 0h0m2.2 0h0m11 0h0m2.2 0h0m2.2 0h0m2.2 0h0m2.2 0h0m2.2 0h0m2.2 0h0m-295.9 1.9h0m61.6 0h0m28.6 0h0m33 0h0m2.2 0h0m4.4 0h0m2.2 0h0m6.6 0h0m2.2 0h0m125.4 0h0m2.2 0h0m2.2 0h0m2.2 0h0m8.8 0h0m6.6 0h0m2.2 0h0m4.4 0h0m2.2 0h0m-295.9 1.9h0m123.2 0h0m6.6 0h0m4.4 0h0m2.2 0h0m4.4 0h0m4.4 0h0m94.6 0h0m24.2 0h0m2.2 0h0m2.2 0h0m2.2 0h0m4.4 0h0m2.2 0h0m11 0h0m2.2 0h0m2.2 0h0m2.2 0h0m-234.3 2h0m33 0h0m22 0h0m4.4 0h0m2.2 0h0m13.2 0h0m8.8 0h0m96.8 0h0m24.2 0h0m24.2 0h0m2.2 0h0m2.2 0h0m4.4 0h0m-260.7 1.9h0m22 0h0m35.2 0h0m2.2 0h0m22 0h0m125.4 0h0m2.2 0h0m-60.5 1.9h0m52.8 0h0m4.4 0h0m6.6 0h0m13.2 0h0m4.4 0h0m26.4 0h0m-234.3 1.9h0m35.2 0h0m2.2 0h0m2.2 0h0m44 0h0m2.2 0h0m99 0h0m6.6 0h0m2.2 0h0m11 0h0m2.2 0h0m30.8 0h0m-295.9 1.9h0m35.2 0h0m24.2 0h0m41.8 0h0m39.6 0h0m2.2 0h0m92.4 0h0m4.4 0h0m6.6 0h0m8.8 0h0m4.4 0h0m2.2 0h0m-227.7 1.9h0m52.8 0h0m8.8 0h0m4.4 0h0m2.2 0h0m4.4 0h0m2.2 0h0m35.2 0h0m6.6 0h0m2.2 0h0m30.8 0h0m52.8 0h0m6.6 0h0m4.4 0h0m2.2 0h0m4.4 0h0m4.4 0h0m2.2 0h0m33 0h0m2.2 0h0"/><path stroke="#48ffaf" d="M384.5 248.2h0m2.2 0h0m33 0h0m24.2 0h0m28.6 0h0m2.2 0h0m24.2 0h0m2.2 0h0m2.2 0h0m19.8 0h0m44 0h0m52.8 0h0m2.2 0h0m52.8 0h0m2.2 0h0m4.4 0h0m-298.1 1.9h0m4.4 0h0m57.2 0h0m37.4 0h0m15.4 0h0m4.4 0h0m22 0h0m8.8 0h0m35.2 0h0m26.4 0h0m22 0h0m11 0h0m2.2 0h0m44 0h0m4.4 0h0m-291.5 1.9h0m2.2 0h0m57.2 0h0m22 0h0m4.4 0h0m2.2 0h0m2.2 0h0m19.8 0h0m4.4 0h0m24.2 0h0m11 0h0m30.8 0h0m50.6 0h0m2.2 0h0m4.4 0h0m24.2 0h0m24.2 0h0m4.4 0h0m2.2 0h0m2.2 0h0m-295.9 1.9h0m4.4 0h0m55 0h0m24.2 0h0m26.4 0h0m2.2 0h0m24.2 0h0m4.4 0h0m13.2 0h0m55 0h0m19.8 0h0m4.4 0h0m2.2 0h0m11 0h0m13.2 0h0m28.6 0h0m2.2 0h0m2.2 0h0m-284.9 1.9h0m52.8 0h0m22 0h0m33 0h0m22 0h0m17.6 0h0m2.2 0h0m52.8 0h0m46.2 0h0m4.4 0h0m24.2 0h0m2.2 0h0m-280.5 1.9h0m4.4 0h0m19.8 0h0m2.2 0h0m48.4 0h0m17.6 0h0m4.4 0h0m8.8 0h0m2.2 0h0m22 0h0m19.8 0h0m22 0h0m2.2 0h0m48.4 0h0m35.2 0h0m19.8 0h0m-276.1 1.9h0m4.4 0h0m48.4 0h0m17.6 0h0m24.2 0h0m2.2 0h0m4.4 0h0m2.2 0h0m4.4 0h0m41.8 0h0m22 0h0m72.6 0h0m11 0h0m4.4 0h0m15.4 0h0m-271.7 1.9h0m48.4 0h0m19.8 0h0m19.8 0h0m4.4 0h0m6.6 0h0m2.2 0h0m6.6 0h0m4.4 0h0m4.4 0h0m33 0h0m2.2 0h0m103.4 0h0m-223.3 1.9h0m2.2 0h0m2.2 0h0m11 0h0m19.8 0h0m24.2 0h0m15.4 0h0m2.2 0h0m2.2 0h0m6.6 0h0m33 0h0m2.2 0h0m26.4 0h0m17.6 0h0m41.8 0h0m4.4 0h0m6.6 0h0m4.4 0h0m2.2 0h0m4.4 0h0m4.4 0h0m-267.3 1.9h0m39.6 0h0m2.2 0h0m8.8 0h0m46.2 0h0m4.4 0h0m2.2 0h0m8.8 0h0m2.2 0h0m2.2 0h0m33 0h0m2.2 0h0m37.4 0h0m11 0h0m17.6 0h0m26.4 0h0m2.2 0h0m4.4 0h0m6.6 0h0m6.6 0h0m4.4 0h0m-221.1 2h0m44 0h0m2.2 0h0m4.4 0h0m4.4 0h0m8.8 0h0m4.4 0h0m35.2 0h0m44 0h0m2.2 0h0m50.6 0h0m2.2 0h0m2.2 0h0m4.4 0h0m2.2 0h0m4.4 0h0m-262.9 1.9h0m2.2 0h0m63.8 0h0m26.4 0h0m2.2 0h0m4.4 0h0m4.4 0h0m11 0h0m101.2 0h0m22 0h0m2.2 0h0m2.2 0h0m11 0h0m2.2 0h0m2.2 0h0m2.2 0h0m4.4 0h0m2.2 0h0m-201.3 1.9h0m30.8 0h0m2.2 0h0m4.4 0h0m2.2 0h0m2.2 0h0m2.2 0h0m2.2 0h0m2.2 0h0m37.4 0h0m88 0h0m13.2 0h0m4.4 0h0m2.2 0h0m6.6 0h0m2.2 0h0m-177.1 1.9h0m2.2 0h0m2.2 0h0m6.6 0h0m4.4 0h0m4.4 0h0m6.6 0h0m96.8 0h0m30.8 0h0m4.4 0h0m8.8 0h0m6.6 0h0m-170.5 1.9h0m4.4 0h0m11 0h0m39.6 0h0m85.8 0h0m17.6 0h0m6.6 0h0m6.6 0h0m2.2 0h0m-181.5 1.9h0m2.2 0h0m2.2 0h0m2.2 0h0m26.4 0h0m28.6 0h0m85.8 0h0m4.4 0h0m24.2 0h0m4.4 0h0m2.2 0h0m-271.7 1.9h0m92.4 0h0m22 0h0m2.2 0h0m2.2 0h0m118.8 0h0m2.2 0h0m2.2 0h0m-122.1 1.9h0m4.4 0h0m24.2 0h0m88 0h0m2.2 0h0m28.6 0h0m2.2 0h0m4.4 0h0m2.2 0h0m-276.1 1.9h0m66 0h0m22 0h0m35.2 0h0m2.2 0h0m2.2 0h0m88 0h0m22 0h0m2.2 0h0m-243.1 1.9h0m68.2 0h0m22 0h0m187 0h0m2.2 0h0m-278.3 1.9h0m68.2 0h0m149.6 0h0m57.2 0h0m-278.3 1.9h0m37.4 0h0m57.2 0h0m55 0h0m33 0h0m4.4 0h0m55 0h0m37.4 0h0m2.2 0h0m-280.5 1.9h0m37.4 0h0m2.2 0h0m52.8 0h0m35.2 0h0m2.2 0h0m2.2 0h0m19.8 0h0m26.4 0h0m11 0h0m52.8 0h0m37.4 0h0m-278.3 1.9h0m92.4 0h0m35.2 0h0m22 0h0m127.6 0h0m2.2 0h0m-280.5 1.9h0m2.2 0h0m39.6 0h0m88 0h0m19.8 0h0m41.8 0h0m30.8 0h0m19.8 0h0m-216.7 1.9h0m17.6 0h0m88 0h0m19.8 0h0m24.2 0h0m-130.9 1.9h0m85.8 0h0m19.8 0h0m2.2 0h0m72.6 0h0m19.8 0h0m33 0h0m-276.1 1.9h0m24.2 0h0m22 0h0m81.4 0h0m22 0h0m127.6 0h0m-276.1 1.9h0m44 0h0m2.2 0h0m4.4 0h0m96.8 0h0m46.2 0h0m2.2 0h0m26.4 0h0m-223.3 2h0m2.2 0h0m22 0h0m22 0h0m4.4 0h0m4.4 0h0m19.8 0h0m52.8 0h0m19.8 0h0m4.4 0h0m46.2 0h0m79.2 0h0m-278.3 1.9h0m55 0h0m22 0h0m52.8 0h0m17.6 0h0m26.4 0h0m24.2 0h0m6.6 0h0m72.6 0h0m-276.1 1.9h0m2.2 0h0m50.6 0h0m24.2 0h0m24.2 0h0m22 0h0m2.2 0h0m2.2 0h0m19.8 0h0m24.2 0h0m26.4 0h0m6.6 0h0m68.2 0h0m6.6 0h0m-282.7 1.9h0m2.2 0h0m2.2 0h0m77 0h0m50.6 0h0m17.6 0h0m28.6 0h0m26.4 0h0m26.4 0h0m46.2 0h0m4.4 0h0m2.2 0h0m-203.5 1.9h0m2.2 0h0m35.2 0h0m6.6 0h0m2.2 0h0m2.2 0h0m4.4 0h0m17.6 0h0m4.4 0h0m103.4 0h0m13.2 0h0m2.2 0h0m2.2 0h0m4.4 0h0m-282.7 1.9h0m2.2 0h0m4.4 0h0m26.4 0h0m2.2 0h0m24.2 0h0m2.2 0h0m22 0h0m2.2 0h0m26.4 0h0m4.4 0h0m2.2 0h0m6.6 0h0m8.8 0h0m13.2 0h0m2.2 0h0m2.2 0h0m4.4 0h0m52.8 0h0m2.2 0h0m50.6 0h0m8.8 0h0m2.2 0h0m2.2 0h0m6.6 0h0m4.4 0h0m2.2 0h0m2.2 0h0m2.2 0h0m6.6 0h0m-293.7 1.9h0m57.2 0h0m22 0h0m35.2 0h0m4.4 0h0m2.2 0h0m2.2 0h0m2.2 0h0m19.8 0h0m59.4 0h0m24.2 0h0m30.8 0h0m2.2 0h0m4.4 0h0m4.4 0h0m6.6 0h0m11 0h0m-293.7 1.9h0m2.2 0h0m2.2 0h0m83.6 0h0m33 0h0m4.4 0h0m6.6 0h0m6.6 0h0m46.2 0h0m2.2 0h0m46.2 0h0m4.4 0h0m26.4 0h0m2.2 0h0m2.2 0h0m4.4 0h0m8.8 0h0m2.2 0h0m2.2 0h0m4.4 0h0m6.6 0h0m-293.7 1.9h0m33 0h0m52.8 0h0m37.4 0h0m6.6 0h0m2.2 0h0m13.2 0h0m4.4 0h0m112.2 0h0m15.4 0h0m4.4 0h0m6.6 0h0m2.2 0h0m2.2 0h0m2.2 0h0m-295.9 1.9h0m35.2 0h0m50.6 0h0m30.8 0h0m6.6 0h0m2.2 0h0m13.2 0h0m4.4 0h0m2.2 0h0m2.2 0h0m85.8 0h0m30.8 0h0m4.4 0h0m6.6 0h0m2.2 0h0m4.4 0h0m6.6 0h0m2.2 0h0m6.6 0h0m-298.1 1.9h0m2.2 0h0m90.2 0h0m26.4 0h0m2.2 0h0m4.4 0h0m6.6 0h0m13.2 0h0m2.2 0h0m4.4 0h0m33 0h0m24.2 0h0m26.4 0h0m4.4 0h0m33 0h0m6.6 0h0m4.4 0h0m4.4 0h0m2.2 0h0m4.4 0h0m2.2 0h0m-210.1 1.9h0m35.2 0h0m4.4 0h0m8.8 0h0m6.6 0h0m4.4 0h0m4.4 0h0m35.2 0h0m24.2 0h0m26.4 0h0m2.2 0h0m2.2 0h0m2.2 0h0m26.4 0h0m4.4 0h0m11 0h0m2.2 0h0m2.2 0h0m6.6 0h0m-201.3 1.9h0m24.2 0h0m2.2 0h0m2.2 0h0m8.8 0h0m6.6 0h0m4.4 0h0m6.6 0h0m35.2 0h0m52.8 0h0m35.2 0h0m4.4 0h0m4.4 0h0m8.8 0h0m2.2 0h0m-256.3 1.9h0m52.8 0h0m2.2 0h0m2.2 0h0m26.4 0h0m8.8 0h0m2.2 0h0m6.6 0h0m2.2 0h0m11 0h0m118.8 0h0m13.2 0h0m8.8 0h0m2.2 0h0m2.2 0h0m-295.9 1.9h0m88 0h0m35.2 0h0m11 0h0m105.6 0h0m4.4 0h0m22 0h0m4.4 0h0m19.8 0h0m-291.5 1.9h0m2.2 0h0m96.8 0h0m17.6 0h0m4.4 0h0m17.6 0h0m2.2 0h0m8.8 0h0m4.4 0h0m83.6 0h0m6.6 0h0m24.2 0h0m2.2 0h0m19.8 0h0m2.2 0h0m-291.5 1.9h0m4.4 0h0m30.8 0h0m26.4 0h0m26.4 0h0m2.2 0h0m2.2 0h0m26.4 0h0m2.2 0h0m19.8 0h0m6.6 0h0m4.4 0h0m2.2 0h0m30.8 0h0m50.6 0h0m2.2 0h0m2.2 0h0m8.8 0h0m15.4 0h0m2.2 0h0m28.6 0h0m2.2 0h0m-295.9 1.9h0m33 0h0m55 0h0m26.4 0h0m26.4 0h0m4.4 0h0m2.2 0h0m6.6 0h0m28.6 0h0m50.6 0h0m11 0h0m17.6 0h0m2.2 0h0m2.2 0h0m28.6 0h0m-291.5 1.9h0m4.4 0h0m26.4 0h0m48.4 0h0m2.2 0h0m8.8 0h0m17.6 0h0m4.4 0h0m28.6 0h0m4.4 0h0m35.2 0h0m26.4 0h0m22 0h0m13.2 0h0m15.4 0h0m2.2 0h0m-260.7 2h0m2.2 0h0m2.2 0h0m2.2 0h0m77 0h0m24.2 0h0m44 0h0m26.4 0h0m2.2 0h0m72.6 0h0m6.6 0h0m2.2 0h0m-256.3 1.9h0m2.2 0h0m24.2 0h0m46.2 0h0m24.2 0h0m2.2 0h0m2.2 0h0m4.4 0h0m68.2 0h0m72.6 0h0m4.4 0h0m2.2 0h0m24.2 0h0m2.2 0h0m-280.5 1.9h0m2.2 0h0m2.2 0h0m24.2 0h0m26.4 0h0m46.2 0h0m2.2 0h0m2.2 0h0m2.2 0h0m2.2 0h0m94.6 0h0m52.8 0h0m-251.9 1.9h0m22 0h0m2.2 0h0m66 0h0m13.2 0h0m6.6 0h0m8.8 0h0m2.2 0h0m50.6 0h0m2.2 0h0m44 0h0m30.8 0h0m6.6 0h0m2.2 0h0m13.2 0h0m-271.7 1.9h0m28.6 0h0m2.2 0h0m61.6 0h0m4.4 0h0m2.2 0h0m6.6 0h0m2.2 0h0m4.4 0h0m2.2 0h0m2.2 0h0m33 0h0m2.2 0h0m28.6 0h0m37.4 0h0m24.2 0h0m4.4 0h0m2.2 0h0m2.2 0h0m2.2 0h0m2.2 0h0m2.2 0h0m2.2 0h0m4.4 0h0m2.2 0h0m2.2 0h0m-265.1 1.9h0m30.8 0h0m57.2 0h0m4.4 0h0m4.4 0h0m2.2 0h0m6.6 0h0m2.2 0h0m2.2 0h0m2.2 0h0m4.4 0h0m30.8 0h0m2.2 0h0m28.6 0h0m6.6 0h0m11 0h0m17.6 0h0m33 0h0m6.6 0h0m2.2 0h0m2.2 0h0m6.6 0h0m-267.3 1.9h0m41.8 0h0m70.4 0h0m37.4 0h0m48.4 0h0m50.6 0h0m13.2 0h0m-260.7 1.9h0m92.4 0h0m6.6 0h0m2.2 0h0m6.6 0h0m85.8 0h0m48.4 0h0m4.4 0h0m4.4 0h0m2.2 0h0m-159.5 1.9h0m4.4 0h0m11 0h0m2.2 0h0m127.6 0h0m6.6 0h0m4.4 0h0m4.4 0h0m2.2 0h0m4.4 0h0m2.2 0h0m-177.1 1.9h0m8.8 0h0m4.4 0h0m6.6 0h0m2.2 0h0m2.2 0h0m2.2 0h0m2.2 0h0m96.8 0h0m33 0h0m2.2 0h0m2.2 0h0m4.4 0h0m4.4 0h0m-196.9 1.9h0m24.2 0h0m4.4 0h0m2.2 0h0m2.2 0h0m2.2 0h0m2.2 0h0m6.6 0h0m2.2 0h0m103.4 0h0m26.4 0h0m4.4 0h0m17.6 0h0m-166.1 1.9h0m11 0h0m4.4 0h0m2.2 0h0m6.6 0h0m121 0h0m4.4 0h0m15.4 0h0m2.2 0h0m2.2 0h0m2.2 0h0m-181.5 1.9h0m30.8 0h0m30.8 0h0m66 0h0m22 0h0m2.2 0h0m30.8 0h0m2.2 0h0m-207.9 1.9h0m24.2 0h0m2.2 0h0m2.2 0h0m28.6 0h0m26.4 0h0m88 0h0m2.2 0h0m33 0h0m2.2 0h0m-210.1 1.9h0m59.4 0h0m2.2 0h0m112.2 0h0m-240.9 1.9h0m2.2 0h0m90.2 0h0m33 0h0m2.2 0h0m114.4 0h0m30.8 0h0m-205.7 1.9h0m59.4 0h0m22 0h0m2.2 0h0m66 0h0m2.2 0h0m22 0h0m37.4 0h0m-210.1 1.9h0m22 0h0m41.8 0h0m107.8 0h0m2.2 0h0m-243.1 1.9h0m28.6 0h0m6.6 0h0m35.2 0h0m59.4 0h0m50.6 0h0m4.4 0h0m35.2 0h0m22 0h0m37.4 0h0m2.2 0h0m-282.7 2h0m4.4 0h0m37.4 0h0m30.8 0h0m22 0h0m37.4 0h0m17.6 0h0m41.8 0h0m88 0h0m-278.3 1.9h0m2.2 0h0m129.8 0h0m17.6 0h0m26.4 0h0m13.2 0h0m-185.9 1.9h0m70.4 0h0m57.2 0h0m147.4 0h0m-276.1 1.9h0m41.8 0h0m50.6 0h0m33 0h0m2.2 0h0m19.8 0h0m2.2 0h0m70.4 0h0m22 0h0m35.2 0h0m-276.1 1.9h0m22 0h0m105.6 0h0m19.8 0h0m72.6 0h0m-223.3 1.9h0m74.8 0h0m22 0h0m33 0h0m44 0h0m19.8 0h0m2.2 0h0m28.6 0h0m22 0h0m-221.1 1.9h0m22 0h0m2.2 0h0m48.4 0h0m30.8 0h0m22 0h0m52.8 0h0m72.6 0h0m-276.1 1.9h0m4.4 0h0m46.2 0h0m6.6 0h0m92.4 0h0m52.8 0h0m24.2 0h0m22 0h0m-223.3 1.9h0m28.6 0h0m24.2 0h0m24.2 0h0m24.2 0h0m4.4 0h0m24.2 0h0m44 0h0m77 0h0m2.2 0h0m-273.9 1.9h0m50.6 0h0m72.6 0h0m2.2 0h0m19.8 0h0m2.2 0h0m74.8 0h0m26.4 0h0m19.8 0h0m8.8 0h0m-282.7 1.9h0m2.2 0h0m50.6 0h0m2.2 0h0m2.2 0h0m63.8 0h0m6.6 0h0m2.2 0h0m2.2 0h0m17.6 0h0m4.4 0h0m55 0h0m46.2 0h0m19.8 0h0m4.4 0h0m2.2 0h0m-278.3 1.9h0m79.2 0h0m26.4 0h0m15.4 0h0m4.4 0h0m4.4 0h0m2.2 0h0m11 0h0m4.4 0h0m26.4 0h0m30.8 0h0m57.2 0h0m-267.3 1.9h0m33 0h0m26.4 0h0m24.2 0h0m2.2 0h0m26.4 0h0m8.8 0h0m2.2 0h0m4.4 0h0m6.6 0h0m2.2 0h0m8.8 0h0m2.2 0h0m2.2 0h0m2.2 0h0m2.2 0h0m77 0h0m2.2 0h0m30.8 0h0m8.8 0h0m13.2 0h0m2.2 0h0m-287.1 1.9h0m59.4 0h0m52.8 0h0m4.4 0h0m11 0h0m8.8 0h0m2.2 0h0m6.6 0h0m6.6 0h0m55 0h0m26.4 0h0m30.8 0h0m6.6 0h0m2.2 0h0m4.4 0h0m2.2 0h0m2.2 0h0m2.2 0h0m2.2 0h0m2.2 0h0m6.6 0h0m2.2 0h0m-295.9 1.9h0m2.2 0h0m81.4 0h0m2.2 0h0m26.4 0h0m2.2 0h0m2.2 0h0m6.6 0h0m2.2 0h0m22 0h0m35.2 0h0m48.4 0h0m30.8 0h0m2.2 0h0m6.6 0h0m4.4 0h0m2.2 0h0m-218.9 1.9h0m24.2 0h0m39.6 0h0m6.6 0h0m8.8 0h0m8.8 0h0m37.4 0h0m48.4 0h0m30.8 0h0m2.2 0h0m4.4 0h0m2.2 0h0m4.4 0h0m13.2 0h0m2.2 0h0m-293.7 1.9h0m59.4 0h0m2.2 0h0m28.6 0h0m28.6 0h0m2.2 0h0m11 0h0m4.4 0h0m2.2 0h0m136.4 0h0m2.2 0h0m2.2 0h0m17.6 0h0m-295.9 1.9h0m85.8 0h0m4.4 0h0m28.6 0h0m15.4 0h0m6.6 0h0m4.4 0h0m2.2 0h0m61.6 0h0m26.4 0h0m2.2 0h0m2.2 0h0m33 0h0m2.2 0h0m2.2 0h0m4.4 0h0m2.2 0h0m6.6 0h0m-289.3 1.9h0m88 0h0m2.2 0h0m2.2 0h0m24.2 0h0m2.2 0h0m4.4 0h0m2.2 0h0m11 0h0m8.8 0h0m37.4 0h0m57.2 0h0m30.8 0h0m6.6 0h0m4.4 0h0m2.2 0h0m-287.1 2h0m4.4 0h0m33 0h0m55 0h0m26.4 0h0m6.6 0h0m2.2 0h0m11 0h0m2.2 0h0m2.2 0h0m4.4 0h0m2.2 0h0m2.2 0h0m2.2 0h0m85.8 0h0m30.8 0h0m4.4 0h0m2.2 0h0m2.2 0h0m6.6 0h0m2.2 0h0m8.8 0h0m-260.7 1.9h0m52.8 0h0m28.6 0h0m15.4 0h0m6.6 0h0m4.4 0h0m2.2 0h0m2.2 0h0m37.4 0h0m24.2 0h0m28.6 0h0m30.8 0h0m2.2 0h0m8.8 0h0m4.4 0h0m4.4 0h0m8.8 0h0m-260.7 1.9h0m24.2 0h0m30.8 0h0m4.4 0h0m2.2 0h0m19.8 0h0m4.4 0h0m17.6 0h0m2.2 0h0m4.4 0h0m2.2 0h0m4.4 0h0m92.4 0h0m24.2 0h0m15.4 0h0m4.4 0h0m2.2 0h0m4.4 0h0m-293.7 1.9h0m59.4 0h0m30.8 0h0m55 0h0m4.4 0h0m33 0h0m50.6 0h0m2.2 0h0m2.2 0h0m2.2 0h0m4.4 0h0m41.8 0h0m2.2 0h0m2.2 0h0m2.2 0h0m-295.9 1.9h0m88 0h0m2.2 0h0m2.2 0h0m2.2 0h0m4.4 0h0m17.6 0h0m35.2 0h0m59.4 0h0m28.6 0h0m57.2 0h0m2.2 0h0m-298.1 1.9h0m2.2 0h0m2.2 0h0m57.2 0h0m28.6 0h0m4.4 0h0m19.8 0h0m24.2 0h0m4.4 0h0m4.4 0h0m2.2 0h0m33 0h0m28.6 0h0m28.6 0h0m24.2 0h0m2.2 0h0"/><path stroke="#5dff9a" d="M468.1 248.2h0m59.4 0h0m2.2 0h0m4.4 0h0m2.2 0h0m2.2 0h0m55 0h0m30.8 0h0m26.4 0h0m2.2 0h0m15.4 0h0m2.2 0h0m2.2 0h0m-280.5 1.9h0m107.8 0h0m19.8 0h0m6.6 0h0m4.4 0h0m4.4 0h0m30.8 0h0m85.8 0h0m2.2 0h0m22 0h0m-258.5 1.9h0m52.8 0h0m52.8 0h0m11 0h0m4.4 0h0m2.2 0h0m74.8 0h0m55 0h0m-278.3 1.9h0m2.2 0h0m22 0h0m50.6 0h0m77 0h0m72.6 0h0m33 0h0m22 0h0m-254.1 1.9h0m85.8 0h0m2.2 0h0m15.4 0h0m44 0h0m50.6 0h0m33 0h0m19.8 0h0m-273.9 1.9h0m4.4 0h0m66 0h0m37.4 0h0m13.2 0h0m4.4 0h0m24.2 0h0m2.2 0h0m66 0h0m52.8 0h0m2.2 0h0m-260.7 1.9h0m11 0h0m2.2 0h0m79.2 0h0m4.4 0h0m2.2 0h0m2.2 0h0m2.2 0h0m6.6 0h0m28.6 0h0m2.2 0h0m2.2 0h0m17.6 0h0m90.2 0h0m4.4 0h0m4.4 0h0m-265.1 1.9h0m2.2 0h0m2.2 0h0m2.2 0h0m6.6 0h0m2.2 0h0m6.6 0h0m39.6 0h0m37.4 0h0m2.2 0h0m4.4 0h0m4.4 0h0m33 0h0m22 0h0m2.2 0h0m2.2 0h0m2.2 0h0m39.6 0h0m44 0h0m6.6 0h0m2.2 0h0m-262.9 1.9h0m17.6 0h0m4.4 0h0m37.4 0h0m37.4 0h0m11 0h0m2.2 0h0m57.2 0h0m2.2 0h0m2.2 0h0m37.4 0h0m48.4 0h0m-262.9 1.9h0m4.4 0h0m2.2 0h0m26.4 0h0m17.6 0h0m15.4 0h0m41.8 0h0m88 0h0m17.6 0h0m-212.3 2h0m37.4 0h0m4.4 0h0m22 0h0m125.4 0h0m6.6 0h0m-102.3 1.9h0m11 0h0m44 0h0m92.4 0h0m17.6 0h0m-260.7 1.9h0m99 0h0m112.2 0h0m35.2 0h0m2.2 0h0m13.2 0h0m-262.9 1.9h0m2.2 0h0m61.6 0h0m33 0h0m2.2 0h0m4.4 0h0m4.4 0h0m6.6 0h0m96.8 0h0m28.6 0h0m6.6 0h0m4.4 0h0m2.2 0h0m2.2 0h0m4.4 0h0m2.2 0h0m-262.9 1.9h0m61.6 0h0m2.2 0h0m33 0h0m6.6 0h0m2.2 0h0m6.6 0h0m2.2 0h0m96.8 0h0m2.2 0h0m26.4 0h0m2.2 0h0m4.4 0h0m4.4 0h0m4.4 0h0m2.2 0h0m4.4 0h0m2.2 0h0m-265.1 1.9h0m61.6 0h0m2.2 0h0m35.2 0h0m2.2 0h0m4.4 0h0m8.8 0h0m2.2 0h0m35.2 0h0m61.6 0h0m28.6 0h0m2.2 0h0m2.2 0h0m2.2 0h0m2.2 0h0m8.8 0h0m-166.1 1.9h0m4.4 0h0m13.2 0h0m8.8 0h0m140.8 0h0m4.4 0h0m-265.1 1.9h0m61.6 0h0m2.2 0h0m24.2 0h0m26.4 0h0m6.6 0h0m28.6 0h0m90.2 0h0m2.2 0h0m28.6 0h0m-207.9 1.9h0m85.8 0h0m61.6 0h0m55 0h0m2.2 0h0m-269.5 1.9h0m123.2 0h0m2.2 0h0m24.2 0h0m66 0h0m24.2 0h0m33 0h0m-183.7 1.9h0m2.2 0h0m35.2 0h0m22 0h0m90.2 0h0m-207.9 1.9h0m4.4 0h0m90.2 0h0m2.2 0h0m19.8 0h0m2.2 0h0m26.4 0h0m39.6 0h0m55 0h0m2.2 0h0m-273.9 1.9h0m2.2 0h0m24.2 0h0m39.6 0h0m2.2 0h0m79.2 0h0m-146.3 1.9h0m22 0h0m2.2 0h0m15.4 0h0m28.6 0h0m55 0h0m4.4 0h0m59.4 0h0m52.8 0h0m-238.7 1.9h0m22 0h0m17.6 0h0m26.4 0h0m2.2 0h0m79.2 0h0m2.2 0h0m39.6 0h0m26.4 0h0m-218.9 1.9h0m151.8 0h0m68.2 0h0m55 0h0m-273.9 1.9h0m22 0h0m22 0h0m26.4 0h0m24.2 0h0m57.2 0h0m-104.5 1.9h0m24.2 0h0m24.2 0h0m28.6 0h0m26.4 0h0m19.8 0h0m24.2 0h0m26.4 0h0m22 0h0m-240.9 1.9h0m46.2 0h0m4.4 0h0m70.4 0h0m26.4 0h0m19.8 0h0m33 0h0m70.4 0h0m-269.5 2h0m17.6 0h0m26.4 0h0m50.6 0h0m26.4 0h0m44 0h0m2.2 0h0m30.8 0h0m2.2 0h0m2.2 0h0m63.8 0h0m4.4 0h0m-273.9 1.9h0m2.2 0h0m48.4 0h0m6.6 0h0m41.8 0h0m22 0h0m2.2 0h0m26.4 0h0m4.4 0h0m15.4 0h0m30.8 0h0m24.2 0h0m48.4 0h0m-267.3 1.9h0m15.4 0h0m33 0h0m48.4 0h0m48.4 0h0m2.2 0h0m48.4 0h0m4.4 0h0m17.6 0h0m26.4 0h0m19.8 0h0m6.6 0h0m-254.1 1.9h0m33 0h0m48.4 0h0m17.6 0h0m30.8 0h0m101.2 0h0m13.2 0h0m4.4 0h0m-273.9 1.9h0m2.2 0h0m26.4 0h0m79.2 0h0m2.2 0h0m4.4 0h0m6.6 0h0m8.8 0h0m77 0h0m52.8 0h0m2.2 0h0m4.4 0h0m2.2 0h0m8.8 0h0m-276.1 1.9h0m6.6 0h0m110 0h0m2.2 0h0m4.4 0h0m2.2 0h0m2.2 0h0m22 0h0m26.4 0h0m83.6 0h0m2.2 0h0m11 0h0m2.2 0h0m-276.1 1.9h0m4.4 0h0m26.4 0h0m88 0h0m30.8 0h0m2.2 0h0m28.6 0h0m28.6 0h0m19.8 0h0m37.4 0h0m4.4 0h0m-238.7 1.9h0m48.4 0h0m33 0h0m33 0h0m2.2 0h0m2.2 0h0m57.2 0h0m63.8 0h0m-273.9 1.9h0m4.4 0h0m57.2 0h0m24.2 0h0m37.4 0h0m88 0h0m22 0h0m39.6 0h0m2.2 0h0m6.6 0h0m-276.1 1.9h0m79.2 0h0m66 0h0m59.4 0h0m61.6 0h0m22 0h0m-289.3 1.9h0m30.8 0h0m118.8 0h0m132 0h0m-287.1 1.9h0m2.2 0h0m2.2 0h0m81.4 0h0m6.6 0h0m33 0h0m4.4 0h0m11 0h0m132 0h0m4.4 0h0m2.2 0h0m2.2 0h0m-280.5 1.9h0m2.2 0h0m2.2 0h0m83.6 0h0m2.2 0h0m35.2 0h0m2.2 0h0m2.2 0h0m6.6 0h0m4.4 0h0m4.4 0h0m63.8 0h0m24.2 0h0m37.4 0h0m13.2 0h0m4.4 0h0m6.6 0h0m-295.9 1.9h0m2.2 0h0m2.2 0h0m2.2 0h0m55 0h0m26.4 0h0m35.2 0h0m2.2 0h0m2.2 0h0m6.6 0h0m2.2 0h0m13.2 0h0m4.4 0h0m57.2 0h0m26.4 0h0m2.2 0h0m33 0h0m2.2 0h0m2.2 0h0m2.2 0h0m2.2 0h0m4.4 0h0m13.2 0h0m-295.9 1.9h0m90.2 0h0m26.4 0h0m11 0h0m8.8 0h0m6.6 0h0m2.2 0h0m2.2 0h0m4.4 0h0m121 0h0m4.4 0h0m2.2 0h0m2.2 0h0m2.2 0h0m6.6 0h0m2.2 0h0m-289.3 1.9h0m81.4 0h0m2.2 0h0m33 0h0m28.6 0h0m59.4 0h0m28.6 0h0m48.4 0h0m6.6 0h0m2.2 0h0m-157.3 1.9h0m4.4 0h0m68.2 0h0m22 0h0m55 0h0m2.2 0h0m-291.5 1.9h0m4.4 0h0m4.4 0h0m55 0h0m22 0h0m2.2 0h0m30.8 0h0m2.2 0h0m17.6 0h0m15.4 0h0m4.4 0h0m132 0h0m-256.3 1.9h0m107.8 0h0m13.2 0h0m2.2 0h0m2.2 0h0m24.2 0h0m48.4 0h0m35.2 0h0m-232.1 2h0m48.4 0h0m35.2 0h0m19.8 0h0m2.2 0h0m17.6 0h0m55 0h0m19.8 0h0m37.4 0h0m-256.3 1.9h0m19.8 0h0m83.6 0h0m17.6 0h0m26.4 0h0m70.4 0h0m-214.5 1.9h0m13.2 0h0m90.2 0h0m13.2 0h0m28.6 0h0m4.4 0h0m15.4 0h0m48.4 0h0m37.4 0h0m2.2 0h0m13.2 0h0m2.2 0h0m-269.5 1.9h0m17.6 0h0m30.8 0h0m55 0h0m11 0h0m33 0h0m6.6 0h0m96.8 0h0m11 0h0m2.2 0h0m2.2 0h0m-245.3 1.9h0m26.4 0h0m17.6 0h0m41.8 0h0m8.8 0h0m35.2 0h0m4.4 0h0m19.8 0h0m37.4 0h0m46.2 0h0m-256.3 1.9h0m19.8 0h0m4.4 0h0m19.8 0h0m15.4 0h0m39.6 0h0m50.6 0h0m22 0h0m6.6 0h0m2.2 0h0m77 0h0m-260.7 1.9h0m103.4 0h0m83.6 0h0m2.2 0h0m24.2 0h0m35.2 0h0m4.4 0h0m-207.9 1.9h0m17.6 0h0m39.6 0h0m8.8 0h0m39.6 0h0m44 0h0m2.2 0h0m15.4 0h0m30.8 0h0m15.4 0h0m-111.1 1.9h0m63.8 0h0m28.6 0h0m2.2 0h0m4.4 0h0m-157.3 1.9h0m2.2 0h0m4.4 0h0m4.4 0h0m2.2 0h0m44 0h0m90.2 0h0m-238.7 1.9h0m103.4 0h0m6.6 0h0m2.2 0h0m134.2 0h0m4.4 0h0m4.4 0h0m2.2 0h0m-258.5 1.9h0m61.6 0h0m26.4 0h0m2.2 0h0m59.4 0h0m92.4 0h0m4.4 0h0m2.2 0h0m6.6 0h0m-194.7 1.9h0m2.2 0h0m28.6 0h0m4.4 0h0m6.6 0h0m6.6 0h0m39.6 0h0m61.6 0h0m44 0h0m8.8 0h0m2.2 0h0m-267.3 1.9h0m112.2 0h0m2.2 0h0m2.2 0h0m33 0h0m90.2 0h0m26.4 0h0m-267.3 1.9h0m2.2 0h0m114.4 0h0m2.2 0h0m2.2 0h0m28.6 0h0m2.2 0h0m59.4 0h0m28.6 0h0m26.4 0h0m2.2 0h0m-267.3 1.9h0m63.8 0h0m83.6 0h0m63.8 0h0m59.4 0h0m-273.9 1.9h0m2.2 0h0m88 0h0m30.8 0h0m2.2 0h0m4.4 0h0m147.4 0h0m-273.9 1.9h0m28.6 0h0m35.2 0h0m26.4 0h0m33 0h0m2.2 0h0m22 0h0m2.2 0h0m28.6 0h0m2.2 0h0m33 0h0m-214.5 1.9h0m2.2 0h0m26.4 0h0m6.6 0h0m2.2 0h0m55 0h0m55 0h0m4.4 0h0m33 0h0m2.2 0h0m85.8 0h0m2.2 0h0m-276.1 2h0m24.2 0h0m2.2 0h0m123.2 0h0m26.4 0h0m11 0h0m30.8 0h0m-214.5 1.9h0m19.8 0h0m2.2 0h0m103.4 0h0m22 0h0m2.2 0h0m19.8 0h0m44 0h0m2.2 0h0m57.2 0h0m2.2 0h0m-254.1 1.9h0m17.6 0h0m28.6 0h0m24.2 0h0m30.8 0h0m2.2 0h0m22 0h0m41.8 0h0m28.6 0h0m-216.7 1.9h0m68.2 0h0m101.2 0h0m19.8 0h0m83.6 0h0m-271.7 1.9h0m39.6 0h0m2.2 0h0m48.4 0h0m30.8 0h0m26.4 0h0m19.8 0h0m48.4 0h0m24.2 0h0m-243.1 1.9h0m22 0h0m24.2 0h0m79.2 0h0m24.2 0h0m2.2 0h0m44 0h0m79.2 0h0m-273.9 1.9h0m52.8 0h0m96.8 0h0m19.8 0h0m24.2 0h0m2.2 0h0m6.6 0h0m17.6 0h0m50.6 0h0m4.4 0h0m-256.3 1.9h0m30.8 0h0m2.2 0h0m46.2 0h0m22 0h0m2.2 0h0m74.8 0h0m4.4 0h0m4.4 0h0m15.4 0h0m48.4 0h0m2.2 0h0m2.2 0h0m-273.9 1.9h0m2.2 0h0m17.6 0h0m33 0h0m2.2 0h0m17.6 0h0m46.2 0h0m30.8 0h0m4.4 0h0m15.4 0h0m28.6 0h0m2.2 0h0m2.2 0h0m2.2 0h0m17.6 0h0m26.4 0h0m19.8 0h0m2.2 0h0m-267.3 1.9h0m17.6 0h0m33 0h0m19.8 0h0m28.6 0h0m13.2 0h0m35.2 0h0m19.8 0h0m33 0h0m68.2 0h0m-271.7 1.9h0m22 0h0m2.2 0h0m50.6 0h0m28.6 0h0m11 0h0m6.6 0h0m26.4 0h0m6.6 0h0m48.4 0h0m19.8 0h0m2.2 0h0m37.4 0h0m2.2 0h0m4.4 0h0m4.4 0h0m-276.1 1.9h0m4.4 0h0m22 0h0m2.2 0h0m28.6 0h0m52.8 0h0m4.4 0h0m2.2 0h0m4.4 0h0m4.4 0h0m4.4 0h0m22 0h0m2.2 0h0m50.6 0h0m22 0h0m2.2 0h0m30.8 0h0m11 0h0m4.4 0h0m-271.7 1.9h0m55 0h0m52.8 0h0m4.4 0h0m11 0h0m26.4 0h0m105.6 0h0m4.4 0h0m2.2 0h0m2.2 0h0m11 0h0m-278.3 1.9h0m2.2 0h0m2.2 0h0m26.4 0h0m48.4 0h0m2.2 0h0m35.2 0h0m2.2 0h0m2.2 0h0m2.2 0h0m4.4 0h0m50.6 0h0m2.2 0h0m26.4 0h0m22 0h0m35.2 0h0m8.8 0h0m-243.1 1.9h0m28.6 0h0m22 0h0m37.4 0h0m11 0h0m15.4 0h0m4.4 0h0m79.2 0h0m39.6 0h0m11 0h0m-282.7 1.9h0m2.2 0h0m2.2 0h0m2.2 0h0m114.4 0h0m2.2 0h0m11 0h0m8.8 0h0m8.8 0h0m2.2 0h0m123.2 0h0m22 0h0m-212.3 1.9h0m2.2 0h0m39.6 0h0m15.4 0h0m2.2 0h0m2.2 0h0m2.2 0h0m2.2 0h0m2.2 0h0m30.8 0h0m26.4 0h0m61.6 0h0m-267.3 1.9h0m30.8 0h0m90.2 0h0m6.6 0h0m11 0h0m6.6 0h0m83.6 0h0m63.8 0h0m-212.3 1.9h0m2.2 0h0m44 0h0m11 0h0m90.2 0h0m4.4 0h0m44 0h0m15.4 0h0m-295.9 2h0m85.8 0h0m2.2 0h0m39.6 0h0m2.2 0h0m2.2 0h0m103.4 0h0m35.2 0h0m8.8 0h0m2.2 0h0m-282.7 1.9h0m85.8 0h0m4.4 0h0m2.2 0h0m28.6 0h0m2.2 0h0m2.2 0h0m2.2 0h0m2.2 0h0m4.4 0h0m2.2 0h0m4.4 0h0m8.8 0h0m4.4 0h0m81.4 0h0m4.4 0h0m2.2 0h0m30.8 0h0m4.4 0h0m13.2 0h0m2.2 0h0m2.2 0h0m-295.9 1.9h0m2.2 0h0m2.2 0h0m2.2 0h0m28.6 0h0m52.8 0h0m2.2 0h0m30.8 0h0m4.4 0h0m2.2 0h0m6.6 0h0m2.2 0h0m2.2 0h0m6.6 0h0m6.6 0h0m85.8 0h0m4.4 0h0m30.8 0h0m15.4 0h0m11 0h0m-298.1 1.9h0m35.2 0h0m50.6 0h0m2.2 0h0m2.2 0h0m28.6 0h0m17.6 0h0m2.2 0h0m2.2 0h0m8.8 0h0m4.4 0h0m-150.7 1.9h0m2.2 0h0m28.6 0h0m83.6 0h0m2.2 0h0m2.2 0h0m17.6 0h0m6.6 0h0m2.2 0h0m4.4 0h0m2.2 0h0m28.6 0h0m83.6 0h0m19.8 0h0m2.2 0h0m2.2 0h0m2.2 0h0m-284.9 1.9h0m24.2 0h0m52.8 0h0m30.8 0h0m19.8 0h0m4.4 0h0m15.4 0h0m79.2 0h0m33 0h0m19.8 0h0m2.2 0h0m2.2 0h0"/><path stroke="#71ff86" d="M388.9 248.2h0m28.6 0h0m52.8 0h0m46.2 0h0m4.4 0h0m19.8 0h0m77 0h0m41.8 0h0m2.2 0h0m-271.7 1.9h0m26.4 0h0m50.6 0h0m2.2 0h0m48.4 0h0m4.4 0h0m15.4 0h0m132 0h0m2.2 0h0m-280.5 1.9h0m2.2 0h0m110 0h0m17.6 0h0m74.8 0h0m55 0h0m2.2 0h0m15.4 0h0m-271.7 1.9h0m17.6 0h0m33 0h0m55 0h0m2.2 0h0m15.4 0h0m22 0h0m22 0h0m2.2 0h0m85.8 0h0m17.6 0h0m-273.9 1.9h0m19.8 0h0m48.4 0h0m44 0h0m8.8 0h0m2.2 0h0m26.4 0h0m2.2 0h0m66 0h0m37.4 0h0m2.2 0h0m-238.7 1.9h0m33 0h0m57.2 0h0m4.4 0h0m8.8 0h0m30.8 0h0m4.4 0h0m6.6 0h0m2.2 0h0m90.2 0h0m2.2 0h0m-254.1 1.9h0m2.2 0h0m2.2 0h0m4.4 0h0m4.4 0h0m99 0h0m39.6 0h0m4.4 0h0m2.2 0h0m37.4 0h0m59.4 0h0m8.8 0h0m-265.1 1.9h0m11 0h0m8.8 0h0m2.2 0h0m26.4 0h0m103.4 0h0m4.4 0h0m4.4 0h0m4.4 0h0m90.2 0h0m4.4 0h0m2.2 0h0m-260.7 1.9h0m4.4 0h0m2.2 0h0m11 0h0m28.6 0h0m105.6 0h0m2.2 0h0m6.6 0h0m4.4 0h0m2.2 0h0m28.6 0h0m-196.9 1.9h0m26.4 0h0m2.2 0h0m4.4 0h0m28.6 0h0m88 0h0m2.2 0h0m28.6 0h0m2.2 0h0m15.4 0h0m-196.9 2h0m37.4 0h0m6.6 0h0m2.2 0h0m13.2 0h0m88 0h0m2.2 0h0m35.2 0h0m24.2 0h0m-168.3 1.9h0m2.2 0h0m4.4 0h0m11 0h0m90.2 0h0m41.8 0h0m2.2 0h0m2.2 0h0m2.2 0h0m11 0h0m-150.7 1.9h0m90.2 0h0m-3.3 1.9h0m2.2 0h0m-93.5 1.9h0m41.8 0h0m6.6 0h0m136.4 0h0m4.4 0h0m-247.5 1.9h0m94.6 0h0m6.6 0h0m4.4 0h0m2.2 0h0m2.2 0h0m99 0h0m46.2 0h0m4.4 0h0m-260.7 1.9h0m2.2 0h0m57.2 0h0m2.2 0h0m44 0h0m44 0h0m59.4 0h0m2.2 0h0m30.8 0h0m2.2 0h0m2.2 0h0m2.2 0h0m4.4 0h0m4.4 0h0m4.4 0h0m-172.7 1.9h0m2.2 0h0m2.2 0h0m22 0h0m147.4 0h0m-262.9 1.9h0m59.4 0h0m28.6 0h0m2.2 0h0m22 0h0m4.4 0h0m2.2 0h0m30.8 0h0m57.2 0h0m4.4 0h0m28.6 0h0m28.6 0h0m-181.5 1.9h0m2.2 0h0m26.4 0h0m2.2 0h0m30.8 0h0m57.2 0h0m4.4 0h0m55 0h0m2.2 0h0m-269.5 1.9h0m30.8 0h0m33 0h0m55 0h0m2.2 0h0m2.2 0h0m26.4 0h0m28.6 0h0m4.4 0h0m26.4 0h0m4.4 0h0m57.2 0h0m-271.7 1.9h0m24.2 0h0m2.2 0h0m2.2 0h0m33 0h0m2.2 0h0m2.2 0h0m57.2 0h0m48.4 0h0m13.2 0h0m55 0h0m-218.9 1.9h0m2.2 0h0m39.6 0h0m59.4 0h0m48.4 0h0m2.2 0h0m39.6 0h0m2.2 0h0m57.2 0h0m2.2 0h0m-210.1 1.9h0m2.2 0h0m83.6 0h0m2.2 0h0m19.8 0h0m41.8 0h0m2.2 0h0m57.2 0h0m-269.5 1.9h0m17.6 0h0m70.4 0h0m33 0h0m46.2 0h0m70.4 0h0m28.6 0h0m2.2 0h0m2.2 0h0m-273.9 1.9h0m2.2 0h0m17.6 0h0m22 0h0m26.4 0h0m55 0h0m2.2 0h0m26.4 0h0m39.6 0h0m-190.3 1.9h0m2.2 0h0m41.8 0h0m79.2 0h0m28.6 0h0m15.4 0h0m24.2 0h0m2.2 0h0m24.2 0h0m-161.7 1.9h0m63.8 0h0m30.8 0h0m44 0h0m11 0h0m63.8 0h0m2.2 0h0m-269.5 1.9h0m50.6 0h0m2.2 0h0m15.4 0h0m24.2 0h0m28.6 0h0m26.4 0h0m2.2 0h0m44 0h0m6.6 0h0m15.4 0h0m-214.5 2h0m46.2 0h0m4.4 0h0m2.2 0h0m59.4 0h0m2.2 0h0m2.2 0h0m30.8 0h0m46.2 0h0m48.4 0h0m24.2 0h0m-267.3 1.9h0m2.2 0h0m13.2 0h0m35.2 0h0m63.8 0h0m6.6 0h0m26.4 0h0m52.8 0h0m2.2 0h0m41.8 0h0m19.8 0h0m-265.1 1.9h0m52.8 0h0m2.2 0h0m99 0h0m11 0h0m94.6 0h0m2.2 0h0m2.2 0h0m6.6 0h0m-271.7 1.9h0m4.4 0h0m13.2 0h0m37.4 0h0m15.4 0h0m2.2 0h0m30.8 0h0m2.2 0h0m4.4 0h0m2.2 0h0m8.8 0h0m33 0h0m13.2 0h0m2.2 0h0m33 0h0m19.8 0h0m35.2 0h0m2.2 0h0m2.2 0h0m4.4 0h0m-267.3 1.9h0m2.2 0h0m17.6 0h0m2.2 0h0m33 0h0m59.4 0h0m37.4 0h0m17.6 0h0m2.2 0h0m33 0h0m55 0h0m-258.5 1.9h0m55 0h0m17.6 0h0m77 0h0m55 0h0m55 0h0m-185.9 1.9h0m74.8 0h0m24.2 0h0m-174.9 1.9h0m2.2 0h0m24.2 0h0m30.8 0h0m17.6 0h0m74.8 0h0m2.2 0h0m72.6 0h0m-221.1 1.9h0m24.2 0h0m48.4 0h0m2.2 0h0m70.4 0h0m2.2 0h0m74.8 0h0m-227.7 1.9h0m4.4 0h0m55 0h0m90.2 0h0m-146.3 1.9h0m55 0h0m22 0h0m2.2 0h0m70.4 0h0m55 0h0m19.8 0h0m2.2 0h0m-227.7 1.9h0m147.4 0h0m2.2 0h0m28.6 0h0m48.4 0h0m2.2 0h0m-172.7 1.9h0m22 0h0m2.2 0h0m66 0h0m83.6 0h0m-201.3 1.9h0m50.6 0h0m70.4 0h0m-150.7 1.9h0m2.2 0h0m28.6 0h0m26.4 0h0m24.2 0h0m35.2 0h0m4.4 0h0m2.2 0h0m4.4 0h0m4.4 0h0m15.4 0h0m81.4 0h0m4.4 0h0m35.2 0h0m4.4 0h0m-273.9 1.9h0m59.4 0h0m61.6 0h0m6.6 0h0m2.2 0h0m2.2 0h0m48.4 0h0m48.4 0h0m39.6 0h0m4.4 0h0m2.2 0h0m2.2 0h0m2.2 0h0m-276.1 1.9h0m2.2 0h0m74.8 0h0m2.2 0h0m70.4 0h0m112.2 0h0m15.4 0h0m-278.3 1.9h0m134.2 0h0m41.8 0h0m50.6 0h0m37.4 0h0m17.6 0h0m-280.5 1.9h0m57.2 0h0m55 0h0m17.6 0h0m2.2 0h0m129.8 0h0m2.2 0h0m15.4 0h0m2.2 0h0m-276.1 2h0m17.6 0h0m33 0h0m57.2 0h0m39.6 0h0m19.8 0h0m50.6 0h0m37.4 0h0m19.8 0h0m-223.3 1.9h0m15.4 0h0m39.6 0h0m2.2 0h0m2.2 0h0m2.2 0h0m11 0h0m28.6 0h0m11 0h0m4.4 0h0m85.8 0h0m2.2 0h0m13.2 0h0m2.2 0h0m-269.5 1.9h0m6.6 0h0m2.2 0h0m8.8 0h0m2.2 0h0m46.2 0h0m41.8 0h0m2.2 0h0m4.4 0h0m35.2 0h0m4.4 0h0m4.4 0h0m2.2 0h0m2.2 0h0m96.8 0h0m6.6 0h0m-262.9 1.9h0m13.2 0h0m48.4 0h0m41.8 0h0m4.4 0h0m39.6 0h0m2.2 0h0m6.6 0h0m2.2 0h0m4.4 0h0m2.2 0h0m30.8 0h0m15.4 0h0m44 0h0m2.2 0h0m-258.5 1.9h0m2.2 0h0m2.2 0h0m2.2 0h0m4.4 0h0m2.2 0h0m2.2 0h0m6.6 0h0m129.8 0h0m8.8 0h0m8.8 0h0m26.4 0h0m-168.3 1.9h0m19.8 0h0m110 0h0m13.2 0h0m4.4 0h0m35.2 0h0m-210.1 1.9h0m30.8 0h0m4.4 0h0m11 0h0m101.2 0h0m30.8 0h0m2.2 0h0m2.2 0h0m26.4 0h0m-170.5 1.9h0m2.2 0h0m17.6 0h0m88 0h0m4.4 0h0m35.2 0h0m2.2 0h0m-190.3 1.9h0m48.4 0h0m13.2 0h0m136.4 0h0m11 0h0m-210.1 1.9h0m57.2 0h0m4.4 0h0m-3.3 1.9h0m90.2 0h0m59.4 0h0m39.6 0h0m-157.3 1.9h0m4.4 0h0m2.2 0h0m2.2 0h0m2.2 0h0m4.4 0h0m103.4 0h0m39.6 0h0m2.2 0h0m4.4 0h0m-258.5 1.9h0m90.2 0h0m4.4 0h0m4.4 0h0m2.2 0h0m6.6 0h0m4.4 0h0m2.2 0h0m94.6 0h0m30.8 0h0m2.2 0h0m2.2 0h0m4.4 0h0m8.8 0h0m2.2 0h0m2.2 0h0m-201.3 1.9h0m33 0h0m6.6 0h0m8.8 0h0m8.8 0h0m33 0h0m57.2 0h0m39.6 0h0m11 0h0m2.2 0h0m2.2 0h0m-203.5 1.9h0m28.6 0h0m2.2 0h0m116.6 0h0m4.4 0h0m-150.7 1.9h0m57.2 0h0m30.8 0h0m114.4 0h0m2.2 0h0m-177.1 1.9h0m26.4 0h0m92.4 0h0m2.2 0h0m57.2 0h0m2.2 0h0m-269.5 1.9h0m22 0h0m6.6 0h0m2.2 0h0m28.6 0h0m121 0h0m90.2 0h0m-269.5 1.9h0m19.8 0h0m39.6 0h0m2.2 0h0m59.4 0h0m24.2 0h0m26.4 0h0m39.6 0h0m-212.3 2h0m61.6 0h0m57.2 0h0m2.2 0h0m2.2 0h0m24.2 0h0m22 0h0m39.6 0h0m2.2 0h0m26.4 0h0m30.8 0h0m2.2 0h0m-269.5 1.9h0m37.4 0h0m26.4 0h0m24.2 0h0m30.8 0h0m2.2 0h0m63.8 0h0m2.2 0h0m19.8 0h0m30.8 0h0m30.8 0h0m-251.9 1.9h0m46.2 0h0m83.6 0h0m2.2 0h0m17.6 0h0m22 0h0m15.4 0h0m66 0h0m-269.5 1.9h0m15.4 0h0m2.2 0h0m184.8 0h0m66 0h0m-225.5 1.9h0m4.4 0h0m6.6 0h0m13.2 0h0m55 0h0m26.4 0h0m15.4 0h0m35.2 0h0m68.2 0h0m-269.5 1.9h0m48.4 0h0m2.2 0h0m4.4 0h0m13.2 0h0m52.8 0h0m46.2 0h0m28.6 0h0m4.4 0h0m17.6 0h0m52.8 0h0m-269.5 1.9h0m2.2 0h0m15.4 0h0m28.6 0h0m2.2 0h0m4.4 0h0m2.2 0h0m63.8 0h0m2.2 0h0m28.6 0h0m46.2 0h0m-126.5 1.9h0m52.8 0h0m26.4 0h0m17.6 0h0m35.2 0h0m44 0h0m17.6 0h0m2.2 0h0m-262.9 1.9h0m116.6 0h0m35.2 0h0m-150.7 1.9h0m107.8 0h0m4.4 0h0m2.2 0h0m2.2 0h0m30.8 0h0m15.4 0h0m37.4 0h0m15.4 0h0m33 0h0m11 0h0m2.2 0h0m-265.1 1.9h0m52.8 0h0m2.2 0h0m15.4 0h0m39.6 0h0m6.6 0h0m33 0h0m17.6 0h0m2.2 0h0m81.4 0h0m2.2 0h0m2.2 0h0m2.2 0h0m6.6 0h0m-210.1 1.9h0m52.8 0h0m6.6 0h0m90.2 0h0m52.8 0h0m4.4 0h0m2.2 0h0m4.4 0h0m-267.3 1.9h0m22 0h0m50.6 0h0m35.2 0h0m41.8 0h0m52.8 0h0m-201.3 1.9h0m70.4 0h0m74.8 0h0m2.2 0h0m55 0h0m17.6 0h0m-148.5 1.9h0m72.6 0h0m28.6 0h0m28.6 0h0m-203.5 1.9h0m26.4 0h0m28.6 0h0m19.8 0h0m72.6 0h0m28.6 0h0m46.2 0h0m2.2 0h0m-229.9 1.9h0m2.2 0h0m30.8 0h0m46.2 0h0m2.2 0h0m149.6 0h0m2.2 0h0m-232.1 1.9h0m30.8 0h0m50.6 0h0m68.2 0h0m-148.5 1.9h0m30.8 0h0m26.4 0h0m88 0h0m2.2 0h0m4.4 0h0m55 0h0m24.2 0h0m-80.3 2h0m55 0h0m-207.9 1.9h0m2.2 0h0m57.2 0h0m90.2 0h0m30.8 0h0m28.6 0h0m63.8 0h0m6.6 0h0m4.4 0h0m-278.3 1.9h0m77 0h0m44 0h0m2.2 0h0m24.2 0h0m28.6 0h0m26.4 0h0m24.2 0h0m41.8 0h0m6.6 0h0m-278.3 1.9h0m2.2 0h0m77 0h0m37.4 0h0m2.2 0h0m2.2 0h0m6.6 0h0m2.2 0h0m22 0h0m26.4 0h0m28.6 0h0m22 0h0m35.2 0h0m6.6 0h0m8.8 0h0m-199.1 1.9h0m52.8 0h0m19.8 0h0m24.2 0h0m50.6 0h0m2.2 0h0m35.2 0h0m4.4 0h0m11 0h0m-278.3 1.9h0m57.2 0h0m19.8 0h0m35.2 0h0m114.4 0h0m37.4 0h0m15.4 0h0"/><path stroke="#86ff71" d="M391.1 248.2h0m2.2 0h0m22 0h0m50.6 0h0m39.6 0h0m6.6 0h0m6.6 0h0m96.8 0h0m39.6 0h0m2.2 0h0m-192.5 1.9h0m39.6 0h0m11 0h0m24.2 0h0m2.2 0h0m2.2 0h0m19.8 0h0m92.4 0h0m6.6 0h0m2.2 0h0m2.2 0h0m-271.7 1.9h0m19.8 0h0m48.4 0h0m2.2 0h0m41.8 0h0m11 0h0m24.2 0h0m22 0h0m48.4 0h0m41.8 0h0m2.2 0h0m-245.3 1.9h0m52.8 0h0m41.8 0h0m11 0h0m28.6 0h0m50.6 0h0m57.2 0h0m11 0h0m2.2 0h0m-267.3 1.9h0m6.6 0h0m6.6 0h0m96.8 0h0m4.4 0h0m35.2 0h0m2.2 0h0m8.8 0h0m2.2 0h0m94.6 0h0m4.4 0h0m4.4 0h0m-265.1 1.9h0m2.2 0h0m6.6 0h0m2.2 0h0m50.6 0h0m44 0h0m4.4 0h0m2.2 0h0m37.4 0h0m4.4 0h0m41.8 0h0m66 0h0m-251.9 1.9h0m4.4 0h0m33 0h0m66 0h0m39.6 0h0m6.6 0h0m2.2 0h0m48.4 0h0m48.4 0h0m-247.5 1.9h0m48.4 0h0m92.4 0h0m4.4 0h0m4.4 0h0m-152.9 1.9h0m2.2 0h0m2.2 0h0m2.2 0h0m6.6 0h0m26.4 0h0m107.8 0h0m6.6 0h0m35.2 0h0m-188.1 1.9h0m13.2 0h0m35.2 0h0m94.6 0h0m2.2 0h0m8.8 0h0m2.2 0h0m4.4 0h0m4.4 0h0m2.2 0h0m30.8 0h0m-205.7 2h0m2.2 0h0m2.2 0h0m26.4 0h0m24.2 0h0m138.6 0h0m11 0h0m-207.9 1.9h0m37.4 0h0m19.8 0h0m94.6 0h0m55 0h0m-207.9 1.9h0m44 0h0m2.2 0h0m149.6 0h0m2.2 0h0m8.8 0h0m-150.7 1.9h0m2.2 0h0m145.2 0h0m-205.7 1.9h0m2.2 0h0m52.8 0h0m94.6 0h0m52.8 0h0m2.2 0h0m2.2 0h0m-152.9 1.9h0m149.6 0h0m46.2 0h0m2.2 0h0m-196.9 1.9h0m37.4 0h0m4.4 0h0m4.4 0h0m4.4 0h0m99 0h0m44 0h0m4.4 0h0m-254.1 1.9h0m107.8 0h0m2.2 0h0m39.6 0h0m55 0h0m2.2 0h0m2.2 0h0m33 0h0m6.6 0h0m2.2 0h0m2.2 0h0m4.4 0h0m2.2 0h0m-258.5 1.9h0m55 0h0m52.8 0h0m4.4 0h0m-115.5 1.9h0m59.4 0h0m2.2 0h0m30.8 0h0m112.2 0h0m-203.5 1.9h0m24.2 0h0m2.2 0h0m6.6 0h0m24.2 0h0m2.2 0h0m114.4 0h0m4.4 0h0m26.4 0h0m4.4 0h0m28.6 0h0m26.4 0h0m2.2 0h0m-267.3 1.9h0m35.2 0h0m55 0h0m26.4 0h0m2.2 0h0m30.8 0h0m22 0h0m37.4 0h0m2.2 0h0m55 0h0m-229.9 1.9h0m19.8 0h0m2.2 0h0m30.8 0h0m28.6 0h0m30.8 0h0m37.4 0h0m17.6 0h0m63.8 0h0m-267.3 1.9h0m17.6 0h0m39.6 0h0m33 0h0m28.6 0h0m33 0h0m15.4 0h0m19.8 0h0m79.2 0h0m-207.9 1.9h0m2.2 0h0m59.4 0h0m30.8 0h0m15.4 0h0m37.4 0h0m2.2 0h0m4.4 0h0m2.2 0h0m-210.1 1.9h0m39.6 0h0m8.8 0h0m2.2 0h0m4.4 0h0m2.2 0h0m2.2 0h0m2.2 0h0m26.4 0h0m26.4 0h0m2.2 0h0m33 0h0m15.4 0h0m24.2 0h0m48.4 0h0m26.4 0h0m2.2 0h0m-251.9 1.9h0m28.6 0h0m4.4 0h0m2.2 0h0m4.4 0h0m4.4 0h0m4.4 0h0m52.8 0h0m2.2 0h0m85.8 0h0m2.2 0h0m4.4 0h0m28.6 0h0m28.6 0h0m-269.5 1.9h0m17.6 0h0m33 0h0m2.2 0h0m4.4 0h0m2.2 0h0m57.2 0h0m35.2 0h0m44 0h0m4.4 0h0m2.2 0h0m13.2 0h0m26.4 0h0m24.2 0h0m-251.9 1.9h0m2.2 0h0m50.6 0h0m50.6 0h0m79.2 0h0m6.6 0h0m39.6 0h0m22 0h0m2.2 0h0m-251.9 2h0m52.8 0h0m83.6 0h0m66 0h0m44 0h0m-247.5 1.9h0m41.8 0h0m13.2 0h0m28.6 0h0m13.2 0h0m2.2 0h0m39.6 0h0m66 0h0m41.8 0h0m6.6 0h0m-262.9 1.9h0m8.8 0h0m57.2 0h0m30.8 0h0m6.6 0h0m2.2 0h0m2.2 0h0m2.2 0h0m2.2 0h0m35.2 0h0m52.8 0h0m44 0h0m4.4 0h0m2.2 0h0m2.2 0h0m-256.3 1.9h0m4.4 0h0m2.2 0h0m99 0h0m6.6 0h0m2.2 0h0m35.2 0h0m4.4 0h0m8.8 0h0m39.6 0h0m15.4 0h0m33 0h0m2.2 0h0m-251.9 1.9h0m52.8 0h0m50.6 0h0m59.4 0h0m39.6 0h0m15.4 0h0m-216.7 1.9h0m17.6 0h0m35.2 0h0m94.6 0h0m2.2 0h0m15.4 0h0m52.8 0h0m-221.1 1.9h0m2.2 0h0m19.8 0h0m33 0h0m94.6 0h0m55 0h0m15.4 0h0m-47.3 1.9h0m30.8 0h0m-205.7 1.9h0m57.2 0h0m118.8 0h0m-148.5 1.9h0m48.4 0h0m72.6 0h0m26.4 0h0m2.2 0h0m46.2 0h0m2.2 0h0m-150.7 1.9h0m101.2 0h0m-148.5 1.9h0m178.2 0h0m-205.7 1.9h0m28.6 0h0m118.8 0h0m2.2 0h0m55 0h0m-27.5 1.9h0m50.6 0h0m-201.3 1.9h0m123.2 0h0m79.2 0h0m-201.3 1.9h0m50.6 0h0m41.8 0h0m2.2 0h0m26.4 0h0m2.2 0h0m77 0h0m39.6 0h0m11 0h0m-251.9 1.9h0m92.4 0h0m6.6 0h0m2.2 0h0m2.2 0h0m22 0h0m22 0h0m2.2 0h0m48.4 0h0m39.6 0h0m2.2 0h0m2.2 0h0m4.4 0h0m6.6 0h0m-276.1 1.9h0m22 0h0m90.2 0h0m4.4 0h0m151.8 0h0m6.6 0h0m-273.9 1.9h0m19.8 0h0m90.2 0h0m2.2 0h0m2.2 0h0m52.8 0h0m2.2 0h0m48.4 0h0m55 0h0m-251.9 2h0m90.2 0h0m11 0h0m2.2 0h0m26.4 0h0m2.2 0h0m2.2 0h0m11 0h0m94.6 0h0m4.4 0h0m6.6 0h0m2.2 0h0m-269.5 1.9h0m2.2 0h0m2.2 0h0m2.2 0h0m2.2 0h0m6.6 0h0m96.8 0h0m2.2 0h0m2.2 0h0m30.8 0h0m11 0h0m4.4 0h0m35.2 0h0m15.4 0h0m41.8 0h0m2.2 0h0m2.2 0h0m4.4 0h0m-260.7 1.9h0m6.6 0h0m2.2 0h0m50.6 0h0m48.4 0h0m4.4 0h0m48.4 0h0m48.4 0h0m44 0h0m-251.9 1.9h0m2.2 0h0m2.2 0h0m2.2 0h0m2.2 0h0m99 0h0m44 0h0m6.6 0h0m48.4 0h0m-201.3 1.9h0m8.8 0h0m30.8 0h0m13.2 0h0m94.6 0h0m2.2 0h0m4.4 0h0m2.2 0h0m2.2 0h0m30.8 0h0m11 0h0m-205.7 1.9h0m4.4 0h0m4.4 0h0m4.4 0h0m6.6 0h0m129.8 0h0m6.6 0h0m2.2 0h0m2.2 0h0m2.2 0h0m30.8 0h0m-194.7 1.9h0m26.4 0h0m4.4 0h0m26.4 0h0m90.2 0h0m46.2 0h0m-196.9 1.9h0m2.2 0h0m33 0h0m2.2 0h0m8.8 0h0m151.8 0h0m2.2 0h0m8.8 0h0m-207.9 1.9h0m41.8 0h0m2.2 0h0m4.4 0h0m8.8 0h0m90.2 0h0m39.6 0h0m4.4 0h0m6.6 0h0m6.6 0h0m-157.3 1.9h0m4.4 0h0m4.4 0h0m90.2 0h0m48.4 0h0m6.6 0h0m2.2 0h0m2.2 0h0m-159.5 1.9h0m6.6 0h0m94.6 0h0m50.6 0h0m-144.1 1.9h0m145.2 0h0m2.2 0h0m2.2 0h0m-207.9 1.9h0m57.2 0h0m46.2 0h0m99 0h0m41.8 0h0m4.4 0h0m2.2 0h0m-251.9 1.9h0m57.2 0h0m37.4 0h0m2.2 0h0m4.4 0h0m2.2 0h0m2.2 0h0m99 0h0m4.4 0h0m30.8 0h0m2.2 0h0m2.2 0h0m4.4 0h0m2.2 0h0m2.2 0h0m2.2 0h0m-163.9 1.9h0m15.4 0h0m4.4 0h0m127.6 0h0m2.2 0h0m19.8 0h0m-260.7 1.9h0m57.2 0h0m30.8 0h0m2.2 0h0m19.8 0h0m2.2 0h0m2.2 0h0m35.2 0h0m55 0h0m2.2 0h0m30.8 0h0m-210.1 1.9h0m28.6 0h0m2.2 0h0m52.8 0h0m35.2 0h0m28.6 0h0m61.6 0h0m-236.5 1.9h0m22 0h0m66 0h0m28.6 0h0m30.8 0h0m24.2 0h0m8.8 0h0m24.2 0h0m2.2 0h0m30.8 0h0m28.6 0h0m-249.7 1.9h0m39.6 0h0m61.6 0h0m50.6 0h0m68.2 0h0m-181.5 2h0m2.2 0h0m4.4 0h0m26.4 0h0m59.4 0h0m17.6 0h0m99 0h0m-203.5 1.9h0m55 0h0m33 0h0m59.4 0h0m57.2 0h0m-267.3 1.9h0m39.6 0h0m169.4 0h0m4.4 0h0m-172.7 1.9h0m11 0h0m2.2 0h0m4.4 0h0m2.2 0h0m4.4 0h0m55 0h0m28.6 0h0m41.8 0h0m24.2 0h0m-212.3 1.9h0m13.2 0h0m2.2 0h0m39.6 0h0m2.2 0h0m33 0h0m24.2 0h0m2.2 0h0m72.6 0h0m11 0h0m11 0h0m57.2 0h0m-269.5 1.9h0m15.4 0h0m28.6 0h0m6.6 0h0m4.4 0h0m37.4 0h0m22 0h0m2.2 0h0m33 0h0m46.2 0h0m4.4 0h0m2.2 0h0m2.2 0h0m8.8 0h0m52.8 0h0m-262.9 1.9h0m11 0h0m50.6 0h0m2.2 0h0m26.4 0h0m19.8 0h0m2.2 0h0m46.2 0h0m2.2 0h0m37.4 0h0m2.2 0h0m11 0h0m28.6 0h0m22 0h0m-265.1 1.9h0m52.8 0h0m13.2 0h0m48.4 0h0m35.2 0h0m2.2 0h0m63.8 0h0m-212.3 1.9h0m50.6 0h0m44 0h0m15.4 0h0m46.2 0h0m2.2 0h0m2.2 0h0m39.6 0h0m13.2 0h0m41.8 0h0m2.2 0h0m2.2 0h0m-247.5 1.9h0m37.4 0h0m2.2 0h0m50.6 0h0m2.2 0h0m44 0h0m8.8 0h0m44 0h0m44 0h0m-247.5 1.9h0m2.2 0h0m13.2 0h0m85.8 0h0m2.2 0h0m2.2 0h0m46.2 0h0m2.2 0h0m48.4 0h0m-203.5 1.9h0m2.2 0h0m2.2 0h0m66 0h0m79.2 0h0m68.2 0h0m-216.7 1.9h0m52.8 0h0m15.4 0h0m99 0h0m2.2 0h0m48.4 0h0m-196.9 1.9h0m30.8 0h0m2.2 0h0m94.6 0h0m-152.9 1.9h0m2.2 0h0m55 0h0m92.4 0h0m2.2 0h0m55 0h0m15.4 0h0m-71.5 1.9h0m24.2 0h0m30.8 0h0m-205.7 1.9h0m2.2 0h0m55 0h0m-1.1 1.9h0m92.4 0h0m28.6 0h0m48.4 0h0m-225.5 1.9h0m147.4 0h0m28.6 0h0m-177.1 2h0m2.2 0h0m26.4 0h0m48.4 0h0m74.8 0h0m26.4 0h0m48.4 0h0m2.2 0h0m-227.7 1.9h0m26.4 0h0m123.2 0h0m77 0h0m-170.5 1.9h0m94.6 0h0m116.6 0h0m4.4 0h0m2.2 0h0m-271.7 1.9h0m118.8 0h0m2.2 0h0m28.6 0h0m72.6 0h0m39.6 0h0m2.2 0h0m13.2 0h0m-278.3 1.9h0m55 0h0m70.4 0h0m2.2 0h0m24.2 0h0m70.4 0h0m41.8 0h0m4.4 0h0m2.2 0h0m4.4 0h0m-271.7 1.9h0m19.8 0h0m50.6 0h0m39.6 0h0m2.2 0h0m35.2 0h0m2.2 0h0m19.8 0h0m50.6 0h0m41.8 0h0m11 0h0"/><path stroke="#9aff5d" d="M446.1 248.2h0m61.6 0h0m2.2 0h0m4.4 0h0m81.4 0h0m68.2 0h0m2.2 0h0m-271.7 1.9h0m19.8 0h0m92.4 0h0m2.2 0h0m2.2 0h0m2.2 0h0m101.2 0h0m44 0h0m2.2 0h0m-247.5 1.9h0m35.2 0h0m57.2 0h0m4.4 0h0m2.2 0h0m4.4 0h0m46.2 0h0m103.4 0h0m-256.3 1.9h0m52.8 0h0m52.8 0h0m33 0h0m13.2 0h0m50.6 0h0m44 0h0m2.2 0h0m2.2 0h0m-262.9 1.9h0m13.2 0h0m37.4 0h0m63.8 0h0m44 0h0m2.2 0h0m39.6 0h0m57.2 0h0m4.4 0h0m4.4 0h0m-258.5 1.9h0m2.2 0h0m41.8 0h0m107.8 0h0m52.8 0h0m46.2 0h0m2.2 0h0m2.2 0h0m-199.1 1.9h0m147.4 0h0m-159.5 1.9h0m147.4 0h0m13.2 0h0m-150.7 1.9h0m99 0h0m50.6 0h0m-203.5 1.9h0m2.2 0h0m4.4 0h0m2.2 0h0m2.2 0h0m4.4 0h0m28.6 0h0m107.8 0h0m2.2 0h0m2.2 0h0m6.6 0h0m4.4 0h0m-163.9 2h0m19.8 0h0m2.2 0h0m17.6 0h0m2.2 0h0m2.2 0h0m99 0h0m2.2 0h0m2.2 0h0m19.8 0h0m4.4 0h0m2.2 0h0m15.4 0h0m2.2 0h0m4.4 0h0m-166.1 1.9h0m6.6 0h0m6.6 0h0m2.2 0h0m99 0h0m33 0h0m2.2 0h0m11 0h0m4.4 0h0m-203.5 1.9h0m39.6 0h0m8.8 0h0m2.2 0h0m2.2 0h0m2.2 0h0m94.6 0h0m41.8 0h0m6.6 0h0m2.2 0h0m2.2 0h0m-203.5 1.9h0m44 0h0m4.4 0h0m145.2 0h0m11 0h0m-7.7 1.9h0m-199.1 1.9h0m55 0h0m145.2 0h0m4.4 0h0m-152.9 1.9h0m46.2 0h0m50.6 0h0m50.6 0h0m2.2 0h0m-201.3 1.9h0m50.6 0h0m4.4 0h0m37.4 0h0m2.2 0h0m2.2 0h0m6.6 0h0m138.6 0h0m2.2 0h0m-194.7 1.9h0m2.2 0h0m37.4 0h0m2.2 0h0m147.4 0h0m19.8 0h0m-260.7 1.9h0m28.6 0h0m24.2 0h0m57.2 0h0m2.2 0h0m37.4 0h0m28.6 0h0m28.6 0h0m30.8 0h0m2.2 0h0m22 0h0m-260.7 1.9h0m17.6 0h0m11 0h0m59.4 0h0m59.4 0h0m17.6 0h0m2.2 0h0m2.2 0h0m11 0h0m19.8 0h0m37.4 0h0m-223.3 1.9h0m39.6 0h0m127.6 0h0m19.8 0h0m2.2 0h0m33 0h0m-238.7 1.9h0m2.2 0h0m88 0h0m24.2 0h0m35.2 0h0m15.4 0h0m41.8 0h0m30.8 0h0m26.4 0h0m-262.9 1.9h0m37.4 0h0m19.8 0h0m57.2 0h0m48.4 0h0m24.2 0h0m15.4 0h0m2.2 0h0m2.2 0h0m30.8 0h0m28.6 0h0m-227.7 1.9h0m2.2 0h0m19.8 0h0m28.6 0h0m26.4 0h0m72.6 0h0m8.8 0h0m8.8 0h0m-203.5 1.9h0m11 0h0m28.6 0h0m4.4 0h0m6.6 0h0m110 0h0m30.8 0h0m2.2 0h0m4.4 0h0m2.2 0h0m2.2 0h0m6.6 0h0m-210.1 1.9h0m11 0h0m33 0h0m6.6 0h0m61.6 0h0m37.4 0h0m11 0h0m30.8 0h0m4.4 0h0m2.2 0h0m2.2 0h0m6.6 0h0m4.4 0h0m52.8 0h0m-265.1 1.9h0m13.2 0h0m30.8 0h0m2.2 0h0m13.2 0h0m2.2 0h0m2.2 0h0m96.8 0h0m2.2 0h0m33 0h0m8.8 0h0m6.6 0h0m50.6 0h0m-260.7 1.9h0m52.8 0h0m99 0h0m8.8 0h0m46.2 0h0m-205.7 2h0m52.8 0h0m55 0h0m41.8 0h0m50.6 0h0m41.8 0h0m17.6 0h0m-258.5 1.9h0m2.2 0h0m4.4 0h0m55 0h0m33 0h0m8.8 0h0m48.4 0h0m4.4 0h0m2.2 0h0m41.8 0h0m11 0h0m30.8 0h0m15.4 0h0m-251.9 1.9h0m4.4 0h0m41.8 0h0m46.2 0h0m52.8 0h0m4.4 0h0m2.2 0h0m44 0h0m44 0h0m-240.9 1.9h0m2.2 0h0m2.2 0h0m41.8 0h0m103.4 0h0m46.2 0h0m-201.3 1.9h0m66 0h0m81.4 0h0m2.2 0h0m63.8 0h0m-212.3 1.9h0m13.2 0h0m200.2 0h0m-148.5 1.9h0m81.4 0h0m17.6 0h0m48.4 0h0m-161.7 1.9h0m114.4 0h0m-100.1 1.9h0m101.2 0h0m33 0h0m-133.1 1.9h0m77 0h0m55 0h0m-203.5 1.9h0m220 0h0m-166.1 1.9h0m19.8 0h0m74.8 0h0m-124.3 1.9h0m30.8 0h0m17.6 0h0m101.2 0h0m-174.9 1.9h0m74.8 0h0m74.8 0h0m-148.5 1.9h0m74.8 0h0m99 0h0m28.6 0h0m-203.5 1.9h0m2.2 0h0m202.4 0h0m-201.3 1.9h0m112.2 0h0m4.4 0h0m2.2 0h0m147.4 0h0m4.4 0h0m-269.5 1.9h0m68.2 0h0m2.2 0h0m41.8 0h0m4.4 0h0m4.4 0h0m2.2 0h0m24.2 0h0m19.8 0h0m33 0h0m59.4 0h0m2.2 0h0m2.2 0h0m4.4 0h0m2.2 0h0m-269.5 1.9h0m2.2 0h0m66 0h0m46.2 0h0m2.2 0h0m2.2 0h0m2.2 0h0m26.4 0h0m2.2 0h0m110 0h0m2.2 0h0m6.6 0h0m-267.3 2h0m2.2 0h0m6.6 0h0m4.4 0h0m52.8 0h0m46.2 0h0m44 0h0m57.2 0h0m52.8 0h0m-254.1 1.9h0m2.2 0h0m138.6 0h0m2.2 0h0m2.2 0h0m105.6 0h0m-212.3 1.9h0m105.6 0h0m44 0h0m61.6 0h0m2.2 0h0m-212.3 1.9h0m9.9 1.9h0m-53.9 1.9h0m4.4 0h0m4.4 0h0m4.4 0h0m39.6 0h0m96.8 0h0m13.2 0h0m39.6 0h0m-203.5 1.9h0m2.2 0h0m6.6 0h0m8.8 0h0m2.2 0h0m24.2 0h0m103.4 0h0m4.4 0h0m15.4 0h0m2.2 0h0m2.2 0h0m22 0h0m8.8 0h0m-201.3 1.9h0m26.4 0h0m15.4 0h0m2.2 0h0m2.2 0h0m4.4 0h0m123.2 0h0m4.4 0h0m22 0h0m-155.1 1.9h0m2.2 0h0m2.2 0h0m96.8 0h0m37.4 0h0m4.4 0h0m-194.7 1.9h0m44 0h0m6.6 0h0m147.4 0h0m-199.1 1.9h0m2.2 0h0m50.6 0h0m145.2 0h0m4.4 0h0m2.2 0h0m-205.7 1.9h0m48.4 0h0m4.4 0h0m2.2 0h0m94.6 0h0m-148.5 1.9h0m52.8 0h0m94.6 0h0m2.2 0h0m48.4 0h0m4.4 0h0m-3.3 1.9h0m-201.3 1.9h0m55 0h0m37.4 0h0m11 0h0m4.4 0h0m41.8 0h0m92.4 0h0m2.2 0h0m6.6 0h0m2.2 0h0m2.2 0h0m2.2 0h0m-205.7 1.9h0m2.2 0h0m37.4 0h0m15.4 0h0m94.6 0h0m39.6 0h0m15.4 0h0m-258.5 1.9h0m2.2 0h0m22 0h0m30.8 0h0m35.2 0h0m59.4 0h0m24.2 0h0m4.4 0h0m2.2 0h0m24.2 0h0m59.4 0h0m-232.1 1.9h0m2.2 0h0m22 0h0m57.2 0h0m2.2 0h0m55 0h0m92.4 0h0m2.2 0h0m-229.9 1.9h0m17.6 0h0m61.6 0h0m2.2 0h0m50.6 0h0m17.6 0h0m17.6 0h0m4.4 0h0m2.2 0h0m57.2 0h0m-265.1 2h0m35.2 0h0m2.2 0h0m15.4 0h0m61.6 0h0m35.2 0h0m35.2 0h0m15.4 0h0m2.2 0h0m35.2 0h0m-223.3 1.9h0m35.2 0h0m2.2 0h0m4.4 0h0m2.2 0h0m92.4 0h0m13.2 0h0m24.2 0h0m74.8 0h0m-260.7 1.9h0m46.2 0h0m2.2 0h0m2.2 0h0m4.4 0h0m2.2 0h0m57.2 0h0m72.6 0h0m8.8 0h0m6.6 0h0m4.4 0h0m28.6 0h0m28.6 0h0m-223.3 1.9h0m4.4 0h0m6.6 0h0m6.6 0h0m28.6 0h0m26.4 0h0m33 0h0m2.2 0h0m13.2 0h0m28.6 0h0m4.4 0h0m2.2 0h0m4.4 0h0m4.4 0h0m2.2 0h0m28.6 0h0m26.4 0h0m-221.1 1.9h0m4.4 0h0m2.2 0h0m13.2 0h0m85.8 0h0m41.8 0h0m2.2 0h0m2.2 0h0m6.6 0h0m6.6 0h0m55 0h0m-262.9 1.9h0m11 0h0m44 0h0m6.6 0h0m143 0h0m4.4 0h0m30.8 0h0m22 0h0m-258.5 1.9h0m6.6 0h0m44 0h0m4.4 0h0m90.2 0h0m2.2 0h0m2.2 0h0m50.6 0h0m6.6 0h0m48.4 0h0m2.2 0h0m-260.7 1.9h0m2.2 0h0m6.6 0h0m2.2 0h0m41.8 0h0m2.2 0h0m6.6 0h0m46.2 0h0m44 0h0m6.6 0h0m2.2 0h0m41.8 0h0m2.2 0h0m6.6 0h0m46.2 0h0m-247.5 1.9h0m2.2 0h0m41.8 0h0m50.6 0h0m4.4 0h0m46.2 0h0m90.2 0h0m2.2 0h0m4.4 0h0m-249.7 1.9h0m6.6 0h0m2.2 0h0m55 0h0m33 0h0m2.2 0h0m50.6 0h0m2.2 0h0m6.6 0h0m52.8 0h0m37.4 0h0m2.2 0h0m2.2 0h0m2.2 0h0m-254.1 1.9h0m2.2 0h0m6.6 0h0m41.8 0h0m105.6 0h0m2.2 0h0m-148.5 1.9h0m39.6 0h0m13.2 0h0m99 0h0m-163.9 1.9h0m15.4 0h0m132 0h0m2.2 0h0m50.6 0h0m-201.3 1.9h0m17.6 0h0m48.4 0h0m101.2 0h0m48.4 0h0m-148.5 1.9h0m-69.3 1.9h0m55 0h0m15.4 0h0m147.4 0h0m-194.7 1.9h0m123.2 0h0m2.2 0h0m24.2 0h0m46.2 0h0m2.2 0h0m-223.3 1.9h0m74.8 0h0m129.8 0h0m17.6 0h0m-221.1 1.9h0m24.2 0h0m48.4 0h0m2.2 0h0m147.4 0h0m-168.3 2h0m22 0h0m127.6 0h0m-203.5 1.9h0m74.8 0h0m74.8 0h0m-148.5 1.9h0m222.2 0h0m-199.1 1.9h0m244.2 0h0m2.2 0h0m2.2 0h0m-271.7 1.9h0m2.2 0h0m70.4 0h0m41.8 0h0m2.2 0h0m2.2 0h0m2.2 0h0m81.4 0h0m68.2 0h0m-148.5 1.9h0m2.2 0h0m44 0h0m96.8 0h0m4.4 0h0"/><path stroke="#afff48" d="M395.5 248.2h0m68.2 0h0m79.2 0h0m22 0h0m48.4 0h0m-166.1 1.9h0m149.6 0h0m15.4 0h0m-214.5 1.9h0m116.6 0h0m30.8 0h0m15.4 0h0m50.6 0h0m48.4 0h0m2.2 0h0m2.2 0h0m-265.1 1.9h0m2.2 0h0m107.8 0h0m2.2 0h0m2.2 0h0m44 0h0m2.2 0h0m50.6 0h0m52.8 0h0m-260.7 1.9h0m2.2 0h0m4.4 0h0m52.8 0h0m92.4 0h0m57.2 0h0m-150.7 1.9h0m-9.9 1.9h0m147.4 0h0m1.1 1.9h0m8.8 0h0m-157.3 1.9h0m6.6 0h0m-38.5 1.9h0m33 0h0m4.4 0h0m-45.1 2h0m2.2 0h0m145.2 0h0m4.4 0h0m11 0h0m4.4 0h0m24.2 0h0m-201.3 1.9h0m2.2 0h0m2.2 0h0m28.6 0h0m15.4 0h0m134.2 0h0m17.6 0h0m-155.1 1.9h0m143 0h0m-144.1 1.9h0m4.4 0h0m2.2 0h0m96.8 0h0m46.2 0h0m2.2 0h0m2.2 0h0m-152.9 1.9h0m2.2 0h0m99 0h0m-148.5 1.9h0m48.4 0h0m99 0h0m2.2 0h0m-150.7 1.9h0m149.6 0h0m-97.9 1.9h0m46.2 0h0m2.2 0h0m48.4 0h0m50.6 0h0m52.8 0h0m-251.9 1.9h0m103.4 0h0m44 0h0m2.2 0h0m50.6 0h0m39.6 0h0m8.8 0h0m2.2 0h0m2.2 0h0m2.2 0h0m-234.3 1.9h0m2.2 0h0m4.4 0h0m24.2 0h0m37.4 0h0m15.4 0h0m59.4 0h0m2.2 0h0m4.4 0h0m2.2 0h0m24.2 0h0m57.2 0h0m2.2 0h0m-238.7 1.9h0m13.2 0h0m19.8 0h0m59.4 0h0m37.4 0h0m33 0h0m77 0h0m-260.7 1.9h0m17.6 0h0m17.6 0h0m15.4 0h0m2.2 0h0m59.4 0h0m37.4 0h0m2.2 0h0m13.2 0h0m19.8 0h0m15.4 0h0m61.6 0h0m-247.5 1.9h0m22 0h0m114.4 0h0m48.4 0h0m4.4 0h0m57.2 0h0m-258.5 1.9h0m37.4 0h0m8.8 0h0m2.2 0h0m2.2 0h0m99 0h0m46.2 0h0m2.2 0h0m61.6 0h0m-260.7 1.9h0m11 0h0m2.2 0h0m30.8 0h0m6.6 0h0m2.2 0h0m59.4 0h0m48.4 0h0m30.8 0h0m70.4 0h0m-172.7 1.9h0m107.8 0h0m8.8 0h0m2.2 0h0m52.8 0h0m-258.5 1.9h0m52.8 0h0m4.4 0h0m30.8 0h0m68.2 0h0m35.2 0h0m68.2 0h0m-260.7 1.9h0m8.8 0h0m101.2 0h0m39.6 0h0m55 0h0m2.2 0h0m-205.7 1.9h0m2.2 0h0m4.4 0h0m46.2 0h0m2.2 0h0m4.4 0h0m48.4 0h0m2.2 0h0m37.4 0h0m4.4 0h0m4.4 0h0m44 0h0m6.6 0h0m2.2 0h0m30.8 0h0m17.6 0h0m-249.7 2h0m52.8 0h0m30.8 0h0m13.2 0h0m46.2 0h0m2.2 0h0m2.2 0h0m2.2 0h0m44 0h0m6.6 0h0m2.2 0h0m44 0h0m-201.3 1.9h0m4.4 0h0m2.2 0h0m37.4 0h0m4.4 0h0m48.4 0h0m4.4 0h0m48.4 0h0m50.6 0h0m-251.9 1.9h0m2.2 0h0m50.6 0h0m6.6 0h0m2.2 0h0m37.4 0h0m52.8 0h0m50.6 0h0m8.8 0h0m-159.5 1.9h0m-47.3 1.9h0m2.2 0h0m44 0h0m8.8 0h0m140.8 0h0m-199.1 1.9h0m61.6 0h0m85.8 0h0m50.6 0h0m11 0h0m-212.3 1.9h0m15.4 0h0m48.4 0h0m138.6 0h0m-205.7 1.9h0m68.2 0h0m81.4 0h0m66 0h0m2.2 0h0m-161.7 1.9h0m92.4 0h0m68.2 0h0m2.2 0h0m-218.9 1.9h0m55 0h0m149.6 0h0m13.2 0h0m-163.9 1.9h0m94.6 0h0m55 0h0m-205.7 1.9h0m2.2 0h0m70.4 0h0m149.6 0h0m-71.5 1.9h0m72.6 0h0m-168.3 1.9h0m149.6 0h0m17.6 0h0m2.2 0h0m-1.1 1.9h0m-150.7 1.9h0m2.2 0h0m77 0h0m22 0h0m-150.7 1.9h0m50.6 0h0m147.4 0h0m-199.1 1.9h0m35.2 0h0m66 0h0m99 0h0m-150.7 1.9h0m96.8 0h0m37.4 0h0m63.8 0h0m2.2 0h0m-214.5 2h0m59.4 0h0m4.4 0h0m2.2 0h0m37.4 0h0m4.4 0h0m41.8 0h0m59.4 0h0m4.4 0h0m-201.3 1.9h0m149.6 0h0m-150.7 1.9h0m1.1 1.9h0m138.6 0h0m-148.5 1.9h0m-1.1 1.9h0m2.2 0h0m4.4 0h0m143 0h0m6.6 0h0m-196.9 1.9h0m2.2 0h0m4.4 0h0m4.4 0h0m6.6 0h0m24.2 0h0m4.4 0h0m99 0h0m4.4 0h0m2.2 0h0m4.4 0h0m2.2 0h0m2.2 0h0m-166.1 1.9h0m6.6 0h0m44 0h0m99 0h0m22 0h0m6.6 0h0m19.8 0h0m-199.1 1.9h0m33 0h0m4.4 0h0m110 0h0m4.4 0h0m46.2 0h0m2.2 0h0m-201.3 1.9h0m44 0h0m103.4 0h0m2.2 0h0m39.6 0h0m2.2 0h0m6.6 0h0m-155.1 1.9h0m4.4 0h0m145.2 0h0m-146.3 1.9h0m101.2 0h0m46.2 0h0m2.2 0h0m-150.7 1.9h0m2.2 0h0m-51.7 1.9h0m50.6 0h0m2.2 0h0m96.8 0h0m-148.5 1.9h0m48.4 0h0m2.2 0h0m41.8 0h0m2.2 0h0m2.2 0h0m103.4 0h0m44 0h0m-245.3 1.9h0m103.4 0h0m46.2 0h0m88 0h0m15.4 0h0m4.4 0h0m-256.3 1.9h0m15.4 0h0m6.6 0h0m4.4 0h0m2.2 0h0m2.2 0h0m134.2 0h0m2.2 0h0m30.8 0h0m37.4 0h0m2.2 0h0m17.6 0h0m2.2 0h0m-258.5 1.9h0m13.2 0h0m2.2 0h0m17.6 0h0m15.4 0h0m2.2 0h0m37.4 0h0m59.4 0h0m17.6 0h0m15.4 0h0m2.2 0h0m17.6 0h0m57.2 0h0m-205.7 1.9h0m94.6 0h0m15.4 0h0m39.6 0h0m35.2 0h0m22 0h0m2.2 0h0m-260.7 2h0m13.2 0h0m147.4 0h0m35.2 0h0m6.6 0h0m57.2 0h0m-207.9 1.9h0m145.2 0h0m2.2 0h0m2.2 0h0m-203.5 1.9h0m13.2 0h0m26.4 0h0m2.2 0h0m13.2 0h0m59.4 0h0m35.2 0h0m2.2 0h0m11 0h0m30.8 0h0m6.6 0h0m63.8 0h0m-262.9 1.9h0m11 0h0m28.6 0h0m4.4 0h0m68.2 0h0m39.6 0h0m37.4 0h0m4.4 0h0m11 0h0m57.2 0h0m-260.7 1.9h0m8.8 0h0m48.4 0h0m2.2 0h0m50.6 0h0m39.6 0h0m52.8 0h0m2.2 0h0m33 0h0m-232.1 1.9h0m50.6 0h0m2.2 0h0m50.6 0h0m39.6 0h0m2.2 0h0m8.8 0h0m46.2 0h0m-199.1 1.9h0m48.4 0h0m4.4 0h0m96.8 0h0m50.6 0h0m48.4 0h0m-251.9 1.9h0m2.2 0h0m50.6 0h0m37.4 0h0m15.4 0h0m134.2 0h0m11 0h0m-251.9 1.9h0m2.2 0h0m2.2 0h0m48.4 0h0m8.8 0h0m33 0h0m8.8 0h0m46.2 0h0m50.6 0h0m2.2 0h0m6.6 0h0m41.8 0h0m-249.7 1.9h0m2.2 0h0m149.6 0h0m-91.3 1.9h0m90.2 0h0m2.2 0h0m46.2 0h0m11 0h0m-199.1 1.9h0m48.4 0h0m85.8 0h0m2.2 0h0m50.6 0h0m11 0h0m-159.5 1.9h0m110 0h0m50.6 0h0m-64.9 1.9h0m15.4 0h0m-146.3 1.9h0m35.2 0h0m94.6 0h0m19.8 0h0m35.2 0h0m11 0h0m-194.7 1.9h0m46.2 0h0m136.4 0h0m-1.1 1.9h0m-133.1 1.9h0m77 0h0m24.2 0h0m-117.7 1.9h0m117.7 2h0m-117.7 1.9h0m167.2 0h0m-199.1 1.9h0m50.6 0h0m99 0h0m30.8 0h0m-148.5 1.9h0m116.6 0h0m-148.5 1.9h0m-18.7 1.9h0m15.4 0h0m96.8 0h0m2.2 0h0m2.2 0h0m33 0h0m50.6 0h0m15.4 0h0m48.4 0h0m4.4 0h0"/><path stroke="#c3ff33" d="M562.7 248.2h0m-166.1 1.9h0m66 0h0m99 0h0m-100.1 1.9h0m85.8 0h0m11 0h0m-155.1 1.9h0m2.2 0h0m2.2 0h0m143 0h0m2.2 0h0m2.2 0h0m53.9 1.9h0m-9.9 1.9h0m1.1 1.9h0m6.6 0h0m-5.5 1.9h0m-1.1 1.9h0m6.6 0h0m-152.9 1.9h0m145.2 0h0m2.2 0h0m2.2 0h0m2.2 0h0m-190.3 2h0m2.2 0h0m4.4 0h0m2.2 0h0m2.2 0h0m28.6 0h0m105.6 0h0m4.4 0h0m4.4 0h0m2.2 0h0m-163.9 1.9h0m22 0h0m125.4 0h0m2.2 0h0m19.8 0h0m4.4 0h0m-179.3 1.9h0m4.4 0h0m180.4 0h0m-185.9 1.9h0m39.6 0h0m149.6 0h0m-148.5 1.9h0m2.2 0h0m149.6 0h0m-150.7 1.9h0m2.2 0h0m147.4 0h0m2.2 0h0m-148.5 1.9h0m147.4 0h0m-150.7 1.9h0m2.2 0h0m103.4 0h0m46.2 0h0m-172.7 1.9h0m68.2 0h0m4.4 0h0m2.2 0h0m2.2 0h0m94.6 0h0m2.2 0h0m-199.1 1.9h0m17.6 0h0m2.2 0h0m11 0h0m15.4 0h0m2.2 0h0m101.2 0h0m13.2 0h0m6.6 0h0m26.4 0h0m44 0h0m2.2 0h0m-207.9 1.9h0m15.4 0h0m59.4 0h0m52.8 0h0m77 0h0m-238.7 1.9h0m11 0h0m24.2 0h0m52.8 0h0m19.8 0h0m52.8 0h0m77 0h0m19.8 0h0m-256.3 1.9h0m48.4 0h0m59.4 0h0m74.8 0h0m2.2 0h0m-75.9 1.9h0m79.2 0h0m4.4 0h0m-192.5 1.9h0m44 0h0m2.2 0h0m101.2 0h0m2.2 0h0m6.6 0h0m30.8 0h0m4.4 0h0m4.4 0h0m39.6 0h0m22 0h0m-249.7 1.9h0m33 0h0m68.2 0h0m39.6 0h0m39.6 0h0m48.4 0h0m-234.3 1.9h0m147.4 0h0m2.2 0h0m2.2 0h0m-152.9 1.9h0m4.4 0h0m101.2 0h0m44 0h0m4.4 0h0m-97.9 1.9h0m33 0h0m63.8 0h0m48.4 0h0m-201.3 2h0m2.2 0h0m2.2 0h0m48.4 0h0m2.2 0h0m46.2 0h0m101.2 0h0m39.6 0h0m-238.7 1.9h0m50.6 0h0m44 0h0m107.8 0h0m2.2 0h0m35.2 0h0m2.2 0h0m4.4 0h0m-192.5 1.9h0m147.4 0h0m4.4 0h0m-148.5 1.9h0m90.2 0h0m4.4 0h0m46.2 0h0m2.2 0h0m6.6 0h0m-210.1 1.9h0m2.2 0h0m6.6 0h0m52.8 0h0m88 0h0m2.2 0h0m2.2 0h0m2.2 0h0m-104.5 1.9h0m2.2 0h0m6.6 0h0m96.8 0h0m2.2 0h0m-108.9 1.9h0m96.8 0h0m13.2 0h0m-163.9 1.9h0m202.4 0h0m2.2 0h0m-139.7 1.9h0m-45.1 1.9h0m46.2 0h0m81.4 0h0m-126.5 1.9h0m147.4 0h0m-148.5 1.9h0m-23.1 1.9h0m70.4 0h0m134.2 0h0m-203.5 1.9h0m55 0h0m116.6 0h0m-117.7 1.9h0m17.6 0h0m77 0h0m2.2 0h0m52.8 0h0m-181.5 1.9h0m33 0h0m165 0h0m-166.1 1.9h0m96.8 0h0m-146.3 1.9h0m147.4 0h0m2.2 0h0m13.2 0h0m50.6 0h0m-210.1 1.9h0m11 0h0m136.4 0h0m4.4 0h0m4.4 0h0m-155.1 2h0m2.2 0h0m4.4 0h0m52.8 0h0m96.8 0h0m-108.9 1.9h0m1.1 1.9h0m158.4 0h0m-156.2 3.8h0m4.4 0h0m143 0h0m6.6 0h0m-3.3 1.9h0m-185.9 1.9h0m39.6 0h0m105.6 0h0m37.4 0h0m2.2 0h0m-194.7 1.9h0m11 0h0m8.8 0h0m2.2 0h0m125.4 0h0m2.2 0h0m8.8 0h0m4.4 0h0m6.6 0h0m26.4 0h0m-199.1 1.9h0m2.2 0h0m26.4 0h0m4.4 0h0m145.2 0h0m2.2 0h0m-181.5 1.9h0m37.4 0h0m-38.5 1.9h0m37.4 0h0m2.2 0h0m149.6 0h0m-192.5 1.9h0m44 0h0m149.6 0h0m-192.5 1.9h0m44 0h0m-1.1 1.9h0m2.2 0h0m149.6 0h0m-150.7 1.9h0m52.8 0h0m99 0h0m48.4 0h0m-225.5 1.9h0m4.4 0h0m2.2 0h0m19.8 0h0m44 0h0m6.6 0h0m63.8 0h0m4.4 0h0m2.2 0h0m6.6 0h0m70.4 0h0m4.4 0h0m-232.1 1.9h0m30.8 0h0m39.6 0h0m2.2 0h0m15.4 0h0m41.8 0h0m15.4 0h0m15.4 0h0m2.2 0h0m15.4 0h0m-161.7 1.9h0m127.6 0h0m35.2 0h0m39.6 0h0m-238.7 1.9h0m35.2 0h0m2.2 0h0m50.6 0h0m61.6 0h0m35.2 0h0m13.2 0h0m-185.9 2h0m26.4 0h0m8.8 0h0m2.2 0h0m61.6 0h0m-111.1 1.9h0m11 0h0m26.4 0h0m6.6 0h0m2.2 0h0m41.8 0h0m24.2 0h0m39.6 0h0m8.8 0h0m28.6 0h0m6.6 0h0m41.8 0h0m22 0h0m-216.7 1.9h0m2.2 0h0m44 0h0m22 0h0m79.2 0h0m4.4 0h0m66 0h0m-100.1 1.9h0m99 0h0m-256.3 1.9h0m154 0h0m2.2 0h0m101.2 0h0m-258.5 1.9h0m2.2 0h0m4.4 0h0m145.2 0h0m2.2 0h0m2.2 0h0m101.2 0h0m-254.1 1.9h0m103.4 0h0m96.8 0h0m37.4 0h0m-183.7 1.9h0m37.4 0h0m4.4 0h0m2.2 0h0m2.2 0h0m48.4 0h0m2.2 0h0m50.6 0h0m2.2 0h0m41.8 0h0m-190.3 1.9h0m2.2 0h0m37.4 0h0m2.2 0h0m147.4 0h0m-194.7 1.9h0m6.6 0h0m2.2 0h0m140.8 0h0m2.2 0h0m4.4 0h0m-203.5 1.9h0m2.2 0h0m46.2 0h0m4.4 0h0m147.4 0h0m-203.5 1.9h0m4.4 0h0m2.2 0h0m44 0h0m107.8 0h0m-106.7 1.9h0m8.8 0h0m88 0h0m50.6 0h0m-188.1 1.9h0m187 0h0m11 0h0m-214.5 1.9h0m66 0h0m82.5 1.9h0m-80.3 1.9h0m-69.3 1.9h0m22 0h0m33 0h0m162.8 0h0m-148.5 1.9h0m-69.3 2h0m220 0h0m-218.9 1.9h0m70.4 0h0m99 0h0m48.4 0h0m-148.5 1.9h0m149.6 0h0m-218.9 1.9h0m19.8 0h0m50.6 0h0m79.2 0h0m52.8 0h0m-199.1 1.9h0m15.4 0h0m50.6 0h0m81.4 0h0m17.6 0h0m-163.9 1.9h0m50.6 0h0m13.2 0h0m85.8 0h0"/><path stroke="#d8ff1f" d="M413.1 248.2h0m35.2 0h0m-49.5 1.9h0m13.2 0h0m134.2 0h0m2.2 0h0m-148.5 1.9h0m2.2 0h0m8.8 0h0m138.6 0h0m48.4 0h0m-148.5 1.9h0m11 0h0m138.6 0h0m-148.5 1.9h0m8.8 0h0m-7.7 1.9h0m7.7 1.9h0m-7.7 1.9h0m6.6 0h0m-5.5 1.9h0m149.6 0h0m2.2 0h0m-184.8 3.9h0m147.4 0h0m-155.1 1.9h0m11 0h0m4.4 0h0m4.4 0h0m127.6 0h0m2.2 0h0m13.2 0h0m4.4 0h0m-174.9 1.9h0m33 0h0m114.4 0h0m2.2 0h0m30.8 0h0m-181.5 1.9h0m33 0h0m114.4 0h0m37.4 0h0m-188.1 1.9h0m2.2 0h0m147.4 0h0m41.8 0h0m-1.1 1.9h0m-146.3 1.9h0m105.6 0h0m41.8 0h0m-192.5 1.9h0m2.2 0h0m191.4 0h0m-192.5 1.9h0m11 0h0m33 0h0m48.4 0h0m72.6 0h0m2.2 0h0m72.6 0h0m2.2 0h0m2.2 0h0m-245.3 1.9h0m2.2 0h0m8.8 0h0m2.2 0h0m77 0h0m2.2 0h0m8.8 0h0m74.8 0h0m74.8 0h0m-251.9 1.9h0m2.2 0h0m11 0h0m33 0h0m41.8 0h0m2.2 0h0m15.4 0h0m90.2 0h0m59.4 0h0m-254.1 1.9h0m35.2 0h0m158.4 0h0m59.4 0h0m-251.9 1.9h0m6.6 0h0m26.4 0h0m2.2 0h0m8.8 0h0m103.4 0h0m6.6 0h0m2.2 0h0m35.2 0h0m41.8 0h0m-232.1 1.9h0m6.6 0h0m145.2 0h0m2.2 0h0m-155.1 1.9h0m37.4 0h0m112.2 0h0m-150.7 1.9h0m149.6 0h0m6.6 0h0m-152.9 1.9h0m103.4 0h0m129.8 0h0m17.6 0h0m2.2 0h0m-254.1 1.9h0m85.8 0h0m63.8 0h0m85.8 0h0m17.6 0h0m-251.9 1.9h0m101.2 0h0m149.6 0h0m-196.9 2h0m35.2 0h0m2.2 0h0m4.4 0h0m105.6 0h0m41.8 0h0m4.4 0h0m-47.3 1.9h0m44 0h0m-192.5 1.9h0m151.8 0h0m-152.9 1.9h0m4.4 0h0m147.4 0h0m2.2 0h0m-155.1 1.9h0m2.2 0h0m147.4 0h0m4.4 0h0m2.2 0h0m-203.5 1.9h0m2.2 0h0m2.2 0h0m140.8 0h0m50.6 0h0m2.2 0h0m-192.5 1.9h0m41.8 0h0m4.4 0h0m2.2 0h0m90.2 0h0m59.4 0h0m-210.1 1.9h0m13.2 0h0m2.2 0h0m37.4 0h0m94.6 0h0m15.4 0h0m-166.1 1.9h0m19.8 0h0m129.8 0h0m55 0h0m-203.5 1.9h0m213.4 0h0m-214.5 1.9h0m68.2 0h0m147.4 0h0m-161.7 1.9h0m116.6 0h0m33 0h0m13.2 0h0m1.1 1.9h0m-148.5 1.9h0m79.2 0h0m55 0h0m-203.5 1.9h0m19.8 0h0m48.4 0h0m100.1 1.9h0m35.2 0h0m13.2 0h0m-214.5 1.9h0m15.4 0h0m37.4 0h0m13.2 0h0m83.6 0h0m15.4 0h0m35.2 0h0m-196.9 1.9h0m61.6 0h0m96.8 0h0m39.6 0h0m-194.7 1.9h0m2.2 0h0m2.2 0h0m2.2 0h0m39.6 0h0m101.2 0h0m4.4 0h0m55 0h0m-9.9 2h0m8.8 0h0m-157.3 1.9h0m147.4 0h0m2.2 0h0m6.6 0h0m-7.7 1.9h0m-148.5 1.9h0m4.4 0h0m2.2 0h0m149.6 0h0m-5.5 1.9h0m-148.5 1.9h0m147.4 0h0m-148.5 1.9h0m151.8 0h0m-192.5 1.9h0m2.2 0h0m2.2 0h0m4.4 0h0m2.2 0h0m2.2 0h0m134.2 0h0m4.4 0h0m4.4 0h0m4.4 0h0m-14.3 1.9h0m19.8 0h0m2.2 0h0m-174.9 1.9h0m30.8 0h0m2.2 0h0m114.4 0h0m30.8 0h0m2.2 0h0m2.2 0h0m-38.5 1.9h0m-148.5 1.9h0m40.7 1.9h0m149.6 0h0m2.2 0h0m-194.7 1.9h0m2.2 0h0m147.4 0h0m44 0h0m-45.1 1.9h0m44 0h0m2.2 0h0m-194.7 1.9h0m15.4 0h0m2.2 0h0m4.4 0h0m6.6 0h0m63.8 0h0m6.6 0h0m63.8 0h0m6.6 0h0m2.2 0h0m22 0h0m2.2 0h0m44 0h0m2.2 0h0m4.4 0h0m-238.7 1.9h0m4.4 0h0m19.8 0h0m13.2 0h0m103.4 0h0m8.8 0h0m2.2 0h0m22 0h0m11 0h0m59.4 0h0m-243.1 1.9h0m96.8 0h0m41.8 0h0m11 0h0m33 0h0m2.2 0h0m59.4 0h0m-254.1 1.9h0m6.6 0h0m2.2 0h0m2.2 0h0m35.2 0h0m61.6 0h0m41.8 0h0m8.8 0h0m26.4 0h0m2.2 0h0m-100.1 2h0m61.6 0h0m35.2 0h0m8.8 0h0m44 0h0m-236.5 1.9h0m37.4 0h0m118.8 0h0m33 0h0m2.2 0h0m-190.3 1.9h0m156.2 0h0m99 0h0m-256.3 1.9h0m107.8 0h0m-102.3 1.9h0m145.2 0h0m2.2 0h0m103.4 0h0m-166.1 1.9h0m149.6 0h0m-148.5 1.9h0m2.2 0h0m8.8 0h0m2.2 0h0m48.4 0h0m-56.1 1.9h0m154 0h0m-194.7 1.9h0m149.6 0h0m2.2 0h0m-152.9 1.9h0m2.2 0h0m3.3 1.9h0m143 0h0m6.6 0h0m-205.7 1.9h0m147.4 0h0m2.2 0h0m4.4 0h0m44 0h0m2.2 0h0m4.4 0h0m-207.9 1.9h0m2.2 0h0m4.4 0h0m4.4 0h0m44 0h0m4.4 0h0m92.4 0h0m2.2 0h0m4.4 0h0m46.2 0h0m4.4 0h0m-157.3 1.9h0m8.8 0h0m143 0h0m-150.7 1.9h0m94.6 0h0m61.6 0h0m-194.7 1.9h0m46.2 0h0m85.8 0h0m17.6 0h0m-168.3 1.9h0m55 0h0m11 0h0m138.6 0h0m-137.5 1.9h0m81.4 0h0m55 0h0m-56.1 1.9h0m55 0h0m15.4 0h0m-163.9 2h0m15.4 0h0m79.2 0h0m53.9 1.9h0m-53.9 1.9h0m19.8 0h0m-1.1 1.9h0m-113.3 1.9h0m112.2 0h0m-150.7 1.9h0m149.6 0h0m39.6 0h0m11 0h0"/><path stroke="#ecff0a" d="M545.1 248.2h0m2.2 0h0m50.6 0h0m-148.5 1.9h0m160.6 0h0m-205.7 1.9h0m2.2 0h0m2.2 0h0m143 0h0m57.2 0h0m-1.1 1.9h0m-7.7 1.9h0m-144.1 1.9h0m2.2 0h0m147.4 0h0m2.2 0h0m-155.1 1.9h0m4.4 0h0m145.2 0h0m2.2 0h0m-150.7 1.9h0m2.2 0h0m147.4 0h0m2.2 0h0m-150.7 1.9h0m-45.1 5.8h0m4.4 0h0m2.2 0h0m4.4 0h0m143 0h0m8.8 0h0m-163.9 1.9h0m22 0h0m2.2 0h0m2.2 0h0m121 0h0m2.2 0h0m22 0h0m2.2 0h0m-144.1 1.9h0m114.4 0h0m-148.5 1.9h0m147.4 0h0m37.4 0h0m-188.1 1.9h0m151.8 0h0m-152.9 1.9h0m2.2 0h0m37.4 0h0m112.2 0h0m37.4 0h0m-181.5 1.9h0m143 0h0m4.4 0h0m-148.5 1.9h0m2.2 0h0m6.6 0h0m2.2 0h0m2.2 0h0m6.6 0h0m123.2 0h0m8.8 0h0m2.2 0h0m2.2 0h0m8.8 0h0m2.2 0h0m2.2 0h0m13.2 0h0m-185.9 1.9h0m4.4 0h0m22 0h0m66 0h0m52.8 0h0m4.4 0h0m2.2 0h0m22 0h0m2.2 0h0m11 0h0m50.6 0h0m4.4 0h0m2.2 0h0m-243.1 1.9h0m2.2 0h0m2.2 0h0m24.2 0h0m8.8 0h0m105.6 0h0m8.8 0h0m24.2 0h0m8.8 0h0m59.4 0h0m2.2 0h0m-249.7 1.9h0m2.2 0h0m35.2 0h0m4.4 0h0m44 0h0m61.6 0h0m33 0h0m2.2 0h0m6.6 0h0m-150.7 1.9h0m2.2 0h0m44 0h0m63.8 0h0m2.2 0h0m33 0h0m4.4 0h0m-190.3 1.9h0m4.4 0h0m2.2 0h0m30.8 0h0m2.2 0h0m2.2 0h0m44 0h0m19.8 0h0m46.2 0h0m33 0h0m50.6 0h0m19.8 0h0m-249.7 1.9h0m81.4 0h0m19.8 0h0m-104.5 1.9h0m2.2 0h0m1.1 1.9h0m85.8 3.8h0m160.6 0h0m-7.7 2h0m4.4 0h0m-192.5 5.7h0m1.1 1.9h0m147.4 0h0m-201.3 1.9h0m52.8 0h0m2.2 0h0m94.6 0h0m2.2 0h0m52.8 0h0m-207.9 1.9h0m2.2 0h0m6.6 0h0m193.6 0h0m2.2 0h0m-146.3 1.9h0m2.2 0h0m-62.7 1.9h0m15.4 0h0m39.6 0h0m94.6 0h0m15.4 0h0m39.6 0h0m6.6 0h0m-194.7 1.9h0m37.4 0h0m112.2 0h0m37.4 0h0m-150.7 1.9h0m11 0h0m138.6 0h0m-137.5 1.9h0m81.4 0h0m-148.5 1.9h0m19.8 0h0m35.2 0h0m94.6 0h0m19.8 0h0m-168.3 1.9h0m19.8 0h0m34.1 1.9h0m114.4 0h0m48.4 0h0m-216.7 1.9h0m2.2 0h0m147.4 0h0m-146.3 1.9h0m160.6 0h0m39.6 0h0m-190.3 1.9h0m2.2 0h0m140.8 0h0m-91.3 1.9h0m138.6 0h0m-148.5 2h0m8.8 0h0m-1.1 1.9h0m-3.3 1.9h0m2.2 0h0m145.2 0h0m4.4 0h0m-5.5 1.9h0m4.4 0h0m-150.7 1.9h0m106.7 5.7h0m-152.9 1.9h0m2.2 0h0m2.2 0h0m11 0h0m4.4 0h0m2.2 0h0m125.4 0h0m19.8 0h0m-141.9 1.9h0m147.4 0h0m-29.7 1.9h0m33 0h0m2.2 0h0m2.2 0h0m-185.9 1.9h0m147.4 0h0m37.4 0h0m2.2 0h0m-185.9 1.9h0m145.2 0h0m2.2 0h0m-1.1 1.9h0m-150.7 1.9h0m4.4 0h0m2.2 0h0m2.2 0h0m17.6 0h0m15.4 0h0m107.8 0h0m4.4 0h0m4.4 0h0m2.2 0h0m4.4 0h0m2.2 0h0m-161.7 1.9h0m4.4 0h0m2.2 0h0m17.6 0h0m13.2 0h0m50.6 0h0m55 0h0m6.6 0h0m19.8 0h0m2.2 0h0m2.2 0h0m11 0h0m-188.1 1.9h0m6.6 0h0m33 0h0m50.6 0h0m8.8 0h0m48.4 0h0m2.2 0h0m85.8 0h0m-238.7 1.9h0m4.4 0h0m2.2 0h0m35.2 0h0m2.2 0h0m44 0h0m15.4 0h0m48.4 0h0m2.2 0h0m2.2 0h0m26.4 0h0m2.2 0h0m66 0h0m-249.7 1.9h0m85.8 0h0m17.6 0h0m46.2 0h0m4.4 0h0m37.4 0h0m61.6 0h0m-249.7 2h0m2.2 0h0m30.8 0h0m2.2 0h0m112.2 0h0m2.2 0h0m2.2 0h0m28.6 0h0m2.2 0h0m-185.9 1.9h0m2.2 0h0m2.2 0h0m33 0h0m48.4 0h0m19.8 0h0m-104.5 1.9h0m2.2 0h0m2.2 0h0m143 0h0m4.4 0h0m81.4 0h0m-234.3 1.9h0m2.2 0h0m2.2 0h0m81.4 0h0m63.8 0h0m2.2 0h0m2.2 0h0m81.4 0h0m17.6 0h0m-251.9 1.9h0m85.8 0h0m17.6 0h0m132 0h0m-146.3 1.9h0m13.2 0h0m149.6 0h0m-5.5 1.9h0m2.2 0h0m-7.7 1.9h0m2.2 0h0m-39.6 3.8h0m-150.7 1.9h0m151.8 0h0m-152.9 1.9h0m4.4 0h0m96.8 0h0m-146.3 1.9h0m193.6 0h0m4.4 0h0m-207.9 1.9h0m2.2 0h0m52.8 0h0m94.6 0h0m52.8 0h0m4.4 0h0m2.2 0h0m-210.1 1.9h0m15.4 0h0m41.8 0h0m4.4 0h0m103.4 0h0m39.6 0h0m-205.7 1.9h0m55 0h0m2.2 0h0m156.2 0h0m-194.7 1.9h0m129.8 0h0m19.8 0h0m44 0h0m2.2 0h0m-214.5 1.9h0m167.2 0h0m-168.3 1.9h0m169.4 0h0m-148.5 2h0m182.6 0h0m-183.7 1.9h0m35.2 0h0m13.2 0h0m81.4 0h0m-148.5 1.9h0m52.8 0h0m13.2 0h0m83.6 0h0m-133.1 1.9h0m37.4 0h0m13.2 0h0m83.6 0h0m52.8 0h0m13.2 0h0m-64.9 1.9h0m50.6 0h0m13.2 0h0m-210.1 1.9h0m6.6 0h0m143 0h0m2.2 0h0m2.2 0h0m2.2 0h0"/><path stroke="#ffea00" d="M397.7 248.2h0m63.8 0h0m149.6 0h0m-210.1 1.9h0m6.6 0h0m2.2 0h0m140.8 0h0m8.8 0h0m39.6 0h0m-148.5 1.9h0m103.4 0h0m2.2 0h0m44 0h0m6.6 0h0m-155.1 1.9h0m6.6 0h0m143 0h0m-148.5 1.9h0m4.4 0h0m147.4 0h0m-3.3 1.9h0m-146.3 1.9h0m-29.7 9.6h0m140.8 0h0m2.2 0h0m2.2 0h0m-159.5 1.9h0m162.8 0h0m4.4 0h0m-172.7 1.9h0m149.6 0h0m28.6 0h0m2.2 0h0m-179.3 1.9h0m30.8 0h0m2.2 0h0m147.4 0h0m-183.7 1.9h0m35.2 0h0m2.2 0h0m110 0h0m-146.3 1.9h0m37.4 0h0m112.2 0h0m-150.7 1.9h0m11 0h0m2.2 0h0m6.6 0h0m17.6 0h0m116.6 0h0m4.4 0h0m13.2 0h0m15.4 0h0m-188.1 1.9h0m11 0h0m11 0h0m4.4 0h0m2.2 0h0m8.8 0h0m2.2 0h0m110 0h0m2.2 0h0m15.4 0h0m8.8 0h0m2.2 0h0m2.2 0h0m8.8 0h0m-159.5 1.9h0m2.2 0h0m4.4 0h0m2.2 0h0m57.2 0h0m52.8 0h0m6.6 0h0m30.8 0h0m55 0h0m-240.9 1.9h0m33 0h0m2.2 0h0m61.6 0h0m2.2 0h0m48.4 0h0m2.2 0h0m2.2 0h0m28.6 0h0m2.2 0h0m6.6 0h0m46.2 0h0m-232.1 1.9h0m30.8 0h0m4.4 0h0m114.4 0h0m30.8 0h0m2.2 0h0m48.4 0h0m13.2 0h0m-247.5 1.9h0m2.2 0h0m231 0h0m17.6 0h0m-104.5 1.9h0m39.6 0h0m-185.9 1.9h0m149.6 0h0m101.2 0h0m-166.1 1.9h0m17.6 0h0m46.2 0h0m2.2 0h0m101.2 0h0m-150.7 1.9h0m-14.3 1.9h0m149.6 0h0m13.2 0h0m-159.5 1.9h0m8.8 0h0m138.6 0h0m-144.1 2h0m108.9 9.5h0m-150.7 1.9h0m96.8 0h0m4.4 0h0m2.2 0h0m48.4 0h0m-152.9 1.9h0m94.6 0h0m2.2 0h0m57.2 0h0m-207.9 1.9h0m59.4 0h0m-5.5 1.9h0m6.6 0h0m85.8 0h0m-130.9 1.9h0m129.8 0h0m63.8 0h0m-62.7 1.9h0m17.6 0h0m37.4 0h0m8.8 0h0m-9.9 1.9h0m-137.5 1.9h0m101.2 0h0m48.4 0h0m-198 3.8h0m47.3 1.9h0m88 0h0m61.6 0h0m-207.9 1.9h0m2.2 0h0m55 0h0m90.2 0h0m4.4 0h0m46.2 0h0m8.8 0h0m-154 3.9h0m147.4 0h0m4.4 0h0m-150.7 1.9h0m147.4 0h0m2.2 0h0m-152.9 1.9h0m151.8 0h0m-150.7 1.9h0m149.6 0h0m1.1 1.9h0m-189.2 7.6h0m2.2 0h0m8.8 0h0m134.2 0h0m2.2 0h0m2.2 0h0m2.2 0h0m2.2 0h0m2.2 0h0m2.2 0h0m-166.1 1.9h0m24.2 0h0m123.2 0h0m-150.7 1.9h0m2.2 0h0m30.8 0h0m121 0h0m-152.9 1.9h0m35.2 0h0m145.2 0h0m-183.7 1.9h0m184.8 0h0m-183.7 1.9h0m2.2 0h0m2.2 0h0m2.2 0h0m30.8 0h0m112.2 0h0m-141.9 1.9h0m6.6 0h0m2.2 0h0m2.2 0h0m2.2 0h0m4.4 0h0m11 0h0m116.6 0h0m6.6 0h0m8.8 0h0m2.2 0h0m2.2 0h0m2.2 0h0m8.8 0h0m2.2 0h0m-188.1 1.9h0m6.6 0h0m24.2 0h0m8.8 0h0m110 0h0m2.2 0h0m4.4 0h0m24.2 0h0m6.6 0h0m-188.1 1.9h0m35.2 0h0m4.4 0h0m50.6 0h0m4.4 0h0m2.2 0h0m2.2 0h0m55 0h0m28.6 0h0m2.2 0h0m2.2 0h0m2.2 0h0m50.6 0h0m8.8 0h0m-247.5 1.9h0m33 0h0m66 0h0m48.4 0h0m88 0h0m-234.3 1.9h0m33 0h0m6.6 0h0m46.2 0h0m63.8 0h0m37.4 0h0m46.2 0h0m-236.5 2h0m41.8 0h0m46.2 0h0m15.4 0h0m2.2 0h0m44 0h0m39.6 0h0m66 0h0m-150.7 1.9h0m46.2 0h0m85.8 0h0m-130.9 1.9h0m46.2 0h0m-48.4 3.8h0m149.6 0h0m-1.1 1.9h0m-157.3 1.9h0m147.4 0h0m4.4 0h0m-190.3 9.5h0m149.6 0h0m-201.3 1.9h0m52.8 0h0m99 0h0m-152.9 1.9h0m4.4 0h0m2.2 0h0m46.2 0h0m2.2 0h0m92.4 0h0m2.2 0h0m6.6 0h0m-159.5 1.9h0m204.6 0h0m2.2 0h0m-207.9 1.9h0m149.6 0h0m52.8 0h0m2.2 0h0m4.4 0h0m-210.1 1.9h0m55 0h0m6.6 0h0m103.4 0h0m44 0h0m-155.1 1.9h0m94.6 0h0m55 0h0m8.8 0h0m-159.5 1.9h0m94.6 0h0m66 0h0m-214.5 2h0m149.6 0h0m17.6 0h0m48.4 0h0m-214.5 1.9h0m213.4 0h0m-12.1 1.9h0m13.2 0h0m-214.5 1.9h0m14.3 1.9h0m48.4 0h0m2.2 0h0m-58.3 1.9h0m57.2 0h0m147.4 0h0"/><path stroke="#ffd200" d="M399.9 248.2h0m11 0h0m149.6 0h0m-155.1 1.9h0m46.2 0h0m8.8 0h0m96.8 0h0m44 0h0m-148.5 1.9h0m4.4 0h0m2.2 0h0m-5.5 1.9h0m151.8 0h0m-150.7 1.9h0m147.4 0h0m4.4 0h0m-152.9 1.9h0m149.6 0h0m-184.8 11.5h0m-3.3 1.9h0m4.4 0h0m6.6 0h0m2.2 0h0m132 0h0m6.6 0h0m-159.5 1.9h0m24.2 0h0m2.2 0h0m125.4 0h0m-5.5 1.9h0m2.2 0h0m-150.7 1.9h0m4.4 0h0m24.2 0h0m2.2 0h0m149.6 0h0m2.2 0h0m-179.3 1.9h0m28.6 0h0m118.8 0h0m4.4 0h0m-155.1 1.9h0m4.4 0h0m2.2 0h0m8.8 0h0m4.4 0h0m2.2 0h0m2.2 0h0m2.2 0h0m4.4 0h0m2.2 0h0m114.4 0h0m6.6 0h0m4.4 0h0m2.2 0h0m4.4 0h0m8.8 0h0m8.8 0h0m-183.7 1.9h0m30.8 0h0m2.2 0h0m118.8 0h0m-150.7 1.9h0m88 0h0m88 0h0m2.2 0h0m2.2 0h0m-146.3 1.9h0m50.6 0h0m2.2 0h0m4.4 0h0m143 0h0m4.4 0h0m2.2 0h0m-157.3 1.9h0m13.2 0h0m48.4 0h0m2.2 0h0m-115.5 1.9h0m66 0h0m83.6 0h0m-100.1 1.9h0m16.5 1.9h0m148.5 1.9h0m-151.8 3.8h0m2.2 0h0m-3.3 1.9h0m147.4 0h0m2.2 0h0m-245.3 13.4h0m2.2 0h0m147.4 0h0m-150.7 1.9h0m6.6 0h0m46.2 0h0m147.4 0h0m2.2 0h0m-148.5 1.9h0m147.4 0h0m2.2 0h0m-207.9 1.9h0m57.2 0h0m147.4 0h0m2.2 0h0m2.2 0h0m-210.1 1.9h0m55 0h0m6.6 0h0m88 0h0m55 0h0m4.4 0h0m-210.1 1.9h0m55 0h0m8.8 0h0m1.1 1.9h0m149.6 0h0m-196.9 1.9h0m132 0h0m-148.5 1.9h0m149.6 0h0m15.4 0h0m37.4 0h0m11 0h0m-199.1 1.9h0m50.6 0h0m99 0h0m48.4 0h0m-1.1 1.9h0m-157.3 1.9h0m105.6 0h0m-104.5 1.9h0m2.2 0h0m4.4 0h0m143 0h0m2.2 0h0m4.4 0h0m-155.1 2h0m151.8 0h0m-150.7 1.9h0m-31.9 13.3h0m-12.1 1.9h0m147.4 0h0m2.2 0h0m19.8 0h0m-170.5 1.9h0m24.2 0h0m2.2 0h0m118.8 0h0m2.2 0h0m-146.3 1.9h0m26.4 0h0m2.2 0h0m114.4 0h0m2.2 0h0m2.2 0h0m-150.7 1.9h0m30.8 0h0m2.2 0h0m114.4 0h0m30.8 0h0m4.4 0h0m-174.9 1.9h0m22 0h0m2.2 0h0m116.6 0h0m4.4 0h0m22 0h0m4.4 0h0m2.2 0h0m2.2 0h0m-188.1 1.9h0m11 0h0m2.2 0h0m15.4 0h0m121 0h0m17.6 0h0m11 0h0m-177.1 1.9h0m33 0h0m2.2 0h0m-34.1 1.9h0m28.6 0h0m209 0h0m2.2 0h0m2.2 0h0m-210.1 1.9h0m2.2 0h0m50.6 0h0m96.8 0h0m2.2 0h0m50.6 0h0m8.8 0h0m-210.1 1.9h0m2.2 0h0m61.6 0h0m85.8 0h0m50.6 0h0m13.2 0h0m-249.7 2h0m235.4 0h0m-84.7 1.9h0m101.2 0h0m-166.1 1.9h0m16.5 1.9h0m-14.3 1.9h0m12.1 1.9h0m-5.5 1.9h0m2.2 0h0m145.2 0h0m-238.7 13.3h0m149.6 0h0m2.2 0h0m-146.3 1.9h0m46.2 0h0m92.4 0h0m11 0h0m-102.3 1.9h0m147.4 0h0m-150.7 1.9h0m2.2 0h0m145.2 0h0m-144.1 1.9h0m2.2 0h0m143 0h0m-188.1 1.9h0m46.2 0h0m138.6 0h0m-137.5 2h0m138.6 0h0m8.8 0h0m-62.7 1.9h0m52.8 0h0m-201.3 1.9h0m15.4 0h0m134.2 0h0m61.6 0h0m-148.5 1.9h0m149.6 0h0m-210.1 1.9h0m2.2 0h0m48.4 0h0m99 0h0m8.8 0h0m41.8 0h0m8.8 0h0m-203.5 1.9h0"/><path stroke="#ffbb00" d="M450.5 248.2h0m149.6 0h0m8.8 0h0m-205.7 1.9h0m149.6 0h0m2.2 0h0m52.8 0h0m-152.9 1.9h0m147.4 0h0m2.2 0h0m-148.5 1.9h0m147.4 0h0m-190.3 17.2h0m4.4 0h0m6.6 0h0m138.6 0h0m2.2 0h0m4.4 0h0m2.2 0h0m4.4 0h0m-166.1 1.9h0m17.6 0h0m2.2 0h0m127.6 0h0m19.8 0h0m4.4 0h0m-172.7 1.9h0m22 0h0m2.2 0h0m2.2 0h0m125.4 0h0m17.6 0h0m2.2 0h0m2.2 0h0m2.2 0h0m-177.1 1.9h0m24.2 0h0m123.2 0h0m4.4 0h0m24.2 0h0m-177.1 1.9h0m13.2 0h0m11 0h0m2.2 0h0m125.4 0h0m6.6 0h0m2.2 0h0m2.2 0h0m2.2 0h0m2.2 0h0m13.2 0h0m-168.3 1.9h0m15.4 0h0m134.2 0h0m4.4 0h0m4.4 0h0m4.4 0h0m2.2 0h0m2.2 0h0m-152.9 1.9h0m151.8 0h0m2.2 0h0m-150.7 1.9h0m58.3 1.9h0m92.4 0h0m-85.8 3.8h0m149.6 0h0m-148.5 1.9h0m134.2 0h0m15.4 0h0m-16.5 1.9h0m1.1 1.9h0m-148.5 1.9h0m149.6 0h0m-139.7 1.9h0m149.6 0h0m2.2 0h0m-152.9 1.9h0m145.2 0h0m2.2 0h0m-244.2 15.3h0m4.4 0h0m2.2 0h0m151.8 0h0m-104.5 1.9h0m94.6 0h0m11 0h0m-102.3 1.9h0m90.2 0h0m-93.5 1.9h0m2.2 0h0m-42.9 1.9h0m-16.5 1.9h0m53.9 1.9h0m8.8 0h0m-47.3 1.9h0m48.4 0h0m-9.9 1.9h0m96.8 0h0m52.8 0h0m-199.1 1.9h0m2.2 0h0m4.4 0h0m2.2 0h0m41.8 0h0m149.6 0h0m-194.7 1.9h0m46.2 0h0m152.9 1.9h0m-148.5 2h0m-37.4 15.2h0m-7.7 1.9h0m17.6 0h0m132 0h0m8.8 0h0m4.4 0h0m2.2 0h0m-146.3 1.9h0m149.6 0h0m2.2 0h0m-23.1 1.9h0m2.2 0h0m19.8 0h0m2.2 0h0m-174.9 1.9h0m2.2 0h0m22 0h0m2.2 0h0m121 0h0m2.2 0h0m2.2 0h0m22 0h0m-170.5 1.9h0m6.6 0h0m2.2 0h0m8.8 0h0m2.2 0h0m125.4 0h0m6.6 0h0m2.2 0h0m4.4 0h0m4.4 0h0m8.8 0h0m-150.7 1.9h0m2.2 0h0m2.2 0h0m-3.3 1.9h0m149.6 0h0m2.2 0h0m-148.5 1.9h0m52.8 3.8h0m161.7 2h0m-149.6 3.8h0m134.2 0h0m-148.5 1.9h0m149.6 0h0m13.2 0h0m-11 3.8h0m8.8 0h0m-240.9 17.1h0m3.3 1.9h0m44 0h0m105.6 0h0m-148.5 1.9h0m134.2 0h0m57.2 0h0m-205.7 1.9h0m15.4 0h0m193.6 0h0m-210.1 1.9h0m55 0h0m94.6 0h0m-133.1 2h0m37.4 0h0m111.1 1.9h0m-102.3 1.9h0m140.8 0h0m-201.3 1.9h0m11 0h0m41.8 0h0m-42.9 1.9h0m44 0h0m99 0h0m4.4 0h0m-104.5 1.9h0m6.6 0h0m143 0h0m2.2 0h0"/><path stroke="#ffa300" d="M402.1 248.2h0m50.6 0h0m6.6 0h0m90.2 0h0m2.2 0h0m6.6 0h0m-104.5 1.9h0m4.4 0h0m145.2 0h0m2.2 0h0m-183.7 21h0m-9.9 1.9h0m2.2 0h0m2.2 0h0m8.8 0h0m136.4 0h0m2.2 0h0m8.8 0h0m2.2 0h0m4.4 0h0m-168.3 1.9h0m2.2 0h0m145.2 0h0m17.6 0h0m-18.7 1.9h0m4.4 0h0m2.2 0h0m13.2 0h0m2.2 0h0m2.2 0h0m-170.5 1.9h0m2.2 0h0m11 0h0m2.2 0h0m2.2 0h0m6.6 0h0m127.6 0h0m15.4 0h0m2.2 0h0m4.4 0h0m57.2 7.6h0m-141.9 1.9h0m138.6 0h0m8.8 0h0m-159.5 1.9h0m0 3.8h0m14.3 1.9h0m-1.1 1.9h0m149.6 0h0m-159.5 1.9h0m154 0h0m-150.7 1.9h0m57.2 15.3h0m4.4 0h0m-155.1 1.9h0m8.8 0h0m147.4 0h0m3.3 1.9h0m1.1 1.9h0m41.8 0h0m-150.7 1.9h0m2.2 0h0m2.2 0h0m145.2 0h0m2.2 0h0m2.2 0h0m-155.1 1.9h0m94.6 0h0m15.4 0h0m39.6 0h0m-40.7 1.9h0m39.6 0h0m8.8 0h0m-157.3 1.9h0m96.8 0h0m11 0h0m41.8 0h0m-201.3 1.9h0m57.2 0h0m101.2 0h0m48.4 0h0m-201.3 1.9h0m48.4 0h0m4.4 0h0m92.4 0h0m2.2 0h0m4.4 0h0m48.4 0h0m-150.7 1.9h0m2.2 0h0m145.2 0h0m2.2 0h0m2.2 0h0m-150.7 1.9h0m-41.8 19.1h0m2.2 0h0m2.2 0h0m2.2 0h0m4.4 0h0m2.2 0h0m136.4 0h0m2.2 0h0m2.2 0h0m-157.3 1.9h0m15.4 0h0m2.2 0h0m132 0h0m15.4 0h0m2.2 0h0m-170.5 1.9h0m4.4 0h0m2.2 0h0m2.2 0h0m11 0h0m2.2 0h0m4.4 0h0m129.8 0h0m-146.3 1.9h0m6.6 0h0m4.4 0h0m2.2 0h0m132 0h0m13.2 0h0m-159.5 1.9h0m6.6 0h0m4.4 0h0m6.6 0h0m127.6 0h0m6.6 0h0m8.8 0h0m2.2 0h0m3.3 1.9h0m2.2 0h0m-93.5 5.7h0m2.2 0h0m2.2 0h0m2.2 0h0m143 0h0m7.7 1.9h0m-159.5 2h0m160.6 0h0m2.2 3.8h0m-13.2 3.8h0m11 0h0m-157.3 1.9h0m4.4 0h0m2.2 0h0m143 0h0m2.2 0h0m2.2 0h0m-245.3 17.1h0m149.6 0h0m6.6 0h0m-104.5 5.7h0m151.8 0h0m-150.7 1.9h0m4.4 0h0m149.6 0h0m-155.1 2h0m6.6 0h0m147.4 0h0m-194.7 1.9h0m39.6 0h0m8.8 0h0m140.8 0h0m-150.7 1.9h0m110 0h0m-102.3 1.9h0m90.2 0h0m11 0h0m48.4 0h0m-203.5 1.9h0m2.2 0h0m147.4 0h0m48.4 0h0m2.2 0h0m-150.7 1.9h0m2.2 0h0m149.6 0h0"/><path stroke="#ff8b00" d="M406.5 248.2h0m2.2 0h0m48.4 0h0m99 0h0m46.2 0h0m4.4 0h0m-150.7 1.9h0m-37.4 22.9h0m147.4 0h0m2.2 0h0m2.2 0h0m-152.9 1.9h0m4.4 0h0m2.2 0h0m4.4 0h0m138.6 0h0m4.4 0h0m2.2 0h0m-161.7 1.9h0m2.2 0h0m2.2 0h0m2.2 0h0m2.2 0h0m2.2 0h0m4.4 0h0m2.2 0h0m138.6 0h0m2.2 0h0m2.2 0h0m-157.3 1.9h0m2.2 0h0m4.4 0h0m154 0h0m6.6 0h0m-91.3 9.5h0m2.2 0h0m147.4 0h0m2.2 0h0m-152.9 1.9h0m8.8 0h0m138.6 0h0m11 0h0m-9.9 1.9h0m-137.5 1.9h0m149.6 0h0m-161.7 1.9h0m11 0h0m149.6 0h0m-159.5 1.9h0m158.4 0h0m-155.1 1.9h0m147.4 0h0m2.2 0h0m-89.1 17.2h0m-3.3 1.9h0m-139.7 1.9h0m-12.1 1.9h0m13.2 0h0m-14.3 1.9h0m14.3 1.9h0m41.8 0h0m4.4 0h0m145.2 0h0m4.4 0h0m-210.1 1.9h0m13.2 0h0m41.8 0h0m4.4 0h0m-58.3 1.9h0m59.4 0h0m147.4 0h0m2.2 0h0m-148.5 1.9h0m92.4 0h0m50.6 0h0m-146.3 1.9h0m99 0h0m48.4 0h0m-180.4 22.9h0m149.6 0h0m-159.5 1.9h0m2.2 0h0m4.4 0h0m143 0h0m11 0h0m-141.9 1.9h0m134.2 0h0m13.2 0h0m-166.1 1.9h0m8.8 0h0m145.2 0h0m2.2 0h0m4.4 0h0m4.4 0h0m2.2 0h0m-155.1 1.9h0m147.4 0h0m70.4 7.6h0m2.2 0h0m-146.3 1.9h0m140.8 0h0m6.6 0h0m-146.3 2h0m-12.1 1.9h0m13.2 0h0m149.6 0h0m-1.1 1.9h0m-148.5 1.9h0m-9.9 1.9h0m6.6 0h0m2.2 0h0m140.8 0h0m4.4 0h0m-150.7 1.9h0m-91.3 17.1h0m149.6 0h0m-152.9 1.9h0m8.8 0h0m-9.9 1.9h0m12.1 1.9h0m44 0h0m92.4 0h0m-135.3 1.9h0m44 0h0m105.6 0h0m39.6 0h0m2.2 0h0m2.2 0h0m-58.3 2h0m13.2 0h0m-161.7 1.9h0m55 0h0m4.4 0h0m149.6 0h0m-207.9 1.9h0m11 0h0m147.4 0h0m48.4 0h0m-205.7 1.9h0m6.6 0h0m46.2 0h0m96.8 0h0m2.2 0h0m2.2 0h0m2.2 0h0m44 0h0m4.4 0h0m-150.7 1.9h0m2.2 0h0m149.6 0h0"/><path stroke="#ff7400" d="M454.9 248.2h0m99 0h0m50.6 0h0m-183.7 24.8h0m2.2 0h0m-7.7 1.9h0m4.4 0h0m6.6 0h0m136.4 0h0m2.2 0h0m-139.7 1.9h0m140.8 0h0m8.8 0h0m-79.2 11.4h0m2.2 0h0m147.4 0h0m-156.2 3.8h0m160.6 0h0m-12.1 1.9h0m1.1 1.9h0m-139.7 1.9h0m140.8 0h0m2.2 0h0m4.4 0h0m-150.7 1.9h0m-92.4 19.1h0m2.2 0h0m2.2 0h0m145.2 0h0m-152.9 1.9h0m158.4 0h0m1.1 1.9h0m1.1 1.9h0m-161.7 1.9h0m57.2 0h0m149.6 0h0m-150.7 1.9h0m92.4 0h0m57.2 0h0m2.2 0h0m-196.9 1.9h0m46.2 0h0m147.4 0h0m-201.3 1.9h0m4.4 0h0m2.2 0h0m44 0h0m2.2 0h0m94.6 0h0m4.4 0h0m2.2 0h0m-138.6 26.7h0m4.4 0h0m2.2 0h0m140.8 0h0m2.2 0h0m4.4 0h0m-152.9 1.9h0m2.2 0h0m2.2 0h0m2.2 0h0m145.2 0h0m2.2 0h0m2.2 0h0m2.2 0h0m-161.7 1.9h0m4.4 0h0m6.6 0h0m138.6 0h0m6.6 0h0m-74.8 11.4h0m145.2 0h0m-150.7 2h0m146.3 1.9h0m-148.5 1.9h0m11 0h0m138.6 0h0m9.9 1.9h0m-155.1 1.9h0m149.6 0h0m4.4 0h0m-242 19h0m149.6 0h0m-152.9 1.9h0m147.4 0h0m2.2 0h0m6.6 0h0m-9.9 1.9h0m11 0h0m1.1 1.9h0m-162.8 3.9h0m59.4 0h0m145.2 0h0m-53.9 1.9h0m55 0h0m-150.7 1.9h0m2.2 0h0m2.2 0h0m92.4 0h0m55 0h0m-201.3 1.9h0m52.8 0h0"/><path stroke="#ff5c00" d="M404.3 248.2h0m165 26.7h0m-74.8 15.2h0m145.2 0h0m2.2 0h0m-141.9 1.9h0m147.4 0h0m-157.3 1.9h0m8.8 0h0m149.6 0h0m-150.7 1.9h0m149.6 0h0m-152.9 1.9h0m2.2 0h0m147.4 0h0m-89.1 21h0m-152.9 1.9h0m6.6 0h0m140.8 0h0m-1.1 1.9h0m-137.5 1.9h0m136.4 0h0m-147.4 3.8h0m202.4 0h0m-148.5 1.9h0m-49.5 1.9h0m200.2 0h0m-35.2 26.7h0m-1.1 1.9h0m-75.9 13.3h0m151.8 0h0m-5.5 2h0m6.6 0h0m2.2 0h0m-157.3 1.9h0m1.1 1.9h0m-1.1 1.9h0m2.2 0h0m147.4 0h0m6.6 0h0m-239.8 22.8h0m147.4 0h0m-152.9 1.9h0m8.8 0h0m139.7 1.9h0m-150.7 1.9h0m160.6 0h0m-159.5 2h0m11 0h0m44 0h0m149.6 0h0m-194.7 1.9h0m46.2 0h0m103.4 0h0m46.2 0h0m-203.5 1.9h0m6.6 0h0m193.6 0h0m-196.9 1.9h0m198 0h0"/><path stroke="#ff4400" d="M492.3 290.1h0m4.4 0h0m147.4 0h0m2.2 0h0m-155.1 1.9h0m149.6 0h0m-1.1 1.9h0m6.6 0h0m-155.1 1.9h0m2.2 0h0m-1.1 1.9h0m59.4 22.9h0m4.4 0h0m-146.3 1.9h0m-9.9 1.9h0m149.6 0h0m-139.7 1.9h0m138.6 0h0m11 0h0m-1.1 1.9h0m-157.3 1.9h0m2.2 0h0m147.4 0h0m-56.1 43.8h0m-1.1 2h0m4.4 0h0m143 0h0m-141.9 1.9h0m140.8 0h0m6.6 0h0m2.2 0h0m-150.7 1.9h0m-1.1 1.9h0m2.2 0h0m143 0h0m2.2 0h0m-148.5 1.9h0m60.5 20.9h0m2.2 3.8h0m-9.9 1.9h0m8.8 3.9h0m-150.7 1.9h0m149.6 0h0"/><path stroke="#ff2d00" d="M493.4 292h0m2.2 0h0m2.2 0h0m-1.1 1.9h0m-1.1 1.9h0m145.2 0h0m2.2 0h0m-238.7 24.8h0m149.6 0h0m-152.9 1.9h0m149.6 0h0m6.6 0h0m1.1 1.9h0m-157.3 1.9h0m7.7 1.9h0m140.8 0h0m-144.1 1.9h0m151.8 0h0m85.8 45.8h0m-150.7 1.9h0m149.6 0h0m-148.5 1.9h0m149.6 0h0m2.2 0h0m2.2 0h0m-152.9 1.9h0m-90.2 22.8h0m146.3 1.9h0m4.4 0h0m2.2 0h0m-157.3 1.9h0m9.9 1.9h0m139.7 2h0m8.8 0h0m-157.3 1.9h0m149.6 0h0m1.1 1.9h0m2.2 0h0"/><path stroke="#ff1500" d="M643 292h0m2.2 0h0m-152.9 1.9h0m149.6 0h0m3.3 1.9h0m-238.7 24.8h0m1.1 1.9h0m-5.5 1.9h0m6.6 0h0m143 0h0m5.5 1.9h0m-149.6 3.8h0m147.4 0h0m-59.4 45.8h0m1.1 1.9h0m147.4 0h0m-3.3 1.9h0m-237.6 26.6h0m2.2 0h0m2.2 0h0m-1.1 1.9h0m2.2 0h0m143 0h0m4.4 0h0m-155.1 1.9h0m156.2 0h0m-148.5 2h0m143 0h0m-147.4 3.8h0"/><path stroke="#e50000" d="M494.5 293.9h0m149.6 0h0m-240.9 28.6h0m2.2 0h0m147.4 0h0m-149.6 3.8h0m2.2 0h0m2.2 0h0m143 0h0m4.4 0h0m-152.9 1.9h0m2.2 0h0m2.2 0h0m145.2 0h0m4.4 0h0m-3.3 1.9h0m-58.3 47.7h0m1.1 1.9h0m57.2 26.6h0m-150.7 1.9h0m151.8 0h0m-150.7 1.9h0m4.4 0h0m143 0h0m-146.3 2h0m-1.1 1.9h0m2.2 0h0m2.2 0h0m147.4 0h0"/><path stroke="#c80000" d="M555 322.5h0m-150.7 1.9h0m2.2 0h0m149.6 0h0m-3.3 1.9h0m2.2 83.8h0m-152.9 2h0m151.8 0h0m2.2 0h0m-3.3 1.9h0"/><path stroke="#ab0000" d="M553.9 328.2h0m-149.6 80h0m1.1 1.9h0m147.4 0h0m-146.3 2h0"/><path stroke="#8e0000" d="M553.9 324.4h0"/></g><defs><pattern id="patd" patternUnits="userSpaceOnUse" x="382.300" y="248.200" width="2.2000" height="3.8105"><circle cx="0.000" cy="0.000" r="1.15" fill="url(#shd)"/><circle cx="2.200" cy="0.000" r="1.15" fill="url(#shd)"/><circle cx="1.100" cy="1.905" r="1.15" fill="url(#shd)"/><circle cx="0.000" cy="3.811" r="1.15" fill="url(#shd)"/><circle cx="2.200" cy="3.811" r="1.15" fill="url(#shd)"/></pattern></defs><rect x="381.3" y="246.2" width="299.3" height="178.5" fill="url(#patd)"/><rect x="381.3" y="248.2" width="299.3" height="174.5" fill="#fff" opacity="0.08"/></g><rect x="381.3" y="249.2" width="299.3" height="172.5" fill="none" stroke="#222" stroke-width="1.3"/><rect x="381.3" y="249.2" width="52.099999999999966" height="17.30000000000001" fill="#fff"/><text x="389.7" y="261.4" font-family="Liberation Serif" font-weight="bold" font-size="10" fill="#111" textLength="36.2" lengthAdjust="spacingAndGlyphs">Layer D</text><defs><linearGradient id="cbd" x1="0" y1="0" x2="0" y2="1"><stop offset="0.00" stop-color="#800000"/><stop offset="0.05" stop-color="#b90000"/><stop offset="0.10" stop-color="#f30900"/><stop offset="0.15" stop-color="#ff3900"/><stop offset="0.20" stop-color="#ff6800"/><stop offset="0.25" stop-color="#ff9700"/><stop offset="0.30" stop-color="#ffc600"/><stop offset="0.35" stop-color="#f7f600"/><stop offset="0.40" stop-color="#ceff29"/><stop offset="0.45" stop-color="#a5ff52"/><stop offset="0.50" stop-color="#7bff7b"/><stop offset="0.55" stop-color="#52ffa5"/><stop offset="0.60" stop-color="#29ffce"/><stop offset="0.65" stop-color="#00e5f7"/><stop offset="0.70" stop-color="#00b3ff"/><stop offset="0.75" stop-color="#0080ff"/><stop offset="0.80" stop-color="#004cff"/><stop offset="0.85" stop-color="#001aff"/><stop offset="0.90" stop-color="#0000f3"/><stop offset="0.95" stop-color="#0000b9"/><stop offset="1.00" stop-color="#000080"/></linearGradient></defs><rect x="672.2" y="328.3" width="8.399999999999977" height="93.39999999999998" fill="url(#cbd)"/><rect x="642" y="326.2" width="30.200000000000045" height="13.699999999999989" fill="#fff"/><text x="644.4" y="336.7" font-family="Liberation Serif" font-size="10" fill="#2b2b6b">0.010 e</text><rect x="642.8" y="407" width="29.40000000000009" height="14.699999999999989" fill="#fff"/><text x="644.6" y="418.2" font-family="Liberation Serif" font-size="10" fill="#2b2b6b">0.005 e</text><g transform="translate(373.2 408.2) rotate(-90)" font-family="Liberation Serif" fill="#333"><text x="0.00" y="0" font-size="13.7">[10</text><text x="18.26" y="0" font-size="13.7">1</text><text x="25.11" y="0" font-size="13.7">0]</text><text x="36.52" y="3.56" font-size="8.2" font-style="italic">Al2O3</text><text x="60.43" y="0" font-size="13.7">||</text><text x="66.92" y="0" font-size="13.7">[1</text><text x="78.33" y="0" font-size="13.7">1</text><text x="85.18" y="0" font-size="13.7">0]</text><text x="96.59" y="3.56" font-size="8.2" font-style="italic">Al</text><path d="M19.50 -10.69H23.88M79.56 -10.69H83.95" stroke="#333" stroke-width="0.7"/></g><g transform="translate(488.2 439)" font-family="Liberation Serif" fill="#333"><text x="0.00" y="0" font-size="13.7">[</text><text x="4.56" y="0" font-size="13.7">1</text><text x="11.41" y="0" font-size="13.7">2</text><text x="18.26" y="0" font-size="13.7">1</text><text x="25.11" y="0" font-size="13.7">0]</text><text x="36.52" y="3.56" font-size="8.2" font-style="italic">Al2O3</text><text x="60.93" y="0" font-size="13.7">||</text><text x="67.42" y="0" font-size="13.7">[</text><text x="71.98" y="0" font-size="13.7">1</text><text x="78.83" y="0" font-size="13.7">1</text><text x="85.68" y="0" font-size="13.7">2]</text><text x="97.09" y="3.56" font-size="8.2" font-style="italic">Al</text><path d="M5.80 -10.69H10.18M19.50 -10.69H23.88M73.21 -10.69H77.60M80.06 -10.69H84.45" stroke="#333" stroke-width="0.7"/></g><path d="M369.1 299V285.4" stroke="#111" stroke-width="1"/><path d="M369.1 281.4l-2.3 6h4.6z" fill="#111"/><path d="M599.2 433.9H619" stroke="#111" stroke-width="1"/><path d="M623 433.9l-6 -2.3v4.6z" fill="#111"/>
<text x="360.5" y="18.8" font-family="Liberation Serif" font-size="24" fill="#111">b</text>
<text x="2.8" y="253.6" font-family="Liberation Serif" font-size="23.5" fill="#111">c</text>
<text x="361.5" y="253.4" font-family="Liberation Serif" font-size="24" fill="#111">d</text>
</svg>
</body></html>
